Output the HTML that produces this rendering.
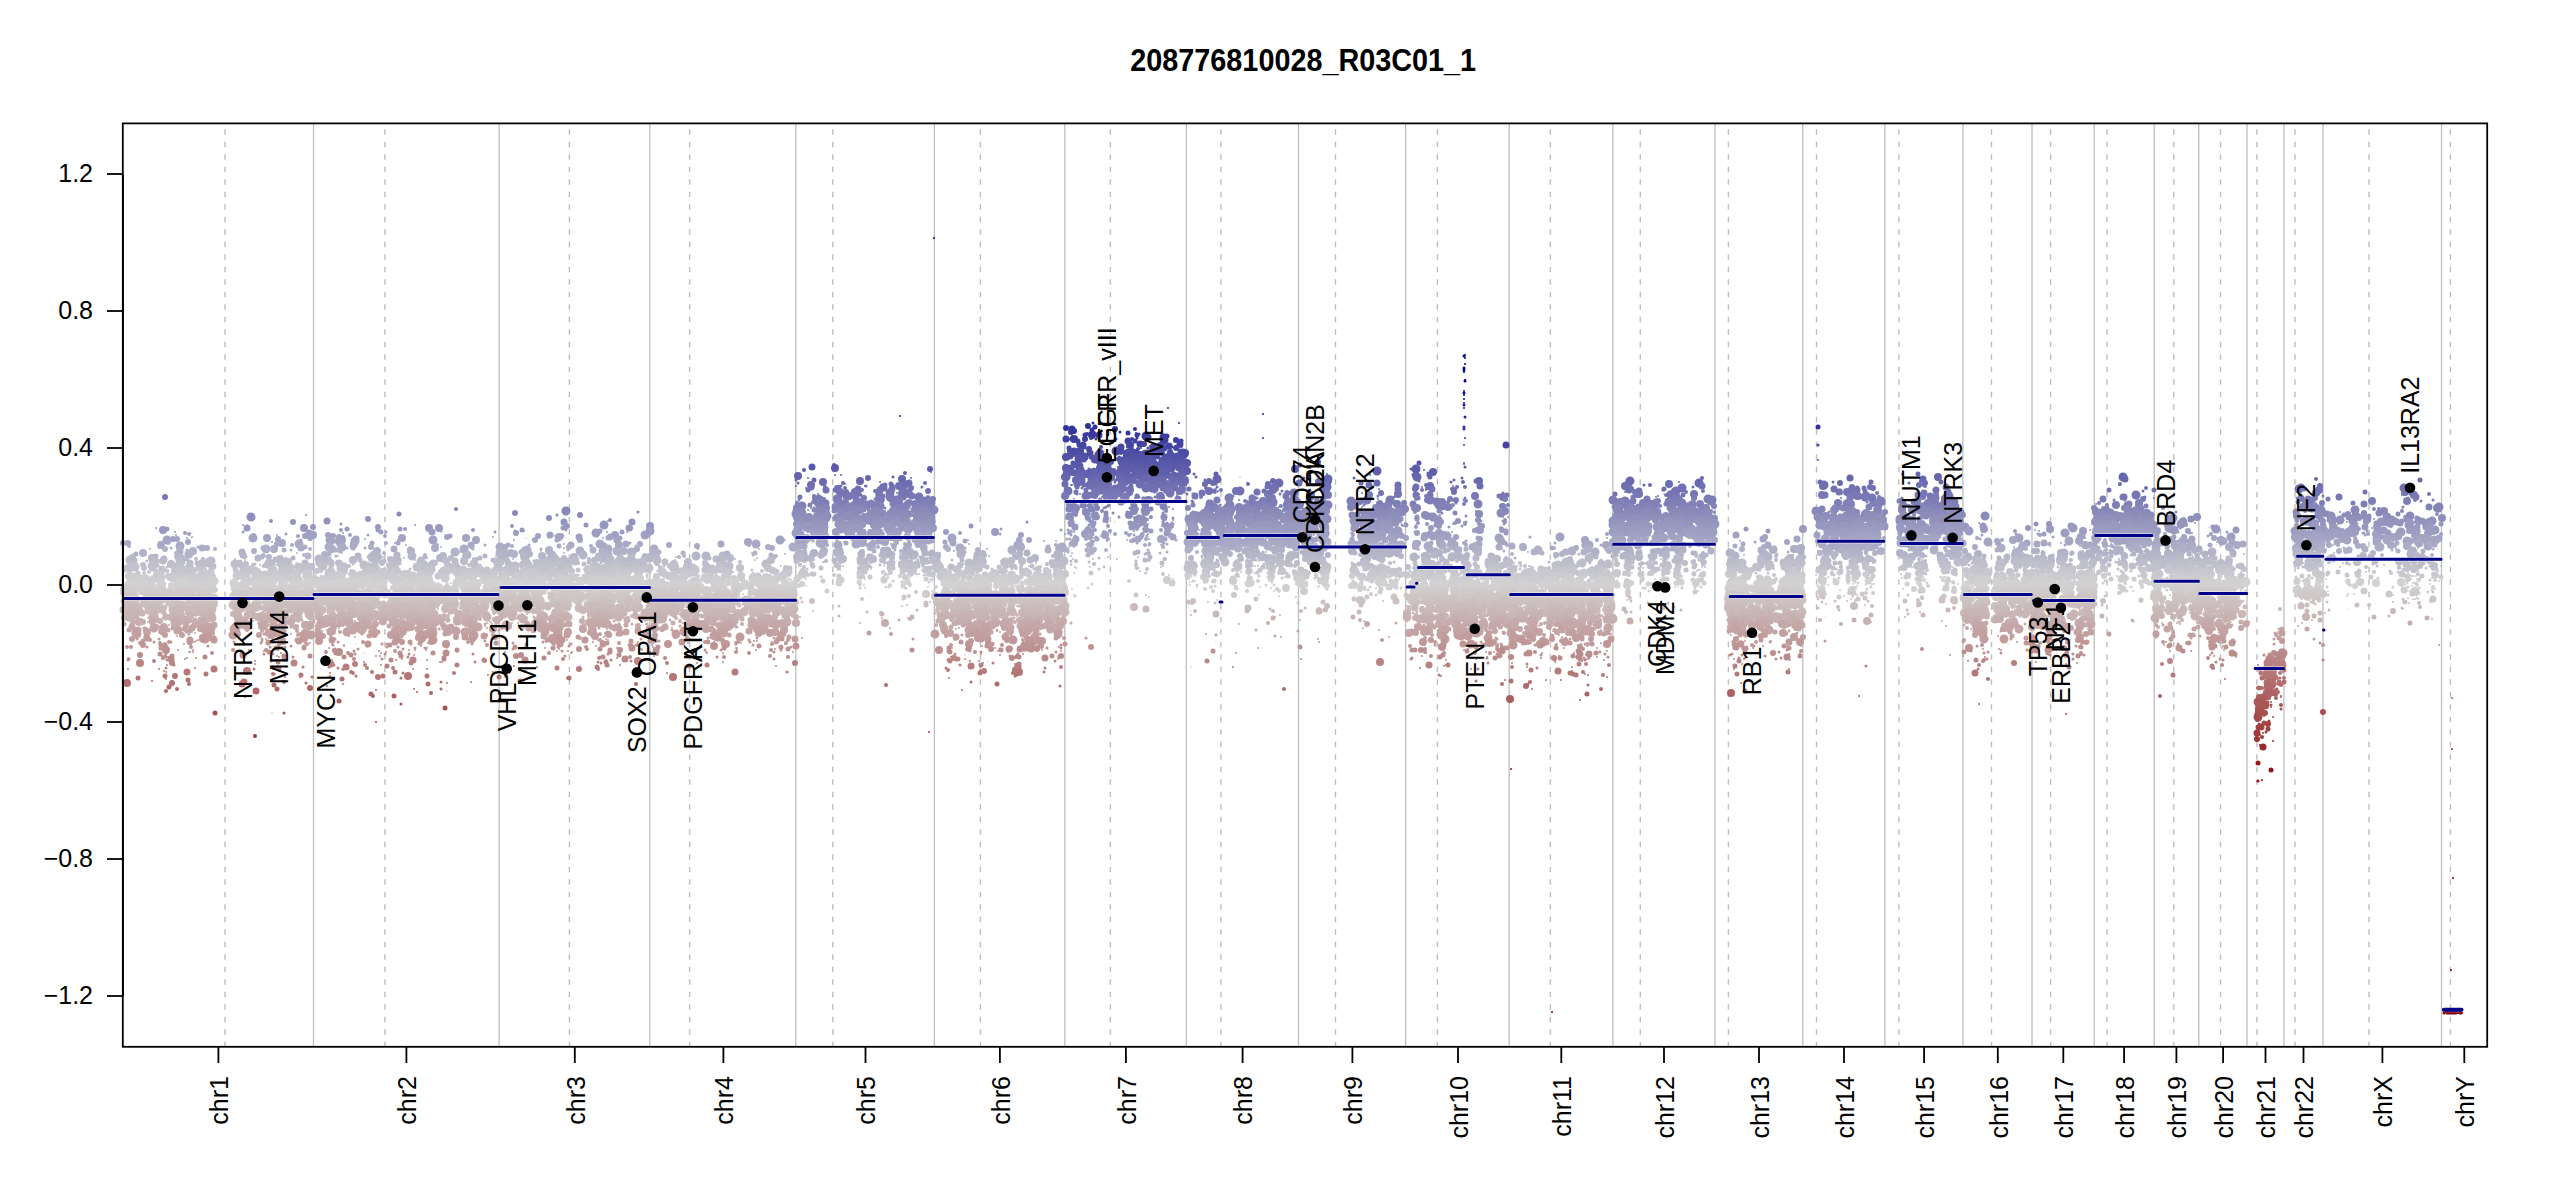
<!DOCTYPE html><html><head><meta charset="utf-8"><style>html,body{margin:0;padding:0;background:#fff;overflow:hidden}svg{display:block}text{font-family:"Liberation Sans",sans-serif}</style></head><body><svg width="2550" height="1200" viewBox="0 0 2550 1200"><g stroke="#bebebe" stroke-width="1.3" fill="none"><path d="M313.5 123V1047"/><path d="M499.1 123V1047"/><path d="M649.8 123V1047"/><path d="M795.8 123V1047"/><path d="M934.4 123V1047"/><path d="M1064.8 123V1047"/><path d="M1186.3 123V1047"/><path d="M1298.5 123V1047"/><path d="M1405.6 123V1047"/><path d="M1509.2 123V1047"/><path d="M1612.9 123V1047"/><path d="M1715.0 123V1047"/><path d="M1802.8 123V1047"/><path d="M1884.9 123V1047"/><path d="M1962.9 123V1047"/><path d="M2032.0 123V1047"/><path d="M2094.2 123V1047"/><path d="M2154.2 123V1047"/><path d="M2198.8 123V1047"/><path d="M2247.0 123V1047"/><path d="M2283.9 123V1047"/><path d="M2323.0 123V1047"/><path d="M2441.5 123V1047"/></g><g stroke="#bebebe" stroke-width="1.4" fill="none" stroke-dasharray="5.5 7" stroke-dashoffset="6.2"><path d="M225.0 123V1047"/><path d="M384.9 123V1047"/><path d="M569.4 123V1047"/><path d="M689.6 123V1047"/><path d="M832.8 123V1047"/><path d="M980.4 123V1047"/><path d="M1110.4 123V1047"/><path d="M1220.9 123V1047"/><path d="M1335.5 123V1047"/><path d="M1437.4 123V1047"/><path d="M1550.4 123V1047"/><path d="M1640.3 123V1047"/><path d="M1728.4 123V1047"/><path d="M1816.5 123V1047"/><path d="M1898.9 123V1047"/><path d="M1991.5 123V1047"/><path d="M2050.6 123V1047"/><path d="M2107.0 123V1047"/><path d="M2173.8 123V1047"/><path d="M2220.5 123V1047"/><path d="M2256.9 123V1047"/><path d="M2295.0 123V1047"/><path d="M2369.0 123V1047"/><path d="M2450.4 123V1047"/></g><g fill="none" stroke-linecap="round"><path stroke="#00008b" stroke-width="2" d="M934 238h0"/><path stroke="#00008b" stroke-width="2" d="M1465 355h0"/><path stroke="#00008b" stroke-width="3" d="M1464 356h0"/><path stroke="#00008b" stroke-width="2" d="M1465 358h0"/><path stroke="#00008b" stroke-width="2" d="M1465 364h0"/><path stroke="#00008b" stroke-width="3" d="M1464 368h0"/><path stroke="#00008b" stroke-width="2" d="M1464 372h0"/><path stroke="#00008b" stroke-width="3" d="M1464 370h0"/><path stroke="#00008b" stroke-width="2" d="M1465 380h0"/><path stroke="#00008b" stroke-width="3" d="M1465 381h0"/><path stroke="#0c0c8f" stroke-width="2" d="M1464 391h0m0 2h0"/><path stroke="#0c0c8f" stroke-width="3" d="M1464 393h0"/><path stroke="#0f0f90" stroke-width="2" d="M1464 395h0"/><path stroke="#121291" stroke-width="2" d="M1464 399h0"/><path stroke="#191993" stroke-width="2" d="M1464 403h0"/><path stroke="#1c1c94" stroke-width="3" d="M1464 405h0"/><path stroke="#1f1f96" stroke-width="2" d="M1168 408h0m296 0h0"/><path stroke="#222297" stroke-width="2" d="M1263 414h0"/><path stroke="#252598" stroke-width="2" d="M900 416h0"/><path stroke="#252598" stroke-width="3" d="M1465 417h0"/><path stroke="#2b2b9a" stroke-width="2" d="M1179 423h0"/><path stroke="#2b2b9a" stroke-width="3" d="M1093 423h0"/><path stroke="#31319c" stroke-width="3" d="M1072 429h0m392 -2h0m0 2h0"/><path stroke="#31319c" stroke-width="4" d="M1135 429h0"/><path stroke="#31319c" stroke-width="5" d="M1095 427h0m723 0h0"/><path stroke="#31319c" stroke-width="6" d="M1066 428h0m22 -2h0m27 3h0"/><path stroke="#34349d" stroke-width="3" d="M1071 431h0"/><path stroke="#34349d" stroke-width="5" d="M1092 430h0"/><path stroke="#34349d" stroke-width="6" d="M1071 432h0m3 -1h0"/><path stroke="#34349d" stroke-width="7" d="M1072 429h0"/><path stroke="#37379e" stroke-width="2" d="M1136 433h0"/><path stroke="#37379e" stroke-width="3" d="M1120 432h0m19 2h0m26 1h0"/><path stroke="#37379e" stroke-width="4" d="M1087 434h0m7 -1h0m53 2h0"/><path stroke="#37379e" stroke-width="5" d="M1128 433h0"/><path stroke="#37379e" stroke-width="8" d="M1092 435h0"/><path stroke="#3b3b9f" stroke-width="2" d="M1465 438h0"/><path stroke="#3b3b9f" stroke-width="3" d="M1072 437h0m65 1h0m12 -2h0"/><path stroke="#3b3b9f" stroke-width="4" d="M1073 437h0m75 0h0"/><path stroke="#3b3b9f" stroke-width="5" d="M1085 435h0m52 0h0m12 2h0m18 -1h0"/><path stroke="#3b3b9f" stroke-width="7" d="M1099 435h0m64 2h0"/><path stroke="#3b3b9f" stroke-width="9" d="M1146 436h0"/><path stroke="#3e3ea0" stroke-width="2" d="M1136 440h0m8 -2h0m119 0h0"/><path stroke="#3e3ea0" stroke-width="3" d="M1071 439h0m3 1h0m22 -1h0m20 0h0m18 1h0"/><path stroke="#3e3ea0" stroke-width="4" d="M1071 439h0m20 -1h0m41 1h0m17 0h0"/><path stroke="#3e3ea0" stroke-width="5" d="M1078 441h0"/><path stroke="#3e3ea0" stroke-width="6" d="M1085 439h0m91 1h0"/><path stroke="#3e3ea0" stroke-width="7" d="M1066 439h0m81 -1h0"/><path stroke="#3e3ea0" stroke-width="8" d="M1074 439h0"/><path stroke="#3e3ea0" stroke-width="9" d="M1164 440h0"/><path stroke="#4141a1" stroke-width="2" d="M1077 443h0m2 1h0m102 -1h0"/><path stroke="#4141a1" stroke-width="5" d="M1135 441h0m46 0h0"/><path stroke="#4141a1" stroke-width="7" d="M1128 441h0m12 3h0"/><path stroke="#4444a2" stroke-width="2" d="M1150 446h0m30 0h0m284 -1h0"/><path stroke="#4444a2" stroke-width="3" d="M1079 446h0m93 1h0m646 -2h0"/><path stroke="#4444a2" stroke-width="4" d="M1101 447h0m62 -3h0m18 2h0"/><path stroke="#4444a2" stroke-width="5" d="M1079 445h0m98 2h0"/><path stroke="#4444a2" stroke-width="6" d="M1142 444h0m2 0h0m16 1h0m1 0h0"/><path stroke="#4444a2" stroke-width="7" d="M1083 445h0m70 2h0m16 -1h0m11 -2h0m326 1h0"/><path stroke="#4444a2" stroke-width="8" d="M1130 445h0"/><path stroke="#4747a3" stroke-width="2" d="M1080 449h0m47 -2h0m4 0h0m8 2h0m2 -1h0m14 1h0m16 1h0"/><path stroke="#4747a3" stroke-width="3" d="M1148 448h0m5 0h0m5 -1h0"/><path stroke="#4747a3" stroke-width="4" d="M1132 449h0m6 0h0"/><path stroke="#4747a3" stroke-width="5" d="M1069 448h0m15 -1h0m77 3h0"/><path stroke="#4747a3" stroke-width="6" d="M1089 449h0m66 1h0m3 -1h0m18 -1h0"/><path stroke="#4747a3" stroke-width="7" d="M1121 447h0m39 1h0m4 0h0"/><path stroke="#4747a3" stroke-width="9" d="M1154 449h0"/><path stroke="#4a4aa4" stroke-width="2" d="M1083 452h0"/><path stroke="#4a4aa4" stroke-width="3" d="M1089 452h0m29 -2h0m0 2h0m2 0h0m43 0h0m8 1h0"/><path stroke="#4a4aa4" stroke-width="4" d="M1071 453h0m7 -3h0m21 1h0m70 2h0"/><path stroke="#4a4aa4" stroke-width="5" d="M1118 452h0m1 0h0m61 -1h0"/><path stroke="#4a4aa4" stroke-width="6" d="M1070 451h0m66 2h0m24 -2h0m10 1h0"/><path stroke="#4a4aa4" stroke-width="7" d="M1074 451h0m16 2h0m31 -2h0m7 1h0"/><path stroke="#4a4aa4" stroke-width="8" d="M1080 451h0m55 2h0"/><path stroke="#4a4aa4" stroke-width="9" d="M1116 451h0m67 2h0"/><path stroke="#4d4da5" stroke-width="1" d="M1150 455h0"/><path stroke="#4d4da5" stroke-width="2" d="M1065 455h0m14 -1h0m1 0h0m2 2h0m39 -2h0m29 1h0"/><path stroke="#4d4da5" stroke-width="3" d="M1068 455h0m62 0h0m8 -1h0m2 1h0m11 -2h0"/><path stroke="#4d4da5" stroke-width="4" d="M1069 454h0m31 2h0m25 -2h0m23 2h0"/><path stroke="#4d4da5" stroke-width="5" d="M1156 455h0"/><path stroke="#4d4da5" stroke-width="6" d="M1073 454h0m29 2h0m38 -1h0m22 -2h0m8 1h0m1 0h0"/><path stroke="#4d4da5" stroke-width="7" d="M1100 454h0m31 -1h0m15 0h0m35 3h0"/><path stroke="#4d4da5" stroke-width="8" d="M1078 454h0m1 2h0m20 -1h0m1 -2h0m27 1h0m6 2h0m7 -1h0m5 -1h0m6 -1h0m34 0h0"/><path stroke="#4d4da5" stroke-width="9" d="M1099 455h0m56 -1h0m29 0h0"/><path stroke="#5050a6" stroke-width="1" d="M1068 457h0"/><path stroke="#5050a6" stroke-width="2" d="M1120 457h0m23 1h0m28 0h0"/><path stroke="#5050a6" stroke-width="3" d="M1092 458h0m27 -1h0m19 1h0m26 1h0m18 -1h0"/><path stroke="#5050a6" stroke-width="4" d="M1080 457h0m38 2h0m6 0h0m1 -3h0m5 1h0m8 2h0m32 -1h0"/><path stroke="#5050a6" stroke-width="5" d="M1091 457h0m9 0h0m2 0h0m23 1h0m5 0h0m17 -1h0m4 0h0m7 0h0m21 1h0"/><path stroke="#5050a6" stroke-width="6" d="M1129 458h0m8 -1h0"/><path stroke="#5050a6" stroke-width="7" d="M1070 456h0m64 0h0m31 1h0m11 0h0"/><path stroke="#5050a6" stroke-width="8" d="M1066 457h0m18 0h0m50 0h0m6 0h0m2 0h0"/><path stroke="#5050a6" stroke-width="9" d="M1083 458h0m1 -1h0m57 0h0m11 1h0m18 -2h0m7 1h0"/><path stroke="#5353a7" stroke-width="1" d="M1086 462h0"/><path stroke="#5353a7" stroke-width="2" d="M1103 460h0m25 0h0m15 -1h0m25 2h0m3 -1h0m0 1h0m4 1h0m8 -1h0m635 -1h0"/><path stroke="#5353a7" stroke-width="3" d="M1101 460h0m1 0h0m22 0h0m18 0h0m10 2h0m35 -1h0"/><path stroke="#5353a7" stroke-width="4" d="M1098 461h0m8 0h0m27 0h0m3 -1h0m10 -1h0m2 3h0"/><path stroke="#5353a7" stroke-width="5" d="M1078 460h0m25 1h0m17 1h0m8 -3h0m15 2h0m10 -1h0m15 1h0"/><path stroke="#5353a7" stroke-width="6" d="M1078 462h0m1 -2h0m32 2h0m58 -2h0m15 1h0"/><path stroke="#5353a7" stroke-width="7" d="M1136 460h0m4 1h0m7 0h0"/><path stroke="#5353a7" stroke-width="8" d="M1100 460h0m68 1h0"/><path stroke="#5353a7" stroke-width="9" d="M1079 459h0m16 0h0m28 2h0m25 -2h0m15 2h0m7 1h0"/><path stroke="#5656a8" stroke-width="1" d="M1099 465h0m60 0h0"/><path stroke="#5656a8" stroke-width="2" d="M1097 463h0m30 2h0m1 -2h0m4 2h0m19 -3h0m2 1h0m10 0h0m5 1h0m12 -2h0m1 1h0m1 1h0m3 1h0m279 -2h0m0 1h0"/><path stroke="#5656a8" stroke-width="3" d="M1139 463h0m5 0h0m19 1h0m17 0h0m190 0h0"/><path stroke="#5656a8" stroke-width="4" d="M1125 465h0m22 -3h0m33 1h0m0 2h0"/><path stroke="#5656a8" stroke-width="5" d="M1073 463h0m48 1h0m10 -1h0m25 1h0m9 -1h0m4 0h0m0 1h0m6 -1h0m7 1h0m118 1h0m119 -2h0"/><path stroke="#5656a8" stroke-width="6" d="M1077 464h0m54 -1h0m1 1h0m37 -1h0m10 0h0m139 -1h0"/><path stroke="#5656a8" stroke-width="7" d="M1132 462h0m9 0h0m15 3h0m9 -2h0m1 0h0m11 0h0m2 0h0m1 1h0"/><path stroke="#5656a8" stroke-width="8" d="M1101 464h0m25 -1h0m5 0h0m19 -1h0m13 2h0m6 -1h0m16 2h0m2 -2h0"/><path stroke="#5656a8" stroke-width="9" d="M1107 465h0m42 0h0m3 0h0m1 -2h0m9 1h0"/><path stroke="#5959a9" stroke-width="1" d="M1126 466h0m0 1h0"/><path stroke="#5959a9" stroke-width="2" d="M1101 465h0m17 2h0m16 -1h0m3 0h0m12 2h0m8 -2h0m3 0h0m4 0h0m2 2h0m9 -1h0m6 -1h0m2 -1h0"/><path stroke="#5959a9" stroke-width="3" d="M1137 466h0m5 1h0m10 -1h0m12 0h0m3 0h0m2 0h0m296 1h0"/><path stroke="#5959a9" stroke-width="4" d="M834 465h0m240 1h0m33 0h0m13 2h0m4 -2h0m7 0h0m17 1h0m2 -1h0m13 1h0"/><path stroke="#5959a9" stroke-width="5" d="M1074 466h0m6 1h0m65 -1h0m36 -1h0"/><path stroke="#5959a9" stroke-width="6" d="M1076 465h0m24 0h0m2 0h0m41 1h0m8 1h0m16 -1h0m4 -1h0"/><path stroke="#5959a9" stroke-width="7" d="M812 467h0m268 -1h0m43 0h0m15 0h0"/><path stroke="#5959a9" stroke-width="8" d="M1066 468h0m69 -1h0m35 -2h0m0 2h0m2 0h0m7 -1h0"/><path stroke="#5959a9" stroke-width="9" d="M1101 468h0m23 -3h0m27 1h0m12 -1h0m8 3h0"/><path stroke="#5c5cab" stroke-width="1" d="M1184 469h0"/><path stroke="#5c5cab" stroke-width="2" d="M1093 469h0m2 1h0m6 -1h0m14 1h0m14 -2h0m20 0h0m29 1h0m246 1h0"/><path stroke="#5c5cab" stroke-width="3" d="M1080 469h0m9 0h0m5 0h0m27 1h0m2 -1h0m6 1h0m2 -2h0m6 0h0m2 1h0m13 1h0m8 -1h0m2 1h0m1 0h0m248 -1h0"/><path stroke="#5c5cab" stroke-width="4" d="M804 470h0m265 -2h0m33 1h0m44 0h0m18 1h0"/><path stroke="#5c5cab" stroke-width="5" d="M1065 468h0m58 2h0m5 0h0m12 0h0m11 -1h0m2 0h0"/><path stroke="#5c5cab" stroke-width="6" d="M930 469h0m179 0h0m42 2h0"/><path stroke="#5c5cab" stroke-width="7" d="M1071 468h0m31 2h0m0 1h0m19 0h0m5 -1h0m25 -1h0m18 0h0m10 -1h0m5 2h0"/><path stroke="#5c5cab" stroke-width="8" d="M835 468h0m265 0h0m26 2h0m57 1h0m2 -3h0m2 3h0m108 -2h0"/><path stroke="#5c5cab" stroke-width="9" d="M1080 470h0m27 0h0m14 1h0m2 -3h0m8 0h0m285 1h0"/><path stroke="#5f5fac" stroke-width="1" d="M1120 474h0m67 -3h0"/><path stroke="#5f5fac" stroke-width="2" d="M931 472h0m135 0h0m8 1h0m47 0h0m18 -1h0m12 1h0m22 -1h0m10 2h0"/><path stroke="#5f5fac" stroke-width="3" d="M1065 474h0m12 -2h0m4 -1h0m13 2h0m50 -1h0m5 -1h0m2 2h0m2 -1h0m41 2h0m234 -1h0"/><path stroke="#5f5fac" stroke-width="4" d="M905 473h0m164 0h0m40 0h0m29 -2h0m11 1h0m4 0h0m33 0h0"/><path stroke="#5f5fac" stroke-width="5" d="M1070 472h0m1 1h0m29 -2h0m0 1h0m23 -1h0m14 1h0m24 0h0m21 0h0m34 2h0"/><path stroke="#5f5fac" stroke-width="6" d="M1073 473h0m16 -1h0m13 -1h0m38 2h0m27 1h0"/><path stroke="#5f5fac" stroke-width="7" d="M1082 472h0m10 0h0m28 1h0"/><path stroke="#5f5fac" stroke-width="8" d="M1067 472h0m10 1h0m10 1h0m5 0h0m3 -2h0m18 0h0m26 0h0m7 0h0m7 -1h0m280 1h0"/><path stroke="#5f5fac" stroke-width="9" d="M1126 472h0m10 2h0m8 -2h0m16 0h0m4 1h0m1 -1h0m212 -1h0"/><path stroke="#6363ad" stroke-width="1" d="M1094 477h0m76 -2h0"/><path stroke="#6363ad" stroke-width="2" d="M798 476h0m37 -1h0m6 0h0m230 0h0m13 0h0m39 -1h0m1 3h0m2 -2h0m4 2h0m21 -2h0m20 0h0m13 0h0m0 1h0m143 -2h0m43 1h0m532 -1h0"/><path stroke="#6363ad" stroke-width="3" d="M893 477h0m172 -3h0m0 1h0m25 1h0m8 -1h0m22 1h0m17 -1h0m3 1h0m9 -1h0m2 1h0m1 -2h0m6 2h0m19 -2h0m0 1h0m141 1h0"/><path stroke="#6363ad" stroke-width="4" d="M1077 475h0m23 -1h0m3 1h0m14 0h0m6 0h0m20 1h0m20 1h0"/><path stroke="#6363ad" stroke-width="5" d="M1080 474h0m14 3h0m9 -1h0m21 -1h0m21 1h0m4 -1h0m4 1h0m5 0h0m10 0h0m11 0h0m235 -1h0m15 0h0m1 2h0m488 -3h0"/><path stroke="#6363ad" stroke-width="6" d="M1079 477h0m12 -1h0m1 0h0m28 0h0m10 0h0m8 0h0m20 -1h0m7 1h0m5 0h0"/><path stroke="#6363ad" stroke-width="7" d="M1107 474h0m17 3h0m17 0h0m14 -1h0m19 -1h0m4 2h0"/><path stroke="#6363ad" stroke-width="8" d="M798 476h0m282 0h0m12 -1h0m56 2h0"/><path stroke="#6363ad" stroke-width="9" d="M1079 474h0m2 1h0m12 0h0m3 -1h0m0 1h0m5 0h0m38 0h0m43 -1h0"/><path stroke="#6666ae" stroke-width="1" d="M1079 480h0m161 -3h0"/><path stroke="#6666ae" stroke-width="2" d="M808 478h0m97 0h0m6 0h0m166 -1h0m24 1h0m23 0h0m8 0h0m20 1h0m10 -1h0m3 -1h0m108 3h0"/><path stroke="#6666ae" stroke-width="3" d="M1081 479h0m14 -1h0m11 2h0m4 -3h0m19 1h0m5 2h0m6 -2h0m28 -1h0m10 3h0m4 -2h0m5 0h0m9 -1h0m108 1h0m50 0h0m65 -1h0m35 3h0m8 -2h0"/><path stroke="#6666ae" stroke-width="4" d="M1066 478h0m40 1h0m15 1h0m1 -1h0m1 -2h0m179 3h0m400 -2h0m614 1h0"/><path stroke="#6666ae" stroke-width="5" d="M814 480h0m264 -1h0m1 -2h0m21 2h0m18 0h0"/><path stroke="#6666ae" stroke-width="6" d="M868 478h0m232 2h0m2 -1h0m18 -2h0m7 2h0m16 0h0m36 0h0"/><path stroke="#6666ae" stroke-width="7" d="M1091 479h0m52 -1h0m4 1h0m14 0h0m11 0h0m155 0h0m523 -1h0m73 1h0m202 0h0"/><path stroke="#6666ae" stroke-width="8" d="M902 479h0m163 -2h0m29 2h0m16 -1h0m1 -1h0m10 1h0m27 0h0m5 0h0m27 0h0m758 -1h0"/><path stroke="#6666ae" stroke-width="9" d="M1066 477h0m15 1h0m42 1h0m21 -1h0m73 1h0m111 0h0m89 -2h0m706 0h0"/><path stroke="#6969af" stroke-width="1" d="M1247 482h0m118 0h0"/><path stroke="#6969af" stroke-width="2" d="M880 482h0m203 0h0m9 -1h0m30 2h0m6 0h0m17 -1h0m19 -1h0m15 -1h0m447 2h0m53 0h0"/><path stroke="#6969af" stroke-width="3" d="M796 480h0m66 1h0m219 -1h0m24 1h0m10 -1h0m0 1h0m0 1h0m22 1h0m3 -2h0m13 0h0m52 -1h0m96 2h0m118 -1h0m32 1h0m178 -2h0m0 2h0m204 0h0m76 1h0"/><path stroke="#6969af" stroke-width="4" d="M843 483h0m82 0h0m201 0h0m35 -1h0m4 1h0m6 -2h0m292 1h0m458 -1h0"/><path stroke="#6969af" stroke-width="5" d="M1126 482h0m23 -2h0m14 0h0m11 1h0m302 0h0m344 1h0m51 0h0m70 0h0m479 -2h0"/><path stroke="#6969af" stroke-width="6" d="M908 483h0m192 0h0m5 -1h0m16 -2h0m9 1h0m4 0h0m8 0h0m18 2h0m13 -2h0m8 1h0m28 -1h0m64 0h0m567 2h0"/><path stroke="#6969af" stroke-width="7" d="M1108 480h0m26 0h0m19 1h0m1 1h0m30 1h0m193 0h0"/><path stroke="#6969af" stroke-width="8" d="M823 482h0m37 -1h0m216 -1h0m23 3h0m1 -2h0m22 -1h0m29 0h0m2 1h0m5 -1h0m1 2h0m4 -1h0m22 0h0m134 1h0m9 -1h0m151 0h0"/><path stroke="#6969af" stroke-width="9" d="M1081 481h0m15 0h0m2 0h0m1 0h0m74 -1h0m457 1h0m69 2h0"/><path stroke="#6c6cb0" stroke-width="1" d="M1479 486h0"/><path stroke="#6c6cb0" stroke-width="2" d="M796 486h0m49 -2h0m20 2h0m206 -1h0m1 0h0m42 1h0m10 -2h0m1 0h0m16 0h0m25 0h0m8 0h0m29 1h0m422 0h0m494 0h0"/><path stroke="#6c6cb0" stroke-width="3" d="M798 483h0m13 2h0m268 0h0m11 -1h0m13 1h0m24 -1h0m31 1h0m27 0h0m22 -2h0m9 1h0m200 1h0m228 0h0m279 -1h0m0 1h0m22 1h0"/><path stroke="#6c6cb0" stroke-width="4" d="M901 483h0m9 2h0m182 -1h0m9 1h0m2 1h0m20 -2h0m15 0h0m25 -1h0m85 1h0m178 1h0m224 0h0m470 -1h0"/><path stroke="#6c6cb0" stroke-width="5" d="M882 486h0m3 -1h0m6 -1h0m193 1h0m16 -1h0m7 0h0m14 -1h0m10 3h0m46 -3h0m4 2h0m180 -2h0"/><path stroke="#6c6cb0" stroke-width="6" d="M1093 483h0m1 1h0m1 0h0m4 1h0m10 -1h0m50 0h0m2 0h0m9 2h0m35 -2h0m8 -1h0m55 1h0m651 1h0m6 -2h0m395 3h0"/><path stroke="#6c6cb0" stroke-width="7" d="M905 485h0m4 -2h0m156 1h0m12 0h0m18 1h0m3 0h0m49 1h0m3 -2h0m7 1h0m142 -2h0m70 2h0m29 0h0m82 1h0"/><path stroke="#6c6cb0" stroke-width="8" d="M811 485h0m280 0h0m31 -1h0m32 -1h0m12 1h0m161 2h0m103 0h0m239 -2h0"/><path stroke="#6c6cb0" stroke-width="9" d="M1090 485h0m10 0h0m40 -1h0m30 1h0m109 -2h0m545 2h0"/><path stroke="#6f6fb1" stroke-width="1" d="M1096 488h0m5 0h0m604 -1h0"/><path stroke="#6f6fb1" stroke-width="2" d="M806 488h0m96 -1h0m2 0h0m161 2h0m34 -1h0m7 0h0m56 -2h0m26 2h0m28 1h0m163 0h0m43 -2h0m31 -1h0m223 3h0m4 0h0m191 -2h0m74 1h0"/><path stroke="#6f6fb1" stroke-width="3" d="M841 486h0m25 0h0m56 1h0m160 1h0m22 -2h0m3 1h0m56 0h0m18 0h0m36 0h0m467 1h0m9 -1h0"/><path stroke="#6f6fb1" stroke-width="4" d="M825 487h0m14 0h0m6 1h0m38 1h0m10 -3h0m173 1h0m25 -1h0m62 1h0m21 0h0m32 1h0m221 0h0m3 0h0m27 -1h0m8 0h0m369 2h0m91 -3h0m221 2h0"/><path stroke="#6f6fb1" stroke-width="5" d="M1077 487h0m74 0h0m20 0h0m18 2h0m78 -2h0m60 0h0m530 1h0m7 0h0m440 1h0"/><path stroke="#6f6fb1" stroke-width="6" d="M837 488h0m65 -2h0m9 2h0m198 -1h0m13 0h0m7 2h0m496 -2h0m227 0h0m18 0h0m3 1h0"/><path stroke="#6f6fb1" stroke-width="7" d="M811 487h0m47 2h0m26 -1h0m8 1h0m202 -1h0m4 1h0m8 0h0m9 -1h0m5 -1h0m3 0h0m0 1h0m32 1h0m8 -1h0m6 -2h0m6 2h0m241 -1h0m286 -1h0m132 3h0m112 -2h0m355 0h0"/><path stroke="#6f6fb1" stroke-width="8" d="M899 486h0m200 2h0m21 -1h0m32 0h0m121 1h0m2 0h0m51 1h0m299 -3h0m198 0h0"/><path stroke="#6f6fb1" stroke-width="9" d="M1146 488h0m6 0h0m175 -1h0m302 2h0m53 -1h0m722 0h0"/><path stroke="#7272b2" stroke-width="1" d="M1933 490h0"/><path stroke="#7272b2" stroke-width="2" d="M846 491h0m47 0h0m192 -1h0m127 1h0m6 0h0m19 -1h0m189 0h0m199 2h0m233 0h0m91 -1h0m460 -1h0"/><path stroke="#7272b2" stroke-width="3" d="M881 490h0m48 0h0m138 0h0m40 1h0m46 0h0m2 1h0m29 0h0m52 0h0m46 -1h0m381 -1h0m176 1h0m97 -2h0m207 2h0"/><path stroke="#7272b2" stroke-width="4" d="M862 490h0m13 1h0m195 0h0m32 1h0m119 -2h0m201 0h0m30 -1h0m225 0h0m26 2h0m150 -2h0m555 1h0"/><path stroke="#7272b2" stroke-width="5" d="M808 490h0m27 0h0m67 2h0m174 0h0m10 -2h0m15 -1h0m20 1h0m2 0h0m5 1h0m86 0h0m50 0h0m400 -2h0m176 2h0m25 0h0m244 -1h0m45 0h0m211 2h0"/><path stroke="#7272b2" stroke-width="6" d="M846 492h0m34 -3h0m48 2h0m170 -2h0m15 2h0m70 -2h0m232 0h0m39 1h0m0 2h0m177 -3h0m43 2h0"/><path stroke="#7272b2" stroke-width="7" d="M826 490h0m12 0h0m419 2h0m67 -1h0m74 -2h0m34 0h0m207 2h0m200 1h0m12 -2h0m6 0h0m79 0h0m12 2h0"/><path stroke="#7272b2" stroke-width="8" d="M855 492h0m275 -2h0m37 0h0m3 0h0m10 1h0m29 0h0m27 0h0m37 -1h0m52 2h0m994 -2h0m86 2h0"/><path stroke="#7272b2" stroke-width="9" d="M904 492h0m164 -1h0m33 -1h0m139 1h0m436 0h0m177 0h0m446 -2h0"/><path stroke="#7575b3" stroke-width="1" d="M1074 494h0m196 0h0m393 0h0m215 -2h0"/><path stroke="#7575b3" stroke-width="2" d="M818 494h0m33 0h0m46 -1h0m183 1h0m97 -1h0m0 2h0m38 -2h0m2 -1h0m145 1h0m57 1h0m197 -1h0m62 0h0m6 2h0m12 -1h0m173 1h0m69 0h0m379 -1h0m85 1h0"/><path stroke="#7575b3" stroke-width="3" d="M861 495h0m42 -3h0m174 2h0m16 0h0m32 0h0m62 0h0m6 0h0m16 -1h0m71 1h0m6 -2h0m113 2h0m104 -1h0m907 1h0"/><path stroke="#7575b3" stroke-width="4" d="M1105 492h0m182 0h0m379 3h0m20 -3h0m153 0h0m2 1h0m36 0h0m552 1h0"/><path stroke="#7575b3" stroke-width="5" d="M857 492h0m238 2h0m193 -1h0m143 2h0m184 -1h0m68 1h0"/><path stroke="#7575b3" stroke-width="6" d="M843 494h0m254 -2h0m14 0h0m19 1h0m31 2h0m220 -2h0m49 1h0m205 -2h0m232 3h0"/><path stroke="#7575b3" stroke-width="7" d="M855 495h0m24 0h0m212 0h0m29 -2h0m82 0h0m214 2h0m254 -1h0m155 1h0m93 0h0m6 -2h0"/><path stroke="#7575b3" stroke-width="8" d="M840 492h0m39 0h0m23 2h0m7 0h0m198 -2h0m12 1h0m149 1h0m43 1h0m87 -1h0m241 0h0m55 0h0m153 -2h0m3 2h0m466 -1h0m98 2h0"/><path stroke="#7575b3" stroke-width="9" d="M857 493h0m33 0h0m13 -1h0m4 1h0m189 -1h0m15 1h0m59 0h0m124 0h0m377 2h0m465 0h0"/><path stroke="#7878b4" stroke-width="2" d="M822 497h0m97 0h0m183 0h0m33 1h0m1 0h0m7 0h0m15 -2h0m135 2h0m16 -3h0m347 2h0m2 -1h0m21 -1h0m271 0h0m350 2h0"/><path stroke="#7878b4" stroke-width="3" d="M846 496h0m34 -1h0m11 2h0m230 -1h0m18 1h0m11 1h0m5 -1h0m16 -1h0m56 2h0m6 -2h0m145 0h0m16 1h0m37 -2h0m471 3h0m243 -1h0m178 -1h0"/><path stroke="#7878b4" stroke-width="4" d="M814 496h0m27 -1h0m40 1h0m11 2h0m36 -1h0m176 -1h0m18 0h0m79 1h0m225 -1h0m74 0h0m379 1h0"/><path stroke="#7878b4" stroke-width="5" d="M800 497h0m19 0h0m33 -1h0m31 0h0m21 2h0m206 0h0m18 -3h0m9 1h0m93 0h0m22 1h0m15 -2h0m232 1h0m8 -1h0m126 2h0m285 -1h0m5 0h0"/><path stroke="#7878b4" stroke-width="6" d="M165 497h0m682 1h0m17 0h0m231 -2h0m27 -1h0m515 0h0m214 1h0m71 0h0m1 1h0m13 -2h0"/><path stroke="#7878b4" stroke-width="7" d="M838 498h0m74 -2h0m175 -1h0m108 1h0m91 0h0m389 1h0m255 -1h0m5 1h0m188 0h0m1 0h0m177 1h0m38 -1h0m77 0h0"/><path stroke="#7878b4" stroke-width="8" d="M849 496h0m216 0h0m95 0h0m1 1h0m167 -2h0m41 0h0m106 1h0m28 1h0m174 1h0m145 -3h0m36 1h0m89 0h0"/><path stroke="#7878b4" stroke-width="9" d="M880 497h0m10 0h0m29 0h0m167 -1h0m28 0h0m742 -1h0m9 2h0m7 1h0m77 -2h0"/><path stroke="#7b7bb5" stroke-width="1" d="M825 500h0m79 -1h0m369 1h0m103 -2h0"/><path stroke="#7b7bb5" stroke-width="2" d="M841 499h0m0 2h0m37 -1h0m9 -2h0m32 3h0m155 -2h0m64 -1h0m24 2h0m77 0h0m74 -1h0m12 -1h0m53 1h0m268 2h0m2 -1h0m10 1h0m11 -3h0m172 0h0m62 2h0m16 1h0m15 -3h0m12 1h0m3 0h0m205 -1h0m262 2h0"/><path stroke="#7b7bb5" stroke-width="3" d="M799 500h0m40 -1h0m5 -1h0m31 1h0m6 2h0m12 -3h0m250 0h0m49 3h0m65 -3h0m39 0h0m65 1h0m78 2h0m14 -1h0m11 0h0m1 -2h0m158 1h0m3 1h0m29 0h0m2 1h0m221 -2h0m42 1h0m23 -1h0m1 1h0m11 0h0m159 0h0m11 0h0m172 -2h0m111 0h0m25 2h0"/><path stroke="#7b7bb5" stroke-width="4" d="M824 499h0m16 -1h0m43 2h0m219 1h0m125 -3h0m28 0h0m135 3h0m26 -2h0m17 0h0m33 2h0m154 -1h0m25 1h0m255 -1h0m18 -1h0m16 -1h0m208 2h0m158 0h0m115 0h0"/><path stroke="#7b7bb5" stroke-width="5" d="M824 501h0m31 -2h0m8 -1h0m32 2h0m36 -1h0m154 2h0m15 -1h0m25 -1h0m19 0h0m218 2h0m27 -1h0m29 -2h0m256 1h0m6 0h0m1 1h0m647 -1h0"/><path stroke="#7b7bb5" stroke-width="6" d="M815 498h0m7 2h0m15 -2h0m41 1h0m1 0h0m1 2h0m1 0h0m18 -3h0m34 1h0m173 -1h0m187 2h0m1 0h0m29 0h0m104 0h0m23 -1h0m6 1h0m49 -1h0m189 -1h0m237 3h0m13 -3h0m199 1h0m172 -1h0"/><path stroke="#7b7bb5" stroke-width="7" d="M925 500h0m225 0h0m28 -1h0m39 1h0m35 -2h0m16 3h0m41 -1h0m324 1h0m14 -2h0m203 -1h0m253 1h0m205 0h0"/><path stroke="#7b7bb5" stroke-width="8" d="M857 501h0m35 -2h0m256 1h0m115 1h0m9 -3h0"/><path stroke="#7b7bb5" stroke-width="9" d="M837 499h0m60 1h0m228 -1h0m104 -1h0m41 2h0m24 -1h0m57 2h0m16 -1h0m23 0h0m40 0h0m183 0h0m12 1h0m83 -2h0m4 1h0m223 -2h0m17 3h0"/><path stroke="#7e7eb6" stroke-width="1" d="M1678 503h0m166 0h0"/><path stroke="#7e7eb6" stroke-width="2" d="M853 502h0m3 -1h0m1 3h0m50 -3h0m1 3h0m3 -3h0m159 1h0m1 0h0m20 0h0m4 1h0m39 -1h0m4 0h0m131 2h0m185 -3h0m172 1h0m43 -1h0m12 1h0m243 1h0m3 1h0m7 -1h0m8 -1h0m3 1h0m1 -1h0m169 2h0"/><path stroke="#7e7eb6" stroke-width="3" d="M825 502h0m15 1h0m5 1h0m11 -1h0m41 0h0m1 -1h0m0 1h0m20 -2h0m156 2h0m17 1h0m58 -2h0m4 -1h0m8 2h0m1 0h0m2 -1h0m1 1h0m28 -1h0m15 -1h0m47 1h0m16 1h0m5 -1h0m11 0h0m22 1h0m19 -1h0m37 -1h0m0 2h0m18 1h0m4 -2h0m69 1h0m242 1h0m169 -2h0m69 0h0m380 2h0m105 -3h0"/><path stroke="#7e7eb6" stroke-width="4" d="M797 503h0m16 -1h0m27 -1h0m5 3h0m53 -1h0m1 0h0m7 0h0m24 0h0m141 1h0m62 -2h0m11 1h0m19 -1h0m3 0h0m79 -1h0m2 1h0m39 1h0m31 0h0m4 0h0m33 0h0m24 0h0m60 0h0m10 -1h0m16 2h0m168 -2h0m10 0h0m10 0h0m27 1h0m194 1h0m42 -3h0m18 2h0m19 -2h0m147 2h0"/><path stroke="#7e7eb6" stroke-width="5" d="M817 504h0m8 -2h0m46 0h0m24 2h0m200 -1h0m49 0h0m111 0h0m31 1h0m5 -1h0m32 -2h0m326 1h0m17 2h0m25 0h0m154 -1h0m32 0h0m6 0h0m16 -2h0m4 0h0m14 3h0m18 -1h0m363 -1h0m55 1h0"/><path stroke="#7e7eb6" stroke-width="6" d="M816 501h0m1 2h0m24 1h0m1 -1h0m4 0h0m63 -1h0m320 0h0m28 2h0m3 -1h0m41 1h0m16 -3h0m43 1h0m20 1h0m15 0h0m9 0h0m217 -2h0m7 2h0m30 -2h0m10 0h0m14 2h0m1 -1h0m10 1h0m154 -1h0m25 2h0m4 -1h0m27 -1h0m15 0h0m18 -1h0m8 2h0m378 0h0"/><path stroke="#7e7eb6" stroke-width="7" d="M826 503h0m95 1h0m152 0h0m48 -2h0m37 0h0m200 0h0m55 2h0m205 -2h0m93 0h0m203 0h0m450 2h0"/><path stroke="#7e7eb6" stroke-width="8" d="M822 504h0m23 0h0m54 -2h0m353 1h0m36 -1h0m9 0h0m100 2h0m45 -2h0m201 1h0m195 0h0m90 0h0m211 0h0m167 -1h0m66 -1h0m35 0h0"/><path stroke="#7e7eb6" stroke-width="9" d="M842 504h0m20 -1h0m63 1h0m6 -1h0m279 1h0m63 -2h0m16 1h0m148 -1h0m232 0h0m8 0h0m204 -1h0m64 1h0m5 1h0m4 -1h0m357 -1h0"/><path stroke="#8181b7" stroke-width="1" d="M1102 505h0m125 0h0"/><path stroke="#8181b7" stroke-width="2" d="M821 506h0m29 1h0m4 -2h0m3 0h0m6 0h0m16 0h0m12 0h0m2 1h0m1 -1h0m22 -1h0m2 0h0m4 3h0m3 -3h0m150 3h0m13 -2h0m43 -1h0m4 0h0m0 1h0m13 1h0m16 0h0m1 -2h0m4 3h0m82 0h0m16 -2h0m9 0h0m3 2h0m5 -3h0m40 3h0m40 -2h0m1 -1h0m36 3h0m1 -1h0m257 -1h0m2 1h0m10 -2h0m13 2h0m26 -2h0m126 2h0m12 -1h0m2 0h0m51 0h0m3 0h0m18 1h0m174 -2h0"/><path stroke="#8181b7" stroke-width="3" d="M850 504h0m2 2h0m18 0h0m11 0h0m19 -1h0m1 0h0m169 1h0m4 0h0m12 0h0m3 -2h0m1 2h0m18 0h0m1 -1h0m38 1h0m71 1h0m2 -2h0m5 1h0m3 -2h0m25 2h0m35 0h0m76 -1h0m249 2h0m11 -2h0m3 -1h0m15 3h0m6 -1h0m9 -1h0m1 0h0m180 1h0m104 0h0m172 -1h0m289 2h0"/><path stroke="#8181b7" stroke-width="4" d="M841 505h0m6 -1h0m13 1h0m3 2h0m211 -1h0m15 0h0m7 -1h0m1 2h0m46 -3h0m3 2h0m1 -1h0m63 0h0m5 1h0m15 1h0m10 -1h0m7 -1h0m8 0h0m26 1h0m8 0h0m20 -1h0m15 1h0m113 -1h0m2 2h0m14 -2h0m55 0h0m112 0h0m28 0h0m12 1h0m29 -1h0m191 -1h0m21 0h0m5 1h0m3 1h0m198 -1h0m17 2h0"/><path stroke="#8181b7" stroke-width="5" d="M810 505h0m44 1h0m6 1h0m32 -3h0m1 3h0m7 0h0m196 -3h0m49 1h0m48 0h0m64 -1h0m2 1h0m10 1h0m44 -2h0m8 2h0m69 -2h0m7 1h0m226 1h0m15 0h0m48 -1h0m2 0h0m147 2h0m66 0h0m21 -2h0m12 2h0m12 -3h0m7 2h0m4 0h0m189 0h0"/><path stroke="#8181b7" stroke-width="6" d="M840 504h0m2 3h0m11 -2h0m43 1h0m11 0h0m1 -1h0m307 1h0m55 0h0m86 0h0m146 0h0m1 0h0m169 -1h0m1 1h0m15 0h0m26 0h0m241 0h0"/><path stroke="#8181b7" stroke-width="7" d="M819 507h0m33 -1h0m2 -1h0m72 1h0m5 0h0m152 -1h0m51 1h0m29 0h0m1 1h0m64 -1h0m38 1h0m23 0h0m11 -1h0m52 -1h0m2 1h0m267 -1h0m6 2h0m24 -2h0m218 2h0m10 -2h0m67 1h0m5 -1h0m176 0h0m2 -1h0m177 2h0m123 1h0"/><path stroke="#8181b7" stroke-width="8" d="M837 506h0m14 1h0m7 -2h0m2 0h0m4 1h0m42 0h0m9 -2h0m4 3h0m151 -3h0m169 3h0m48 -2h0m37 -1h0m27 3h0m37 -2h0m60 2h0m252 -3h0m151 0h0m77 1h0m11 1h0m177 -1h0m23 0h0m164 2h0"/><path stroke="#8181b7" stroke-width="9" d="M802 506h0m65 -1h0m7 0h0m6 1h0m50 0h0m300 -1h0m27 2h0m9 -1h0m62 -1h0m26 -1h0m85 1h0m3 1h0m36 -2h0m139 1h0m4 -1h0m23 3h0m6 -1h0m5 -2h0m32 3h0m5 -2h0m156 0h0m29 -1h0"/><path stroke="#8484b8" stroke-width="1" d="M826 508h0m16 2h0m32 -3h0m211 1h0m608 0h0"/><path stroke="#8484b8" stroke-width="2" d="M800 508h0m8 2h0m3 -2h0m10 1h0m21 1h0m39 -2h0m10 1h0m17 -1h0m175 2h0m7 -2h0m58 0h0m15 1h0m2 -1h0m8 1h0m47 0h0m22 -1h0m6 2h0m2 -2h0m18 0h0m38 1h0m16 -1h0m32 0h0m8 -1h0m78 1h0m12 0h0m162 1h0m4 1h0m29 -3h0m11 3h0m13 0h0m6 -1h0m5 -1h0m5 2h0m6 -2h0m6 2h0m145 -1h0m5 0h0m25 0h0m50 1h0m9 -2h0m164 0h0m39 1h0"/><path stroke="#8484b8" stroke-width="3" d="M814 508h0m62 1h0m6 -1h0m3 0h0m34 0h0m166 2h0m19 -2h0m2 -1h0m24 1h0m12 2h0m6 -2h0m57 1h0m1 -2h0m51 3h0m27 -1h0m94 1h0m15 -1h0m112 -2h0m109 2h0m30 0h0m1 -1h0m12 2h0m25 -1h0m1 -1h0m1 1h0m7 0h0m1 -1h0m176 1h0m65 -2h0m15 1h0m158 1h0m23 0h0m176 1h0"/><path stroke="#8484b8" stroke-width="4" d="M456 509h0m404 0h0m9 1h0m4 -1h0m29 0h0m170 0h0m26 -1h0m39 1h0m29 0h0m40 0h0m64 0h0m14 1h0m3 -2h0m34 1h0m4 0h0m349 0h0m4 0h0m3 -1h0m4 2h0m16 -1h0m201 -1h0m2 0h0m11 1h0m19 1h0m2 -1h0m5 0h0m165 0h0m24 1h0m33 -2h0m138 1h0m17 -2h0m56 2h0m5 0h0"/><path stroke="#8484b8" stroke-width="5" d="M841 510h0m17 -1h0m50 -2h0m17 3h0m144 -2h0m21 2h0m1 -3h0m1 1h0m52 0h0m7 1h0m79 -1h0m11 1h0m32 -1h0m116 1h0m11 1h0m220 -1h0m49 -1h0m13 0h0m1 1h0m158 -1h0m2 -1h0m0 2h0m60 -2h0m30 0h0m174 1h0m209 1h0m4 -1h0m119 2h0"/><path stroke="#8484b8" stroke-width="6" d="M840 509h0m36 0h0m51 0h0m1 0h0m169 -1h0m91 0h0m27 1h0m9 0h0m9 0h0m14 1h0m25 -1h0m37 -1h0m14 1h0m81 -2h0m232 3h0m37 -2h0m174 1h0m87 -2h0m160 1h0m10 1h0m20 -1h0m186 1h0"/><path stroke="#8484b8" stroke-width="7" d="M798 508h0m26 0h0m72 1h0m32 0h0m141 0h0m221 -1h0m4 -1h0m105 3h0m219 0h0m30 -3h0m33 1h0m141 1h0m128 -1h0"/><path stroke="#8484b8" stroke-width="8" d="M797 508h0m4 2h0m25 -2h0m18 1h0m19 -1h0m36 0h0m5 1h0m172 -1h0m134 2h0m36 -2h0m19 0h0m111 0h0m12 -1h0m16 1h0m1 1h0m10 -1h0m2 0h0m215 0h0m19 2h0m36 0h0m16 -1h0m3 -1h0m129 1h0m43 1h0m34 0h0m7 -1h0m397 -1h0m121 0h0"/><path stroke="#8484b8" stroke-width="9" d="M836 507h0m12 0h0m10 3h0m385 -1h0m13 1h0m60 -2h0m3 1h0m64 -1h0m20 1h0m216 -1h0m18 2h0m35 -1h0m250 -1h0m218 1h0m172 -1h0m127 -1h0"/><path stroke="#8888b9" stroke-width="1" d="M857 513h0m54 -1h0m252 0h0m67 0h0m55 -1h0m576 1h0m45 -1h0"/><path stroke="#8888b9" stroke-width="2" d="M836 512h0m3 0h0m5 0h0m13 -1h0m2 0h0m6 0h0m20 0h0m37 2h0m3 -2h0m1 0h0m160 -1h0m6 2h0m57 0h0m72 -1h0m10 -1h0m10 3h0m4 -3h0m4 1h0m5 -1h0m32 0h0m11 3h0m8 0h0m17 -2h0m38 -1h0m22 1h0m94 0h0m140 0h0m5 1h0m51 -1h0m2 1h0m4 -1h0m12 2h0m20 -1h0m164 -1h0m3 -1h0m3 1h0m34 0h0m9 2h0m16 0h0m158 -3h0m8 3h0m1 -1h0m37 1h0m197 -1h0m40 0h0"/><path stroke="#8888b9" stroke-width="3" d="M638 512h0m166 0h0m39 -2h0m1 2h0m7 0h0m23 -2h0m20 1h0m1 0h0m5 1h0m172 -1h0m3 1h0m10 -1h0m2 0h0m6 0h0m34 1h0m7 0h0m59 0h0m61 1h0m32 -3h0m27 1h0m15 0h0m114 2h0m61 -1h0m129 0h0m3 -2h0m8 0h0m28 2h0m1 -2h0m42 2h0m115 0h0m22 -1h0m64 2h0m39 0h0m5 -3h0m145 3h0m13 0h0m30 -1h0m29 0h0m142 0h0m64 0h0"/><path stroke="#8888b9" stroke-width="4" d="M822 512h0m17 -1h0m6 -1h0m5 1h0m1 1h0m8 -1h0m21 -1h0m15 1h0m0 1h0m6 -1h0m201 0h0m41 1h0m2 -2h0m2 1h0m19 0h0m43 2h0m12 0h0m5 -3h0m12 2h0m0 1h0m2 -1h0m34 1h0m33 -1h0m7 -1h0m101 1h0m207 0h0m17 0h0m18 -1h0m54 0h0m222 1h0m5 0h0m3 0h0m172 0h0m26 0h0m7 -1h0m159 0h0m97 0h0"/><path stroke="#8888b9" stroke-width="5" d="M801 510h0m13 0h0m2 0h0m18 1h0m39 1h0m46 -1h0m157 1h0m17 -2h0m13 3h0m41 -1h0m75 0h0m19 0h0m12 -2h0m13 1h0m12 2h0m36 0h0m61 0h0m64 -2h0m16 2h0m47 -1h0m130 1h0m25 -3h0m19 0h0m4 1h0m14 0h0m5 1h0m220 -1h0m4 1h0m19 -2h0m3 2h0m5 -2h0m0 1h0m12 1h0m149 -1h0m28 2h0m2 0h0"/><path stroke="#8888b9" stroke-width="6" d="M840 510h0m22 0h0m14 0h0m15 2h0m6 -1h0m4 1h0m23 0h0m9 0h0m142 0h0m145 1h0m19 -1h0m14 -2h0m26 2h0m17 0h0m4 1h0m60 -2h0m43 2h0m219 0h0m65 0h0m13 -2h0m133 -1h0m20 0h0m4 2h0m22 0h0m6 0h0m39 -2h0m9 1h0m21 0h0m185 1h0m8 0h0m217 1h0"/><path stroke="#8888b9" stroke-width="7" d="M796 511h0m57 -1h0m26 3h0m35 -3h0m17 2h0m318 -1h0m27 0h0m29 0h0m17 0h0m4 0h0m41 2h0m14 -1h0m263 0h0m0 1h0m4 -1h0m1 -1h0m4 1h0m20 0h0m247 -1h0m215 -1h0m161 2h0m83 1h0"/><path stroke="#8888b9" stroke-width="8" d="M801 512h0m51 -2h0m23 2h0m1 -2h0m17 1h0m27 1h0m166 0h0m48 -1h0m93 0h0m19 2h0m24 -2h0m56 0h0m179 0h0m112 -1h0m14 0h0m17 1h0m34 1h0m137 1h0m83 -3h0m27 1h0m167 1h0m12 0h0m21 -1h0m18 2h0m237 -2h0"/><path stroke="#8888b9" stroke-width="9" d="M566 511h0m233 -1h0m21 1h0m22 2h0m14 -3h0m66 0h0m12 0h0m285 1h0m7 0h0m4 1h0m41 0h0m4 -1h0m40 1h0m0 1h0m2 -1h0m5 1h0m2 -3h0m52 2h0m22 0h0m230 -1h0m21 0h0m8 1h0m34 -2h0m5 2h0m10 0h0m110 -1h0m284 2h0m28 -3h0m193 0h0m34 0h0"/><path stroke="#8b8bba" stroke-width="1" d="M801 513h0m495 1h0m103 -1h0m39 2h0m419 -1h0"/><path stroke="#8b8bba" stroke-width="2" d="M306 515h0m274 0h0m240 1h0m41 -3h0m23 2h0m15 1h0m5 -1h0m25 -1h0m2 1h0m2 0h0m156 -2h0m1 1h0m6 0h0m133 2h0m2 -3h0m12 1h0m19 -1h0m5 2h0m4 1h0m5 0h0m6 -2h0m4 1h0m2 0h0m14 -1h0m138 1h0m176 -1h0m4 1h0m40 -1h0m1 0h0m8 2h0m6 -1h0m9 -1h0m16 2h0m15 -3h0m107 1h0m33 -1h0m76 1h0m4 0h0m0 1h0m9 0h0m168 0h0m14 0h0m12 -2h0m5 3h0m3 -2h0m2 1h0m3 0h0m153 1h0m13 -2h0"/><path stroke="#8b8bba" stroke-width="3" d="M557 515h0m247 -1h0m13 0h0m20 1h0m42 -1h0m36 0h0m7 -1h0m3 2h0m144 0h0m17 0h0m6 0h0m21 -2h0m30 2h0m5 -2h0m15 0h0m40 3h0m37 -1h0m12 0h0m18 0h0m8 -1h0m10 2h0m15 -2h0m50 0h0m30 1h0m48 -1h0m73 -1h0m1 0h0m109 2h0m22 -1h0m43 0h0m3 0h0m0 1h0m3 -1h0m4 1h0m4 -2h0m149 2h0m28 -2h0m6 0h0m25 0h0m28 2h0m10 0h0m15 -1h0m1 -1h0m1 2h0m3 -2h0m145 1h0m33 0h0m219 1h0"/><path stroke="#8b8bba" stroke-width="4" d="M798 515h0m2 -1h0m2 0h0m1 1h0m6 0h0m38 -2h0m27 3h0m4 -1h0m34 0h0m10 -1h0m1 1h0m147 0h0m6 0h0m120 -2h0m13 0h0m18 3h0m35 -1h0m21 0h0m6 -1h0m2 1h0m10 0h0m53 0h0m19 -2h0m3 0h0m9 3h0m115 -1h0m124 0h0m10 -2h0m1 0h0m13 3h0m36 -2h0m161 1h0m1 -1h0m26 1h0m32 0h0m10 0h0m8 0h0m26 -1h0m162 0h0m19 1h0m13 1h0m295 -2h0"/><path stroke="#8b8bba" stroke-width="5" d="M399 514h0m418 0h0m22 1h0m13 -1h0m29 2h0m15 -1h0m13 -2h0m17 2h0m5 -2h0m142 1h0m23 0h0m96 0h0m89 -1h0m7 0h0m9 1h0m6 -1h0m5 2h0m55 -2h0m29 3h0m8 0h0m219 -1h0m17 -1h0m8 2h0m4 0h0m37 -3h0m149 2h0m6 1h0m30 0h0m13 0h0m21 -1h0m31 -2h0m7 2h0m15 -1h0m146 -1h0m38 3h0m3 -1h0m1 0h0m3 0h0m196 0h0m18 1h0m36 -2h0"/><path stroke="#8b8bba" stroke-width="6" d="M515 513h0m65 2h0m217 0h0m29 -1h0m15 2h0m11 -2h0m4 1h0m8 1h0m6 -3h0m20 2h0m10 -2h0m17 0h0m1 1h0m11 2h0m217 -3h0m112 1h0m106 1h0m251 1h0m13 0h0m15 0h0m6 -2h0m25 0h0m19 0h0m141 -1h0m13 2h0m32 1h0m80 -1h0m4 0h0m151 1h0m2 -2h0m15 2h0m10 -1h0m5 -1h0m202 0h0m7 0h0"/><path stroke="#8b8bba" stroke-width="7" d="M843 515h0m7 -1h0m3 -1h0m25 1h0m2 0h0m10 0h0m179 2h0m139 -2h0m20 2h0m124 -1h0m5 0h0m14 0h0m24 -1h0m249 2h0m1 0h0m2 -1h0m25 0h0m24 1h0m128 0h0m22 -1h0m2 -1h0m88 1h0m195 0h0m20 0h0m172 -2h0m4 1h0"/><path stroke="#8b8bba" stroke-width="8" d="M826 513h0m25 1h0m22 1h0m3 -2h0m5 1h0m9 0h0m17 1h0m222 0h0m65 0h0m10 -2h0m1 2h0m13 1h0m11 -1h0m58 1h0m22 -2h0m3 2h0m3 0h0m52 0h0m13 -2h0m3 0h0m4 1h0m10 -2h0m28 2h0m54 -1h0m158 1h0m43 -2h0m13 3h0m133 0h0m25 -3h0m15 0h0m6 2h0m62 0h0m1 -2h0m16 2h0m5 -1h0m0 1h0m1 -1h0m2 0h0m139 2h0m199 0h0"/><path stroke="#8b8bba" stroke-width="9" d="M796 514h0m6 -1h0m40 2h0m1 -1h0m0 1h0m32 0h0m7 -1h0m11 0h0m3 1h0m11 -1h0m12 1h0m7 -2h0m0 3h0m274 0h0m63 -1h0m7 0h0m1 0h0m22 -1h0m80 0h0m17 -1h0m111 0h0m143 0h0m5 2h0m54 0h0m5 -2h0m157 2h0m1 0h0m60 0h0m11 -1h0m48 2h0m152 -2h0m3 1h0m179 -2h0m0 2h0m37 1h0m54 0h0"/><path stroke="#8e8ebb" stroke-width="1" d="M853 517h0m1580 0h0"/><path stroke="#8e8ebb" stroke-width="2" d="M797 518h0m9 -1h0m17 0h0m26 2h0m21 -3h0m8 1h0m21 -1h0m21 2h0m168 -2h0m62 2h0m60 -2h0m62 3h0m13 0h0m4 -1h0m39 0h0m33 1h0m6 -2h0m136 0h0m5 0h0m126 1h0m6 -2h0m1 3h0m18 -3h0m15 1h0m17 -1h0m127 2h0m34 -1h0m1 1h0m1 -1h0m12 1h0m3 -1h0m31 2h0m20 -2h0m0 1h0m12 1h0m14 0h0m8 -3h0m158 2h0m25 -2h0m11 1h0m0 2h0m36 -1h0m127 -2h0m49 3h0m35 0h0"/><path stroke="#8e8ebb" stroke-width="3" d="M850 519h0m4 -1h0m18 -1h0m1 1h0m213 -1h0m1 -1h0m9 3h0m1 -1h0m22 -1h0m25 1h0m3 1h0m26 -1h0m17 1h0m4 -2h0m23 1h0m1 0h0m1 -1h0m22 2h0m39 -2h0m12 1h0m4 0h0m26 0h0m38 -1h0m13 1h0m43 0h0m50 -2h0m148 2h0m4 -2h0m14 0h0m3 0h0m44 1h0m3 2h0m3 0h0m4 -2h0m10 -1h0m1 1h0m165 2h0m8 -2h0m1 0h0m62 1h0m23 -2h0m140 3h0m4 -1h0m1 0h0m10 1h0m2 -1h0m14 -1h0m14 1h0m4 0h0m3 -1h0m166 1h0m66 1h0m25 -1h0m11 0h0m0 1h0"/><path stroke="#8e8ebb" stroke-width="4" d="M808 517h0m2 -1h0m7 1h0m1 0h0m5 0h0m13 2h0m20 -3h0m19 0h0m5 2h0m36 -1h0m14 1h0m137 0h0m68 0h0m9 0h0m7 -1h0m57 0h0m4 0h0m16 0h0m19 0h0m4 0h0m23 1h0m21 1h0m12 0h0m11 -1h0m5 1h0m32 -2h0m9 2h0m12 -2h0m12 0h0m245 -1h0m11 0h0m10 1h0m3 1h0m35 -1h0m4 1h0m16 -1h0m112 -1h0m30 0h0m25 3h0m23 -2h0m19 1h0m13 0h0m9 -1h0m6 1h0m4 -2h0m6 2h0m138 -1h0m8 1h0m0 1h0m32 -1h0m226 -1h0m42 0h0"/><path stroke="#8e8ebb" stroke-width="5" d="M850 518h0m43 0h0m29 -1h0m9 0h0m175 -1h0m86 1h0m12 1h0m17 -1h0m19 0h0m10 0h0m2 1h0m22 -1h0m3 0h0m3 0h0m10 0h0m8 0h0m9 0h0m7 2h0m103 -2h0m202 2h0m2 -1h0m26 0h0m9 0h0m23 -1h0m21 1h0m13 -1h0m113 1h0m42 -1h0m3 0h0m10 0h0m39 1h0m16 -2h0m168 1h0m2 -1h0m35 3h0m228 -3h0m48 2h0m0 1h0"/><path stroke="#8e8ebb" stroke-width="6" d="M549 518h0m258 -1h0m3 1h0m13 0h0m3 0h0m20 -1h0m3 1h0m24 -1h0m0 1h0m24 0h0m10 -1h0m11 -1h0m153 2h0m17 0h0m9 -1h0m109 -1h0m5 3h0m26 -2h0m6 0h0m0 1h0m16 -2h0m41 1h0m9 2h0m14 -3h0m34 2h0m275 0h0m24 -1h0m6 0h0m53 1h0m110 0h0m10 0h0m23 -1h0m2 2h0m9 -2h0m74 -1h0m13 2h0m184 -1h0m219 1h0m27 0h0"/><path stroke="#8e8ebb" stroke-width="7" d="M799 516h0m37 2h0m1 -1h0m8 0h0m30 1h0m56 -1h0m208 1h0m25 -1h0m46 0h0m37 0h0m10 1h0m10 -1h0m7 0h0m2 0h0m42 0h0m8 0h0m1 2h0m40 -2h0m2 1h0m25 -2h0m222 1h0m2 2h0m3 -1h0m27 0h0m8 1h0m24 -1h0m11 -1h0m0 1h0m10 0h0m1 0h0m1 0h0m143 -2h0m3 1h0m1 1h0m23 1h0m5 -2h0m35 2h0m20 -2h0m9 -1h0m18 3h0m156 -3h0m9 2h0m6 -2h0m60 3h0m158 -2h0m43 2h0"/><path stroke="#8e8ebb" stroke-width="8" d="M797 517h0m12 0h0m1 2h0m7 -3h0m9 1h0m20 -1h0m3 0h0m20 0h0m1 1h0m30 1h0m5 1h0m12 -2h0m6 -1h0m1 3h0m171 -3h0m108 1h0m5 2h0m89 -2h0m5 -1h0m22 1h0m2 1h0m101 -2h0m192 2h0m11 1h0m25 -1h0m11 -2h0m18 2h0m20 1h0m129 -2h0m20 2h0m15 -3h0m39 2h0m40 -1h0m1 1h0m1 0h0m9 -2h0m162 0h0m17 2h0m60 -1h0m245 1h0"/><path stroke="#8e8ebb" stroke-width="9" d="M251 517h0m555 2h0m20 -1h0m1 -2h0m32 3h0m1 0h0m68 -1h0m1 -1h0m2 0h0m263 -1h0m1 2h0m17 -1h0m14 1h0m1 -1h0m14 2h0m8 -2h0m4 1h0m52 0h0m6 -1h0m13 1h0m3 1h0m56 0h0m8 -1h0m7 0h0m35 -1h0m189 1h0m24 0h0m36 1h0m10 -2h0m126 0h0m17 2h0m14 0h0m3 0h0m4 -1h0m17 -2h0m5 2h0m22 1h0m4 -3h0m37 1h0m4 1h0m10 -2h0m171 0h0m13 1h0m7 2h0m23 0h0m4 -1h0m158 -2h0m36 3h0m20 -2h0"/><path stroke="#9191bc" stroke-width="1" d="M920 520h0m195 2h0m182 -1h0m7 0h0m94 -1h0m275 0h0m181 0h0m12 2h0"/><path stroke="#9191bc" stroke-width="2" d="M608 521h0m190 -1h0m46 1h0m9 -1h0m57 0h0m9 -1h0m1 1h0m4 2h0m1 -3h0m1 3h0m146 -3h0m16 0h0m5 1h0m11 1h0m0 1h0m44 -2h0m15 1h0m10 -1h0m15 1h0m12 0h0m52 -1h0m1 2h0m37 -2h0m4 1h0m14 -1h0m18 0h0m25 2h0m32 -1h0m8 0h0m6 -2h0m82 1h0m153 0h0m13 0h0m1 1h0m2 0h0m20 0h0m6 -1h0m5 0h0m1 -1h0m9 0h0m0 3h0m4 -2h0m7 1h0m117 1h0m28 -2h0m7 0h0m48 0h0m14 -1h0m1 3h0m8 -1h0m35 0h0m137 1h0m10 -1h0m8 -2h0m3 2h0m20 0h0m189 0h0m12 0h0m10 1h0m27 -3h0"/><path stroke="#9191bc" stroke-width="3" d="M811 521h0m34 1h0m10 -3h0m7 2h0m10 -1h0m6 1h0m29 -2h0m1 1h0m10 1h0m10 0h0m99 1h0m80 0h0m29 -2h0m9 0h0m18 2h0m1 -2h0m41 0h0m7 0h0m1 0h0m36 0h0m4 1h0m9 -1h0m3 -1h0m56 1h0m1 2h0m1 -2h0m76 1h0m82 0h0m22 0h0m2 1h0m139 -3h0m43 2h0m4 -2h0m1 3h0m3 -1h0m1 -2h0m16 2h0m107 1h0m14 -1h0m1 -1h0m28 1h0m16 -1h0m35 1h0m5 -1h0m41 0h0m145 1h0m10 -1h0m34 2h0m211 -3h0m56 3h0"/><path stroke="#9191bc" stroke-width="4" d="M271 521h0m339 -1h0m202 2h0m12 -1h0m27 1h0m2 -2h0m1 0h0m3 -1h0m4 1h0m19 -1h0m26 2h0m3 1h0m6 -3h0m175 2h0m75 -2h0m52 3h0m6 -2h0m24 -1h0m8 2h0m49 0h0m11 -1h0m1 1h0m8 0h0m71 -1h0m5 1h0m105 -1h0m0 2h0m112 -1h0m15 -1h0m12 -1h0m25 3h0m11 -2h0m4 0h0m4 0h0m13 1h0m9 -1h0m4 1h0m111 1h0m9 -1h0m24 0h0m7 -1h0m4 0h0m4 0h0m3 1h0m2 -2h0m7 0h0m20 3h0m26 -2h0m20 0h0m4 0h0m1 0h0m142 0h0m20 1h0m1 -2h0m25 1h0m2 0h0m151 1h0m14 -1h0m69 2h0m48 -2h0"/><path stroke="#9191bc" stroke-width="5" d="M878 522h0m9 -1h0m9 1h0m3 -2h0m21 1h0m8 1h0m177 -2h0m31 1h0m54 1h0m17 -1h0m1 1h0m9 -1h0m32 -2h0m7 3h0m6 -1h0m1 -1h0m3 2h0m5 0h0m89 -1h0m3 -1h0m3 0h0m14 0h0m3 1h0m15 -1h0m3 -1h0m16 0h0m203 1h0m20 2h0m15 -1h0m7 -2h0m8 1h0m7 0h0m2 0h0m17 0h0m127 -1h0m10 2h0m32 -2h0m4 1h0m50 0h0m35 1h0m142 -1h0m19 1h0m15 -2h0m2 1h0m1 0h0m6 -1h0m0 2h0m5 0h0m3 1h0m173 -2h0m3 0h0m6 0h0m73 1h0"/><path stroke="#9191bc" stroke-width="6" d="M368 519h0m457 3h0m17 -2h0m21 -1h0m13 0h0m4 0h0m17 0h0m209 0h0m86 2h0m2 -1h0m15 1h0m2 0h0m9 -1h0m11 1h0m21 -1h0m45 1h0m24 -2h0m53 3h0m5 -1h0m1 -1h0m59 1h0m19 0h0m20 -1h0m159 1h0m7 -1h0m30 0h0m8 0h0m24 1h0m1 -2h0m0 1h0m133 0h0m31 0h0m42 0h0m27 1h0m7 0h0m148 -1h0m10 1h0m18 0h0m2 0h0m26 -1h0m163 2h0m93 -2h0m16 1h0m5 1h0"/><path stroke="#9191bc" stroke-width="7" d="M327 521h0m305 1h0m219 -1h0m3 0h0m3 0h0m23 0h0m12 -1h0m7 2h0m20 0h0m8 -2h0m1 1h0m4 -1h0m212 0h0m49 2h0m26 -2h0m30 2h0m21 -1h0m5 0h0m15 0h0m27 -1h0m1 0h0m43 0h0m302 0h0m15 1h0m4 -2h0m26 3h0m1 -3h0m126 2h0m11 -1h0m9 0h0m5 -1h0m10 2h0m9 -1h0m0 2h0m54 -2h0m20 1h0m177 -1h0m42 1h0m131 0h0m30 -2h0m52 2h0m36 0h0"/><path stroke="#9191bc" stroke-width="8" d="M798 521h0m43 -1h0m45 1h0m3 -2h0m40 1h0m2 2h0m264 -2h0m7 0h0m47 0h0m10 2h0m2 -2h0m5 -1h0m2 2h0m2 -2h0m25 2h0m86 -1h0m233 2h0m19 -3h0m39 1h0m5 -1h0m18 0h0m6 2h0m123 -2h0m9 1h0m22 2h0m26 -1h0m2 0h0m52 -1h0m1 0h0m6 -1h0m15 3h0m147 -2h0m22 1h0m3 -1h0m4 2h0m178 -1h0m75 1h0m8 -1h0"/><path stroke="#9191bc" stroke-width="9" d="M815 520h0m8 0h0m45 0h0m4 1h0m22 -1h0m3 1h0m2 1h0m30 -1h0m260 -2h0m4 3h0m28 -2h0m8 0h0m11 2h0m2 -1h0m24 -2h0m5 1h0m13 -1h0m70 2h0m13 -2h0m24 1h0m47 0h0m175 1h0m19 0h0m5 -2h0m41 1h0m3 0h0m1 1h0m160 -2h0m35 0h0m2 0h0m21 2h0m2 0h0m41 1h0m8 -3h0m2 2h0m145 -1h0m13 0h0m19 1h0m11 -1h0m42 2h0m123 -1h0m34 -1h0m13 1h0m79 0h0"/><path stroke="#9494bd" stroke-width="1" d="M823 524h0m0 1h0m33 -2h0m230 -1h0m199 2h0m13 1h0m408 -2h0m126 2h0m291 -1h0m25 0h0"/><path stroke="#9494bd" stroke-width="2" d="M415 525h0m412 -2h0m9 1h0m8 1h0m2 -1h0m2 0h0m9 -1h0m1 0h0m16 -1h0m1 2h0m7 1h0m2 -2h0m11 2h0m1 -1h0m1 -1h0m10 1h0m17 0h0m1 0h0m4 0h0m163 0h0m2 -1h0m45 1h0m6 1h0m3 -1h0m17 1h0m43 -2h0m1 0h0m31 -1h0m2 2h0m30 1h0m25 -3h0m56 0h0m9 2h0m31 0h0m4 1h0m8 -2h0m11 2h0m21 0h0m16 -1h0m11 -2h0m15 0h0m160 2h0m4 -1h0m17 2h0m12 -2h0m4 2h0m12 -1h0m12 -1h0m125 -1h0m45 0h0m77 2h0m1 0h0m3 -1h0m28 0h0m124 -1h0m0 1h0m27 -1h0m0 1h0m9 1h0m8 -2h0m34 3h0m2 0h0m12 -2h0m103 1h0m19 -2h0m18 1h0m2 2h0m52 -1h0m27 -1h0"/><path stroke="#9494bd" stroke-width="3" d="M341 524h0m224 -1h0m254 0h0m4 2h0m2 0h0m18 -2h0m5 1h0m1 -1h0m6 0h0m4 0h0m1 1h0m40 -1h0m19 1h0m5 -2h0m165 3h0m56 -1h0m22 -1h0m5 0h0m1 1h0m15 -1h0m7 1h0m0 1h0m17 -2h0m3 1h0m2 0h0m3 0h0m7 0h0m2 -2h0m21 2h0m25 -1h0m13 0h0m10 1h0m16 0h0m10 -1h0m76 -1h0m2 3h0m64 -3h0m38 2h0m109 0h0m1 -2h0m1 0h0m6 3h0m8 -3h0m5 2h0m9 0h0m15 -2h0m26 2h0m18 0h0m11 0h0m110 1h0m2 -2h0m11 -1h0m9 2h0m9 -1h0m9 1h0m37 -1h0m18 1h0m29 -1h0m1 -1h0m0 1h0m147 0h0m14 -1h0m15 1h0m5 2h0m18 0h0m1 -1h0m3 -1h0m29 1h0m154 -1h0m23 1h0m25 0h0m48 0h0"/><path stroke="#9494bd" stroke-width="4" d="M805 523h0m34 1h0m8 -1h0m4 0h0m2 1h0m7 -1h0m23 0h0m12 0h0m4 2h0m4 -2h0m5 1h0m2 0h0m21 -1h0m0 1h0m139 1h0m64 -2h0m2 2h0m92 -2h0m4 0h0m30 1h0m29 -1h0m17 1h0m3 1h0m3 -3h0m11 2h0m2 1h0m39 -2h0m1 2h0m8 -2h0m43 0h0m9 1h0m28 -1h0m10 1h0m14 0h0m142 -1h0m25 1h0m21 -1h0m6 -1h0m1 2h0m9 1h0m14 -2h0m1 1h0m9 0h0m122 -1h0m13 0h0m1 2h0m13 -1h0m7 0h0m5 1h0m4 -1h0m3 -1h0m24 0h0m23 1h0m23 1h0m7 -1h0m9 1h0m151 -1h0m15 0h0m19 0h0m6 -2h0m1 1h0m150 1h0m9 -2h0m106 2h0"/><path stroke="#9494bd" stroke-width="5" d="M586 525h0m229 -2h0m28 0h0m16 1h0m16 -2h0m20 2h0m28 -1h0m8 1h0m141 -2h0m20 0h0m2 1h0m36 0h0m34 2h0m3 0h0m56 -2h0m4 0h0m20 -1h0m4 2h0m39 0h0m79 -1h0m13 0h0m54 2h0m194 0h0m8 0h0m4 -2h0m1 1h0m3 -2h0m0 3h0m27 -2h0m1 -1h0m27 1h0m10 0h0m122 1h0m21 -1h0m4 1h0m16 0h0m60 -2h0m1 1h0m13 -1h0m2 1h0m0 2h0m5 -3h0m81 2h0m89 -1h0m0 2h0m12 -1h0m3 -1h0m29 2h0m207 -2h0m42 0h0m0 2h0m23 -1h0"/><path stroke="#9494bd" stroke-width="6" d="M293 522h0m503 2h0m6 -1h0m4 1h0m51 -1h0m20 -1h0m16 0h0m4 0h0m1 1h0m2 2h0m14 -3h0m10 1h0m3 1h0m295 1h0m17 -2h0m10 1h0m7 0h0m15 -1h0m8 1h0m75 0h0m42 0h0m45 -2h0m184 3h0m5 -2h0m8 0h0m1 0h0m9 2h0m12 -1h0m6 1h0m3 -2h0m8 1h0m6 1h0m7 -2h0m0 2h0m19 0h0m135 0h0m56 -2h0m1 1h0m6 -1h0m5 1h0m8 -1h0m2 2h0m1 -1h0m23 -2h0m9 1h0m2 1h0m92 0h0m53 0h0m3 1h0m9 -3h0m30 2h0m2 -1h0m163 0h0m7 0h0m7 1h0m10 -1h0m33 -1h0m59 2h0m4 -1h0"/><path stroke="#9494bd" stroke-width="7" d="M564 522h0m249 1h0m78 1h0m41 -2h0m139 1h0m70 0h0m49 0h0m14 0h0m1 -1h0m7 2h0m7 -2h0m10 2h0m12 0h0m19 1h0m3 -1h0m7 1h0m5 -2h0m2 2h0m14 -1h0m17 0h0m48 1h0m8 -2h0m6 0h0m12 -1h0m1 1h0m249 0h0m6 2h0m6 -2h0m27 1h0m3 -1h0m9 2h0m5 0h0m17 -1h0m3 1h0m126 0h0m6 0h0m11 0h0m23 -1h0m269 -1h0m189 0h0m65 -1h0m3 1h0"/><path stroke="#9494bd" stroke-width="8" d="M819 523h0m2 1h0m3 1h0m17 -1h0m16 -1h0m17 2h0m6 -3h0m2 1h0m330 0h0m37 0h0m46 1h0m3 1h0m63 -3h0m27 2h0m2 0h0m224 0h0m4 -1h0m55 2h0m6 -2h0m21 -1h0m1 1h0m157 -1h0m1 3h0m74 -3h0m27 0h0m135 0h0m52 2h0m263 -1h0"/><path stroke="#9494bd" stroke-width="9" d="M817 524h0m22 0h0m3 0h0m16 1h0m22 -1h0m34 1h0m17 -3h0m262 2h0m17 1h0m10 -1h0m103 1h0m41 -1h0m249 1h0m54 -3h0m15 1h0m27 1h0m6 0h0m105 1h0m6 0h0m34 -1h0m93 -1h0m152 0h0m19 2h0m4 -2h0m1 0h0m12 1h0m7 1h0m5 0h0m15 -1h0m13 0h0m200 -2h0m9 1h0"/><path stroke="#9797bf" stroke-width="1" d="M822 527h0m27 -1h0m355 0h0m4 1h0m40 -1h0m26 1h0m427 -1h0m424 0h0m84 1h0m189 1h0"/><path stroke="#9797bf" stroke-width="2" d="M243 525h0m555 1h0m23 0h0m19 0h0m11 -1h0m23 1h0m2 1h0m27 -1h0m13 1h0m2 -2h0m154 0h0m3 2h0m14 1h0m1 -3h0m46 2h0m26 -1h0m29 -1h0m0 2h0m2 0h0m24 -1h0m7 0h0m6 2h0m15 -2h0m3 2h0m3 0h0m3 -1h0m6 0h0m12 0h0m52 -1h0m39 1h0m9 1h0m7 -3h0m1 0h0m11 3h0m12 -2h0m216 1h0m10 1h0m1 -2h0m27 0h0m35 0h0m15 1h0m134 -1h0m3 -1h0m16 1h0m19 1h0m57 0h0m10 1h0m9 -2h0m147 1h0m3 -1h0m24 -1h0m11 2h0m12 -1h0m26 1h0m118 -2h0m18 1h0m1 0h0m8 1h0m2 0h0m32 -2h0m71 0h0m5 2h0"/><path stroke="#9797bf" stroke-width="3" d="M567 527h0m63 0h0m173 0h0m41 0h0m5 -1h0m2 0h0m2 1h0m10 -2h0m50 0h0m10 1h0m295 -1h0m39 1h0m15 -1h0m10 1h0m25 -1h0m1 3h0m4 0h0m3 -2h0m2 0h0m122 1h0m10 0h0m13 -1h0m172 -1h0m2 2h0m11 -1h0m2 2h0m20 -2h0m2 0h0m11 0h0m22 1h0m9 0h0m115 0h0m7 0h0m19 -1h0m7 1h0m9 0h0m7 -1h0m5 1h0m27 0h0m31 0h0m4 0h0m15 0h0m147 0h0m8 0h0m20 1h0m5 -2h0m10 -1h0m209 2h0m22 0h0"/><path stroke="#9797bf" stroke-width="4" d="M512 526h0m285 0h0m26 2h0m24 -3h0m6 3h0m8 -2h0m19 0h0m29 1h0m8 0h0m191 -1h0m25 -1h0m63 1h0m60 1h0m53 0h0m52 -2h0m25 2h0m4 1h0m26 -1h0m85 1h0m114 0h0m6 -2h0m4 -1h0m16 0h0m1 0h0m1 3h0m21 -2h0m18 0h0m29 1h0m111 0h0m7 0h0m27 -1h0m23 0h0m43 1h0m5 -1h0m4 1h0m170 -2h0m2 1h0m13 0h0m8 1h0m4 0h0m10 0h0m6 0h0m42 -2h0m110 0h0m15 2h0m43 -1h0m37 0h0m36 1h0"/><path stroke="#9797bf" stroke-width="5" d="M799 527h0m1 0h0m20 0h0m5 -1h0m1 1h0m29 -2h0m5 0h0m16 3h0m17 0h0m14 -1h0m15 0h0m6 0h0m3 1h0m40 -2h0m103 1h0m19 -1h0m43 0h0m2 0h0m8 0h0m20 1h0m40 0h0m6 -1h0m17 -1h0m10 2h0m3 -2h0m10 1h0m23 0h0m0 2h0m10 -2h0m5 0h0m36 1h0m1 1h0m53 -2h0m7 2h0m3 -1h0m1 1h0m15 -3h0m208 1h0m20 0h0m46 2h0m22 -2h0m4 0h0m10 -1h0m102 1h0m3 -1h0m33 1h0m2 0h0m11 -1h0m14 3h0m35 -3h0m3 1h0m27 1h0m2 -2h0m5 1h0m3 1h0m140 1h0m6 -1h0m7 -1h0m12 2h0m2 -2h0m1 -1h0m12 0h0m1 3h0m1 -2h0m2 1h0m5 0h0m2 -2h0m66 2h0m111 -1h0m0 2h0m10 -1h0"/><path stroke="#9797bf" stroke-width="6" d="M313 527h0m65 0h0m189 -1h0m63 2h0m168 -3h0m60 2h0m5 -2h0m44 1h0m2 1h0m13 0h0m249 -1h0m34 -1h0m17 1h0m64 0h0m6 1h0m20 0h0m11 0h0m48 0h0m5 -2h0m13 2h0m50 -1h0m43 0h0m135 0h0m85 1h0m7 -1h0m0 1h0m3 0h0m112 0h0m2 -1h0m30 -1h0m1 2h0m43 -1h0m20 2h0m3 -2h0m15 2h0m9 -1h0m1 -1h0m9 0h0m3 -1h0m68 3h0m82 -2h0m18 0h0m17 0h0m187 2h0m2 -1h0m42 0h0m35 1h0m6 -1h0"/><path stroke="#9797bf" stroke-width="7" d="M247 528h0m382 0h0m184 -1h0m62 -1h0m49 1h0m151 0h0m57 0h0m127 -1h0m2 1h0m5 -1h0m5 0h0m42 1h0m2 -2h0m39 3h0m10 -2h0m250 0h0m8 0h0m24 0h0m2 0h0m0 2h0m1 -2h0m23 2h0m20 0h0m19 -1h0m113 0h0m1 -2h0m18 0h0m27 2h0m7 -1h0m4 0h0m4 0h0m0 1h0m37 0h0m4 0h0m57 -1h0m88 0h0m27 1h0m17 -1h0m11 1h0m21 0h0m1 0h0m217 0h0m61 0h0m4 -2h0"/><path stroke="#9797bf" stroke-width="8" d="M304 528h0m125 0h0m221 -2h0m168 1h0m3 0h0m26 -2h0m0 2h0m3 -1h0m52 1h0m3 0h0m12 1h0m3 0h0m3 -1h0m10 1h0m284 0h0m3 -1h0m10 -1h0m5 0h0m22 -1h0m12 2h0m34 -1h0m1 -1h0m84 2h0m235 1h0m5 -2h0m7 0h0m30 2h0m1 -2h0m13 0h0m2 0h0m1 2h0m193 -2h0m25 1h0m36 -1h0m0 1h0m18 1h0m144 -2h0m6 1h0m8 0h0m4 -1h0m0 2h0m3 -1h0m33 0h0"/><path stroke="#9797bf" stroke-width="9" d="M604 525h0m202 2h0m3 1h0m32 -1h0m0 1h0m6 -3h0m55 2h0m4 0h0m1 0h0m9 -2h0m1 3h0m2 -2h0m273 0h0m39 1h0m38 -2h0m7 3h0m19 -1h0m15 -1h0m73 -1h0m239 1h0m17 1h0m18 0h0m19 1h0m156 -1h0m16 0h0m11 0h0m51 1h0m42 -2h0m8 1h0m5 0h0m147 -2h0m17 3h0m40 0h0m145 -3h0m39 3h0m56 -3h0"/><path stroke="#9a9ac0" stroke-width="1" d="M1323 529h0m31 -1h0m22 1h0m325 1h0m141 -1h0m3 -1h0m34 1h0m65 0h0m1 0h0m368 0h0"/><path stroke="#9a9ac0" stroke-width="2" d="M156 528h0m368 3h0m301 -1h0m35 -1h0m9 1h0m21 -1h0m2 -1h0m5 3h0m2 -1h0m1 -1h0m16 1h0m158 0h0m18 1h0m1 -3h0m41 3h0m34 -2h0m27 -1h0m4 2h0m8 0h0m19 -1h0m15 2h0m9 -1h0m5 -1h0m9 2h0m3 -1h0m1 -2h0m26 2h0m12 0h0m11 -1h0m8 2h0m3 -1h0m30 -1h0m7 0h0m139 1h0m114 0h0m16 1h0m41 0h0m17 0h0m8 -2h0m0 2h0m5 -1h0m6 0h0m112 -1h0m13 1h0m9 1h0m7 -1h0m6 -2h0m17 0h0m2 2h0m23 -1h0m2 2h0m10 -1h0m6 0h0m2 -1h0m5 1h0m10 0h0m10 -2h0m1 1h0m3 0h0m9 1h0m26 -1h0m51 1h0m55 0h0m13 0h0m1 -2h0m0 2h0m5 0h0m4 0h0m2 -1h0m14 0h0m2 2h0m5 -2h0m2 2h0m180 -1h0m2 0h0m4 0h0m48 -2h0m29 1h0"/><path stroke="#9a9ac0" stroke-width="3" d="M566 530h0m273 1h0m22 -1h0m33 1h0m25 -1h0m3 -1h0m1 0h0m78 0h0m60 1h0m7 0h0m25 1h0m104 -3h0m30 2h0m22 1h0m15 -1h0m6 0h0m5 0h0m25 0h0m52 0h0m7 -1h0m254 2h0m4 -1h0m43 0h0m4 1h0m45 -2h0m127 0h0m4 -1h0m0 3h0m17 -3h0m2 0h0m10 1h0m35 0h0m17 1h0m2 1h0m25 -3h0m1 1h0m5 1h0m151 0h0m19 -1h0m5 0h0m18 1h0m1 -2h0m32 0h0m121 2h0m8 1h0m58 0h0"/><path stroke="#9a9ac0" stroke-width="4" d="M341 530h0m64 -1h0m68 1h0m332 -1h0m18 0h0m56 1h0m11 -1h0m15 -1h0m2 1h0m15 0h0m3 2h0m161 -1h0m9 0h0m15 1h0m27 -2h0m7 0h0m4 1h0m13 0h0m68 -1h0m1 0h0m16 1h0m12 -1h0m12 1h0m46 -1h0m38 1h0m10 -2h0m3 3h0m2 -2h0m105 1h0m0 1h0m145 -2h0m7 1h0m3 0h0m3 -1h0m11 2h0m14 0h0m1 -3h0m28 1h0m8 2h0m8 0h0m128 -2h0m9 1h0m14 -2h0m24 3h0m3 -3h0m54 3h0m27 -3h0m155 2h0m8 0h0m25 -1h0m182 2h0m25 -2h0m3 0h0m27 2h0"/><path stroke="#9a9ac0" stroke-width="5" d="M167 529h0m180 0h0m31 1h0m22 -1h0m122 1h0m41 -2h0m294 0h0m2 2h0m66 1h0m166 0h0m55 -1h0m57 0h0m23 -1h0m4 2h0m20 -2h0m9 1h0m5 -1h0m10 1h0m13 -1h0m5 2h0m6 -2h0m11 -1h0m6 3h0m8 -1h0m2 0h0m289 0h0m15 -2h0m5 2h0m5 0h0m1 -2h0m4 1h0m13 1h0m17 -1h0m19 2h0m8 -3h0m11 3h0m34 -2h0m80 2h0m48 -3h0m1 2h0m1 -2h0m30 3h0m2 0h0m4 -3h0m1 2h0m9 -2h0m15 1h0m26 -1h0m137 3h0m3 -1h0m11 0h0m23 0h0m1 0h0m4 0h0m5 0h0m2 -1h0m146 1h0m43 0h0m80 -2h0m10 1h0"/><path stroke="#9a9ac0" stroke-width="6" d="M797 530h0m1 -2h0m53 2h0m2 -1h0m23 2h0m18 -2h0m14 0h0m20 0h0m160 0h0m58 1h0m48 1h0m12 -2h0m2 -1h0m15 2h0m15 -1h0m5 -1h0m7 2h0m6 -2h0m4 2h0m7 1h0m2 0h0m162 -3h0m71 2h0m122 -2h0m47 2h0m7 0h0m24 -2h0m4 1h0m127 0h0m45 0h0m35 1h0m5 -1h0m17 1h0m22 -1h0m145 -1h0m2 2h0m9 0h0m1 1h0m13 -2h0m1 0h0m3 -1h0m2 0h0m14 2h0m231 1h0"/><path stroke="#9a9ac0" stroke-width="7" d="M841 530h0m1 -2h0m3 0h0m6 1h0m67 1h0m250 -1h0m27 -1h0m36 0h0m36 1h0m3 0h0m42 1h0m51 -1h0m13 1h0m13 -1h0m89 1h0m194 -1h0m18 2h0m9 -1h0m2 -1h0m132 0h0m2 -1h0m30 1h0m7 1h0m2 -2h0m42 2h0m16 -1h0m3 0h0m17 1h0m152 -1h0m12 1h0m12 0h0m4 0h0m104 0h0m79 1h0m5 -2h0m29 2h0m35 -1h0m26 0h0m6 -1h0"/><path stroke="#9a9ac0" stroke-width="8" d="M163 530h0m276 -2h0m385 2h0m35 -1h0m35 2h0m15 -2h0m16 2h0m4 0h0m263 -2h0m0 1h0m13 1h0m33 -2h0m15 0h0m25 -1h0m7 1h0m30 1h0m9 -2h0m65 2h0m91 0h0m134 -2h0m3 2h0m0 1h0m18 -2h0m55 2h0m23 -1h0m90 -1h0m69 1h0m46 0h0m4 -1h0m5 1h0m24 -1h0m33 0h0m66 0h0m47 1h0m44 1h0m16 0h0m14 -2h0m153 1h0m92 -1h0m13 1h0"/><path stroke="#9a9ac0" stroke-width="9" d="M798 529h0m90 -1h0m336 3h0m15 0h0m13 -1h0m10 0h0m8 0h0m3 -1h0m17 -1h0m34 1h0m59 0h0m15 2h0m218 -3h0m0 3h0m13 -1h0m42 0h0m29 -1h0m134 -1h0m19 2h0m5 -1h0m43 0h0m15 2h0m16 0h0m13 -3h0m0 1h0m128 -1h0m26 1h0m10 0h0m4 1h0m2 0h0m12 -1h0m23 2h0m24 -1h0m42 -1h0m79 2h0m25 -1h0m17 1h0m41 0h0m57 -1h0"/><path stroke="#9d9dc1" stroke-width="1" d="M192 533h0m437 -1h0m638 2h0m690 -1h0m172 1h0"/><path stroke="#9d9dc1" stroke-width="2" d="M175 532h0m168 1h0m264 -1h0m20 0h0m23 1h0m161 0h0m24 0h0m19 1h0m19 -2h0m2 1h0m5 0h0m10 -1h0m17 0h0m3 1h0m15 -1h0m140 2h0m7 -2h0m2 0h0m16 -1h0m1 2h0m1 -2h0m39 3h0m17 0h0m57 -2h0m6 1h0m6 -1h0m1 -1h0m1 2h0m37 0h0m7 -1h0m1 2h0m2 0h0m12 -2h0m12 -1h0m4 1h0m10 -1h0m47 2h0m2 -1h0m46 1h0m53 -1h0m25 0h0m138 0h0m27 1h0m17 -2h0m38 1h0m177 0h0m0 1h0m39 -2h0m38 1h0m88 -1h0m75 0h0m5 2h0m2 -2h0m71 2h0m117 0h0m9 0h0m0 1h0m70 -1h0m24 1h0m16 0h0"/><path stroke="#9d9dc1" stroke-width="3" d="M243 532h0m143 0h0m55 -1h0m54 1h0m20 -1h0m336 2h0m7 -1h0m10 0h0m11 0h0m8 0h0m36 -1h0m148 0h0m72 2h0m28 1h0m56 -1h0m16 -1h0m8 1h0m6 -2h0m38 3h0m3 -3h0m16 0h0m39 3h0m21 -1h0m16 0h0m25 -1h0m209 0h0m9 0h0m12 -1h0m4 3h0m14 -1h0m5 -1h0m4 1h0m19 0h0m16 -2h0m6 1h0m119 -1h0m4 3h0m11 -2h0m8 2h0m5 -2h0m15 0h0m82 1h0m26 -2h0m55 3h0m62 -1h0m41 0h0m6 0h0m4 0h0m7 0h0m20 -1h0m12 1h0m37 -1h0m90 0h0m46 1h0m1 0h0m17 1h0m36 -2h0"/><path stroke="#9d9dc1" stroke-width="4" d="M185 533h0m4 1h0m619 -3h0m17 0h0m22 1h0m5 1h0m7 0h0m1 0h0m1 1h0m22 0h0m23 -3h0m54 2h0m109 0h0m35 -1h0m22 1h0m71 1h0m12 -2h0m12 0h0m7 2h0m30 -3h0m2 3h0m11 -2h0m7 0h0m29 1h0m4 0h0m3 -2h0m51 1h0m0 1h0m26 0h0m10 1h0m213 -2h0m16 1h0m18 -1h0m24 -1h0m2 1h0m10 1h0m20 0h0m130 0h0m35 -2h0m0 1h0m8 -1h0m2 2h0m53 -2h0m12 1h0m2 1h0m7 -2h0m2 3h0m60 -3h0m66 2h0m13 0h0m25 1h0m13 -3h0m18 0h0m61 3h0m88 -1h0m9 1h0m7 -1h0m8 -2h0m118 3h0"/><path stroke="#9d9dc1" stroke-width="5" d="M381 532h0m219 -1h0m22 1h0m226 1h0m69 -2h0m4 2h0m1 -1h0m169 0h0m1 2h0m59 -3h0m41 3h0m67 -1h0m9 -1h0m30 2h0m68 -2h0m13 0h0m13 0h0m114 -1h0m0 2h0m108 1h0m7 0h0m6 0h0m60 -1h0m4 0h0m7 -2h0m2 2h0m1 -1h0m9 1h0m3 1h0m55 -3h0m60 2h0m11 -1h0m18 -1h0m0 3h0m13 -1h0m30 0h0m45 -1h0m6 -1h0m93 3h0m62 0h0m25 -2h0m1 1h0m14 -2h0m160 2h0m3 0h0m25 -2h0m12 1h0m38 0h0m29 -1h0m2 1h0m3 -1h0"/><path stroke="#9d9dc1" stroke-width="6" d="M516 533h0m337 -2h0m43 1h0m3 0h0m19 2h0m28 -2h0m241 1h0m3 -1h0m1 -1h0m60 0h0m11 2h0m21 1h0m2 0h0m4 -1h0m37 -1h0m35 -1h0m11 0h0m26 1h0m19 1h0m228 -1h0m190 2h0m9 -1h0m3 1h0m8 0h0m60 -3h0m5 0h0m1 1h0m29 0h0m8 1h0m2 0h0m137 -2h0m8 3h0m10 -2h0m9 1h0m14 0h0m7 -1h0m6 0h0m37 -1h0m116 2h0m29 -1h0m9 -1h0m33 3h0m23 0h0m1 -2h0m10 -1h0m18 2h0"/><path stroke="#9d9dc1" stroke-width="7" d="M309 533h0m123 -1h0m369 2h0m14 -1h0m48 -1h0m17 0h0m17 2h0m270 -1h0m52 -1h0m27 -1h0m22 1h0m6 1h0m0 1h0m9 -2h0m25 1h0m18 0h0m104 1h0m189 -2h0m5 1h0m6 -2h0m14 1h0m46 0h0m137 1h0m2 -1h0m18 0h0m6 -1h0m2 1h0m4 1h0m16 1h0m73 -3h0m7 3h0m154 -2h0m35 -1h0m173 3h0m4 -2h0m67 1h0m41 0h0"/><path stroke="#9d9dc1" stroke-width="8" d="M814 532h0m3 1h0m19 -1h0m12 0h0m2 0h0m22 1h0m19 1h0m5 -2h0m99 0h0m90 2h0m170 -1h0m2 -1h0m3 1h0m6 0h0m9 -2h0m49 0h0m41 0h0m74 2h0m192 -1h0m17 -1h0m23 1h0m10 1h0m10 -2h0m7 1h0m9 1h0m2 0h0m134 -2h0m21 1h0m8 -1h0m67 1h0m144 -1h0m13 0h0m3 0h0m12 2h0m25 -1h0m4 -1h0m0 2h0m156 0h0m35 -1h0m1 1h0m20 0h0m3 -1h0m77 -1h0"/><path stroke="#9d9dc1" stroke-width="9" d="M596 533h0m54 -2h0m146 2h0m53 0h0m69 -2h0m312 0h0m0 1h0m29 -1h0m7 1h0m0 1h0m2 0h0m38 -2h0m19 3h0m68 -1h0m3 -1h0m217 0h0m25 2h0m20 0h0m27 -2h0m11 -1h0m1 2h0m4 -1h0m6 1h0m6 -1h0m130 2h0m24 0h0m7 0h0m45 -2h0m31 -1h0m19 0h0m96 2h0m54 1h0m4 -2h0m8 -1h0m195 3h0m23 -2h0m52 0h0m15 0h0"/><path stroke="#a0a0c2" stroke-width="1" d="M612 535h0m249 -1h0m348 1h0m65 1h0m899 -1h0"/><path stroke="#a0a0c2" stroke-width="2" d="M176 535h0m101 0h0m278 1h0m246 0h0m3 0h0m16 0h0m2 -2h0m16 2h0m2 0h0m0 1h0m6 -3h0m20 1h0m10 0h0m30 -1h0m3 2h0m11 -1h0m1 0h0m5 0h0m93 0h0m52 -1h0m4 3h0m9 -1h0m2 1h0m1 -3h0m14 2h0m7 -1h0m61 2h0m23 -3h0m12 2h0m6 -1h0m25 0h0m26 1h0m3 -1h0m6 -1h0m9 1h0m12 0h0m5 0h0m18 0h0m52 -1h0m12 2h0m10 1h0m5 -2h0m47 0h0m175 -1h0m39 3h0m5 0h0m14 -3h0m152 2h0m19 -1h0m1 0h0m2 2h0m7 0h0m5 -1h0m2 -1h0m19 0h0m54 1h0m2 -1h0m20 0h0m3 2h0m174 0h0m2 -1h0m9 -2h0m2 3h0m1 -2h0m5 0h0m58 0h0m21 2h0"/><path stroke="#a0a0c2" stroke-width="3" d="M268 537h0m18 -3h0m21 2h0m61 -1h0m483 1h0m11 -1h0m10 0h0m5 1h0m2 -1h0m4 1h0m39 -1h0m3 1h0m75 -2h0m71 1h0m4 1h0m10 -2h0m11 3h0m10 -3h0m28 1h0m13 1h0m24 1h0m18 -1h0m4 0h0m11 -2h0m1 1h0m10 2h0m27 -1h0m23 0h0m19 -1h0m15 0h0m5 1h0m7 -1h0m0 1h0m12 1h0m1 0h0m49 -2h0m6 1h0m0 1h0m10 -1h0m230 -2h0m2 2h0m7 -1h0m6 0h0m5 0h0m7 -1h0m67 2h0m137 1h0m13 -2h0m11 2h0m4 -1h0m21 -2h0m31 1h0m5 1h0m22 -1h0m1 1h0m24 -1h0m34 -1h0m37 3h0m64 -3h0m1 2h0m22 -2h0m68 2h0m87 -1h0m22 0h0m24 1h0m24 -1h0m22 2h0"/><path stroke="#a0a0c2" stroke-width="4" d="M254 535h0m44 1h0m45 1h0m7 -2h0m35 1h0m429 -2h0m12 2h0m69 -2h0m2 1h0m1 0h0m8 0h0m209 -1h0m14 1h0m42 1h0m48 1h0m1 -3h0m10 2h0m5 -1h0m14 0h0m0 1h0m24 1h0m1 -3h0m10 0h0m24 1h0m16 0h0m29 0h0m86 0h0m119 2h0m49 -3h0m23 2h0m42 0h0m19 -2h0m22 2h0m111 1h0m16 -2h0m10 -1h0m20 0h0m2 1h0m4 0h0m24 1h0m22 -2h0m17 3h0m15 -1h0m86 -1h0m76 -1h0m14 2h0m8 -1h0m27 -1h0m203 0h0m34 0h0m11 2h0m6 1h0m7 -2h0"/><path stroke="#a0a0c2" stroke-width="5" d="M450 536h0m163 0h0m34 -2h0m1 1h0m167 0h0m2 -1h0m91 2h0m12 -1h0m221 2h0m1 -2h0m60 -1h0m49 2h0m14 -1h0m60 0h0m38 0h0m8 0h0m20 -1h0m230 0h0m1 1h0m51 1h0m17 -1h0m3 -1h0m0 2h0m140 -1h0m10 1h0m23 0h0m2 0h0m46 -1h0m2 1h0m9 1h0m23 -1h0m6 -2h0m155 0h0m8 1h0m10 0h0m30 1h0m17 1h0m122 -1h0m9 -1h0m39 0h0m32 -1h0m1 1h0m6 2h0m36 -1h0"/><path stroke="#a0a0c2" stroke-width="6" d="M305 536h0m23 -1h0m5 1h0m114 1h0m91 -1h0m23 0h0m264 -2h0m35 1h0m3 2h0m11 -2h0m147 0h0m211 0h0m35 1h0m41 0h0m75 -1h0m14 1h0m5 0h0m54 1h0m161 -2h0m26 0h0m5 -1h0m51 2h0m11 1h0m123 -2h0m18 2h0m4 -1h0m8 -1h0m4 0h0m88 -1h0m158 3h0m18 -1h0m6 -1h0m2 2h0m10 -1h0m35 1h0m163 -2h0m45 1h0m7 1h0m19 -1h0"/><path stroke="#a0a0c2" stroke-width="7" d="M550 535h0m29 2h0m280 0h0m367 -3h0m35 2h0m3 -2h0m61 0h0m309 2h0m60 -1h0m42 0h0m81 0h0m26 2h0m35 -3h0m76 0h0m3 0h0m1 1h0m122 2h0m2 -1h0m37 1h0m4 -3h0m200 2h0m55 0h0m17 1h0"/><path stroke="#a0a0c2" stroke-width="8" d="M313 535h0m302 0h0m210 1h0m26 -2h0m19 2h0m7 -2h0m228 1h0m88 1h0m58 -2h0m2 1h0m41 0h0m67 1h0m13 -2h0m51 2h0m19 -1h0m216 -1h0m12 2h0m240 0h0m7 -1h0m31 0h0m163 1h0m11 -2h0m3 2h0m17 0h0m1 -1h0m150 2h0m25 -1h0m8 1h0m8 -3h0m5 0h0m55 3h0"/><path stroke="#a0a0c2" stroke-width="9" d="M645 535h0m233 1h0m15 0h0m3 -1h0m24 0h0m8 0h0m320 0h0m26 1h0m8 0h0m16 -1h0m2 2h0m21 -2h0m3 -1h0m45 2h0m13 -2h0m51 2h0m14 0h0m190 -1h0m52 -1h0m8 3h0m4 -1h0m4 -1h0m129 0h0m12 -1h0m13 1h0m5 0h0m45 0h0m25 2h0m180 -1h0m3 -1h0m20 2h0m6 -1h0m4 0h0m84 1h0m73 -3h0m8 1h0m30 1h0"/><path stroke="#a3a3c3" stroke-width="1" d="M526 538h0m39 0h0m692 1h0m779 -1h0m348 2h0"/><path stroke="#a3a3c3" stroke-width="2" d="M164 539h0m23 -1h0m5 -1h0m76 1h0m97 1h0m128 -2h0m21 3h0m89 -2h0m182 2h0m36 -2h0m52 1h0m18 1h0m3 -1h0m2 -1h0m72 2h0m119 -1h0m3 -1h0m2 -1h0m2 1h0m55 1h0m60 0h0m47 0h0m4 -1h0m7 0h0m60 2h0m25 -1h0m1 0h0m11 0h0m6 -2h0m14 2h0m200 0h0m23 -1h0m6 0h0m5 -1h0m30 1h0m47 -1h0m6 2h0m1 -1h0m9 1h0m53 1h0m64 -3h0m48 1h0m2 -1h0m1 1h0m2 2h0m43 -1h0m25 -1h0m1 0h0m3 2h0m132 -2h0m38 2h0m1 -1h0m5 0h0m1 -1h0m28 0h0m34 1h0m105 0h0m1 -2h0m19 2h0m84 -1h0m11 2h0m2 -2h0"/><path stroke="#a3a3c3" stroke-width="3" d="M301 540h0m248 -3h0m254 3h0m16 0h0m6 -1h0m27 0h0m39 0h0m176 0h0m3 0h0m93 -1h0m13 2h0m14 -2h0m0 1h0m2 1h0m4 -1h0m15 -1h0m65 2h0m29 0h0m1 -2h0m10 0h0m56 1h0m11 0h0m147 -2h0m86 1h0m21 0h0m28 1h0m28 -1h0m138 0h0m11 2h0m12 -3h0m11 2h0m7 -1h0m1 0h0m3 0h0m27 0h0m16 2h0m3 0h0m12 -1h0m14 -1h0m2 0h0m5 1h0m25 0h0m143 -1h0m4 0h0m11 0h0m162 0h0m11 -1h0m22 1h0m23 1h0m29 1h0m8 0h0m16 -1h0"/><path stroke="#a3a3c3" stroke-width="4" d="M813 537h0m1 1h0m80 1h0m3 0h0m1 0h0m3 0h0m185 0h0m22 0h0m38 0h0m19 0h0m74 -1h0m34 2h0m16 -2h0m15 2h0m22 -1h0m38 -1h0m3 0h0m6 2h0m16 -2h0m53 2h0m155 0h0m21 0h0m72 -3h0m18 2h0m1 1h0m165 -2h0m3 1h0m7 -1h0m70 -1h0m23 1h0m135 1h0m3 -2h0m11 0h0m3 1h0m6 1h0m4 -2h0m2 1h0m29 1h0m3 0h0m12 -1h0m117 0h0m53 0h0"/><path stroke="#a3a3c3" stroke-width="5" d="M608 538h0m12 0h0m177 0h0m9 1h0m74 -1h0m36 -1h0m4 1h0m2 1h0m6 -1h0m169 1h0m37 1h0m31 -1h0m26 0h0m67 -1h0m16 2h0m23 0h0m13 0h0m42 -1h0m91 -1h0m35 0h0m23 0h0m130 0h0m1 2h0m5 -2h0m17 -1h0m25 0h0m22 3h0m11 -1h0m141 0h0m3 -2h0m2 1h0m7 1h0m10 -1h0m24 0h0m16 0h0m30 1h0m7 1h0m6 -3h0m159 1h0m7 -1h0m0 2h0m2 -1h0m93 1h0m2 -1h0m87 1h0m3 -1h0m8 1h0m6 0h0m6 -1h0m44 0h0m18 0h0m41 0h0"/><path stroke="#a3a3c3" stroke-width="6" d="M173 539h0m4 0h0m101 0h0m32 -1h0m29 -1h0m196 3h0m45 0h0m230 -2h0m50 0h0m69 1h0m90 1h0m10 0h0m61 -3h0m114 0h0m1 1h0m23 1h0m24 0h0m1 -1h0m24 -1h0m36 3h0m48 -1h0m5 -1h0m40 0h0m74 1h0m139 -2h0m96 3h0m50 -3h0m88 2h0m1 -1h0m16 -1h0m35 2h0m28 -1h0m161 0h0m20 1h0m12 0h0m45 0h0m43 -1h0m81 0h0m19 0h0m6 -1h0m58 3h0m9 -2h0m42 0h0m10 1h0"/><path stroke="#a3a3c3" stroke-width="7" d="M329 540h0m27 -1h0m254 -2h0m7 3h0m237 -2h0m54 -1h0m12 2h0m6 -1h0m150 1h0m62 0h0m35 -2h0m16 2h0m5 -2h0m4 2h0m3 0h0m5 -2h0m3 0h0m14 1h0m27 1h0m8 -1h0m37 2h0m90 0h0m8 -2h0m31 0h0m15 0h0m199 0h0m7 2h0m69 0h0m49 -1h0m34 0h0m29 -1h0m41 1h0m9 0h0m74 -1h0m148 0h0m33 2h0m1 -2h0m6 1h0m4 -1h0m5 0h0m24 2h0m21 -1h0m247 -1h0"/><path stroke="#a3a3c3" stroke-width="8" d="M267 538h0m75 2h0m60 -2h0m64 0h0m93 -1h0m248 1h0m83 -1h0m38 1h0m233 1h0m57 0h0m13 -1h0m18 2h0m24 -3h0m105 1h0m238 -1h0m43 2h0m20 -1h0m156 0h0m29 -1h0m50 1h0m6 1h0m15 0h0m193 -1h0m8 1h0m175 0h0m4 -1h0m28 1h0m79 -1h0m0 1h0m5 1h0"/><path stroke="#a3a3c3" stroke-width="9" d="M167 540h0m86 -2h0m180 2h0m347 0h0m42 -3h0m59 3h0m42 0h0m29 -2h0m303 1h0m21 0h0m12 0h0m211 -1h0m61 -1h0m104 1h0m161 1h0m26 -1h0m3 1h0m11 -1h0m3 2h0m9 -2h0m52 1h0m29 1h0m61 -2h0m94 0h0m11 2h0m6 -3h0m0 1h0m16 2h0m150 -2h0m19 -1h0m0 2h0m5 -2h0m27 3h0m70 0h0"/><path stroke="#a6a6c4" stroke-width="1" d="M372 542h0m556 1h0m281 -1h0m56 -2h0m99 1h0m78 0h0m506 0h0m5 0h0m1 0h0"/><path stroke="#a6a6c4" stroke-width="2" d="M272 542h0m59 0h0m13 1h0m51 0h0m3 -3h0m428 0h0m18 2h0m81 -1h0m2 1h0m95 -2h0m22 1h0m12 0h0m17 2h0m18 -2h0m0 1h0m3 -1h0m13 0h0m20 -1h0m6 2h0m73 1h0m34 -2h0m10 -1h0m12 0h0m22 0h0m9 0h0m8 0h0m56 3h0m6 -3h0m8 1h0m6 2h0m62 -1h0m35 1h0m142 -2h0m13 1h0m111 -1h0m85 1h0m37 1h0m17 0h0m1 -3h0m73 0h0m0 1h0m108 2h0m34 -1h0m11 0h0m6 -1h0m15 1h0m3 -1h0m15 1h0m1 -1h0m71 1h0m180 -2h0m8 1h0m4 -1h0m7 2h0"/><path stroke="#a6a6c4" stroke-width="3" d="M630 543h0m169 -3h0m14 1h0m24 -1h0m85 1h0m2 0h0m26 0h0m157 -1h0m24 1h0m57 2h0m5 -1h0m14 -1h0m37 2h0m1 -2h0m5 1h0m2 -2h0m32 0h0m12 1h0m20 0h0m11 2h0m28 -1h0m17 -2h0m2 2h0m21 -1h0m45 0h0m26 0h0m208 -1h0m81 2h0m104 -2h0m6 1h0m8 1h0m6 -2h0m0 2h0m42 -1h0m36 0h0m1 1h0m1 -1h0m178 1h0m5 -1h0m165 -1h0m4 2h0m13 1h0"/><path stroke="#a6a6c4" stroke-width="4" d="M299 541h0m610 1h0m14 -2h0m95 2h0m56 -2h0m57 1h0m56 1h0m4 -1h0m22 0h0m32 2h0m19 -2h0m38 0h0m15 -1h0m45 0h0m35 3h0m243 -1h0m19 -1h0m0 1h0m175 -1h0m7 0h0m10 1h0m24 0h0m46 0h0m37 -1h0m44 -1h0m103 0h0m30 1h0m44 1h0m5 1h0m164 -1h0m79 -1h0m5 1h0"/><path stroke="#a6a6c4" stroke-width="5" d="M168 542h0m204 1h0m26 0h0m159 -3h0m267 2h0m49 0h0m4 0h0m3 -2h0m34 0h0m6 1h0m5 0h0m7 0h0m13 1h0m20 -1h0m127 1h0m69 -2h0m34 2h0m8 0h0m32 -2h0m12 0h0m11 2h0m22 0h0m14 -1h0m13 2h0m132 -3h0m66 3h0m175 -3h0m16 0h0m15 1h0m0 1h0m2 -2h0m128 1h0m2 0h0m7 1h0m9 0h0m10 0h0m35 0h0m14 -2h0m7 1h0m3 0h0m34 1h0m150 -2h0m15 2h0m1 1h0m14 -2h0m4 0h0m43 0h0m2 1h0m122 0h0m7 -2h0m8 1h0"/><path stroke="#a6a6c4" stroke-width="6" d="M123 543h0m5 0h0m60 -1h0m149 -1h0m469 0h0m19 1h0m32 -1h0m4 0h0m35 -1h0m355 0h0m1 2h0m12 1h0m11 -2h0m143 2h0m22 -1h0m146 -2h0m44 0h0m13 2h0m9 1h0m135 -1h0m31 -1h0m17 2h0m18 -1h0m23 0h0m34 -1h0m8 1h0m7 1h0m5 -1h0m1 0h0m18 -1h0m38 1h0m10 -1h0m1 2h0m159 -2h0m1 2h0m7 0h0m10 0h0m181 -1h0"/><path stroke="#a6a6c4" stroke-width="7" d="M798 542h0m155 1h0m242 -2h0m15 2h0m17 -2h0m37 1h0m15 -2h0m45 2h0m42 1h0m249 -3h0m98 1h0m132 1h0m11 1h0m20 -3h0m25 2h0m58 -1h0m4 2h0m64 0h0m17 0h0m73 -1h0m32 0h0m25 1h0m5 0h0m45 -2h0m8 1h0m67 0h0m38 0h0m39 0h0m2 -2h0m32 1h0m17 1h0m7 -1h0"/><path stroke="#a6a6c4" stroke-width="8" d="M282 543h0m49 -2h0m9 2h0m136 -3h0m272 2h0m72 0h0m2 1h0m40 0h0m1 -2h0m22 1h0m189 1h0m147 -1h0m12 -1h0m6 0h0m7 1h0m2 1h0m24 -2h0m33 2h0m18 -2h0m42 0h0m75 1h0m61 -1h0m84 -1h0m28 2h0m42 0h0m201 -2h0m64 1h0m27 0h0m66 -1h0m66 1h0m17 -1h0m47 2h0m293 -2h0"/><path stroke="#a6a6c4" stroke-width="9" d="M355 541h0m448 0h0m115 0h0m10 -1h0m260 2h0m37 0h0m35 -2h0m0 1h0m15 0h0m9 1h0m43 0h0m38 -1h0m8 1h0m20 -1h0m59 1h0m170 -2h0m77 1h0m169 0h0m45 0h0m6 2h0m30 0h0m39 -1h0m81 -1h0m50 0h0m10 0h0m32 1h0m22 -1h0m39 0h0m165 -1h0m20 1h0"/><path stroke="#a9a9c5" stroke-width="1" d="M800 543h0m259 2h0m887 -1h0m271 1h0"/><path stroke="#a9a9c5" stroke-width="2" d="M406 545h0m158 -1h0m314 0h0m13 0h0m78 0h0m51 1h0m1 1h0m65 -1h0m1 -1h0m62 -1h0m12 2h0m36 0h0m45 0h0m1 1h0m28 -2h0m5 1h0m2 -1h0m3 0h0m16 0h0m25 1h0m5 -1h0m43 -1h0m4 1h0m3 0h0m78 -1h0m23 1h0m27 0h0m103 2h0m12 -2h0m59 1h0m3 0h0m17 -2h0m12 0h0m56 3h0m52 -1h0m26 -2h0m8 2h0m13 0h0m62 0h0m5 -2h0m21 2h0m3 -1h0m123 2h0m31 -2h0m17 -1h0m2 2h0m8 -1h0m3 -1h0m2 3h0m2 -2h0m171 2h0m4 -2h0m13 1h0m104 -2h0"/><path stroke="#a9a9c5" stroke-width="3" d="M126 544h0m43 -1h0m115 1h0m55 2h0m146 -1h0m23 0h0m21 0h0m89 -1h0m205 1h0m49 1h0m44 -1h0m221 -2h0m12 2h0m1 -1h0m13 0h0m1 -1h0m3 1h0m25 2h0m6 -3h0m19 2h0m13 -2h0m26 1h0m9 -1h0m3 2h0m16 1h0m96 -2h0m9 2h0m77 -2h0m89 -1h0m28 2h0m18 0h0m42 -1h0m36 1h0m1 1h0m31 -3h0m32 0h0m24 0h0m113 1h0m20 0h0m20 0h0m1 -1h0m1 0h0m33 2h0m7 -1h0m103 1h0m83 -2h0m21 3h0m10 -3h0m135 2h0m44 -1h0m34 2h0m13 -1h0"/><path stroke="#a9a9c5" stroke-width="4" d="M278 544h0m14 1h0m94 -2h0m51 2h0m75 1h0m237 -1h0m78 0h0m40 0h0m30 -2h0m8 1h0m151 1h0m33 -1h0m3 1h0m53 0h0m50 -1h0m0 1h0m20 0h0m101 0h0m44 -1h0m30 2h0m74 -3h0m2 2h0m7 0h0m5 0h0m29 0h0m108 -1h0m256 0h0m178 0h0m63 2h0m37 -1h0m16 -1h0m145 -1h0m28 2h0m80 -1h0"/><path stroke="#a9a9c5" stroke-width="5" d="M508 545h0m94 -1h0m244 -1h0m11 1h0m1 0h0m64 0h0m99 0h0m50 0h0m18 1h0m156 0h0m35 1h0m16 -1h0m97 -1h0m1 1h0m37 -2h0m18 2h0m7 -1h0m23 2h0m134 -1h0m5 1h0m63 -1h0m62 -1h0m113 1h0m1 -2h0m7 1h0m7 -1h0m31 2h0m3 0h0m7 -1h0m23 1h0m160 0h0m9 -2h0m24 2h0m2 0h0m3 -1h0m6 -1h0m5 3h0m6 -3h0m60 2h0m111 0h0m76 -2h0m38 2h0"/><path stroke="#a9a9c5" stroke-width="6" d="M161 544h0m116 0h0m363 0h0m29 1h0m28 1h0m197 0h0m15 -1h0m9 0h0m273 -1h0m13 0h0m2 2h0m6 -1h0m5 -2h0m74 1h0m187 0h0m0 2h0m136 -3h0m26 0h0m59 1h0m8 1h0m131 0h0m1 -2h0m1 0h0m39 0h0m43 2h0m13 0h0m17 0h0m133 -1h0m20 1h0m40 -1h0m171 1h0m13 0h0"/><path stroke="#a9a9c5" stroke-width="7" d="M471 545h0m100 0h0m33 1h0m22 -2h0m95 0h0m83 2h0m18 -1h0m36 -1h0m331 0h0m22 0h0m15 0h0m2 2h0m9 -2h0m0 1h0m18 -1h0m8 -1h0m27 2h0m22 1h0m167 -2h0m106 1h0m93 0h0m5 0h0m85 0h0m76 -1h0m7 0h0m22 -1h0m0 1h0m2 2h0m25 -3h0m52 2h0m85 -1h0m49 2h0m4 -1h0m44 0h0m109 -1h0m63 1h0m102 0h0m22 -1h0"/><path stroke="#a9a9c5" stroke-width="8" d="M161 545h0m193 -1h0m265 1h0m237 -1h0m16 1h0m337 0h0m23 -1h0m64 -1h0m31 2h0m31 0h0m58 -1h0m190 1h0m10 -2h0m60 2h0m156 1h0m11 -1h0m79 0h0m33 1h0m130 -1h0m46 0h0m4 -1h0m21 0h0m19 2h0m17 -1h0m45 0h0m77 0h0m3 -2h0m74 2h0"/><path stroke="#a9a9c5" stroke-width="9" d="M180 546h0m119 -2h0m301 0h0m156 0h0m64 -1h0m18 2h0m18 -1h0m162 1h0m263 0h0m12 -2h0m33 0h0m26 1h0m14 2h0m35 -1h0m41 0h0m147 0h0m25 0h0m3 0h0m21 0h0m36 0h0m32 -1h0m116 0h0m25 1h0m63 -1h0m11 -1h0m259 1h0m122 2h0m2 -2h0m15 2h0m1 -2h0m1 0h0m98 -1h0m9 3h0"/><path stroke="#acacc6" stroke-width="1" d="M769 548h0m556 0h0m590 0h0m264 -1h0m123 1h0"/><path stroke="#acacc6" stroke-width="2" d="M150 549h0m9 -1h0m19 0h0m31 0h0m60 0h0m59 -1h0m82 0h0m31 0h0m123 1h0m65 1h0m69 0h0m157 -2h0m7 -1h0m13 3h0m33 -1h0m79 1h0m77 -2h0m1 0h0m4 0h0m5 0h0m13 1h0m77 -1h0m46 -1h0m12 3h0m18 -1h0m1 0h0m2 -2h0m44 1h0m6 0h0m15 0h0m0 1h0m66 -1h0m6 1h0m81 0h0m216 0h0m3 1h0m116 -1h0m26 -1h0m9 0h0m3 -1h0m0 2h0m32 0h0m148 -1h0m84 0h0m11 -1h0m4 1h0m207 0h0m98 1h0"/><path stroke="#acacc6" stroke-width="3" d="M171 548h0m27 -1h0m149 1h0m18 0h0m176 1h0m94 0h0m1 -3h0m238 1h0m8 2h0m1 -1h0m24 -1h0m16 2h0m42 -1h0m126 -1h0m231 1h0m92 -2h0m212 3h0m2 0h0m1 -1h0m2 0h0m44 0h0m3 -1h0m91 1h0m77 0h0m2 1h0m10 -1h0m69 -2h0m0 2h0m9 -1h0m17 1h0m2 -1h0m158 0h0m14 0h0m11 0h0m159 1h0m2 -1h0m17 2h0m2 0h0m5 -1h0m7 -2h0m14 2h0m89 1h0"/><path stroke="#acacc6" stroke-width="4" d="M129 546h0m280 3h0m182 -3h0m206 3h0m81 -2h0m16 1h0m163 1h0m38 0h0m68 -2h0m60 1h0m6 0h0m27 -1h0m17 1h0m25 0h0m16 0h0m165 -1h0m75 1h0m71 1h0m4 0h0m37 0h0m11 -2h0m1 0h0m3 1h0m2 1h0m7 -3h0m20 3h0m55 -2h0m81 0h0m7 0h0m16 2h0m76 -1h0m30 0h0m45 -1h0m0 1h0m95 0h0m15 1h0m52 -2h0m10 0h0m104 -1h0m1 1h0m3 2h0m16 -3h0m79 0h0"/><path stroke="#acacc6" stroke-width="5" d="M263 548h0m42 -1h0m25 1h0m23 0h0m119 -1h0m29 1h0m58 -2h0m388 2h0m101 -1h0m184 1h0m24 -1h0m59 2h0m8 -1h0m46 -2h0m29 3h0m55 -2h0m99 1h0m64 0h0m56 1h0m4 -2h0m2 1h0m5 -2h0m52 0h0m92 1h0m17 0h0m12 1h0m242 0h0m18 0h0m51 -1h0m16 0h0m16 1h0m120 -1h0m44 0h0m46 1h0"/><path stroke="#acacc6" stroke-width="6" d="M207 548h0m164 -1h0m134 0h0m0 1h0m64 -1h0m38 2h0m30 0h0m131 -2h0m4 1h0m27 -1h0m71 1h0m53 0h0m23 -1h0m266 0h0m98 2h0m44 -1h0m28 -1h0m33 0h0m37 0h0m3 1h0m20 1h0m101 -1h0m50 0h0m51 -2h0m87 1h0m75 0h0m11 -1h0m7 1h0m2 2h0m100 -2h0m16 0h0m204 -1h0m51 1h0m73 0h0m8 2h0m8 -1h0m39 -2h0m5 0h0"/><path stroke="#acacc6" stroke-width="7" d="M202 548h0m99 0h0m52 -2h0m41 3h0m530 -2h0m0 2h0m96 0h0m170 -2h0m106 0h0m10 0h0m3 0h0m1 1h0m54 -1h0m7 2h0m27 -1h0m2 -2h0m30 3h0m13 -3h0m29 1h0m27 0h0m13 -1h0m262 3h0m66 -1h0m4 -1h0m8 0h0m14 0h0m47 1h0m46 0h0m226 1h0m7 -3h0m7 3h0m122 -2h0"/><path stroke="#acacc6" stroke-width="8" d="M274 549h0m58 0h0m103 -1h0m586 -1h0m39 2h0m3 -1h0m126 0h0m135 -1h0m40 0h0m17 -1h0m8 1h0m89 2h0m45 -2h0m271 2h0m7 -1h0m37 0h0m22 -1h0m11 0h0m264 0h0m3 2h0m48 -1h0m43 -1h0m67 1h0m14 -1h0m6 0h0m91 -1h0"/><path stroke="#acacc6" stroke-width="9" d="M329 547h0m13 0h0m122 2h0m36 -2h0m108 2h0m46 0h0m139 -2h0m114 2h0m53 -1h0m102 -1h0m176 1h0m13 -1h0m17 -1h0m10 2h0m18 -1h0m77 -1h0m55 0h0m193 0h0m301 0h0m33 1h0m46 1h0m22 -2h0m133 2h0m20 -2h0m6 1h0m8 0h0m129 1h0m60 -1h0m1 0h0"/><path stroke="#b0b0c7" stroke-width="1" d="M797 551h0m274 0h0m19 0h0m540 -1h0m26 1h0m0 1h0m641 -3h0m45 0h0m96 0h0"/><path stroke="#b0b0c7" stroke-width="2" d="M412 549h0m129 2h0m64 -2h0m154 0h0m38 2h0m4 0h0m21 -1h0m19 1h0m40 -1h0m10 2h0m13 -1h0m3 0h0m47 0h0m271 -2h0m33 1h0m8 2h0m28 -1h0m12 -2h0m67 2h0m9 -1h0m120 -1h0m26 3h0m99 -2h0m2 2h0m12 -2h0m10 0h0m11 2h0m5 -2h0m13 0h0m115 -1h0m23 2h0m16 1h0m40 -1h0m71 0h0m16 -1h0m40 0h0m13 1h0m2 -1h0m26 1h0m29 1h0m12 -1h0m0 1h0m21 -2h0m6 0h0m66 0h0m2 0h0m135 1h0m5 -1h0m31 1h0m47 -2h0"/><path stroke="#b0b0c7" stroke-width="3" d="M187 550h0m5 -1h0m99 1h0m182 -1h0m95 1h0m25 2h0m31 -2h0m198 1h0m1 0h0m17 -1h0m0 2h0m55 -2h0m35 2h0m117 -1h0m21 1h0m80 -2h0m19 2h0m37 -3h0m67 1h0m31 1h0m61 1h0m102 -3h0m0 1h0m39 1h0m102 -1h0m4 -1h0m16 1h0m1 2h0m1 -1h0m2 0h0m35 -1h0m11 2h0m1 0h0m7 -2h0m26 -1h0m133 2h0m36 -2h0m30 1h0m4 -1h0m37 2h0m112 0h0m38 1h0m16 -2h0m23 1h0m6 0h0m32 0h0m13 -1h0m11 1h0m30 0h0m86 -1h0m0 1h0m49 -2h0m26 1h0m16 -1h0m1 0h0m7 2h0"/><path stroke="#b0b0c7" stroke-width="4" d="M215 549h0m95 0h0m19 1h0m298 1h0m173 0h0m5 0h0m33 -1h0m44 2h0m19 -1h0m118 0h0m87 -1h0m105 1h0m6 -2h0m3 0h0m5 1h0m141 2h0m10 -3h0m0 1h0m7 1h0m35 -2h0m177 2h0m32 -1h0m25 2h0m28 -2h0m49 0h0m3 1h0m92 -1h0m34 2h0m10 -3h0m53 1h0m26 1h0m5 0h0m74 -2h0m35 2h0m45 -1h0m25 0h0m1 1h0m15 -1h0m5 2h0m79 -1h0m2 -1h0m90 0h0m2 0h0"/><path stroke="#b0b0c7" stroke-width="5" d="M179 550h0m105 0h0m52 0h0m4 1h0m181 1h0m103 -2h0m35 2h0m139 -2h0m5 2h0m21 -3h0m17 1h0m33 1h0m90 1h0m103 -2h0m20 0h0m7 0h0m44 2h0m82 -3h0m4 1h0m101 -1h0m27 2h0m30 -1h0m16 2h0m47 -1h0m3 -1h0m18 -1h0m164 1h0m28 0h0m22 0h0m186 1h0m51 -1h0m39 0h0m0 1h0m41 -1h0m103 2h0m11 0h0m30 0h0m53 -1h0m130 0h0m74 0h0m25 0h0"/><path stroke="#b0b0c7" stroke-width="6" d="M165 549h0m89 2h0m370 -1h0m0 2h0m28 -2h0m296 -1h0m30 1h0m242 -1h0m18 0h0m44 1h0m40 0h0m50 1h0m9 0h0m48 -1h0m136 2h0m44 -1h0m45 0h0m6 0h0m4 0h0m78 -2h0m216 1h0m7 1h0m69 0h0m3 0h0m27 1h0m112 -1h0m1 0h0m132 -1h0m12 0h0m18 1h0m7 0h0"/><path stroke="#b0b0c7" stroke-width="7" d="M180 549h0m0 3h0m62 0h0m351 -2h0m9 1h0m52 1h0m394 -2h0m140 0h0m57 1h0m4 -1h0m26 1h0m87 -2h0m11 0h0m26 1h0m284 0h0m28 1h0m50 -1h0m40 2h0m40 -2h0m16 1h0m61 0h0m276 -1h0m102 0h0m24 0h0m29 0h0m16 -1h0m48 1h0"/><path stroke="#b0b0c7" stroke-width="8" d="M193 551h0m184 0h0m34 0h0m138 -1h0m275 1h0m267 0h0m123 0h0m12 0h0m23 1h0m67 -2h0m36 1h0m106 -1h0m130 -1h0m28 1h0m13 -1h0m37 1h0m12 0h0m95 0h0m25 -1h0m52 3h0m31 -1h0m138 0h0m75 -1h0m26 0h0m36 1h0"/><path stroke="#b0b0c7" stroke-width="9" d="M266 549h0m259 2h0m2 -1h0m53 1h0m37 0h0m15 1h0m255 -1h0m125 -1h0m194 1h0m110 1h0m56 -2h0m1 1h0m9 0h0m8 -2h0m45 3h0m41 -3h0m62 1h0m34 1h0m23 1h0m84 -3h0m148 2h0m0 1h0m30 -1h0m77 -1h0m249 -1h0"/><path stroke="#b3b3c8" stroke-width="1" d="M329 553h0m198 1h0m271 1h0m114 -3h0m765 0h0m148 2h0m90 -1h0m29 0h0m4 1h0m116 -1h0m61 2h0"/><path stroke="#b3b3c8" stroke-width="2" d="M131 555h0m2 -1h0m108 1h0m28 0h0m28 -2h0m45 0h0m114 1h0m4 -2h0m104 1h0m64 1h0m96 -1h0m28 0h0m33 1h0m18 -2h0m18 1h0m41 2h0m21 -3h0m17 2h0m3 -1h0m2 1h0m1 -1h0m3 -1h0m4 0h0m13 3h0m12 -1h0m2 -1h0m132 0h0m17 0h0m4 -1h0m118 1h0m17 -1h0m18 2h0m58 -1h0m4 0h0m9 1h0m63 1h0m233 0h0m12 -1h0m2 -1h0m1 -1h0m1 1h0m1 -1h0m9 2h0m21 0h0m3 -2h0m2 2h0m2 -2h0m0 1h0m10 1h0m4 -2h0m11 1h0m2 0h0m8 1h0m1 -1h0m41 2h0m49 0h0m35 -1h0m8 0h0m122 0h0m57 -1h0m44 0h0m11 1h0m13 0h0m25 -1h0m12 0h0m3 0h0m2 0h0m19 1h0m2 0h0m4 1h0m4 -2h0m6 0h0m8 0h0m20 -1h0m4 0h0m9 2h0m43 0h0m69 -1h0m21 0h0"/><path stroke="#b3b3c8" stroke-width="3" d="M325 555h0m181 -3h0m1 2h0m18 0h0m22 -1h0m54 2h0m1 -2h0m9 1h0m73 -1h0m69 2h0m48 -3h0m0 3h0m1 -2h0m38 1h0m2 0h0m17 -1h0m0 2h0m2 -1h0m31 -1h0m0 1h0m1 -1h0m1 1h0m9 1h0m2 -2h0m6 -1h0m13 0h0m6 3h0m7 -2h0m153 -1h0m55 2h0m2 -1h0m1 1h0m12 -1h0m67 0h0m28 0h0m8 -1h0m32 2h0m28 0h0m51 -1h0m8 0h0m49 0h0m10 2h0m39 -3h0m82 1h0m17 1h0m13 1h0m27 -3h0m10 0h0m24 1h0m12 1h0m1 1h0m111 -1h0m11 -2h0m78 1h0m48 -1h0m0 2h0m45 0h0m56 -1h0m38 2h0m44 0h0m23 -2h0m6 1h0m26 -2h0m2 3h0m18 -2h0m2 1h0m9 0h0m18 -2h0m31 0h0m0 3h0m64 -2h0m6 -1h0m6 2h0m115 0h0"/><path stroke="#b3b3c8" stroke-width="4" d="M176 553h0m87 2h0m121 -2h0m28 -1h0m13 3h0m100 -3h0m78 0h0m194 1h0m43 2h0m2 -2h0m18 0h0m27 0h0m5 0h0m11 0h0m8 0h0m4 0h0m13 1h0m221 -1h0m48 -1h0m29 0h0m34 2h0m58 1h0m4 -2h0m47 0h0m7 -1h0m7 0h0m2 3h0m42 -1h0m85 0h0m116 -1h0m25 2h0m10 -1h0m1 0h0m15 -1h0m24 0h0m150 2h0m13 -2h0m74 2h0m1 0h0m8 0h0m69 -3h0m81 1h0m4 0h0m50 0h0m43 1h0m236 1h0"/><path stroke="#b3b3c8" stroke-width="5" d="M136 554h0m106 -1h0m87 1h0m171 1h0m29 -2h0m154 0h0m72 0h0m16 2h0m44 -2h0m77 1h0m164 -1h0m32 2h0m47 -2h0m167 -1h0m9 1h0m44 0h0m7 0h0m116 1h0m64 -1h0m74 2h0m9 -1h0m33 -2h0m5 1h0m30 0h0m2 0h0m38 0h0m98 -1h0m5 2h0m80 0h0m2 0h0m125 -1h0m29 0h0m16 2h0m1 -3h0m14 2h0m3 0h0m10 -2h0m7 3h0m11 -1h0m20 -2h0m35 2h0m117 0h0"/><path stroke="#b3b3c8" stroke-width="6" d="M509 554h0m2 -2h0m19 2h0m125 -2h0m144 0h0m13 3h0m50 -3h0m63 1h0m58 0h0m37 1h0m197 -1h0m13 1h0m27 -2h0m63 3h0m8 0h0m139 0h0m10 -2h0m2 0h0m77 2h0m6 -1h0m119 0h0m139 -1h0m29 0h0m1 2h0m5 -3h0m0 1h0m20 0h0m41 1h0m6 1h0m226 -2h0m30 0h0m195 0h0"/><path stroke="#b3b3c8" stroke-width="7" d="M243 555h0m154 0h0m330 -1h0m77 0h0m32 -2h0m55 3h0m24 -1h0m10 -1h0m7 0h0m45 2h0m50 -2h0m223 0h0m118 1h0m22 0h0m144 -2h0m32 0h0m18 0h0m47 3h0m8 -2h0m23 0h0m67 0h0m211 2h0m13 -1h0m128 0h0m35 -2h0m89 2h0m28 -1h0m0 1h0"/><path stroke="#b3b3c8" stroke-width="8" d="M143 553h0m182 2h0m189 -1h0m94 1h0m46 -1h0m160 -1h0m9 0h0m87 -1h0m344 2h0m52 0h0m60 -1h0m31 0h0m42 0h0m191 -1h0m133 1h0m82 1h0m14 0h0m41 -1h0m4 2h0m48 -1h0m6 0h0m20 0h0m37 1h0m1 -3h0m45 1h0m96 1h0m11 -1h0"/><path stroke="#b3b3c8" stroke-width="9" d="M189 554h0m266 -2h0m45 1h0m5 0h0m47 2h0m103 -1h0m306 0h0m427 -2h0m377 3h0m299 -2h0m25 1h0m123 -2h0m85 0h0m0 2h0m4 -1h0m8 1h0m102 0h0"/><path stroke="#b6b6c9" stroke-width="1" d="M985 556h0m233 0h0m73 1h0m391 -2h0m317 3h0m134 0h0m44 -1h0m3 -1h0"/><path stroke="#b6b6c9" stroke-width="2" d="M175 557h0m13 1h0m150 -2h0m45 1h0m11 0h0m10 1h0m59 -2h0m33 0h0m124 1h0m22 0h0m34 0h0m123 -1h0m24 -1h0m66 1h0m4 -1h0m7 2h0m1 -1h0m3 -1h0m12 1h0m2 -1h0m10 3h0m2 -1h0m4 -1h0m25 0h0m21 1h0m9 -1h0m73 2h0m9 -2h0m37 1h0m30 0h0m11 0h0m124 -1h0m2 -1h0m4 1h0m1 -1h0m2 2h0m5 0h0m1 -1h0m17 0h0m112 0h0m12 0h0m22 1h0m104 1h0m58 -3h0m3 1h0m9 1h0m2 -1h0m1 1h0m26 0h0m6 -1h0m15 0h0m1 1h0m2 -1h0m1 1h0m17 0h0m97 -2h0m34 3h0m23 -3h0m62 2h0m12 -1h0m36 0h0m40 2h0m71 -3h0m23 0h0m11 3h0m4 -1h0m1 0h0m15 0h0m17 0h0m19 -1h0m17 2h0m2 0h0m10 -1h0m2 -2h0m1 2h0m104 -1h0m13 0h0m3 0h0m5 -1h0"/><path stroke="#b6b6c9" stroke-width="3" d="M246 557h0m13 0h0m6 -1h0m65 2h0m6 -2h0m32 1h0m183 -2h0m3 2h0m78 0h0m1 0h0m206 -1h0m2 0h0m19 1h0m8 -1h0m15 1h0m1 -2h0m18 2h0m2 1h0m1 -3h0m1 3h0m1 0h0m13 -1h0m2 0h0m99 -1h0m181 0h0m56 -1h0m14 1h0m1 2h0m10 -3h0m8 0h0m14 1h0m2 0h0m63 2h0m11 -2h0m8 0h0m33 -1h0m68 2h0m25 1h0m111 -2h0m24 0h0m32 1h0m18 -1h0m67 2h0m61 -3h0m30 2h0m43 0h0m22 0h0m3 -1h0m25 2h0m14 -1h0m60 -1h0m25 0h0m41 1h0m36 0h0m4 -2h0m12 1h0m11 -1h0m20 2h0m7 -2h0m1 1h0m146 1h0m30 -1h0"/><path stroke="#b6b6c9" stroke-width="4" d="M244 557h0m60 -2h0m67 3h0m202 -2h0m85 0h0m21 1h0m5 -1h0m39 1h0m53 -1h0m24 2h0m6 -1h0m6 -1h0m9 1h0m80 0h0m3 -1h0m2 -1h0m5 2h0m20 1h0m122 -2h0m210 0h0m8 1h0m2 0h0m7 -1h0m1 0h0m36 2h0m43 -3h0m2 0h0m56 2h0m14 -2h0m32 2h0m203 -2h0m29 0h0m6 2h0m74 -1h0m58 2h0m76 -3h0m33 3h0m119 -1h0m22 0h0m13 1h0m82 -2h0m19 -1h0m8 2h0m102 -2h0m10 0h0m64 0h0"/><path stroke="#b6b6c9" stroke-width="5" d="M156 556h0m106 1h0m31 1h0m82 -3h0m50 2h0m60 -1h0m38 1h0m5 -1h0m26 -1h0m170 0h0m50 2h0m24 0h0m3 -2h0m2 2h0m34 -2h0m32 1h0m2 0h0m10 -1h0m25 3h0m4 -1h0m5 0h0m7 1h0m97 -2h0m131 1h0m121 0h0m9 -2h0m86 2h0m22 -2h0m70 1h0m35 0h0m64 -1h0m39 2h0m17 -1h0m37 0h0m2 0h0m2 0h0m1 0h0m10 2h0m11 -1h0m3 -1h0m22 0h0m5 -1h0m162 2h0m75 0h0m0 1h0m4 -3h0m37 1h0m15 2h0m17 -3h0m10 1h0m11 1h0m48 -2h0m8 2h0m6 0h0m12 -1h0m29 0h0m4 0h0m14 1h0m11 -2h0m3 0h0m25 2h0m14 1h0m109 -2h0"/><path stroke="#b6b6c9" stroke-width="6" d="M133 558h0m21 -1h0m115 0h0m102 -1h0m40 0h0m153 2h0m56 -2h0m12 -1h0m13 1h0m154 -1h0m63 0h0m8 3h0m114 -3h0m75 3h0m132 0h0m49 -2h0m28 1h0m50 -1h0m83 0h0m27 1h0m28 -2h0m135 1h0m63 1h0m49 0h0m30 -2h0m70 2h0m149 0h0m113 0h0m60 -1h0m33 -1h0m259 0h0"/><path stroke="#b6b6c9" stroke-width="7" d="M178 556h0m80 2h0m50 -2h0m50 0h0m294 1h0m159 1h0m10 -3h0m65 0h0m321 1h0m53 0h0m20 0h0m16 -1h0m17 0h0m121 0h0m18 1h0m14 1h0m25 -1h0m132 0h0m211 -1h0m25 1h0m98 0h0m50 1h0m10 1h0m34 0h0m118 0h0m202 -1h0m50 0h0"/><path stroke="#b6b6c9" stroke-width="8" d="M152 558h0m226 -1h0m62 1h0m3 -2h0m58 0h0m23 -1h0m18 1h0m32 1h0m76 0h0m0 1h0m147 -1h0m8 1h0m132 -2h0m79 0h0m19 2h0m214 -3h0m14 2h0m17 0h0m11 -2h0m17 1h0m6 2h0m61 -2h0m6 0h0m44 0h0m35 1h0m169 0h0m10 0h0m27 -2h0m124 3h0m56 -2h0m66 1h0m149 0h0m87 0h0m7 0h0m19 0h0m6 0h0m119 -1h0m18 -1h0m15 3h0m31 -2h0"/><path stroke="#b6b6c9" stroke-width="9" d="M374 555h0m38 1h0m55 -1h0m35 3h0m23 -1h0m58 -2h0m16 2h0m4 1h0m93 -2h0m10 0h0m17 0h0m336 -1h0m0 2h0m151 0h0m13 0h0m67 0h0m124 0h0m38 0h0m283 -1h0m33 1h0m199 1h0m1 -1h0m52 0h0m1 -1h0m61 1h0m72 -1h0m18 2h0m250 0h0"/><path stroke="#b9b9ca" stroke-width="1" d="M126 560h0m528 -2h0m403 0h0m48 0h0m249 1h0m262 1h0m48 1h0m124 -2h0m274 2h0m20 0h0m52 -1h0m22 0h0m37 0h0m28 0h0"/><path stroke="#b9b9ca" stroke-width="2" d="M180 561h0m55 -2h0m10 1h0m170 0h0m12 -2h0m7 3h0m32 -3h0m47 1h0m97 0h0m2 0h0m7 -1h0m39 1h0m17 1h0m57 -1h0m3 0h0m20 1h0m2 -2h0m57 2h0m22 1h0m26 -1h0m3 -1h0m4 -1h0m0 1h0m5 1h0m6 -1h0m20 -1h0m4 0h0m6 0h0m3 1h0m1 -1h0m2 0h0m2 3h0m4 -2h0m5 0h0m3 0h0m71 2h0m63 -2h0m9 0h0m20 0h0m24 0h0m30 2h0m55 -3h0m49 3h0m19 -3h0m2 2h0m7 1h0m7 -2h0m168 -1h0m14 0h0m185 1h0m0 2h0m2 -3h0m6 1h0m16 -1h0m1 0h0m1 3h0m14 0h0m5 -3h0m102 0h0m25 2h0m97 0h0m23 -1h0m40 -1h0m75 3h0m41 -2h0m1 1h0m6 -1h0m11 0h0m4 1h0m19 -1h0m34 0h0m2 -1h0m5 1h0m8 2h0m123 -2h0m93 1h0"/><path stroke="#b9b9ca" stroke-width="3" d="M147 561h0m301 0h0m30 -2h0m44 0h0m12 2h0m7 -1h0m15 0h0m33 0h0m8 0h0m27 0h0m16 0h0m25 0h0m22 1h0m111 -3h0m3 0h0m1 1h0m1 2h0m37 -2h0m64 1h0m14 0h0m0 1h0m9 -2h0m25 1h0m104 1h0m1 0h0m7 0h0m1 0h0m6 0h0m28 -3h0m37 3h0m28 -2h0m45 0h0m8 1h0m1 1h0m6 -1h0m32 0h0m9 0h0m3 0h0m110 0h0m51 0h0m36 0h0m136 0h0m15 -1h0m16 1h0m19 0h0m16 -2h0m11 0h0m21 2h0m205 -2h0m72 0h0m37 3h0m4 -2h0m3 -1h0m50 2h0m28 0h0m8 1h0m16 -3h0m31 3h0m2 0h0m29 -1h0m32 -2h0m92 1h0m10 -1h0m16 3h0"/><path stroke="#b9b9ca" stroke-width="4" d="M177 559h0m10 0h0m9 0h0m7 0h0m83 0h0m2 2h0m186 -2h0m3 0h0m79 0h0m33 0h0m10 -1h0m201 2h0m1 -2h0m2 1h0m7 1h0m16 1h0m11 -2h0m30 0h0m35 0h0m9 2h0m11 -1h0m11 0h0m29 -2h0m94 1h0m20 2h0m73 -1h0m16 -1h0m82 2h0m33 -2h0m1 2h0m176 0h0m10 -2h0m25 1h0m14 -2h0m3 3h0m107 -1h0m15 -1h0m1 -1h0m70 2h0m1 0h0m73 0h0m143 -1h0m6 2h0m18 -3h0m19 3h0m5 0h0m11 -3h0m22 3h0m7 0h0m20 -3h0m8 2h0m3 -2h0m14 1h0m19 1h0m16 -1h0m15 2h0m8 -1h0m13 0h0m16 1h0m51 -2h0m1 0h0m1 0h0m18 -1h0m108 2h0"/><path stroke="#b9b9ca" stroke-width="5" d="M130 561h0m5 -1h0m28 -1h0m19 2h0m3 -2h0m1 0h0m89 0h0m14 2h0m71 -1h0m24 1h0m11 -2h0m4 1h0m81 -2h0m13 2h0m66 0h0m4 -1h0m37 -1h0m9 1h0m12 2h0m25 -2h0m63 -1h0m13 1h0m89 0h0m23 1h0m6 -1h0m4 0h0m15 0h0m1 -1h0m44 2h0m58 0h0m13 0h0m38 0h0m132 0h0m108 -1h0m19 1h0m8 0h0m217 0h0m130 0h0m1 1h0m23 -3h0m23 3h0m4 0h0m2 -2h0m1 0h0m143 -1h0m35 2h0m15 1h0m72 -1h0m29 1h0m66 -3h0m18 0h0m3 3h0m22 -1h0m21 1h0m1 -2h0m32 0h0m4 1h0m4 0h0m6 1h0m21 -2h0m22 2h0m10 -2h0m10 -1h0m13 0h0m87 1h0"/><path stroke="#b9b9ca" stroke-width="6" d="M152 560h0m10 1h0m159 0h0m50 -2h0m19 0h0m61 -1h0m56 2h0m87 0h0m25 1h0m2 -3h0m3 2h0m259 0h0m9 -2h0m84 0h0m0 1h0m265 0h0m20 -1h0m44 1h0m18 0h0m59 1h0m60 -1h0m64 1h0m64 -1h0m61 2h0m129 -3h0m95 1h0m16 0h0m156 -1h0m25 3h0m7 -1h0m40 -2h0m73 2h0m38 0h0m90 -1h0m98 2h0m29 -2h0"/><path stroke="#b9b9ca" stroke-width="7" d="M163 561h0m1 -2h0m18 -1h0m98 1h0m95 2h0m21 -3h0m25 2h0m24 0h0m102 0h0m22 1h0m59 0h0m28 -2h0m60 0h0m314 1h0m238 0h0m4 1h0m110 -2h0m94 -1h0m156 0h0m227 1h0m2 0h0m6 1h0m39 -1h0m4 2h0m34 0h0m92 -1h0m28 -1h0m104 0h0m146 0h0m4 1h0"/><path stroke="#b9b9ca" stroke-width="8" d="M280 559h0m1 2h0m45 0h0m27 -1h0m111 1h0m266 -3h0m41 2h0m30 -2h0m40 1h0m2 0h0m30 0h0m51 2h0m12 0h0m378 -1h0m50 1h0m3 -2h0m58 1h0m69 -1h0m3 0h0m180 1h0m1 -1h0m53 2h0m57 -1h0m36 1h0m1 -2h0m116 0h0m35 0h0m178 1h0m2 1h0m8 -2h0"/><path stroke="#b9b9ca" stroke-width="9" d="M130 560h0m81 1h0m108 -2h0m78 1h0m158 -1h0m55 0h0m21 0h0m18 -1h0m8 2h0m65 -1h0m487 1h0m63 -1h0m223 1h0m94 -2h0m173 2h0m38 -1h0m55 1h0m174 -1h0m14 0h0m134 1h0"/><path stroke="#bcbccb" stroke-width="1" d="M296 562h0m79 1h0m425 1h0m388 -2h0m20 0h0m8 0h0m17 1h0m1 0h0m414 -2h0m4 0h0m750 3h0"/><path stroke="#bcbccb" stroke-width="2" d="M153 562h0m50 2h0m3 -1h0m31 -2h0m77 3h0m36 -2h0m94 -1h0m57 2h0m298 0h0m5 -1h0m1 0h0m18 0h0m1 0h0m12 1h0m7 -1h0m20 2h0m2 -2h0m18 -1h0m1 2h0m8 1h0m2 -2h0m6 0h0m4 0h0m2 -1h0m5 2h0m14 0h0m4 -2h0m0 1h0m6 0h0m85 2h0m16 -1h0m151 0h0m4 1h0m5 -1h0m10 0h0m3 -1h0m4 1h0m2 1h0m24 -1h0m1 1h0m6 -1h0m1 -2h0m4 1h0m8 -1h0m12 1h0m0 1h0m3 -2h0m23 1h0m20 0h0m10 1h0m104 -1h0m13 1h0m22 -1h0m48 1h0m115 0h0m0 1h0m16 -1h0m3 -1h0m6 1h0m10 0h0m19 0h0m18 -2h0m2 2h0m1 -1h0m28 1h0m37 -1h0m81 2h0m15 -3h0m1 2h0m1 -1h0m6 1h0m48 -1h0m0 1h0m0 1h0m22 0h0m1 -1h0m11 -2h0m24 1h0m22 -1h0m5 2h0m21 1h0m30 -2h0m1 2h0m65 -2h0m0 1h0m69 -1h0m1 0h0m18 -1h0m1 2h0m3 1h0m88 -1h0m19 -1h0m21 1h0m63 -2h0m5 0h0m6 1h0m17 2h0"/><path stroke="#bcbccb" stroke-width="3" d="M155 564h0m29 -1h0m59 1h0m24 0h0m18 -1h0m56 0h0m115 0h0m1 0h0m54 0h0m16 1h0m2 -2h0m19 -1h0m18 2h0m12 0h0m17 -2h0m6 2h0m6 1h0m22 -1h0m167 0h0m38 0h0m24 -1h0m1 -1h0m26 2h0m7 -1h0m10 -1h0m2 0h0m3 0h0m1 2h0m7 -1h0m4 1h0m7 -1h0m2 1h0m122 -1h0m10 0h0m1 0h0m28 0h0m47 1h0m70 0h0m10 0h0m9 -2h0m10 1h0m5 -1h0m9 0h0m15 3h0m3 -1h0m5 0h0m1 0h0m23 -1h0m2 2h0m54 -1h0m30 -1h0m12 0h0m29 2h0m70 -1h0m19 -1h0m37 0h0m19 -1h0m14 1h0m8 1h0m53 1h0m4 -1h0m0 1h0m3 -3h0m0 2h0m17 -1h0m11 2h0m54 -2h0m11 0h0m79 0h0m28 2h0m68 -1h0m1 -1h0m27 1h0m2 0h0m24 0h0m2 0h0m50 1h0m68 0h0m1 -1h0m8 -1h0m3 2h0m12 -2h0m26 0h0m1 2h0m16 -1h0m31 1h0m2 -3h0m181 3h0m29 -3h0m3 1h0m9 2h0m2 -2h0m5 2h0"/><path stroke="#bcbccb" stroke-width="4" d="M182 561h0m95 0h0m76 1h0m26 -1h0m69 1h0m48 -1h0m62 3h0m20 -1h0m49 0h0m11 -1h0m80 1h0m22 -1h0m101 0h0m20 1h0m1 -1h0m5 1h0m4 -1h0m10 -1h0m7 2h0m2 -1h0m10 1h0m9 1h0m13 -2h0m8 0h0m55 0h0m37 0h0m25 2h0m16 -1h0m31 1h0m98 -1h0m10 1h0m3 0h0m4 0h0m7 -1h0m19 1h0m2 -3h0m30 1h0m2 -1h0m45 1h0m76 1h0m130 0h0m122 0h0m12 -1h0m2 1h0m8 -2h0m1 1h0m15 0h0m2 0h0m12 -1h0m10 1h0m1 0h0m35 0h0m3 1h0m0 1h0m18 -2h0m29 2h0m9 -3h0m0 1h0m121 1h0m1 0h0m25 1h0m3 -1h0m27 0h0m40 0h0m74 0h0m12 0h0m23 -2h0m1 2h0m11 1h0m17 -2h0m6 0h0m1 -1h0m13 2h0m12 0h0m143 -1h0m18 1h0m59 -2h0m6 1h0m20 1h0"/><path stroke="#bcbccb" stroke-width="5" d="M197 563h0m4 -1h0m10 1h0m29 -1h0m32 0h0m1 1h0m15 0h0m44 -1h0m0 2h0m67 -1h0m20 -2h0m3 1h0m3 1h0m138 -2h0m26 1h0m20 2h0m22 -2h0m4 0h0m1 -1h0m160 0h0m64 2h0m33 0h0m10 -2h0m1 2h0m6 -1h0m2 2h0m5 -1h0m86 1h0m59 -1h0m100 0h0m31 0h0m17 1h0m2 0h0m24 -1h0m14 -1h0m20 0h0m9 -1h0m3 2h0m27 -1h0m50 2h0m56 -1h0m24 0h0m6 1h0m1 0h0m17 -2h0m40 2h0m124 -2h0m1 0h0m1 0h0m3 0h0m61 0h0m10 0h0m0 1h0m37 0h0m26 0h0m2 0h0m3 0h0m64 0h0m5 0h0m82 0h0m18 -1h0m6 1h0m193 0h0m2 0h0m3 -2h0m10 3h0m3 -2h0m19 0h0m23 1h0m2 -2h0m2 1h0m7 -1h0m106 2h0m97 -1h0m10 1h0"/><path stroke="#bcbccb" stroke-width="6" d="M205 564h0m30 0h0m103 -1h0m44 0h0m41 0h0m12 0h0m11 -2h0m55 1h0m0 1h0m39 1h0m23 -2h0m44 0h0m50 1h0m48 0h0m199 -1h0m148 0h0m245 1h0m27 0h0m40 0h0m103 1h0m104 -2h0m114 1h0m55 -1h0m49 0h0m4 0h0m149 -1h0m74 1h0m12 1h0m16 -1h0m16 0h0m60 1h0m21 0h0m68 -1h0m87 1h0m2 1h0m109 -1h0m14 0h0"/><path stroke="#bcbccb" stroke-width="7" d="M134 564h0m56 -1h0m115 0h0m14 0h0m11 -1h0m9 1h0m94 0h0m22 -2h0m41 0h0m12 2h0m17 0h0m1 -1h0m1 0h0m32 1h0m10 -1h0m96 0h0m199 -1h0m73 0h0m335 1h0m174 0h0m48 1h0m75 -2h0m32 2h0m264 0h0m134 0h0m29 -2h0m34 1h0m82 0h0m20 0h0m0 2h0m19 -1h0m9 -1h0m1 1h0m14 -1h0m101 0h0m67 -1h0m24 1h0m7 2h0m24 -3h0"/><path stroke="#bcbccb" stroke-width="8" d="M155 561h0m16 3h0m117 -2h0m106 1h0m143 0h0m20 -1h0m1 0h0m116 2h0m14 -2h0m35 2h0m256 -1h0m32 -2h0m11 0h0m184 2h0m82 0h0m34 -2h0m110 3h0m77 -2h0m252 -1h0m203 1h0m53 1h0m13 -1h0m19 2h0m44 -2h0m87 0h0m11 -1h0m30 2h0m7 1h0m1 -3h0m70 1h0m58 0h0"/><path stroke="#bcbccb" stroke-width="9" d="M180 562h0m22 2h0m7 -2h0m60 1h0m274 1h0m5 -1h0m27 -2h0m42 3h0m2 -3h0m20 2h0m4 -1h0m123 2h0m170 -2h0m33 1h0m5 1h0m8 -3h0m23 1h0m59 -1h0m141 2h0m20 -1h0m55 0h0m32 0h0m115 0h0m62 0h0m77 0h0m16 1h0m26 1h0m129 -1h0m5 0h0m42 0h0m15 -2h0m2 2h0m26 -2h0m26 1h0m54 1h0m51 -1h0m6 -1h0m14 1h0m4 0h0m20 1h0m13 -2h0m3 3h0m7 -3h0m17 2h0m42 1h0m78 0h0m16 -3h0m7 2h0m14 -1h0"/><path stroke="#bfbfcc" stroke-width="1" d="M397 566h0m146 0h0m257 1h0m187 -1h0m49 -1h0m31 -1h0m139 1h0m32 2h0m333 -1h0m90 0h0m72 0h0m126 1h0m11 -1h0m224 -2h0m50 2h0m19 0h0m1 -2h0"/><path stroke="#bfbfcc" stroke-width="2" d="M173 564h0m14 2h0m22 -1h0m51 0h0m16 0h0m77 -1h0m142 1h0m25 0h0m14 -1h0m7 2h0m3 -1h0m17 -1h0m5 1h0m78 -1h0m14 1h0m123 1h0m19 -1h0m1 -1h0m39 1h0m3 1h0m41 0h0m20 1h0m4 -2h0m0 1h0m15 -1h0m3 2h0m35 -2h0m22 1h0m3 -1h0m43 1h0m42 -2h0m0 1h0m90 2h0m2 -1h0m29 1h0m4 0h0m10 -3h0m0 2h0m5 0h0m5 -2h0m2 1h0m18 0h0m13 1h0m6 0h0m3 0h0m9 -2h0m1 1h0m2 2h0m3 -1h0m1 0h0m22 0h0m146 -1h0m29 1h0m16 -1h0m30 1h0m12 0h0m1 0h0m76 -1h0m35 1h0m35 -1h0m1 0h0m7 0h0m19 -1h0m0 1h0m28 -1h0m29 3h0m35 -2h0m34 0h0m10 -1h0m14 0h0m15 1h0m4 2h0m47 -3h0m2 0h0m2 0h0m3 1h0m14 0h0m1 1h0m1 -1h0m3 -1h0m1 2h0m1 -1h0m6 2h0m26 0h0m5 -2h0m30 2h0m7 -1h0m6 1h0m45 -2h0m8 0h0m24 -1h0m20 1h0m2 0h0m8 1h0m23 1h0m33 -2h0m4 0h0m4 0h0m31 -1h0m0 3h0m111 0h0m9 -2h0m1 -1h0m34 1h0m25 0h0m32 1h0"/><path stroke="#bfbfcc" stroke-width="3" d="M167 567h0m10 -2h0m31 1h0m47 -2h0m8 2h0m16 -1h0m46 2h0m5 -1h0m23 -2h0m97 3h0m28 -1h0m2 -1h0m27 -1h0m7 0h0m40 2h0m39 -1h0m36 0h0m19 1h0m16 0h0m11 0h0m22 1h0m21 -1h0m117 0h0m5 0h0m28 -1h0m0 2h0m3 0h0m9 -2h0m31 1h0m11 -1h0m1 1h0m40 -2h0m59 1h0m29 -1h0m141 1h0m2 1h0m14 1h0m8 -2h0m0 1h0m31 1h0m20 -1h0m1 -2h0m2 2h0m1 1h0m10 -1h0m74 -1h0m10 -1h0m52 2h0m71 -2h0m10 1h0m23 1h0m38 -1h0m18 2h0m39 -2h0m11 -1h0m23 1h0m13 1h0m5 0h0m35 -1h0m26 1h0m11 1h0m2 -3h0m13 1h0m3 0h0m63 0h0m0 1h0m4 -1h0m23 2h0m20 -3h0m36 0h0m22 3h0m36 -2h0m7 0h0m10 0h0m3 0h0m50 -1h0m26 3h0m27 -2h0m85 2h0m35 -2h0m90 1h0m8 1h0m5 -2h0m0 1h0m69 0h0m39 -1h0m14 1h0m4 -1h0"/><path stroke="#bfbfcc" stroke-width="4" d="M183 567h0m61 -2h0m9 0h0m11 1h0m34 0h0m34 0h0m13 1h0m4 -1h0m19 -2h0m24 3h0m4 -1h0m73 -1h0m44 0h0m1 0h0m1 1h0m6 0h0m15 -1h0m3 0h0m49 2h0m4 -2h0m20 0h0m48 2h0m17 -1h0m123 -1h0m4 2h0m8 -1h0m51 0h0m3 0h0m3 0h0m32 -1h0m60 1h0m7 -2h0m16 2h0m31 0h0m6 1h0m115 -2h0m54 0h0m5 0h0m1 1h0m7 0h0m1 0h0m4 0h0m5 -1h0m5 0h0m21 2h0m39 -2h0m4 0h0m13 1h0m59 -1h0m17 0h0m44 0h0m7 2h0m103 -1h0m41 -1h0m74 -1h0m9 3h0m15 -1h0m13 -1h0m27 -1h0m26 3h0m29 0h0m8 0h0m31 -2h0m24 2h0m2 -2h0m3 1h0m14 1h0m10 -2h0m53 2h0m6 -2h0m11 0h0m20 1h0m5 -1h0m31 0h0m5 0h0m4 0h0m13 1h0m1 -1h0m20 2h0m64 0h0m57 -2h0m38 0h0m1 1h0m3 -1h0m10 -1h0m25 1h0m21 1h0m69 -1h0m91 2h0m7 -2h0m12 1h0"/><path stroke="#bfbfcc" stroke-width="5" d="M157 565h0m31 1h0m26 0h0m28 -1h0m47 2h0m100 -1h0m4 -1h0m27 1h0m3 -2h0m25 1h0m111 1h0m10 -2h0m1 3h0m14 -3h0m24 3h0m19 -1h0m5 -1h0m43 -1h0m33 2h0m104 -2h0m1 2h0m90 1h0m4 0h0m11 -1h0m17 -2h0m52 3h0m45 -1h0m30 1h0m149 -2h0m24 0h0m16 0h0m40 0h0m36 2h0m39 -2h0m6 1h0m8 0h0m95 -2h0m15 2h0m1 0h0m4 0h0m167 -1h0m4 1h0m13 -1h0m16 0h0m67 1h0m61 -1h0m3 1h0m83 -1h0m7 0h0m27 0h0m6 1h0m76 0h0m40 -1h0m5 0h0m13 2h0m10 -2h0m16 0h0m16 0h0m23 1h0m6 0h0m1 0h0m8 0h0m7 -1h0m13 1h0m9 -2h0m29 3h0m17 -1h0m82 -1h0m89 1h0m1 1h0m5 -1h0"/><path stroke="#bfbfcc" stroke-width="6" d="M143 565h0m11 1h0m59 1h0m33 -3h0m25 3h0m9 -3h0m109 1h0m108 0h0m25 -1h0m40 0h0m34 1h0m32 1h0m42 0h0m167 -1h0m103 0h0m0 1h0m20 -1h0m46 1h0m6 0h0m201 -1h0m4 0h0m31 1h0m80 0h0m26 0h0m54 1h0m89 -1h0m2 1h0m2 -1h0m5 -1h0m56 2h0m17 -3h0m26 2h0m12 -2h0m11 2h0m101 -2h0m67 1h0m33 1h0m169 1h0m28 -2h0m2 -1h0m12 2h0m23 0h0m2 0h0m60 0h0m190 0h0m105 0h0"/><path stroke="#bfbfcc" stroke-width="7" d="M177 566h0m13 0h0m20 -2h0m32 2h0m1 1h0m24 -2h0m1 0h0m30 1h0m71 0h0m6 -1h0m153 0h0m1 0h0m23 0h0m7 0h0m50 2h0m97 -2h0m245 2h0m102 -2h0m135 -1h0m51 2h0m86 0h0m42 1h0m83 0h0m41 0h0m10 -1h0m54 -1h0m14 2h0m58 -1h0m24 0h0m17 -1h0m103 1h0m146 0h0m3 -1h0m25 2h0m57 -3h0m49 1h0m81 1h0m27 0h0m16 -1h0m5 2h0m3 -1h0m58 0h0"/><path stroke="#bfbfcc" stroke-width="8" d="M131 565h0m22 0h0m48 0h0m81 1h0m29 1h0m137 -1h0m50 0h0m12 1h0m1 -1h0m27 -1h0m8 0h0m18 1h0m32 0h0m91 1h0m204 -2h0m11 0h0m9 1h0m25 1h0m1 -2h0m270 1h0m108 -1h0m120 1h0m1 1h0m53 -2h0m73 1h0m174 0h0m55 -2h0m36 2h0m26 -1h0m71 1h0m59 -1h0m43 -1h0m8 0h0m9 2h0m41 -1h0m71 0h0m19 1h0m41 -2h0m93 2h0m2 -1h0m124 1h0"/><path stroke="#bfbfcc" stroke-width="9" d="M152 566h0m83 -2h0m88 2h0m21 1h0m20 -2h0m67 1h0m25 1h0m18 -3h0m41 2h0m46 0h0m56 0h0m8 0h0m97 0h0m7 0h0m209 1h0m120 -2h0m308 0h0m101 0h0m91 0h0m228 1h0m256 -1h0m128 1h0m13 0h0m5 -1h0m14 1h0m108 1h0"/><path stroke="#c2c2cd" stroke-width="1" d="M322 568h0m580 0h0m26 1h0m361 -1h0m155 1h0m123 -2h0m284 3h0m95 -1h0m253 -1h0"/><path stroke="#c2c2cd" stroke-width="2" d="M163 567h0m11 1h0m0 1h0m60 -1h0m22 1h0m3 0h0m10 0h0m95 1h0m13 -2h0m46 0h0m32 0h0m1 0h0m21 1h0m27 1h0m49 -2h0m40 0h0m1 1h0m65 -1h0m5 2h0m10 0h0m15 -1h0m7 1h0m15 0h0m102 -2h0m26 1h0m1 -1h0m0 1h0m18 -1h0m3 0h0m0 1h0m10 0h0m17 -1h0m4 0h0m9 0h0m0 2h0m5 -1h0m16 1h0m21 -1h0m19 -2h0m15 2h0m35 0h0m3 -1h0m5 0h0m55 -1h0m1 1h0m14 -1h0m47 2h0m59 0h0m8 1h0m8 -3h0m3 0h0m2 0h0m52 3h0m2 -2h0m1 1h0m1 -1h0m42 0h0m10 0h0m2 1h0m30 0h0m94 0h0m7 -2h0m3 0h0m7 0h0m57 2h0m86 -2h0m18 2h0m1 -1h0m11 -1h0m2 1h0m20 -1h0m1 2h0m1 0h0m2 0h0m31 1h0m2 0h0m2 -3h0m3 0h0m32 3h0m37 -1h0m9 -2h0m12 1h0m27 -1h0m1 1h0m0 1h0m30 0h0m16 -1h0m42 -1h0m2 0h0m12 2h0m20 -2h0m0 3h0m1 -3h0m4 2h0m87 -1h0m3 1h0m44 -1h0m1 0h0m8 -1h0m8 1h0m0 1h0m24 -1h0m1 1h0m18 -1h0m23 0h0m25 1h0m10 1h0m11 -2h0m110 0h0m94 1h0"/><path stroke="#c2c2cd" stroke-width="3" d="M156 570h0m7 -1h0m8 -2h0m24 2h0m2 1h0m3 0h0m1 -1h0m11 0h0m22 0h0m9 -1h0m31 2h0m8 -3h0m0 2h0m9 1h0m28 -2h0m2 0h0m58 0h0m13 0h0m18 1h0m9 -1h0m29 1h0m3 -2h0m2 2h0m42 1h0m59 -2h0m12 2h0m1 -2h0m1 1h0m19 0h0m7 0h0m10 -2h0m1 3h0m23 -1h0m10 0h0m24 -1h0m90 2h0m49 0h0m2 -1h0m4 0h0m31 -1h0m0 1h0m23 -1h0m41 -1h0m22 0h0m5 1h0m0 1h0m26 -1h0m25 1h0m12 0h0m20 0h0m22 0h0m65 0h0m5 -2h0m32 1h0m2 0h0m110 1h0m19 -1h0m5 0h0m8 -1h0m116 3h0m28 0h0m35 -1h0m1 0h0m48 0h0m4 1h0m8 -1h0m23 1h0m2 -2h0m16 0h0m65 0h0m13 0h0m0 1h0m16 -1h0m8 2h0m1 -2h0m11 1h0m5 -2h0m54 1h0m35 0h0m49 0h0m18 1h0m19 1h0m16 -1h0m3 -1h0m33 -1h0m74 1h0m22 0h0m23 -1h0m9 3h0m83 -1h0m17 -2h0m33 2h0m35 1h0m17 -2h0m5 1h0m73 -1h0m105 1h0m13 0h0m1 0h0m9 -1h0"/><path stroke="#c2c2cd" stroke-width="4" d="M160 568h0m13 0h0m9 -1h0m20 2h0m128 0h0m13 1h0m54 -3h0m47 2h0m4 -2h0m57 1h0m6 2h0m14 -1h0m3 1h0m9 -2h0m20 1h0m12 -1h0m16 1h0m45 -1h0m13 0h0m64 1h0m11 -2h0m24 0h0m43 2h0m74 -1h0m8 1h0m37 0h0m24 -1h0m14 0h0m13 2h0m49 -1h0m12 -1h0m21 0h0m3 -1h0m15 2h0m1 -1h0m8 -1h0m83 2h0m45 0h0m2 1h0m39 0h0m38 -3h0m4 0h0m50 1h0m0 1h0m89 -1h0m8 0h0m107 2h0m3 -2h0m17 0h0m43 0h0m35 -1h0m1 2h0m1 1h0m35 -1h0m72 0h0m8 -1h0m51 1h0m25 -2h0m0 1h0m4 1h0m2 0h0m22 -1h0m2 -1h0m24 3h0m31 -1h0m41 -2h0m32 1h0m38 0h0m28 2h0m7 -2h0m75 1h0m45 -1h0m18 0h0m8 1h0m2 -2h0m20 2h0m15 0h0m132 -2h0m33 1h0m8 0h0m10 2h0m16 -1h0"/><path stroke="#c2c2cd" stroke-width="5" d="M181 569h0m4 0h0m13 -2h0m13 2h0m34 0h0m86 0h0m13 -1h0m25 -1h0m51 1h0m10 0h0m3 2h0m13 -2h0m55 1h0m13 -1h0m20 -1h0m10 3h0m8 -2h0m60 -1h0m62 2h0m116 -1h0m31 0h0m68 0h0m4 0h0m12 2h0m10 -2h0m16 0h0m6 1h0m20 -1h0m10 0h0m10 -1h0m22 0h0m189 2h0m5 -2h0m14 3h0m3 -2h0m3 0h0m50 -1h0m7 2h0m11 0h0m33 -1h0m8 2h0m4 0h0m1 -2h0m1 1h0m37 0h0m2 -1h0m83 2h0m121 -1h0m27 -2h0m34 0h0m26 2h0m19 -1h0m1 1h0m8 1h0m8 -3h0m35 1h0m30 1h0m74 -1h0m34 1h0m52 0h0m4 -2h0m20 3h0m6 -3h0m6 3h0m20 0h0m23 -1h0m1 0h0m17 1h0m9 0h0m38 -2h0m7 1h0m4 -1h0m5 -1h0m26 2h0m35 -1h0m15 -1h0m0 2h0m0 1h0m15 -2h0m10 2h0m18 -1h0m10 0h0m3 -1h0m20 -1h0m78 2h0"/><path stroke="#c2c2cd" stroke-width="6" d="M127 568h0m4 1h0m13 -1h0m60 2h0m48 0h0m125 -2h0m43 1h0m23 1h0m33 0h0m3 -1h0m1 -1h0m1 1h0m42 1h0m6 -2h0m2 0h0m9 0h0m25 2h0m81 -2h0m127 2h0m13 -2h0m154 0h0m1 -1h0m38 1h0m59 2h0m288 0h0m54 -1h0m19 1h0m38 -1h0m11 -2h0m29 0h0m69 3h0m9 -1h0m5 1h0m11 0h0m20 0h0m78 -3h0m8 3h0m53 -2h0m0 1h0m38 -1h0m56 0h0m41 -1h0m5 2h0m32 -1h0m74 0h0m96 2h0m18 -2h0m13 -1h0m75 2h0m27 0h0m13 0h0m26 0h0m72 0h0m91 0h0"/><path stroke="#c2c2cd" stroke-width="7" d="M153 567h0m0 1h0m9 1h0m178 -1h0m80 -1h0m30 3h0m11 0h0m34 0h0m50 -1h0m6 -2h0m37 2h0m4 1h0m2 -2h0m16 2h0m13 -1h0m5 0h0m8 -2h0m57 0h0m12 3h0m14 -3h0m3 1h0m182 1h0m22 1h0m30 -1h0m2 1h0m15 -2h0m214 0h0m25 -1h0m60 3h0m29 0h0m27 -3h0m89 2h0m10 -1h0m40 1h0m31 -2h0m1 1h0m42 1h0m113 1h0m90 -1h0m1 0h0m39 -2h0m13 2h0m1 -1h0m200 0h0m2 0h0m1 0h0m155 2h0m37 -2h0m26 0h0m4 0h0"/><path stroke="#c2c2cd" stroke-width="8" d="M128 568h0m52 -1h0m111 1h0m12 -1h0m212 1h0m13 2h0m1 0h0m17 -2h0m52 0h0m6 0h0m69 0h0m2 0h0m65 0h0m28 0h0m94 1h0m76 0h0m41 -1h0m259 -1h0m137 2h0m48 -1h0m333 -1h0m99 1h0m65 0h0m54 1h0m3 -1h0m72 0h0m100 0h0m6 1h0m13 0h0m1 -2h0m10 2h0m1 0h0m234 0h0"/><path stroke="#c2c2cd" stroke-width="9" d="M135 567h0m166 1h0m7 0h0m84 2h0m25 -3h0m7 2h0m28 -1h0m55 2h0m35 -1h0m76 -1h0m31 0h0m63 1h0m670 -1h0m111 -1h0m20 2h0m59 -2h0m26 2h0m144 -2h0m442 3h0m7 -3h0m18 3h0"/><path stroke="#c5c5ce" stroke-width="1" d="M184 572h0m170 0h0m900 1h0m400 -3h0m251 1h0m91 0h0m211 1h0"/><path stroke="#c5c5ce" stroke-width="2" d="M172 571h0m24 0h0m51 0h0m32 1h0m11 1h0m32 -2h0m16 0h0m56 0h0m6 0h0m0 1h0m9 -1h0m21 1h0m49 1h0m11 -2h0m4 0h0m3 0h0m12 -1h0m4 2h0m53 1h0m2 -3h0m4 0h0m0 1h0m31 1h0m25 -1h0m29 0h0m25 2h0m51 -1h0m43 0h0m64 -2h0m18 1h0m5 1h0m3 0h0m41 -2h0m4 2h0m12 -1h0m6 2h0m1 -1h0m34 -1h0m2 -1h0m54 0h0m21 1h0m33 2h0m66 -2h0m5 2h0m45 -3h0m14 3h0m2 -2h0m8 0h0m2 0h0m22 -1h0m3 2h0m9 0h0m1 -1h0m22 1h0m34 0h0m18 -2h0m2 0h0m31 0h0m19 3h0m14 -3h0m5 1h0m29 1h0m44 -2h0m63 3h0m22 -1h0m75 -2h0m3 3h0m11 -1h0m33 1h0m21 -2h0m6 1h0m100 1h0m16 -1h0m2 0h0m26 -2h0m2 1h0m69 1h0m2 -1h0m1 1h0m2 -1h0m103 0h0m18 1h0m16 0h0m11 1h0m15 -1h0m6 0h0m11 -1h0m2 -1h0m17 1h0m4 0h0m17 0h0m1 1h0m1 -1h0m2 -1h0m23 2h0m24 0h0m13 -2h0m22 2h0m12 0h0m125 0h0m38 -2h0m4 3h0"/><path stroke="#c5c5ce" stroke-width="3" d="M168 571h0m13 -1h0m13 3h0m120 -3h0m2 3h0m2 -2h0m35 2h0m24 -2h0m1 0h0m18 -1h0m6 2h0m30 -1h0m46 2h0m81 -2h0m5 1h0m70 -1h0m54 0h0m87 0h0m32 1h0m55 -1h0m27 -1h0m0 1h0m12 -1h0m1 2h0m10 -1h0m2 2h0m16 -2h0m34 0h0m40 0h0m19 -1h0m42 2h0m128 1h0m22 -2h0m22 0h0m12 1h0m2 -2h0m6 2h0m11 1h0m5 -1h0m1 -1h0m11 2h0m2 0h0m65 -1h0m3 -2h0m17 1h0m0 1h0m25 0h0m13 -1h0m4 1h0m11 1h0m32 -1h0m43 -1h0m57 1h0m7 -1h0m5 2h0m13 0h0m12 -2h0m33 -1h0m2 2h0m36 0h0m2 -2h0m62 2h0m24 -1h0m3 2h0m61 -2h0m5 0h0m1 0h0m9 1h0m7 0h0m9 0h0m2 0h0m135 -1h0m11 2h0m5 0h0m2 0h0m68 -2h0m31 -1h0m3 1h0m16 0h0m10 0h0m13 1h0m14 -2h0m50 2h0m19 0h0m4 -1h0m159 0h0m8 1h0m4 0h0m14 -2h0"/><path stroke="#c5c5ce" stroke-width="4" d="M124 571h0m25 1h0m13 -1h0m5 0h0m34 0h0m6 1h0m5 -1h0m34 2h0m75 -2h0m30 0h0m12 1h0m41 0h0m41 0h0m4 0h0m24 -1h0m0 1h0m14 -1h0m68 2h0m2 -1h0m7 -1h0m22 0h0m14 1h0m36 -1h0m3 -1h0m6 1h0m19 0h0m1 1h0m1 1h0m20 -2h0m25 2h0m3 -1h0m48 -1h0m15 1h0m27 1h0m79 -1h0m8 0h0m11 0h0m3 -2h0m7 0h0m3 1h0m14 1h0m1 0h0m9 1h0m6 -1h0m5 0h0m15 1h0m12 -1h0m29 -1h0m201 0h0m87 0h0m30 0h0m0 2h0m2 -1h0m62 -1h0m25 2h0m10 -3h0m47 3h0m18 -3h0m12 1h0m5 1h0m39 -1h0m8 0h0m13 1h0m30 0h0m69 -1h0m12 2h0m18 0h0m10 0h0m27 -3h0m12 2h0m50 0h0m6 0h0m26 1h0m16 0h0m12 -1h0m2 0h0m69 1h0m3 -3h0m21 2h0m25 0h0m69 1h0m2 -1h0m4 0h0m16 -2h0m10 1h0m24 2h0m5 -3h0m55 2h0m10 -2h0m12 2h0m38 0h0m91 -2h0m8 2h0m39 1h0m18 -1h0m63 -2h0"/><path stroke="#c5c5ce" stroke-width="5" d="M138 573h0m18 -2h0m0 1h0m8 -2h0m12 1h0m8 0h0m19 0h0m33 0h0m8 2h0m87 -1h0m12 -1h0m27 1h0m14 -2h0m44 1h0m23 0h0m23 -1h0m1 2h0m8 0h0m1 -1h0m13 -1h0m28 2h0m1 -1h0m29 2h0m23 -3h0m9 2h0m2 0h0m22 0h0m21 -2h0m78 1h0m80 1h0m14 0h0m61 -2h0m0 2h0m101 0h0m32 0h0m51 -1h0m11 0h0m135 1h0m53 0h0m12 -2h0m12 3h0m52 -2h0m4 0h0m62 0h0m55 0h0m31 0h0m4 1h0m65 -1h0m19 0h0m104 1h0m10 -2h0m56 2h0m6 -1h0m78 0h0m6 0h0m16 0h0m1 0h0m12 2h0m3 -1h0m1 -1h0m11 -1h0m76 2h0m3 -1h0m28 1h0m51 0h0m36 -1h0m19 1h0m18 0h0m107 0h0m3 -2h0m15 1h0m8 0h0m106 1h0m21 -1h0"/><path stroke="#c5c5ce" stroke-width="6" d="M190 571h0m0 1h0m46 -1h0m7 2h0m5 0h0m25 0h0m8 -3h0m1 3h0m35 -2h0m28 0h0m29 0h0m19 2h0m2 -3h0m1 0h0m35 2h0m10 0h0m4 1h0m13 0h0m10 -2h0m7 0h0m10 0h0m19 0h0m13 0h0m50 -1h0m5 1h0m16 2h0m24 -2h0m6 1h0m112 0h0m42 -1h0m138 1h0m35 -1h0m13 1h0m14 1h0m66 -1h0m8 -2h0m249 3h0m122 -1h0m24 0h0m22 -1h0m9 1h0m72 -1h0m34 2h0m152 0h0m21 -3h0m167 3h0m48 -3h0m8 1h0m9 1h0m1 1h0m58 -1h0m3 -1h0m4 1h0m40 0h0m53 -2h0m29 1h0m15 1h0m7 1h0m14 -2h0"/><path stroke="#c5c5ce" stroke-width="7" d="M185 570h0m57 3h0m13 -3h0m16 0h0m1 1h0m27 0h0m70 -1h0m75 0h0m26 1h0m43 2h0m93 -1h0m1 0h0m4 -2h0m69 1h0m41 -1h0m5 1h0m50 1h0m250 -1h0m163 0h0m60 0h0m72 -1h0m60 2h0m44 -2h0m6 1h0m67 0h0m46 0h0m11 0h0m9 2h0m4 -3h0m6 1h0m16 0h0m1 2h0m156 -2h0m49 0h0m26 2h0m132 -1h0m23 -1h0m8 0h0m1 0h0m86 1h0m105 -1h0m3 1h0m2 -1h0m27 0h0m11 0h0m96 0h0"/><path stroke="#c5c5ce" stroke-width="8" d="M175 572h0m6 -1h0m110 1h0m0 1h0m75 -1h0m17 0h0m2 0h0m12 -1h0m127 1h0m11 -1h0m18 1h0m5 1h0m33 -3h0m0 3h0m16 -1h0m77 -1h0m31 -1h0m254 2h0m34 -1h0m20 1h0m183 -1h0m76 0h0m23 2h0m19 0h0m49 -1h0m20 0h0m1 0h0m60 0h0m75 0h0m35 -2h0m38 1h0m63 0h0m66 2h0m2 -1h0m138 -2h0m101 1h0m38 1h0m40 1h0m12 -1h0m9 0h0m98 -2h0m21 1h0m4 0h0m9 1h0m16 -2h0"/><path stroke="#c5c5ce" stroke-width="9" d="M192 571h0m58 -1h0m23 0h0m14 0h0m42 3h0m2 -1h0m115 -1h0m11 1h0m6 -2h0m16 0h0m8 1h0m40 1h0m11 -1h0m26 2h0m29 -1h0m2 -2h0m23 1h0m10 0h0m11 0h0m23 1h0m23 0h0m8 0h0m2 -2h0m363 1h0m296 -1h0m33 0h0m37 3h0m70 -2h0m74 1h0m3 1h0m218 -2h0m198 1h0m49 1h0m29 -3h0m6 1h0m106 2h0m15 -2h0m17 0h0m12 0h0m8 1h0"/><path stroke="#c8c8cf" stroke-width="1" d="M334 575h0m307 -1h0m82 2h0m193 -2h0m1 2h0m63 0h0m214 -1h0m90 1h0m157 -1h0"/><path stroke="#c8c8cf" stroke-width="2" d="M156 574h0m34 0h0m50 2h0m92 -1h0m6 -1h0m44 0h0m7 1h0m2 0h0m22 0h0m15 -2h0m36 3h0m4 -1h0m2 1h0m28 -2h0m23 2h0m5 -1h0m8 0h0m21 -2h0m24 2h0m4 0h0m18 -1h0m47 -1h0m37 1h0m31 0h0m54 1h0m33 1h0m68 0h0m17 -1h0m28 -1h0m1 0h0m2 0h0m7 1h0m1 -1h0m32 1h0m31 -2h0m21 1h0m158 1h0m22 0h0m3 -1h0m1 -1h0m0 1h0m8 0h0m2 0h0m0 2h0m2 -3h0m2 0h0m39 1h0m1 1h0m6 -2h0m40 2h0m30 -1h0m34 1h0m1 -1h0m2 1h0m6 1h0m8 -2h0m2 -1h0m12 1h0m27 1h0m7 -1h0m4 -1h0m33 0h0m4 1h0m11 1h0m8 -1h0m13 0h0m24 1h0m14 -1h0m22 0h0m8 1h0m3 -1h0m10 0h0m37 0h0m13 -1h0m12 2h0m54 -2h0m5 3h0m3 -1h0m1 -1h0m113 1h0m5 -2h0m0 2h0m2 -1h0m1 0h0m2 -1h0m5 0h0m6 0h0m11 2h0m1 -2h0m0 3h0m18 0h0m34 -2h0m7 2h0m2 0h0m7 -1h0m3 0h0m2 1h0m2 -2h0m30 1h0m3 -1h0m27 0h0m3 2h0m12 -2h0m2 0h0m4 0h0m38 1h0m74 1h0m91 -2h0m11 2h0m11 0h0m1 0h0m13 -1h0m166 0h0m2 1h0m1 0h0m19 -2h0m1 -1h0m6 3h0m2 -1h0"/><path stroke="#c8c8cf" stroke-width="3" d="M135 574h0m24 2h0m3 -2h0m9 1h0m2 -2h0m5 2h0m16 -1h0m3 1h0m5 -2h0m5 1h0m5 1h0m1 -1h0m22 0h0m1 2h0m7 -1h0m18 0h0m7 1h0m15 -2h0m28 1h0m18 -2h0m20 1h0m4 0h0m9 1h0m1 0h0m1 -1h0m2 1h0m7 1h0m24 -1h0m21 1h0m27 -2h0m3 1h0m30 -2h0m23 2h0m57 0h0m29 0h0m41 1h0m8 -2h0m5 0h0m6 1h0m3 -2h0m40 3h0m6 -1h0m11 -1h0m95 1h0m83 0h0m1 -1h0m15 0h0m3 -1h0m5 2h0m3 0h0m12 0h0m19 -1h0m20 1h0m64 -2h0m0 1h0m1 -1h0m2 1h0m116 -1h0m49 2h0m12 0h0m7 -2h0m1 0h0m2 3h0m2 -1h0m38 -2h0m1 0h0m1 3h0m14 0h0m23 -1h0m5 0h0m24 1h0m2 -3h0m1 2h0m34 -1h0m12 -1h0m9 1h0m1 -1h0m1 1h0m8 1h0m67 -1h0m6 1h0m21 1h0m9 -2h0m17 2h0m46 -2h0m42 2h0m11 -2h0m38 0h0m31 2h0m87 -3h0m26 1h0m4 0h0m36 1h0m5 -1h0m8 1h0m2 0h0m4 0h0m2 -1h0m9 1h0m46 -1h0m16 0h0m30 1h0m84 0h0m20 -1h0m1 1h0m20 0h0m0 1h0m4 0h0m2 -3h0m4 2h0m8 -2h0m7 1h0m48 0h0m6 1h0m13 -2h0m4 2h0m12 -1h0m6 -1h0m132 2h0m91 -1h0"/><path stroke="#c8c8cf" stroke-width="4" d="M133 576h0m11 -3h0m19 0h0m9 1h0m21 2h0m20 -2h0m33 0h0m28 2h0m18 -1h0m7 1h0m39 0h0m6 -2h0m9 -1h0m19 1h0m38 2h0m19 0h0m35 -2h0m20 0h0m49 -1h0m1 1h0m5 -1h0m2 0h0m23 3h0m9 -1h0m18 0h0m8 0h0m22 -2h0m6 1h0m12 1h0m73 -1h0m31 1h0m10 -1h0m5 1h0m19 -1h0m3 2h0m7 -2h0m13 -1h0m0 1h0m8 1h0m26 0h0m25 0h0m31 -2h0m86 3h0m9 -2h0m10 0h0m15 -1h0m19 1h0m16 1h0m118 -1h0m41 1h0m5 1h0m4 -2h0m2 1h0m3 -2h0m2 0h0m50 2h0m3 -2h0m6 0h0m17 1h0m10 0h0m3 -1h0m7 2h0m7 -2h0m0 2h0m54 0h0m9 1h0m13 -1h0m27 -1h0m2 2h0m70 -2h0m57 2h0m10 0h0m34 0h0m25 -2h0m5 1h0m20 -1h0m3 0h0m11 1h0m40 -1h0m1 1h0m29 -1h0m41 1h0m51 -1h0m7 0h0m16 1h0m20 0h0m39 -1h0m68 1h0m22 -2h0m37 0h0m20 3h0m7 -1h0m25 -1h0m17 1h0m6 -1h0m14 -1h0m97 2h0m9 -1h0m162 -1h0m14 3h0m13 -2h0"/><path stroke="#c8c8cf" stroke-width="5" d="M130 576h0m54 -1h0m1 -1h0m23 0h0m32 0h0m24 0h0m10 2h0m10 -1h0m48 -1h0m4 2h0m5 -2h0m52 -1h0m13 2h0m58 -1h0m12 -1h0m4 2h0m12 1h0m15 -2h0m16 0h0m6 0h0m0 1h0m47 1h0m37 -3h0m6 1h0m4 0h0m5 0h0m41 2h0m25 -3h0m95 1h0m16 0h0m7 0h0m2 0h0m25 2h0m20 -3h0m3 2h0m96 0h0m4 -2h0m1 3h0m34 -2h0m15 1h0m51 1h0m28 -3h0m96 2h0m19 -1h0m31 1h0m51 1h0m12 -3h0m3 1h0m23 -1h0m32 2h0m22 -1h0m19 -1h0m2 1h0m12 1h0m19 1h0m25 -1h0m77 -1h0m1 0h0m19 0h0m4 1h0m13 0h0m22 0h0m2 1h0m23 -2h0m7 -1h0m3 1h0m22 -1h0m44 1h0m128 -1h0m34 2h0m9 -1h0m55 0h0m1 0h0m45 1h0m13 0h0m23 0h0m11 0h0m5 0h0m7 0h0m33 -1h0m24 0h0m8 1h0m66 1h0m1 0h0m17 -3h0m0 1h0m2 -1h0m29 0h0m113 1h0m10 -1h0m19 2h0m75 1h0"/><path stroke="#c8c8cf" stroke-width="6" d="M168 576h0m18 -1h0m54 0h0m7 0h0m21 0h0m30 -1h0m32 2h0m37 -2h0m20 -1h0m1 1h0m15 0h0m16 2h0m1 -3h0m3 1h0m0 1h0m54 -1h0m25 -1h0m3 1h0m11 0h0m26 0h0m52 0h0m26 2h0m36 0h0m27 -1h0m1 -1h0m245 0h0m4 0h0m16 1h0m9 -1h0m83 2h0m20 -1h0m296 -2h0m6 3h0m37 -1h0m5 -1h0m50 2h0m42 -1h0m17 0h0m77 -1h0m7 0h0m104 1h0m32 0h0m68 1h0m186 -3h0m13 3h0m27 -1h0m54 -2h0m5 0h0m94 1h0m21 -1h0m3 1h0m1 1h0m6 -1h0m15 2h0m131 -1h0"/><path stroke="#c8c8cf" stroke-width="7" d="M181 576h0m172 -3h0m24 2h0m15 -1h0m32 2h0m14 0h0m25 -1h0m44 -1h0m15 1h0m69 0h0m10 -1h0m26 0h0m38 0h0m63 2h0m13 -1h0m17 1h0m227 -1h0m51 0h0m262 0h0m2 0h0m1 1h0m5 0h0m76 -2h0m25 1h0m23 1h0m46 -1h0m57 -2h0m25 2h0m23 -1h0m28 1h0m32 -1h0m161 1h0m195 1h0m65 -1h0m8 -2h0m74 2h0m11 0h0m2 0h0m84 1h0m161 -2h0m33 1h0"/><path stroke="#c8c8cf" stroke-width="8" d="M157 575h0m98 -1h0m3 -1h0m20 2h0m18 -2h0m42 2h0m22 0h0m24 -2h0m24 1h0m107 1h0m11 -1h0m4 1h0m3 1h0m24 -1h0m35 0h0m0 1h0m17 -1h0m29 1h0m31 0h0m5 -1h0m14 -2h0m306 0h0m18 2h0m16 -2h0m19 0h0m12 1h0m6 0h0m306 1h0m246 -2h0m60 1h0m52 0h0m19 0h0m109 0h0m174 -1h0m57 1h0m103 1h0m12 -1h0m5 0h0m1 2h0m107 -3h0m2 1h0m3 1h0"/><path stroke="#c8c8cf" stroke-width="9" d="M182 575h0m20 -1h0m1 -1h0m7 1h0m55 1h0m9 -1h0m10 0h0m23 0h0m1 0h0m70 0h0m7 2h0m38 -1h0m5 0h0m36 -1h0m0 2h0m1 -1h0m6 1h0m22 -2h0m41 -1h0m15 2h0m59 1h0m9 -1h0m1 0h0m167 -1h0m156 2h0m5 -2h0m111 1h0m2 -2h0m367 1h0m6 2h0m7 -1h0m50 -1h0m19 1h0m17 -1h0m16 0h0m8 0h0m35 -1h0m22 0h0m187 1h0m176 1h0m19 -2h0m40 2h0m1 0h0m25 1h0m26 -1h0m9 -2h0m70 1h0m31 1h0m12 0h0m28 -1h0"/><path stroke="#cbcbd0" stroke-width="1" d="M287 577h0m97 0h0m631 0h0m282 -1h0m7 0h0m48 3h0m10 -2h0m83 0h0m256 1h0m246 0h0m399 1h0"/><path stroke="#cbcbd0" stroke-width="2" d="M134 579h0m4 -2h0m9 2h0m35 0h0m19 -3h0m105 1h0m17 1h0m16 1h0m25 -1h0m1 0h0m17 1h0m2 0h0m9 -3h0m8 3h0m3 -1h0m15 0h0m1 0h0m0 1h0m1 -1h0m22 -1h0m53 -1h0m0 2h0m128 1h0m40 -1h0m57 0h0m38 1h0m4 -2h0m10 2h0m33 0h0m59 0h0m18 -2h0m5 0h0m0 1h0m22 -1h0m17 1h0m33 0h0m20 1h0m23 -3h0m3 1h0m4 -1h0m20 2h0m28 -1h0m5 0h0m110 2h0m16 -1h0m16 -1h0m3 -1h0m31 1h0m10 0h0m20 1h0m2 -1h0m14 0h0m15 -1h0m4 2h0m1 0h0m12 -1h0m3 1h0m8 -1h0m31 0h0m12 2h0m5 -1h0m1 -2h0m0 2h0m2 -1h0m9 1h0m8 0h0m30 1h0m32 -1h0m10 1h0m2 0h0m16 -2h0m26 1h0m2 -1h0m1 -1h0m20 2h0m20 0h0m25 1h0m32 -1h0m3 -1h0m3 0h0m37 2h0m19 -2h0m2 -1h0m4 3h0m2 -2h0m47 0h0m2 -1h0m29 2h0m37 1h0m6 -2h0m25 0h0m22 1h0m52 0h0m18 0h0m3 -1h0m21 0h0m1 0h0m26 2h0m2 0h0m1 -1h0m43 0h0m31 0h0m43 0h0m32 0h0m20 -2h0m9 1h0m2 1h0m1 1h0m9 0h0m47 -2h0m7 -1h0m195 0h0m3 0h0m16 2h0m2 0h0"/><path stroke="#cbcbd0" stroke-width="3" d="M134 577h0m40 -1h0m18 0h0m4 1h0m50 0h0m26 1h0m7 0h0m2 -1h0m7 0h0m11 1h0m2 0h0m8 0h0m1 -2h0m8 2h0m3 -2h0m34 2h0m3 -2h0m69 2h0m4 0h0m17 1h0m9 -1h0m5 0h0m3 -1h0m5 1h0m1 0h0m37 0h0m8 0h0m5 0h0m13 -1h0m18 0h0m46 -1h0m3 3h0m5 -1h0m15 0h0m19 -1h0m7 0h0m8 1h0m2 1h0m46 -1h0m4 0h0m57 1h0m9 -1h0m28 -1h0m20 0h0m41 1h0m2 -1h0m20 1h0m49 -1h0m42 1h0m10 -1h0m12 1h0m24 -1h0m20 1h0m7 0h0m8 -1h0m2 1h0m1 -1h0m132 -1h0m13 0h0m3 2h0m42 0h0m19 -1h0m14 1h0m19 -1h0m1 1h0m13 0h0m2 -1h0m3 2h0m39 -1h0m22 1h0m15 -3h0m62 1h0m6 -1h0m8 2h0m33 -1h0m24 1h0m53 -2h0m2 0h0m1 1h0m56 0h0m57 2h0m4 0h0m35 -1h0m8 1h0m15 -1h0m36 1h0m43 -1h0m10 -1h0m6 0h0m0 1h0m64 -2h0m1 1h0m21 0h0m35 1h0m7 -1h0m12 1h0m11 0h0m5 -1h0m38 2h0m12 -1h0m10 0h0m14 -2h0m2 2h0m7 1h0m32 0h0m2 -1h0m11 -2h0m19 3h0m9 -1h0m3 -2h0m14 2h0m9 -1h0m5 1h0m7 -1h0m25 -1h0m1 0h0m1 0h0m64 1h0m16 1h0m66 0h0m42 0h0"/><path stroke="#cbcbd0" stroke-width="4" d="M144 578h0m25 1h0m18 -1h0m7 0h0m0 1h0m20 -2h0m22 1h0m35 0h0m11 0h0m26 0h0m24 0h0m19 -1h0m29 2h0m9 -1h0m8 -1h0m2 1h0m13 -1h0m1 1h0m18 1h0m13 -2h0m2 1h0m29 -1h0m30 0h0m35 -1h0m4 3h0m12 -2h0m8 0h0m30 1h0m64 -1h0m35 2h0m3 0h0m2 -3h0m57 1h0m44 0h0m101 -1h0m102 1h0m7 1h0m26 -1h0m14 2h0m12 0h0m126 -1h0m62 -1h0m2 1h0m48 0h0m25 -1h0m1 -1h0m40 2h0m4 0h0m2 -1h0m19 -1h0m19 0h0m6 2h0m2 1h0m26 -1h0m59 -2h0m67 2h0m3 0h0m10 1h0m61 0h0m115 -2h0m18 2h0m11 -3h0m9 2h0m6 -1h0m23 2h0m23 -1h0m9 0h0m9 -2h0m1 2h0m53 0h0m78 0h0m5 -2h0m6 2h0m18 -1h0m6 1h0m29 1h0m1 -1h0m17 0h0m42 1h0m38 -2h0m31 0h0m118 -1h0m8 0h0"/><path stroke="#cbcbd0" stroke-width="5" d="M129 576h0m0 2h0m1 -1h0m50 1h0m4 -1h0m3 0h0m18 0h0m41 1h0m17 0h0m1 -1h0m34 0h0m23 2h0m9 -2h0m10 0h0m22 0h0m13 0h0m4 1h0m11 -1h0m36 0h0m3 0h0m45 0h0m44 0h0m1 2h0m31 -1h0m67 -2h0m11 2h0m9 0h0m34 -1h0m9 0h0m7 -1h0m38 3h0m44 -1h0m35 -2h0m66 1h0m72 2h0m37 -3h0m1 2h0m24 -2h0m17 1h0m9 1h0m6 -1h0m4 2h0m10 -3h0m137 0h0m19 1h0m43 2h0m78 -2h0m40 2h0m7 -1h0m8 1h0m31 -2h0m13 0h0m17 1h0m22 -2h0m3 2h0m14 0h0m17 -1h0m3 0h0m2 1h0m0 1h0m4 -1h0m49 1h0m21 0h0m14 -1h0m72 1h0m3 0h0m10 -2h0m83 1h0m8 0h0m26 0h0m8 -2h0m19 0h0m1 0h0m26 2h0m7 -1h0m16 2h0m2 -3h0m33 1h0m80 2h0m14 -1h0m25 1h0m4 0h0m7 -3h0m21 2h0m4 -2h0m6 1h0m18 -1h0m9 3h0m1 -3h0m59 2h0m66 -2h0m82 0h0m69 1h0m37 -1h0m33 1h0"/><path stroke="#cbcbd0" stroke-width="6" d="M160 578h0m12 1h0m13 -1h0m28 -1h0m29 0h0m13 1h0m2 -1h0m17 0h0m6 1h0m6 1h0m21 -3h0m1 3h0m150 -2h0m26 0h0m8 0h0m2 0h0m3 2h0m6 -2h0m1 1h0m12 -2h0m29 1h0m1 1h0m81 0h0m14 0h0m93 0h0m8 1h0m30 0h0m27 -2h0m106 0h0m52 0h0m20 1h0m12 0h0m20 0h0m25 0h0m169 -1h0m69 0h0m24 1h0m56 -2h0m9 2h0m8 0h0m47 0h0m94 -1h0m5 -1h0m8 1h0m6 1h0m3 0h0m4 0h0m18 -1h0m2 0h0m45 1h0m4 1h0m140 -3h0m3 1h0m37 2h0m123 -3h0m70 0h0m24 1h0m58 1h0m3 -2h0m11 1h0m30 -1h0m50 2h0m20 0h0m3 0h0m2 0h0m1 0h0m12 0h0m6 1h0m13 0h0m24 0h0m85 -1h0m88 1h0"/><path stroke="#cbcbd0" stroke-width="7" d="M177 579h0m15 -2h0m52 -1h0m2 2h0m10 -1h0m35 2h0m15 -3h0m8 2h0m28 -2h0m11 3h0m11 -2h0m10 0h0m29 0h0m4 -1h0m6 0h0m4 2h0m56 -2h0m51 2h0m23 0h0m26 0h0m21 -1h0m2 1h0m8 -1h0m15 0h0m59 2h0m78 -2h0m14 1h0m90 -2h0m87 2h0m38 1h0m3 -2h0m74 1h0m238 -2h0m82 2h0m40 -2h0m16 2h0m66 1h0m52 -2h0m8 -1h0m45 2h0m151 0h0m28 -1h0m67 0h0m117 0h0m11 1h0m14 0h0m3 1h0m13 0h0m48 0h0m1 0h0m19 -1h0m41 0h0m51 -2h0m36 1h0"/><path stroke="#cbcbd0" stroke-width="8" d="M129 576h0m9 1h0m7 1h0m9 1h0m102 -1h0m36 -1h0m33 2h0m9 -2h0m23 2h0m20 -1h0m0 1h0m17 -1h0m70 0h0m6 -2h0m3 1h0m65 2h0m78 -2h0m93 1h0m32 -1h0m25 0h0m17 -1h0m186 1h0m71 0h0m18 1h0m267 0h0m93 0h0m36 -1h0m12 1h0m28 0h0m2 -1h0m1 1h0m11 0h0m4 -1h0m6 0h0m39 -1h0m8 0h0m3 1h0m227 2h0m4 -1h0m243 -1h0m22 -1h0m4 1h0m21 -1h0m35 2h0m58 -2h0m2 3h0m15 -2h0"/><path stroke="#cbcbd0" stroke-width="9" d="M132 577h0m29 1h0m36 0h0m8 0h0m6 0h0m26 -2h0m19 2h0m1 -1h0m19 0h0m16 1h0m70 0h0m8 0h0m24 -1h0m19 -1h0m32 2h0m27 -1h0m13 1h0m20 -2h0m21 0h0m9 2h0m24 -1h0m0 1h0m11 0h0m16 0h0m41 0h0m56 0h0m22 0h0m11 1h0m9 -2h0m28 1h0m25 -1h0m176 1h0m38 -1h0m18 0h0m2 0h0m4 2h0m32 0h0m371 -3h0m23 2h0m27 -1h0m18 -1h0m9 0h0m35 3h0m3 -2h0m1 0h0m20 0h0m188 2h0m49 -3h0m211 2h0m47 -1h0m38 0h0m90 1h0m7 1h0m12 -3h0"/><path stroke="#ceced1" stroke-width="1" d="M173 580h0m63 0h0m266 -1h0m218 0h0m50 1h0m158 0h0m30 -1h0m17 0h0m263 1h0m77 1h0m67 -2h0m223 0h0m157 3h0m20 -2h0m17 2h0m384 -2h0m6 1h0m156 0h0"/><path stroke="#ceced1" stroke-width="2" d="M154 579h0m20 2h0m7 1h0m11 -2h0m1 1h0m10 0h0m6 0h0m25 0h0m9 -1h0m26 0h0m72 1h0m2 0h0m0 1h0m21 -1h0m23 0h0m5 -1h0m3 1h0m3 -1h0m8 0h0m17 0h0m47 1h0m19 -1h0m2 1h0m4 -1h0m14 1h0m5 0h0m9 0h0m18 0h0m8 0h0m40 -1h0m5 1h0m4 -1h0m5 1h0m27 -2h0m4 1h0m6 1h0m9 0h0m23 -1h0m33 0h0m55 1h0m4 0h0m27 -1h0m5 1h0m44 0h0m62 1h0m1 -1h0m27 -2h0m38 1h0m0 1h0m20 -1h0m67 1h0m5 -1h0m129 -1h0m6 2h0m17 1h0m40 0h0m21 -3h0m27 0h0m27 2h0m39 -1h0m3 1h0m1 0h0m7 -1h0m2 -1h0m1 3h0m19 -3h0m30 1h0m22 0h0m17 0h0m20 0h0m45 -1h0m49 1h0m16 -1h0m11 3h0m17 -1h0m2 1h0m35 -2h0m40 -1h0m0 2h0m27 -1h0m0 1h0m2 0h0m39 -2h0m17 2h0m11 0h0m23 -1h0m12 1h0m15 -1h0m4 1h0m17 -2h0m98 1h0m29 0h0m4 2h0m8 0h0m16 -3h0m26 3h0m8 -1h0m64 0h0m3 0h0m18 0h0m11 0h0m6 0h0m20 0h0m23 0h0m10 -1h0m0 1h0m5 -1h0m11 2h0m2 0h0m11 -1h0m61 -1h0m22 -1h0m80 2h0m5 -2h0m6 0h0m1 1h0m21 1h0"/><path stroke="#ceced1" stroke-width="3" d="M179 582h0m32 0h0m24 -3h0m46 1h0m28 -1h0m81 2h0m2 0h0m13 0h0m12 1h0m63 -2h0m3 2h0m11 -1h0m59 0h0m12 -2h0m47 2h0m24 -2h0m14 3h0m11 -1h0m14 1h0m7 -1h0m27 -1h0m4 0h0m0 1h0m43 -2h0m11 2h0m2 -2h0m2 3h0m18 -3h0m104 2h0m15 1h0m21 0h0m3 -2h0m51 -1h0m20 3h0m3 -2h0m187 1h0m12 0h0m2 0h0m7 0h0m55 -1h0m3 1h0m0 1h0m28 -3h0m5 0h0m22 1h0m0 1h0m26 0h0m39 0h0m31 -1h0m17 1h0m9 1h0m2 -3h0m9 1h0m0 2h0m14 -1h0m10 1h0m18 -2h0m10 1h0m9 1h0m40 0h0m8 0h0m8 -3h0m40 2h0m25 0h0m36 -1h0m122 1h0m19 -2h0m15 0h0m15 2h0m4 -1h0m1 -1h0m1 1h0m11 1h0m80 0h0m38 0h0m19 -1h0m3 0h0m31 1h0m2 -1h0m10 0h0m12 1h0m3 1h0m6 -1h0m4 0h0m11 -1h0m1 1h0m19 0h0m16 0h0m22 0h0m12 -1h0m15 0h0m9 -1h0m29 1h0m11 2h0m84 -1h0m60 0h0m41 0h0m26 -1h0"/><path stroke="#ceced1" stroke-width="4" d="M146 580h0m0 1h0m15 1h0m11 -2h0m4 1h0m28 0h0m43 -1h0m77 -1h0m13 3h0m12 -1h0m12 -2h0m15 2h0m17 -1h0m25 -1h0m40 1h0m0 2h0m24 -3h0m2 2h0m22 0h0m3 -1h0m12 -1h0m7 2h0m1 -1h0m91 0h0m43 0h0m0 2h0m48 0h0m43 -2h0m16 -1h0m3 2h0m1 0h0m3 1h0m61 -2h0m69 2h0m57 0h0m12 -1h0m54 -1h0m20 1h0m5 0h0m74 0h0m77 -2h0m1 1h0m42 1h0m9 0h0m40 -2h0m4 2h0m60 -1h0m0 1h0m9 -1h0m9 -1h0m2 0h0m50 0h0m31 0h0m0 1h0m15 0h0m37 2h0m42 -1h0m18 0h0m37 0h0m15 0h0m51 -2h0m55 0h0m1 2h0m59 1h0m3 -2h0m123 -1h0m5 1h0m19 0h0m6 1h0m38 1h0m30 -1h0m64 0h0m6 1h0m4 -1h0m85 -2h0m15 1h0m10 0h0m1 2h0m10 -2h0m4 1h0m16 -1h0m10 0h0m3 1h0m77 0h0m97 -1h0m16 0h0"/><path stroke="#ceced1" stroke-width="5" d="M131 580h0m17 1h0m28 0h0m18 0h0m0 1h0m6 -1h0m10 -1h0m2 0h0m48 1h0m9 -2h0m14 1h0m17 -1h0m7 1h0m14 0h0m8 0h0m16 2h0m7 -1h0m13 0h0m13 0h0m23 -1h0m2 -1h0m90 0h0m1 2h0m47 -1h0m56 -1h0m1 1h0m25 -1h0m23 3h0m3 -1h0m4 1h0m19 -2h0m2 2h0m20 -1h0m1 -2h0m4 2h0m9 -1h0m10 0h0m1 1h0m57 0h0m7 0h0m40 0h0m17 -2h0m67 0h0m19 0h0m37 1h0m8 1h0m13 1h0m4 -2h0m4 0h0m22 1h0m29 0h0m162 -1h0m1 1h0m8 0h0m85 -2h0m2 2h0m19 1h0m52 -2h0m0 1h0m12 -1h0m7 1h0m5 0h0m27 -1h0m20 1h0m8 -1h0m11 1h0m7 -1h0m18 1h0m25 -2h0m9 0h0m19 2h0m9 -2h0m4 1h0m15 0h0m12 0h0m9 1h0m73 0h0m31 -1h0m8 0h0m73 1h0m11 1h0m18 0h0m17 -2h0m28 0h0m69 -1h0m1 0h0m2 1h0m28 -1h0m36 1h0m2 0h0m24 2h0m5 -1h0m2 1h0m10 -1h0m13 -1h0m71 -1h0m23 0h0m11 1h0m45 0h0m21 0h0m8 0h0m14 -1h0m115 2h0"/><path stroke="#ceced1" stroke-width="6" d="M140 579h0m46 0h0m11 3h0m3 -2h0m12 1h0m47 0h0m48 -2h0m7 2h0m10 0h0m160 0h0m1 -1h0m10 1h0m64 -1h0m0 1h0m19 -1h0m16 1h0m15 -2h0m45 2h0m37 1h0m6 -1h0m10 0h0m46 -1h0m18 -1h0m219 1h0m16 0h0m29 0h0m5 -1h0m10 3h0m270 -2h0m58 2h0m37 -2h0m7 -1h0m2 2h0m35 0h0m4 -2h0m33 1h0m4 1h0m74 0h0m53 0h0m115 -2h0m22 3h0m207 0h0m4 -2h0m6 1h0m4 0h0m14 -2h0m15 1h0m21 0h0m29 0h0m25 1h0m1 0h0m56 0h0m9 1h0m3 -2h0m83 1h0m1 -1h0m3 0h0"/><path stroke="#ceced1" stroke-width="7" d="M144 581h0m45 0h0m1 0h0m66 0h0m10 -1h0m2 1h0m1 -1h0m26 0h0m20 2h0m60 0h0m7 -2h0m13 1h0m20 -2h0m58 1h0m64 0h0m18 2h0m26 -2h0m4 1h0m16 -1h0m6 1h0m13 0h0m54 1h0m87 -2h0m36 -1h0m44 1h0m43 0h0m72 0h0m19 0h0m39 1h0m35 0h0m184 -2h0m208 3h0m20 -2h0m42 1h0m8 1h0m24 -3h0m4 2h0m228 -2h0m56 3h0m204 -2h0m23 1h0m44 -2h0m27 0h0m34 2h0m16 0h0m6 -1h0m52 -1h0m68 2h0m10 0h0m12 -1h0"/><path stroke="#ceced1" stroke-width="8" d="M133 582h0m10 0h0m102 -1h0m28 0h0m44 1h0m37 0h0m6 -1h0m9 -2h0m44 1h0m6 1h0m85 -1h0m6 2h0m54 -2h0m26 -1h0m17 2h0m16 -2h0m2 1h0m68 2h0m22 -2h0m43 0h0m16 1h0m225 -2h0m168 1h0m66 1h0m67 -1h0m142 2h0m12 -2h0m12 2h0m1 -3h0m48 3h0m3 0h0m8 0h0m44 -2h0m27 1h0m136 -2h0m56 2h0m7 0h0m5 -1h0m214 2h0m49 -2h0m22 0h0m4 -1h0m101 0h0m52 3h0m117 0h0"/><path stroke="#ceced1" stroke-width="9" d="M149 581h0m65 0h0m36 0h0m105 1h0m12 0h0m28 -1h0m6 -2h0m9 1h0m10 1h0m4 -2h0m3 2h0m35 0h0m33 0h0m16 1h0m15 -1h0m16 -1h0m22 0h0m39 0h0m14 0h0m13 1h0m4 -1h0m3 2h0m2 -3h0m18 2h0m40 1h0m68 0h0m221 -2h0m16 -1h0m9 2h0m427 0h0m107 0h0m21 0h0m34 0h0m11 0h0m127 0h0m45 1h0m11 -3h0m0 2h0m2 0h0m186 -1h0m5 0h0m38 0h0m17 1h0m11 1h0m31 0h0m97 -1h0m2 0h0m22 0h0m1 -1h0"/><path stroke="#d1d1d2" stroke-width="1" d="M134 582h0m60 1h0m183 1h0m18 -1h0m83 2h0m287 0h0m2 -3h0m180 1h0m13 0h0m363 0h0m303 -1h0m102 2h0m123 -1h0m244 0h0m8 1h0m6 -2h0"/><path stroke="#d1d1d2" stroke-width="2" d="M124 584h0m13 1h0m26 -2h0m0 1h0m29 -1h0m13 1h0m6 1h0m2 0h0m28 -2h0m17 2h0m12 -1h0m26 0h0m40 0h0m2 -2h0m0 1h0m28 0h0m3 1h0m26 -1h0m3 0h0m1 1h0m7 -1h0m45 0h0m5 1h0m14 1h0m25 -2h0m25 -1h0m7 2h0m25 -1h0m6 0h0m9 1h0m23 -2h0m14 2h0m7 0h0m21 0h0m5 -1h0m21 0h0m18 0h0m10 1h0m4 0h0m33 0h0m57 1h0m24 -1h0m60 1h0m37 -3h0m43 2h0m9 0h0m7 0h0m5 1h0m4 -3h0m6 3h0m1 -3h0m37 0h0m5 2h0m5 1h0m15 -2h0m3 0h0m2 -1h0m8 3h0m5 -1h0m5 -1h0m126 2h0m3 -3h0m0 3h0m14 -2h0m3 -1h0m89 2h0m6 -1h0m1 1h0m24 0h0m26 0h0m7 1h0m38 -1h0m18 0h0m5 0h0m21 -1h0m2 2h0m2 -3h0m31 2h0m3 -2h0m32 0h0m0 1h0m76 2h0m2 -1h0m10 0h0m56 -1h0m40 0h0m46 1h0m12 -1h0m3 -1h0m18 1h0m10 -1h0m10 1h0m33 2h0m25 -1h0m19 0h0m2 0h0m45 0h0m39 0h0m10 0h0m6 0h0m21 -1h0m3 1h0m36 -1h0m0 1h0m14 1h0m14 -2h0m2 0h0m0 1h0m6 0h0m109 0h0m2 -2h0m0 3h0m47 -2h0m13 1h0m3 0h0m157 -1h0m4 2h0m8 -2h0m4 -1h0m0 2h0m13 0h0"/><path stroke="#d1d1d2" stroke-width="3" d="M211 583h0m3 2h0m72 -3h0m23 0h0m9 1h0m12 1h0m6 0h0m30 -1h0m10 2h0m26 -1h0m8 0h0m7 1h0m38 -1h0m1 1h0m8 -1h0m21 1h0m40 0h0m15 -2h0m19 0h0m5 -1h0m1 1h0m25 1h0m21 0h0m1 0h0m8 -1h0m34 1h0m14 -1h0m107 0h0m1 0h0m9 0h0m75 2h0m50 -1h0m42 -1h0m23 0h0m11 2h0m25 -1h0m4 -1h0m15 1h0m12 -2h0m14 2h0m36 0h0m157 -2h0m17 3h0m8 0h0m26 -3h0m0 1h0m79 2h0m14 -2h0m21 0h0m1 0h0m11 1h0m16 0h0m9 -2h0m12 0h0m14 1h0m20 0h0m15 0h0m58 0h0m6 0h0m7 1h0m13 -2h0m33 3h0m19 -2h0m46 2h0m101 -2h0m6 0h0m18 -1h0m3 2h0m26 -1h0m7 -1h0m3 1h0m8 1h0m61 -1h0m27 0h0m43 -1h0m3 1h0m13 0h0m77 2h0m13 -2h0m48 -1h0m6 1h0m49 1h0m4 0h0m22 -2h0m12 1h0m163 0h0m8 0h0"/><path stroke="#d1d1d2" stroke-width="4" d="M131 582h0m0 2h0m79 0h0m3 0h0m22 -1h0m12 2h0m13 -1h0m2 0h0m1 -1h0m28 -1h0m17 2h0m3 -1h0m4 0h0m7 0h0m8 1h0m40 -1h0m28 0h0m27 1h0m22 0h0m10 0h0m6 0h0m13 -1h0m4 1h0m13 -1h0m10 0h0m6 -1h0m36 2h0m21 -2h0m29 2h0m3 -2h0m5 1h0m5 1h0m1 1h0m13 -2h0m43 2h0m6 -2h0m13 2h0m37 -3h0m1 2h0m4 1h0m15 0h0m35 -3h0m0 2h0m0 1h0m84 -1h0m30 1h0m71 -2h0m2 1h0m13 0h0m1 1h0m20 -1h0m0 1h0m32 -2h0m13 0h0m12 -1h0m248 0h0m0 2h0m1 1h0m74 -2h0m6 -1h0m40 2h0m44 0h0m68 0h0m91 -1h0m4 1h0m21 0h0m77 -1h0m4 -1h0m8 0h0m15 3h0m1 -3h0m5 1h0m6 1h0m68 -2h0m83 1h0m35 -1h0m13 1h0m30 2h0m9 0h0m2 -2h0m25 -1h0m10 2h0m1 -1h0m21 2h0m6 -2h0m22 -1h0m33 1h0m66 1h0m20 -1h0m23 0h0m86 -1h0m28 1h0m2 2h0m8 -3h0"/><path stroke="#d1d1d2" stroke-width="5" d="M131 582h0m22 1h0m39 2h0m50 -2h0m20 1h0m5 -1h0m5 0h0m1 1h0m19 0h0m27 -1h0m3 1h0m5 -1h0m3 1h0m9 1h0m16 -3h0m11 1h0m19 -1h0m27 3h0m5 -2h0m1 1h0m57 0h0m41 -1h0m7 1h0m9 -1h0m28 1h0m9 -1h0m88 1h0m117 -1h0m1 0h0m9 1h0m9 -1h0m66 -1h0m44 3h0m5 -3h0m54 2h0m20 -2h0m23 3h0m17 -2h0m32 2h0m193 -2h0m5 -1h0m50 1h0m23 2h0m36 -1h0m18 0h0m32 -1h0m30 -1h0m17 2h0m8 1h0m6 -3h0m2 1h0m19 1h0m4 -1h0m61 -1h0m8 1h0m13 0h0m33 0h0m36 1h0m28 -1h0m28 0h0m32 1h0m21 0h0m3 -2h0m9 2h0m54 -1h0m46 -1h0m38 2h0m13 1h0m27 -2h0m29 1h0m35 0h0m6 0h0m9 1h0m2 -2h0m3 0h0m21 2h0m19 -2h0m5 0h0m15 2h0m50 -3h0m0 1h0m8 0h0m31 1h0m19 -1h0m8 0h0m17 -1h0m8 1h0m2 1h0m3 -1h0m164 1h0"/><path stroke="#d1d1d2" stroke-width="6" d="M163 584h0m40 -2h0m5 2h0m26 -1h0m9 0h0m11 1h0m7 -1h0m6 1h0m77 1h0m23 -1h0m3 -2h0m51 0h0m45 2h0m3 0h0m4 -1h0m2 1h0m12 -1h0m32 1h0m21 0h0m35 1h0m21 -1h0m20 -1h0m9 1h0m3 1h0m4 -3h0m21 2h0m13 0h0m14 1h0m18 -2h0m53 0h0m3 -1h0m0 1h0m30 1h0m3 0h0m1 0h0m14 0h0m105 -2h0m41 0h0m21 2h0m2 -2h0m8 2h0m9 -1h0m46 -1h0m6 2h0m3 -1h0m14 -1h0m241 1h0m2 1h0m142 -1h0m4 2h0m40 -2h0m22 0h0m13 1h0m8 0h0m37 -1h0m0 1h0m4 0h0m61 -1h0m99 1h0m40 -1h0m2 -1h0m24 2h0m172 -1h0m16 1h0m16 -1h0m38 0h0m22 1h0m24 0h0m1 -1h0m69 1h0m14 0h0m2 0h0m34 0h0m3 0h0m6 -2h0m2 1h0m5 0h0m1 1h0m19 0h0m78 0h0"/><path stroke="#d1d1d2" stroke-width="7" d="M131 583h0m8 1h0m21 -2h0m19 2h0m13 1h0m42 0h0m37 -2h0m46 2h0m66 -1h0m22 0h0m72 -1h0m0 2h0m18 -2h0m41 0h0m22 2h0m11 0h0m12 -2h0m13 0h0m3 0h0m11 -1h0m4 1h0m13 -1h0m51 2h0m69 -1h0m19 -1h0m4 2h0m71 -1h0m118 2h0m40 -2h0m7 -1h0m23 0h0m2 0h0m6 1h0m14 1h0m123 -1h0m79 0h0m54 1h0m20 -1h0m59 0h0m40 0h0m15 0h0m13 2h0m44 -2h0m27 1h0m23 0h0m5 0h0m8 1h0m17 -2h0m6 2h0m21 -1h0m6 1h0m72 -3h0m55 1h0m56 2h0m44 -3h0m142 1h0m24 0h0m15 0h0m48 1h0m92 -1h0m25 1h0m1 1h0m2 -1h0m18 -1h0m3 0h0m0 1h0m2 0h0m1 -2h0m25 0h0m8 2h0m65 0h0"/><path stroke="#d1d1d2" stroke-width="8" d="M129 584h0m5 0h0m10 -1h0m1 0h0m36 1h0m77 -1h0m0 1h0m45 0h0m78 -1h0m2 2h0m47 -2h0m1 1h0m73 1h0m2 -2h0m3 1h0m4 -2h0m38 2h0m11 0h0m30 0h0m12 -1h0m34 -1h0m4 2h0m13 -1h0m2 0h0m19 1h0m4 0h0m5 0h0m8 1h0m52 -1h0m4 1h0m10 -1h0m10 0h0m1 -1h0m15 0h0m1 1h0m160 -1h0m15 1h0m18 0h0m4 -2h0m66 1h0m10 0h0m295 2h0m39 -1h0m40 0h0m13 0h0m49 -2h0m201 1h0m40 -1h0m6 1h0m23 0h0m33 1h0m179 -1h0m19 -1h0m21 2h0m36 -2h0m121 0h0m15 3h0m6 -1h0m34 -1h0m11 0h0m136 0h0m25 -1h0"/><path stroke="#d1d1d2" stroke-width="9" d="M180 582h0m4 1h0m28 1h0m22 -1h0m38 0h0m10 1h0m17 0h0m4 0h0m4 -1h0m0 1h0m2 -1h0m17 1h0m5 0h0m9 -2h0m7 0h0m9 1h0m5 1h0m6 -1h0m3 1h0m1 1h0m35 -1h0m22 -1h0m29 0h0m33 0h0m3 2h0m68 -1h0m8 -1h0m40 0h0m8 -1h0m38 2h0m27 0h0m33 -1h0m5 0h0m7 -1h0m8 1h0m27 0h0m5 1h0m178 -1h0m17 2h0m39 -2h0m3 2h0m47 0h0m11 -1h0m351 0h0m63 0h0m22 1h0m2 -2h0m25 1h0m17 0h0m22 -2h0m31 3h0m9 0h0m1 -2h0m137 1h0m23 -1h0m23 0h0m11 1h0m183 -1h0m1 1h0m18 0h0m10 0h0m1 1h0m32 -2h0m20 1h0m17 0h0m5 -1h0m75 -1h0m47 2h0m38 -2h0"/><path stroke="#d2d1d1" stroke-width="1" d="M332 587h0m3 -1h0m328 -1h0m230 2h0m312 1h0m110 -2h0m125 -1h0m108 2h0m18 -2h0m406 1h0m54 1h0m182 1h0"/><path stroke="#d2d1d1" stroke-width="2" d="M154 587h0m0 1h0m20 -3h0m32 0h0m6 1h0m30 0h0m21 2h0m17 0h0m18 -2h0m9 2h0m30 -2h0m9 1h0m21 0h0m9 0h0m0 1h0m17 -2h0m5 0h0m8 1h0m59 1h0m10 -2h0m26 2h0m14 -2h0m67 -1h0m2 2h0m8 -2h0m11 3h0m4 0h0m9 0h0m78 -2h0m13 2h0m13 -1h0m5 -1h0m37 1h0m2 -2h0m4 3h0m7 -1h0m7 1h0m14 -1h0m10 -1h0m96 2h0m26 -1h0m17 0h0m2 -1h0m11 2h0m1 -1h0m11 -1h0m47 1h0m18 0h0m15 -1h0m147 1h0m40 -1h0m14 0h0m9 1h0m11 1h0m28 -2h0m3 1h0m16 0h0m1 -1h0m42 2h0m1 -3h0m14 3h0m11 -2h0m1 1h0m36 -2h0m12 2h0m5 0h0m27 -2h0m4 0h0m3 2h0m2 0h0m15 -2h0m16 2h0m7 -2h0m4 3h0m1 -2h0m8 -1h0m7 2h0m18 1h0m10 -2h0m18 1h0m18 1h0m5 -2h0m26 0h0m21 2h0m24 -1h0m3 -1h0m4 1h0m59 1h0m26 -3h0m19 1h0m7 -1h0m10 1h0m51 1h0m1 0h0m1 0h0m1 -1h0m14 0h0m49 1h0m49 0h0m8 -1h0m7 0h0m2 0h0m35 1h0m4 1h0m6 -2h0m3 0h0m15 1h0m48 -2h0m10 0h0m52 0h0m10 1h0m15 -1h0m9 1h0m24 0h0m2 1h0m4 1h0m9 -1h0m88 1h0m82 -2h0m5 1h0m5 -1h0m20 1h0"/><path stroke="#d2d1d1" stroke-width="3" d="M129 586h0m18 1h0m7 0h0m2 1h0m22 -2h0m0 1h0m3 -2h0m11 0h0m69 3h0m7 -1h0m33 0h0m19 -1h0m18 1h0m26 -1h0m0 1h0m15 1h0m6 -3h0m12 3h0m15 -1h0m8 0h0m2 -2h0m72 3h0m7 -1h0m10 1h0m2 0h0m10 -3h0m6 1h0m14 0h0m11 1h0m5 1h0m34 -1h0m4 0h0m12 -2h0m10 0h0m13 1h0m4 1h0m1 -2h0m14 3h0m3 -2h0m21 0h0m12 2h0m28 0h0m38 -2h0m9 -1h0m15 2h0m3 1h0m106 -1h0m3 0h0m16 1h0m39 -2h0m26 0h0m6 2h0m3 -1h0m2 -1h0m6 -1h0m21 1h0m8 0h0m27 -1h0m4 2h0m41 1h0m109 -3h0m18 1h0m20 0h0m66 -1h0m2 1h0m55 -1h0m2 0h0m1 2h0m9 0h0m9 -1h0m10 0h0m4 0h0m8 2h0m54 -2h0m18 0h0m7 2h0m19 0h0m7 -2h0m3 0h0m3 0h0m2 1h0m15 1h0m2 -3h0m1 3h0m33 -1h0m6 0h0m9 -1h0m28 1h0m37 1h0m56 -1h0m29 -1h0m11 1h0m2 -1h0m3 1h0m52 0h0m4 -1h0m16 0h0m3 1h0m50 0h0m107 1h0m2 -3h0m1 1h0m32 1h0m5 -1h0m1 0h0m14 0h0m27 -1h0m1 1h0m3 -1h0m6 0h0m1 2h0m18 1h0m42 -1h0m10 -2h0m1 0h0m34 0h0m5 2h0m27 -1h0m4 1h0m8 0h0m107 0h0m50 -2h0m16 2h0m15 0h0m7 1h0"/><path stroke="#d2d1d1" stroke-width="4" d="M131 588h0m27 -1h0m1 0h0m29 -1h0m25 1h0m33 0h0m16 -2h0m14 2h0m22 -2h0m11 3h0m9 -3h0m4 3h0m18 -1h0m2 -2h0m42 1h0m21 1h0m15 1h0m1 -1h0m20 -1h0m68 2h0m8 -1h0m2 0h0m14 0h0m22 0h0m10 0h0m14 -2h0m12 3h0m6 -2h0m6 1h0m33 -1h0m13 1h0m35 1h0m28 -1h0m81 1h0m6 -2h0m111 -1h0m26 2h0m17 -1h0m32 0h0m27 0h0m9 0h0m15 0h0m12 1h0m3 -1h0m160 1h0m25 1h0m66 -2h0m26 0h0m108 0h0m9 0h0m19 1h0m10 0h0m3 -1h0m18 2h0m37 -1h0m30 -1h0m30 0h0m145 2h0m28 -2h0m27 1h0m5 -1h0m131 0h0m37 2h0m7 -1h0m40 0h0m6 0h0m3 1h0m8 -1h0m3 -1h0m16 0h0m22 -1h0m12 3h0m1 -2h0m4 -1h0m3 1h0m3 1h0m49 0h0m27 -1h0m10 -1h0m2 0h0m3 1h0m3 1h0m3 0h0m12 1h0m3 -1h0m14 -1h0m1 1h0m22 -2h0m56 1h0m7 2h0m112 -3h0m16 2h0"/><path stroke="#d2d1d1" stroke-width="5" d="M127 587h0m3 1h0m5 -2h0m5 2h0m16 -1h0m7 0h0m12 0h0m6 1h0m4 0h0m2 -3h0m3 2h0m3 1h0m6 -2h0m9 1h0m26 -2h0m3 2h0m2 0h0m8 1h0m9 -1h0m4 1h0m20 -2h0m7 -1h0m3 2h0m20 0h0m2 0h0m14 -1h0m7 2h0m10 -2h0m6 0h0m6 0h0m17 0h0m10 0h0m1 -1h0m0 1h0m21 0h0m2 0h0m14 0h0m6 -1h0m5 2h0m32 -1h0m6 0h0m16 1h0m24 -2h0m6 1h0m19 1h0m20 -1h0m41 1h0m12 -1h0m11 2h0m18 -2h0m25 -1h0m8 3h0m3 -2h0m1 2h0m88 -3h0m13 1h0m181 2h0m2 -1h0m11 -1h0m36 0h0m25 2h0m1 -3h0m15 0h0m203 0h0m54 1h0m62 2h0m32 -1h0m27 -1h0m3 -1h0m14 2h0m30 0h0m13 0h0m4 -1h0m6 -1h0m35 1h0m25 -1h0m1 1h0m2 -1h0m202 1h0m8 0h0m2 -1h0m12 2h0m1 -2h0m9 1h0m10 0h0m23 2h0m131 0h0m47 -3h0m1 1h0m2 0h0m23 0h0m0 1h0m22 0h0m14 -1h0m1 0h0m24 0h0m5 0h0m27 0h0m45 0h0m20 1h0m7 -1h0m0 1h0m127 1h0"/><path stroke="#d2d1d1" stroke-width="6" d="M129 586h0m2 0h0m9 0h0m31 -1h0m4 1h0m33 0h0m1 1h0m4 -1h0m25 -1h0m17 2h0m1 1h0m63 -1h0m18 -2h0m62 2h0m2 0h0m2 -1h0m24 2h0m5 -3h0m32 1h0m12 0h0m57 2h0m2 -2h0m7 2h0m15 -3h0m4 1h0m10 0h0m18 1h0m2 0h0m0 1h0m11 -2h0m1 2h0m13 -2h0m9 0h0m8 1h0m23 0h0m15 1h0m11 -3h0m16 3h0m1 -2h0m2 0h0m15 -1h0m28 2h0m7 -1h0m16 0h0m5 1h0m2 0h0m2 0h0m171 -2h0m22 2h0m27 -1h0m62 1h0m293 -1h0m91 -1h0m0 3h0m20 -1h0m22 -2h0m2 2h0m7 0h0m4 1h0m1 -3h0m33 1h0m11 -1h0m11 3h0m7 0h0m15 -1h0m10 -1h0m4 0h0m9 1h0m144 0h0m255 0h0m5 -2h0m8 2h0m10 -2h0m1 1h0m19 2h0m4 -1h0m8 -1h0m29 1h0m0 1h0m13 0h0m64 -1h0m1 0h0m14 0h0m31 -2h0m31 3h0m120 -2h0"/><path stroke="#d2d1d1" stroke-width="7" d="M160 586h0m19 0h0m3 1h0m4 -1h0m15 0h0m80 2h0m64 -2h0m10 2h0m5 -2h0m11 1h0m0 1h0m42 -2h0m15 1h0m10 -1h0m16 2h0m18 0h0m56 -2h0m40 -1h0m32 0h0m7 3h0m2 -2h0m9 1h0m64 -1h0m8 1h0m3 -1h0m45 0h0m3 1h0m40 1h0m12 0h0m2 -3h0m170 2h0m3 -2h0m76 1h0m345 1h0m26 -1h0m41 0h0m28 1h0m0 1h0m7 0h0m25 0h0m31 -3h0m2 1h0m47 1h0m21 -2h0m142 2h0m7 0h0m30 -1h0m184 0h0m25 2h0m12 -2h0m33 -1h0m1 3h0m2 -1h0m18 -1h0m112 1h0m31 -2h0m18 1h0m86 2h0"/><path stroke="#d2d1d1" stroke-width="8" d="M131 586h0m46 1h0m128 -2h0m38 0h0m11 3h0m16 -1h0m60 -1h0m33 0h0m59 0h0m43 -1h0m51 2h0m32 -1h0m16 1h0m59 1h0m46 -1h0m6 0h0m199 1h0m31 -1h0m0 1h0m412 0h0m77 -1h0m9 0h0m124 -2h0m110 1h0m8 1h0m21 -1h0m233 0h0m8 1h0m27 -1h0m30 1h0m30 -1h0m85 0h0m20 1h0m8 0h0m7 -1h0m8 1h0m5 -2h0m6 1h0m4 -1h0"/><path stroke="#d2d1d1" stroke-width="9" d="M131 587h0m21 0h0m9 0h0m21 -1h0m13 0h0m40 2h0m4 0h0m2 -1h0m26 -1h0m54 -1h0m22 1h0m2 1h0m30 -2h0m6 2h0m2 1h0m51 -1h0m30 0h0m2 -2h0m3 0h0m4 1h0m2 1h0m18 0h0m36 -1h0m43 0h0m6 2h0m24 -1h0m9 -2h0m66 2h0m13 0h0m3 0h0m42 0h0m30 -1h0m11 2h0m172 -2h0m7 -1h0m1 2h0m6 0h0m7 0h0m5 -2h0m13 1h0m1 0h0m435 1h0m10 1h0m32 -2h0m2 0h0m14 1h0m18 -1h0m10 -1h0m21 1h0m36 1h0m17 -2h0m146 3h0m7 -3h0m30 1h0m1 1h0m21 0h0m6 0h0m2 0h0m169 1h0m48 -1h0m34 1h0m37 -3h0m109 3h0m12 -3h0m0 2h0m2 1h0m2 -3h0m5 0h0m15 0h0m6 1h0m6 -1h0m77 3h0"/><path stroke="#d1cece" stroke-width="1" d="M153 591h0m307 0h0m18 -1h0m827 0h0m22 -1h0m319 0h0m147 2h0m74 -1h0"/><path stroke="#d1cece" stroke-width="2" d="M162 591h0m23 -1h0m13 1h0m3 -2h0m43 0h0m4 -1h0m15 1h0m3 1h0m2 -1h0m0 1h0m5 -1h0m43 1h0m60 0h0m2 -1h0m23 0h0m46 -1h0m21 2h0m5 -1h0m1 0h0m10 -1h0m3 1h0m17 1h0m3 0h0m7 0h0m41 -2h0m5 1h0m28 2h0m5 -3h0m0 1h0m17 -1h0m45 0h0m2 1h0m38 2h0m65 -1h0m105 -2h0m79 1h0m32 1h0m20 -1h0m23 -1h0m11 1h0m2 2h0m8 0h0m3 -2h0m6 1h0m7 -1h0m16 0h0m253 -1h0m37 1h0m3 1h0m32 -1h0m28 1h0m4 1h0m2 -1h0m9 0h0m0 1h0m3 -1h0m17 -1h0m30 1h0m3 -2h0m13 2h0m3 -2h0m0 1h0m3 -1h0m7 0h0m4 3h0m2 -2h0m26 0h0m25 0h0m30 0h0m6 0h0m124 0h0m6 0h0m30 1h0m8 0h0m16 0h0m5 -1h0m23 2h0m16 -1h0m16 -1h0m47 0h0m40 1h0m37 -1h0m44 1h0m11 -1h0m6 1h0m5 -1h0m39 0h0m5 0h0m29 0h0m61 1h0m21 0h0m3 -1h0m10 -1h0m16 3h0m72 -2h0m6 0h0m7 0h0m2 1h0m2 -1h0m1 2h0m8 0h0m80 0h0m8 -1h0m2 -2h0m1 0h0m1 0h0m15 1h0"/><path stroke="#d1cece" stroke-width="3" d="M124 590h0m6 -1h0m7 1h0m3 0h0m4 -2h0m23 2h0m11 0h0m20 0h0m17 -2h0m40 1h0m26 0h0m6 1h0m16 0h0m62 1h0m10 0h0m9 -2h0m8 -1h0m3 2h0m4 -2h0m3 2h0m5 -1h0m2 1h0m22 -2h0m33 0h0m23 3h0m14 -3h0m42 3h0m12 -1h0m0 1h0m39 -1h0m2 0h0m35 -2h0m2 0h0m39 1h0m1 1h0m11 -1h0m5 1h0m4 -1h0m2 2h0m5 -3h0m11 2h0m12 -1h0m12 1h0m31 -2h0m3 1h0m7 1h0m8 0h0m0 1h0m2 -1h0m74 -2h0m46 0h0m37 2h0m16 0h0m41 -1h0m23 1h0m214 -1h0m90 0h0m41 1h0m13 -2h0m25 2h0m28 -1h0m24 2h0m12 -2h0m2 1h0m28 0h0m11 -2h0m4 1h0m19 1h0m12 -1h0m2 -1h0m9 1h0m3 1h0m2 0h0m1 0h0m20 0h0m8 -1h0m2 2h0m15 -2h0m20 -1h0m15 0h0m6 3h0m33 -3h0m13 0h0m38 1h0m1 -1h0m1 0h0m34 1h0m23 1h0m4 0h0m71 -1h0m97 1h0m1 0h0m6 0h0m48 -2h0m16 3h0m26 0h0m19 -2h0m47 2h0m30 -3h0m1 1h0m9 1h0m5 0h0m13 -1h0m14 1h0m42 1h0m1 -3h0m3 3h0m74 -1h0m84 -1h0m1 0h0m11 0h0m17 1h0"/><path stroke="#d1cece" stroke-width="4" d="M138 590h0m20 1h0m1 -1h0m1 -1h0m11 1h0m11 0h0m61 1h0m2 -2h0m14 1h0m6 0h0m6 -1h0m26 2h0m9 -2h0m4 2h0m47 -3h0m11 2h0m29 1h0m13 -3h0m7 1h0m6 1h0m62 1h0m11 0h0m2 -3h0m15 3h0m27 -2h0m15 1h0m9 0h0m17 -2h0m2 2h0m10 0h0m12 -1h0m3 1h0m6 -2h0m0 2h0m6 0h0m6 -1h0m31 -1h0m1 3h0m8 -1h0m9 0h0m6 -1h0m29 0h0m17 1h0m14 -2h0m25 1h0m2 1h0m21 0h0m167 0h0m2 0h0m21 -1h0m27 0h0m16 0h0m38 -1h0m145 1h0m8 2h0m34 0h0m30 -2h0m2 2h0m164 0h0m22 0h0m3 -1h0m2 -1h0m12 -1h0m18 2h0m5 -1h0m2 0h0m2 0h0m33 1h0m13 -1h0m13 -1h0m0 2h0m3 -1h0m12 1h0m45 -1h0m109 2h0m26 -1h0m5 1h0m17 -1h0m38 -1h0m99 0h0m53 1h0m4 -2h0m7 1h0m1 0h0m14 0h0m9 1h0m16 -2h0m15 0h0m18 0h0m13 0h0m50 2h0m49 -1h0m3 0h0m10 1h0m16 -2h0m7 3h0m6 -2h0m87 0h0m17 -1h0m0 2h0m1 -1h0m96 1h0"/><path stroke="#d1cece" stroke-width="5" d="M135 588h0m25 1h0m10 0h0m65 2h0m10 -2h0m46 0h0m28 1h0m0 1h0m19 -2h0m2 2h0m2 -1h0m1 1h0m5 -1h0m71 -2h0m18 2h0m30 1h0m2 -1h0m4 -1h0m4 0h0m18 0h0m14 0h0m38 -1h0m6 1h0m9 0h0m9 0h0m15 1h0m34 1h0m9 -3h0m6 3h0m25 -2h0m34 0h0m2 0h0m1 2h0m5 -3h0m9 1h0m2 1h0m2 -1h0m7 1h0m1 0h0m66 -1h0m5 0h0m1 2h0m32 0h0m131 -2h0m5 2h0m12 -1h0m9 -2h0m45 2h0m12 -2h0m2 0h0m1 2h0m6 1h0m253 -1h0m0 1h0m78 -2h0m73 0h0m15 0h0m21 -1h0m0 1h0m1 2h0m32 -3h0m10 3h0m21 0h0m6 -2h0m22 1h0m3 0h0m161 1h0m19 -1h0m35 -1h0m2 1h0m48 0h0m3 1h0m115 -2h0m8 1h0m2 1h0m9 -2h0m38 -1h0m41 1h0m15 0h0m11 -1h0m89 2h0m46 -1h0m89 0h0"/><path stroke="#d1cece" stroke-width="6" d="M146 588h0m9 2h0m8 -1h0m7 1h0m44 0h0m1 0h0m29 0h0m19 -1h0m6 1h0m17 -1h0m7 -1h0m27 1h0m0 1h0m11 -2h0m11 3h0m11 -3h0m11 3h0m29 -3h0m13 0h0m3 3h0m32 0h0m12 -1h0m46 1h0m20 -1h0m17 0h0m7 -1h0m12 1h0m39 -1h0m63 0h0m17 2h0m9 -1h0m13 0h0m4 -1h0m25 1h0m9 0h0m6 -1h0m10 -1h0m20 2h0m175 0h0m39 0h0m38 -1h0m5 1h0m9 -1h0m7 1h0m5 -1h0m9 1h0m303 -1h0m60 1h0m5 1h0m2 -2h0m48 -1h0m3 1h0m10 1h0m4 -2h0m12 3h0m9 -2h0m57 1h0m26 1h0m171 -3h0m19 2h0m9 -1h0m7 2h0m50 -2h0m62 0h0m40 2h0m32 -3h0m25 3h0m15 -1h0m8 -1h0m45 0h0m2 2h0m1 -1h0m4 -1h0m3 0h0m90 1h0m40 1h0m9 0h0m70 -2h0m17 2h0"/><path stroke="#d1cece" stroke-width="7" d="M130 588h0m47 1h0m17 1h0m2 -1h0m5 0h0m1 0h0m9 0h0m33 -1h0m2 1h0m17 2h0m10 -3h0m37 1h0m38 1h0m22 1h0m107 0h0m9 -1h0m41 0h0m38 -1h0m1 -1h0m23 1h0m12 0h0m10 0h0m6 1h0m14 -1h0m11 2h0m17 -2h0m38 1h0m39 1h0m16 -1h0m22 -1h0m188 0h0m23 1h0m27 0h0m9 -2h0m9 1h0m8 2h0m6 -2h0m5 -1h0m404 2h0m26 -1h0m20 2h0m55 0h0m13 0h0m1 -3h0m3 0h0m39 1h0m121 -1h0m20 0h0m2 1h0m7 1h0m2 -1h0m9 1h0m20 1h0m30 -1h0m101 0h0m24 -2h0m37 2h0m1 0h0m16 1h0m13 -3h0m43 0h0m37 1h0m30 0h0m81 0h0m3 1h0m0 1h0m14 -1h0m12 -1h0m84 1h0m87 0h0"/><path stroke="#d1cece" stroke-width="8" d="M124 589h0m17 1h0m21 -1h0m23 1h0m8 1h0m70 0h0m31 -2h0m13 -1h0m34 2h0m8 1h0m47 -2h0m8 -1h0m1 1h0m19 -1h0m7 2h0m1 1h0m4 0h0m10 -2h0m9 1h0m10 0h0m126 -1h0m33 1h0m48 -2h0m19 0h0m8 0h0m7 2h0m9 -2h0m47 1h0m1 1h0m7 0h0m12 -1h0m4 1h0m174 -1h0m8 0h0m35 0h0m17 0h0m34 1h0m10 -2h0m222 0h0m18 3h0m121 -1h0m17 -1h0m3 0h0m19 0h0m11 2h0m26 0h0m8 -3h0m6 3h0m6 -1h0m7 0h0m7 -1h0m22 0h0m50 -1h0m122 1h0m5 1h0m11 0h0m14 -1h0m7 2h0m30 -2h0m199 2h0m1 -2h0m14 2h0m6 -3h0m16 1h0m3 0h0m1 0h0m20 2h0m35 -2h0m86 -1h0m10 3h0m10 -3h0m33 1h0m1 0h0"/><path stroke="#d1cece" stroke-width="9" d="M145 588h0m55 1h0m0 2h0m6 -3h0m36 2h0m1 1h0m3 -1h0m1 0h0m12 -2h0m3 2h0m19 1h0m2 -1h0m3 0h0m0 1h0m11 -2h0m31 0h0m5 2h0m49 -1h0m21 0h0m3 -1h0m0 2h0m2 -1h0m15 1h0m24 -2h0m28 0h0m31 2h0m7 0h0m9 -1h0m3 -1h0m18 0h0m48 1h0m26 -1h0m3 1h0m18 -1h0m38 -1h0m9 2h0m1 0h0m7 -1h0m2 -1h0m3 1h0m23 0h0m316 1h0m17 -1h0m381 0h0m38 2h0m47 -1h0m10 -1h0m31 1h0m1 -1h0m19 0h0m3 1h0m156 0h0m1 -1h0m4 2h0m36 0h0m1 -1h0m3 -1h0m261 2h0m40 -1h0m94 -1h0m5 1h0m10 -1h0m102 1h0m12 -1h0"/><path stroke="#d0cbcb" stroke-width="1" d="M485 592h0m108 0h0m362 0h0m416 2h0m44 -3h0m177 1h0m211 1h0m601 0h0"/><path stroke="#d0cbcb" stroke-width="2" d="M135 594h0m5 0h0m9 -1h0m24 0h0m16 0h0m15 0h0m32 0h0m8 0h0m4 1h0m14 -1h0m8 -2h0m10 0h0m5 1h0m31 1h0m10 -1h0m2 0h0m3 1h0m30 1h0m18 0h0m5 -2h0m8 1h0m27 -2h0m39 1h0m10 -1h0m44 3h0m15 -2h0m25 1h0m5 0h0m23 0h0m44 -1h0m23 2h0m2 -1h0m4 -1h0m10 0h0m12 2h0m6 -1h0m38 -1h0m45 1h0m2 -1h0m4 0h0m2 1h0m14 0h0m146 -2h0m4 2h0m8 0h0m31 -2h0m0 2h0m11 1h0m2 -2h0m2 0h0m38 1h0m29 -2h0m217 0h0m24 2h0m121 -1h0m10 0h0m11 0h0m30 -1h0m11 3h0m2 -1h0m0 1h0m4 -2h0m2 -1h0m0 1h0m12 1h0m29 -1h0m28 1h0m6 0h0m8 1h0m2 -1h0m7 -1h0m28 0h0m2 0h0m87 -1h0m33 1h0m12 0h0m26 0h0m10 -1h0m47 3h0m28 -2h0m70 0h0m31 1h0m41 0h0m2 1h0m12 -2h0m2 0h0m2 1h0m3 -1h0m26 1h0m9 -1h0m54 0h0m15 1h0m12 -2h0m68 1h0m5 -1h0m0 1h0m1 0h0m8 -1h0m17 1h0m11 0h0m56 1h0m3 0h0m14 1h0m3 0h0m4 -1h0"/><path stroke="#d0cbcb" stroke-width="3" d="M124 592h0m4 1h0m5 1h0m42 -2h0m13 0h0m12 0h0m11 1h0m22 -2h0m4 3h0m11 -3h0m2 2h0m3 1h0m12 -2h0m2 -1h0m40 1h0m0 2h0m8 -2h0m7 -1h0m10 1h0m58 1h0m35 -2h0m1 2h0m2 1h0m6 -1h0m10 0h0m13 -1h0m22 1h0m29 -2h0m27 3h0m10 -1h0m12 -2h0m60 2h0m7 -1h0m41 -1h0m1 2h0m32 1h0m2 -3h0m8 1h0m4 2h0m46 -1h0m3 -2h0m9 2h0m1 0h0m7 0h0m17 0h0m142 1h0m27 -1h0m11 -2h0m28 1h0m19 -1h0m5 1h0m1 0h0m17 1h0m4 -2h0m11 2h0m244 0h0m107 1h0m47 -2h0m1 0h0m16 0h0m1 -1h0m10 0h0m38 1h0m14 0h0m2 2h0m9 -1h0m3 -2h0m6 1h0m11 -1h0m10 1h0m4 -1h0m11 2h0m13 -1h0m125 0h0m9 1h0m1 1h0m75 -2h0m148 0h0m11 2h0m28 0h0m31 0h0m35 -1h0m115 0h0m23 -2h0m4 1h0m22 1h0m62 0h0m7 1h0m6 -1h0m6 -1h0m1 1h0m8 1h0m88 -3h0m0 2h0m7 0h0m9 -1h0m5 0h0"/><path stroke="#d0cbcb" stroke-width="4" d="M128 592h0m45 1h0m30 1h0m10 -3h0m22 0h0m46 1h0m39 -1h0m17 2h0m26 0h0m1 -1h0m13 1h0m1 0h0m20 -1h0m3 2h0m1 -2h0m7 -1h0m30 1h0m5 0h0m23 -1h0m2 2h0m3 -1h0m8 0h0m45 1h0m7 -1h0m6 0h0m11 1h0m5 -1h0m14 1h0m32 -1h0m2 0h0m1 0h0m16 -1h0m6 3h0m23 -1h0m39 -2h0m7 0h0m15 3h0m16 -1h0m40 -1h0m17 -1h0m0 2h0m134 -1h0m76 1h0m1 0h0m1 1h0m26 -2h0m44 0h0m307 2h0m52 -3h0m17 0h0m3 2h0m33 -1h0m15 2h0m2 0h0m7 -2h0m21 2h0m29 -3h0m19 3h0m25 -1h0m13 -2h0m153 2h0m29 0h0m8 -2h0m52 2h0m3 -1h0m14 1h0m7 0h0m96 -1h0m12 0h0m20 1h0m31 -1h0m2 -1h0m19 2h0m11 -1h0m1 2h0m22 -2h0m6 0h0m26 1h0m36 -1h0m1 1h0m2 0h0m18 0h0m10 0h0m22 0h0m2 0h0m7 0h0m11 -1h0m4 1h0m14 -1h0m67 0h0m5 1h0m95 -1h0"/><path stroke="#d0cbcb" stroke-width="5" d="M143 593h0m3 0h0m11 0h0m10 1h0m7 0h0m16 -1h0m12 0h0m33 -1h0m3 0h0m19 -1h0m3 0h0m1 2h0m10 1h0m15 0h0m14 -2h0m7 1h0m3 1h0m4 -2h0m7 1h0m10 -2h0m7 1h0m7 0h0m13 0h0m67 0h0m1 1h0m1 0h0m4 0h0m13 0h0m26 0h0m8 -2h0m16 1h0m2 0h0m12 0h0m17 2h0m3 -3h0m14 1h0m12 1h0m25 -1h0m0 1h0m25 -1h0m3 1h0m21 -1h0m24 1h0m23 1h0m8 -2h0m19 0h0m3 0h0m3 -1h0m13 1h0m30 0h0m2 1h0m4 -2h0m4 1h0m14 0h0m20 2h0m151 0h0m14 0h0m28 -1h0m24 0h0m32 0h0m16 0h0m1 0h0m3 -1h0m316 0h0m39 1h0m26 0h0m9 0h0m3 -2h0m13 1h0m9 0h0m13 1h0m10 0h0m0 1h0m5 -3h0m69 1h0m6 1h0m113 -1h0m34 0h0m7 1h0m28 0h0m59 -2h0m31 2h0m66 -2h0m54 2h0m10 -2h0m1 1h0m23 -1h0m1 1h0m22 -1h0m15 1h0m37 2h0m71 -1h0m49 -2h0m10 1h0m22 2h0m74 -2h0m4 -1h0m5 1h0m94 0h0m5 -1h0"/><path stroke="#d0cbcb" stroke-width="6" d="M151 591h0m4 1h0m30 1h0m16 0h0m68 0h0m1 -2h0m2 3h0m8 -2h0m4 1h0m7 -1h0m50 0h0m8 1h0m28 1h0m19 -1h0m9 -1h0m0 2h0m11 -1h0m29 -2h0m21 3h0m6 -1h0m5 -1h0m25 1h0m12 -1h0m13 -1h0m15 1h0m17 0h0m10 0h0m24 1h0m10 -1h0m36 0h0m22 1h0m12 0h0m3 -2h0m9 2h0m3 0h0m0 1h0m4 0h0m5 -2h0m20 2h0m11 -2h0m32 0h0m2 0h0m5 2h0m7 0h0m170 -2h0m0 2h0m18 -2h0m16 1h0m10 -2h0m7 2h0m418 -2h0m93 2h0m4 0h0m2 -2h0m27 1h0m19 0h0m23 2h0m5 -2h0m20 0h0m22 0h0m101 2h0m54 -1h0m3 0h0m11 -1h0m184 0h0m4 2h0m15 -1h0m15 -1h0m20 -1h0m6 3h0m40 -2h0m3 0h0m1 1h0m73 -2h0m20 2h0m3 -2h0m18 2h0m120 0h0m96 -2h0"/><path stroke="#d0cbcb" stroke-width="7" d="M133 592h0m1 1h0m23 0h0m6 0h0m25 -2h0m54 2h0m21 -1h0m21 1h0m26 -2h0m43 2h0m31 -1h0m16 0h0m11 2h0m25 -1h0m34 -1h0m6 2h0m14 -2h0m18 2h0m15 -1h0m32 0h0m3 0h0m10 0h0m24 1h0m1 0h0m30 -3h0m2 2h0m31 -1h0m63 1h0m32 0h0m16 -2h0m193 2h0m19 -2h0m3 0h0m1 3h0m13 0h0m8 0h0m5 -1h0m2 -2h0m53 1h0m0 1h0m379 0h0m14 -1h0m7 1h0m14 0h0m4 -1h0m48 0h0m12 0h0m17 0h0m203 2h0m4 -1h0m15 0h0m2 -1h0m14 2h0m167 0h0m38 -2h0m40 0h0m7 0h0m45 0h0m60 1h0m5 1h0m44 -3h0m27 0h0m71 3h0m63 -3h0m50 0h0m2 1h0"/><path stroke="#d0cbcb" stroke-width="8" d="M124 592h0m5 -1h0m19 1h0m44 0h0m12 1h0m47 -2h0m9 1h0m10 0h0m4 1h0m8 0h0m25 1h0m19 -3h0m16 2h0m45 0h0m33 0h0m51 0h0m39 -2h0m45 0h0m8 1h0m7 2h0m4 -2h0m45 1h0m5 -2h0m21 3h0m10 -3h0m10 2h0m6 -1h0m1 -1h0m18 2h0m5 0h0m23 0h0m67 0h0m167 1h0m11 -2h0m1 2h0m11 0h0m6 -3h0m5 3h0m17 -1h0m3 -1h0m28 1h0m21 0h0m9 0h0m1 -1h0m360 1h0m1 1h0m1 0h0m1 0h0m11 -2h0m21 1h0m15 -1h0m10 0h0m18 0h0m8 1h0m32 0h0m9 -1h0m11 1h0m8 -1h0m9 1h0m2 -1h0m12 0h0m166 1h0m40 0h0m22 0h0m144 -1h0m13 0h0m35 1h0m28 -1h0m43 -1h0m91 2h0m7 0h0m18 -1h0m18 -1h0m9 0h0m1 1h0m77 -1h0m10 1h0"/><path stroke="#d0cbcb" stroke-width="9" d="M147 593h0m1 1h0m15 -2h0m8 2h0m10 -3h0m71 2h0m12 -1h0m16 0h0m25 1h0m18 -2h0m2 2h0m6 -1h0m12 0h0m10 1h0m32 1h0m17 -3h0m9 1h0m15 -1h0m6 1h0m14 0h0m34 2h0m5 -1h0m12 -2h0m65 2h0m12 0h0m17 -1h0m5 -1h0m3 1h0m0 1h0m54 -1h0m12 0h0m28 1h0m14 -1h0m29 1h0m34 0h0m23 0h0m153 -1h0m19 1h0m23 -1h0m23 1h0m37 1h0m372 -1h0m9 0h0m9 0h0m20 -1h0m6 0h0m1 0h0m2 0h0m12 0h0m3 0h0m72 -1h0m2 2h0m41 0h0m12 0h0m150 1h0m24 -2h0m224 0h0m11 -1h0m5 1h0m4 1h0m23 -2h0m20 2h0m18 0h0m1 1h0m2 -2h0m109 0h0m9 0h0m20 -1h0m81 2h0"/><path stroke="#cfc8c8" stroke-width="1" d="M208 596h0m308 0h0m84 -1h0m19 -1h0m88 3h0m56 -1h0m23 -1h0m84 1h0m188 -1h0m370 0h0m60 0h0m93 -1h0m75 3h0m356 -2h0m38 -1h0m101 1h0m5 -1h0"/><path stroke="#cfc8c8" stroke-width="2" d="M124 596h0m19 -2h0m5 2h0m8 0h0m16 -2h0m6 1h0m7 -1h0m9 2h0m7 -1h0m61 -1h0m20 1h0m36 0h0m13 0h0m10 -1h0m14 3h0m7 -3h0m42 1h0m4 -1h0m11 2h0m24 1h0m22 -3h0m0 1h0m13 1h0m3 1h0m5 -3h0m4 3h0m5 -2h0m1 0h0m13 0h0m30 2h0m61 -3h0m1 1h0m38 1h0m7 -2h0m28 1h0m1 0h0m2 0h0m26 1h0m19 -1h0m6 1h0m15 -2h0m12 3h0m16 -2h0m18 -1h0m2 2h0m179 0h0m15 -1h0m3 0h0m14 0h0m2 2h0m17 -3h0m8 0h0m2 2h0m4 0h0m1 1h0m2 -2h0m13 0h0m5 -1h0m0 1h0m8 1h0m10 -1h0m72 0h0m113 0h0m20 1h0m88 1h0m64 -2h0m46 0h0m7 2h0m15 -1h0m7 0h0m3 0h0m4 0h0m7 0h0m35 0h0m6 0h0m17 0h0m154 0h0m18 0h0m36 0h0m1 -1h0m6 -1h0m7 3h0m1 -1h0m2 1h0m17 -1h0m24 0h0m9 1h0m4 -2h0m88 2h0m1 -1h0m39 0h0m2 0h0m8 1h0m7 -2h0m3 2h0m2 -2h0m5 -1h0m14 2h0m5 -1h0m22 1h0m31 -2h0m86 1h0m13 -1h0m26 2h0m22 -2h0m69 0h0m2 0h0m45 2h0m1 -2h0m6 0h0m39 1h0"/><path stroke="#cfc8c8" stroke-width="3" d="M123 595h0m13 -1h0m20 0h0m0 2h0m18 -2h0m62 1h0m5 1h0m7 -1h0m4 -1h0m6 1h0m4 0h0m11 1h0m16 -1h0m11 1h0m7 -1h0m3 0h0m29 0h0m2 1h0m10 1h0m2 -1h0m14 0h0m2 -1h0m1 0h0m3 0h0m75 2h0m9 -1h0m4 0h0m11 0h0m7 0h0m0 1h0m12 -1h0m1 -2h0m1 2h0m1 1h0m23 -2h0m67 2h0m19 -3h0m21 0h0m1 2h0m30 -1h0m3 0h0m12 1h0m15 -1h0m27 -1h0m6 2h0m5 -1h0m32 -1h0m38 1h0m158 0h0m4 -1h0m0 1h0m24 2h0m2 -1h0m5 -1h0m9 0h0m8 1h0m0 1h0m18 -1h0m11 0h0m19 0h0m24 0h0m301 -1h0m39 0h0m9 0h0m30 0h0m5 2h0m21 0h0m7 -1h0m2 -1h0m3 1h0m29 0h0m12 1h0m7 -1h0m11 -1h0m5 2h0m72 -1h0m107 0h0m1 1h0m17 -1h0m65 1h0m34 -2h0m56 0h0m58 2h0m11 -2h0m3 0h0m3 0h0m23 0h0m18 1h0m8 0h0m10 -1h0m1 0h0m10 -1h0m18 2h0m14 -1h0m20 1h0m73 -2h0m4 0h0m46 3h0m6 0h0m62 -1h0m21 -1h0m11 0h0m88 0h0"/><path stroke="#cfc8c8" stroke-width="4" d="M133 596h0m21 -1h0m0 1h0m21 0h0m1 -1h0m11 -1h0m20 0h0m28 2h0m21 0h0m5 -2h0m6 1h0m3 2h0m2 -1h0m9 -2h0m10 1h0m14 2h0m16 -3h0m11 3h0m4 0h0m18 -1h0m60 -1h0m6 1h0m4 -1h0m2 1h0m3 0h0m1 0h0m18 -2h0m21 1h0m18 1h0m27 -2h0m6 1h0m20 -1h0m19 3h0m10 -2h0m40 0h0m15 1h0m9 1h0m2 -2h0m4 0h0m18 0h0m18 -1h0m0 2h0m4 -2h0m6 1h0m1 -1h0m12 0h0m6 2h0m13 1h0m39 -3h0m7 2h0m3 0h0m22 0h0m121 0h0m28 1h0m7 0h0m16 0h0m103 -1h0m346 0h0m18 -1h0m7 1h0m8 -2h0m9 2h0m7 -1h0m11 1h0m2 0h0m31 0h0m18 0h0m4 -1h0m21 1h0m5 -1h0m6 2h0m3 -2h0m3 0h0m5 -1h0m13 1h0m2 1h0m21 0h0m7 1h0m3 -2h0m116 1h0m33 -1h0m160 2h0m47 -3h0m72 3h0m45 0h0m3 -2h0m86 -1h0m5 2h0m29 0h0m29 0h0m63 1h0m13 -1h0"/><path stroke="#cfc8c8" stroke-width="5" d="M149 597h0m23 -3h0m4 0h0m0 2h0m6 0h0m18 -2h0m0 1h0m34 0h0m45 2h0m14 -1h0m7 -1h0m6 1h0m2 -1h0m0 2h0m27 -3h0m17 1h0m44 2h0m16 -2h0m18 0h0m1 0h0m14 0h0m3 -1h0m19 2h0m37 -1h0m7 2h0m9 -2h0m14 2h0m1 -2h0m93 -1h0m10 1h0m35 1h0m8 -1h0m1 1h0m9 -1h0m17 1h0m19 1h0m45 -3h0m8 2h0m15 -1h0m109 2h0m43 -3h0m10 2h0m2 0h0m16 0h0m20 0h0m8 -1h0m21 0h0m32 -1h0m0 2h0m80 -1h0m231 2h0m39 -2h0m14 0h0m16 0h0m5 2h0m16 -1h0m17 -1h0m4 2h0m14 0h0m6 0h0m10 0h0m8 -2h0m12 2h0m6 -1h0m15 0h0m12 -1h0m4 -1h0m1 1h0m16 -1h0m1 2h0m14 -1h0m0 2h0m31 -2h0m102 0h0m15 1h0m22 0h0m9 -2h0m4 0h0m4 1h0m39 0h0m16 2h0m23 -3h0m82 2h0m21 0h0m13 1h0m4 -3h0m1 0h0m5 1h0m25 1h0m1 -2h0m28 1h0m159 -1h0m0 1h0m113 1h0m98 -2h0"/><path stroke="#cfc8c8" stroke-width="6" d="M125 595h0m0 1h0m6 0h0m60 -1h0m17 2h0m41 -3h0m12 3h0m4 -3h0m21 2h0m9 -2h0m56 1h0m30 -1h0m10 1h0m0 2h0m13 -3h0m23 0h0m30 1h0m22 0h0m14 1h0m3 1h0m1 -2h0m11 -1h0m19 2h0m1 0h0m6 -2h0m90 1h0m4 2h0m35 -3h0m279 2h0m38 1h0m1 0h0m25 -1h0m5 -1h0m16 0h0m3 2h0m5 -1h0m20 1h0m2 -3h0m177 1h0m192 1h0m10 -1h0m7 -1h0m22 3h0m6 -1h0m3 1h0m4 -1h0m9 -2h0m10 3h0m21 -2h0m15 2h0m18 -1h0m15 -1h0m9 0h0m19 0h0m141 1h0m14 1h0m2 0h0m7 -3h0m17 0h0m9 0h0m14 0h0m4 1h0m1 0h0m0 1h0m213 -1h0m3 2h0m6 -2h0m2 1h0m14 -2h0m12 1h0m28 0h0m9 2h0m104 -2h0m9 0h0m17 2h0m12 0h0m82 -1h0"/><path stroke="#cfc8c8" stroke-width="7" d="M135 595h0m41 0h0m10 -1h0m22 2h0m37 -2h0m23 2h0m0 1h0m5 0h0m1 -2h0m31 2h0m16 0h0m44 -2h0m3 0h0m30 1h0m9 0h0m5 0h0m8 -1h0m25 1h0m23 0h0m21 1h0m12 -2h0m6 0h0m75 0h0m6 1h0m1 -1h0m4 1h0m18 -1h0m12 0h0m35 1h0m4 0h0m8 1h0m1 0h0m6 -2h0m4 0h0m8 0h0m31 -1h0m2 0h0m55 3h0m9 -1h0m149 0h0m11 0h0m24 -1h0m16 0h0m18 1h0m25 -2h0m1 0h0m3 1h0m9 0h0m13 0h0m368 0h0m67 -1h0m1 3h0m22 -3h0m1 3h0m27 -3h0m26 3h0m8 -3h0m5 3h0m11 0h0m15 -3h0m126 1h0m10 0h0m11 1h0m13 -1h0m19 -1h0m3 0h0m5 3h0m180 -2h0m1 -1h0m0 2h0m29 -1h0m8 1h0m6 -1h0m14 1h0m10 -2h0m43 1h0m75 1h0m49 -2h0m95 0h0m86 0h0"/><path stroke="#cfc8c8" stroke-width="8" d="M152 596h0m4 1h0m10 0h0m4 -3h0m15 3h0m3 0h0m15 -2h0m4 -1h0m26 3h0m7 -3h0m40 1h0m2 -1h0m39 0h0m15 0h0m18 1h0m6 -1h0m10 0h0m26 1h0m10 1h0m21 -2h0m7 2h0m9 0h0m13 -1h0m8 1h0m13 1h0m46 -1h0m40 -1h0m72 2h0m12 -3h0m10 1h0m27 0h0m6 1h0m38 -1h0m31 0h0m15 1h0m152 -2h0m9 2h0m34 -2h0m30 1h0m33 0h0m10 1h0m1 -1h0m11 0h0m7 1h0m355 1h0m7 -1h0m16 -1h0m2 2h0m20 0h0m5 0h0m14 -1h0m40 1h0m45 -1h0m6 -1h0m0 1h0m9 -1h0m26 -1h0m1 2h0m127 -2h0m6 2h0m7 0h0m14 -1h0m6 2h0m20 -1h0m4 -1h0m181 1h0m9 1h0m15 0h0m8 -2h0m7 1h0m5 1h0m64 0h0m4 -2h0m3 1h0m92 0h0m49 0h0m73 -2h0m12 2h0m10 -2h0"/><path stroke="#cfc8c8" stroke-width="9" d="M129 596h0m43 1h0m2 -2h0m7 0h0m25 2h0m28 -1h0m4 -1h0m6 1h0m2 0h0m22 1h0m3 -1h0m18 -1h0m14 -1h0m61 1h0m4 0h0m9 0h0m54 1h0m3 0h0m19 1h0m13 -2h0m2 2h0m19 -1h0m24 -1h0m56 2h0m1 -1h0m1 -1h0m7 0h0m27 -1h0m15 2h0m35 0h0m10 -1h0m31 1h0m27 -1h0m2 -1h0m40 0h0m14 1h0m189 2h0m18 -1h0m21 -2h0m420 2h0m6 1h0m5 -2h0m8 -1h0m11 0h0m20 1h0m37 1h0m49 -1h0m5 0h0m1 1h0m15 0h0m3 -1h0m12 0h0m132 0h0m8 1h0m4 1h0m30 -2h0m196 1h0m30 0h0m19 -1h0m19 1h0m52 -2h0m70 2h0m1 1h0m19 0h0m13 -1h0m117 0h0"/><path stroke="#cec5c5" stroke-width="1" d="M308 598h0m16 1h0m108 0h0m3 -1h0m28 -1h0m176 0h0m130 2h0m695 0h0m86 0h0m13 0h0m180 0h0m477 -1h0"/><path stroke="#cec5c5" stroke-width="2" d="M131 597h0m24 1h0m16 0h0m6 2h0m8 -2h0m0 1h0m5 -1h0m19 1h0m1 -2h0m2 0h0m31 0h0m12 1h0m1 -1h0m5 2h0m9 1h0m7 -1h0m3 0h0m29 -1h0m11 0h0m24 2h0m11 -2h0m15 0h0m1 0h0m44 0h0m20 2h0m9 -3h0m3 0h0m21 3h0m7 -3h0m6 2h0m14 0h0m8 1h0m1 -2h0m12 2h0m6 -2h0m11 -1h0m62 2h0m11 -1h0m2 1h0m33 1h0m27 0h0m10 -3h0m5 1h0m2 1h0m8 -1h0m13 2h0m3 -3h0m12 1h0m3 2h0m15 -3h0m18 1h0m3 1h0m0 1h0m2 -1h0m6 0h0m10 -1h0m1 -1h0m7 1h0m166 -1h0m2 2h0m13 -1h0m2 -1h0m18 0h0m1 3h0m11 -3h0m7 1h0m3 0h0m30 0h0m21 0h0m89 -1h0m68 3h0m79 -3h0m149 1h0m16 2h0m1 -1h0m5 -1h0m4 1h0m11 -1h0m20 0h0m10 1h0m8 0h0m11 -1h0m1 -1h0m24 1h0m6 1h0m9 0h0m12 0h0m44 1h0m114 -1h0m5 0h0m6 1h0m8 -1h0m2 1h0m21 -1h0m9 -2h0m4 2h0m1 -1h0m5 1h0m49 0h0m4 1h0m68 -1h0m120 -1h0m0 2h0m18 -1h0m2 0h0m17 -1h0m122 0h0m4 1h0m1 -1h0m20 0h0m75 1h0m106 -1h0m5 1h0m2 0h0m2 -1h0m1 1h0"/><path stroke="#cec5c5" stroke-width="3" d="M129 599h0m1 -1h0m33 1h0m26 -1h0m19 0h0m4 0h0m32 1h0m20 -1h0m12 1h0m14 -2h0m9 0h0m11 2h0m51 -1h0m13 0h0m20 0h0m10 1h0m19 -2h0m2 1h0m3 0h0m5 1h0m8 -1h0m5 0h0m0 1h0m10 0h0m16 1h0m84 -1h0m2 -2h0m80 1h0m25 0h0m6 1h0m11 0h0m15 -2h0m26 2h0m4 0h0m25 -1h0m14 0h0m16 1h0m13 0h0m8 -1h0m102 1h0m83 -1h0m4 0h0m60 1h0m1 1h0m381 -2h0m1 0h0m10 1h0m10 -2h0m1 3h0m30 -1h0m14 0h0m11 0h0m5 1h0m20 -2h0m17 -1h0m12 1h0m2 1h0m15 -1h0m13 -1h0m6 2h0m140 -1h0m10 -1h0m19 3h0m31 0h0m1 -1h0m1 -1h0m1 2h0m16 -1h0m3 -2h0m144 2h0m8 -1h0m1 2h0m29 -2h0m8 1h0m21 1h0m18 -2h0m17 1h0m15 -1h0m94 0h0m13 2h0m11 -2h0m1 2h0m3 -2h0m4 1h0m31 -1h0m164 1h0"/><path stroke="#cec5c5" stroke-width="4" d="M158 597h0m13 0h0m4 2h0m11 -1h0m17 0h0m5 0h0m36 1h0m30 1h0m11 -1h0m16 -1h0m17 0h0m5 0h0m31 1h0m15 0h0m35 0h0m9 -2h0m5 1h0m10 1h0m13 -2h0m35 0h0m0 1h0m8 2h0m4 -3h0m6 0h0m1 1h0m10 0h0m2 -1h0m11 1h0m7 1h0m27 -1h0m8 1h0m39 -1h0m4 -1h0m5 2h0m4 -1h0m7 1h0m4 -2h0m30 1h0m7 0h0m4 0h0m22 1h0m12 0h0m10 -1h0m6 0h0m1 0h0m0 1h0m9 0h0m18 0h0m3 -1h0m4 0h0m7 0h0m14 0h0m3 1h0m13 0h0m76 0h0m42 -1h0m84 -1h0m19 3h0m8 -2h0m20 1h0m27 1h0m3 -1h0m358 1h0m16 -1h0m10 0h0m15 -1h0m16 0h0m14 2h0m37 -1h0m19 -1h0m60 0h0m20 0h0m106 2h0m7 -2h0m34 -1h0m0 1h0m16 0h0m129 0h0m20 -1h0m23 0h0m46 3h0m22 -2h0m41 1h0m88 0h0m19 0h0m39 1h0m13 -2h0m74 0h0m7 1h0"/><path stroke="#cec5c5" stroke-width="5" d="M132 597h0m29 1h0m17 2h0m1 -2h0m10 -1h0m6 3h0m47 -2h0m33 1h0m10 -1h0m38 2h0m6 0h0m37 -1h0m30 -1h0m2 1h0m3 0h0m2 -1h0m19 0h0m10 1h0m24 0h0m11 -1h0m9 -1h0m0 1h0m4 1h0m21 0h0m7 -1h0m79 -1h0m10 1h0m2 1h0m25 -1h0m33 0h0m0 1h0m33 1h0m28 -2h0m1 1h0m3 1h0m2 -2h0m46 1h0m5 0h0m198 -1h0m7 0h0m52 0h0m2 2h0m12 -2h0m3 -1h0m207 2h0m98 0h0m54 -2h0m22 1h0m6 1h0m2 -1h0m17 -1h0m35 1h0m14 0h0m27 -1h0m3 0h0m13 1h0m18 1h0m6 1h0m221 -2h0m2 2h0m29 -3h0m35 2h0m7 -1h0m104 1h0m18 -2h0m22 2h0m4 -1h0m2 0h0m12 -1h0m16 0h0m10 0h0m21 1h0m12 -1h0m1 0h0m0 2h0m2 -1h0m67 2h0m8 -2h0m35 1h0m6 -2h0m0 2h0m5 0h0m108 -1h0"/><path stroke="#cec5c5" stroke-width="6" d="M138 599h0m23 -1h0m36 -1h0m12 1h0m26 2h0m4 -2h0m2 1h0m41 -1h0m5 1h0m39 -1h0m30 0h0m46 1h0m4 -1h0m29 1h0m13 1h0m1 -1h0m26 -1h0m4 2h0m3 -1h0m29 -1h0m2 -1h0m51 2h0m3 -1h0m8 1h0m48 -1h0m36 0h0m5 1h0m24 1h0m2 0h0m16 -2h0m83 -1h0m3 0h0m2 1h0m140 -1h0m14 0h0m19 2h0m17 0h0m13 1h0m26 -1h0m4 -2h0m13 3h0m368 -3h0m30 3h0m26 -3h0m19 0h0m21 2h0m1 -1h0m4 2h0m21 0h0m37 -2h0m1 0h0m20 2h0m14 0h0m5 -1h0m131 -1h0m43 2h0m186 0h0m1 -2h0m44 1h0m81 -1h0m99 1h0m1 -1h0m35 2h0m3 -2h0m202 1h0"/><path stroke="#cec5c5" stroke-width="7" d="M191 598h0m3 0h0m7 2h0m92 -3h0m13 2h0m15 -2h0m99 2h0m5 0h0m21 -2h0m22 1h0m6 0h0m1 1h0m4 -2h0m7 3h0m9 -1h0m3 -1h0m17 0h0m13 0h0m50 2h0m5 -2h0m9 -1h0m28 2h0m5 0h0m13 0h0m54 0h0m3 -1h0m24 0h0m1 1h0m4 -2h0m10 0h0m23 3h0m6 -1h0m1 1h0m5 -3h0m194 2h0m41 -1h0m14 2h0m17 -3h0m2 0h0m1 3h0m2 -1h0m3 0h0m21 1h0m330 -3h0m50 2h0m7 0h0m45 -1h0m41 1h0m24 0h0m8 0h0m175 0h0m4 1h0m12 -2h0m5 1h0m28 1h0m3 -2h0m222 -1h0m25 0h0m48 1h0m92 1h0m9 1h0m7 0h0m1 -1h0m1 1h0m22 -3h0m210 2h0"/><path stroke="#cec5c5" stroke-width="8" d="M147 598h0m18 1h0m27 -1h0m2 2h0m9 -2h0m8 0h0m1 0h0m69 2h0m26 -2h0m17 2h0m6 -2h0m17 0h0m2 1h0m52 0h0m33 0h0m2 -1h0m31 1h0m52 0h0m20 -1h0m65 2h0m4 -2h0m49 2h0m28 -2h0m6 0h0m23 1h0m2 -2h0m3 2h0m46 1h0m225 -1h0m11 1h0m37 -2h0m21 1h0m301 1h0m51 0h0m14 -1h0m15 -2h0m2 0h0m13 1h0m16 1h0m1 1h0m11 -3h0m13 0h0m17 3h0m40 0h0m6 0h0m9 0h0m13 -1h0m12 0h0m17 0h0m118 0h0m13 0h0m15 0h0m44 -1h0m265 2h0m89 -3h0m51 1h0m27 1h0"/><path stroke="#cec5c5" stroke-width="9" d="M132 597h0m64 2h0m13 -1h0m5 0h0m83 2h0m102 -2h0m14 1h0m13 -2h0m18 2h0m5 -1h0m14 -1h0m9 1h0m3 1h0m21 1h0m56 -3h0m17 2h0m8 1h0m14 -2h0m14 1h0m7 1h0m36 -1h0m20 0h0m3 -1h0m17 2h0m11 -1h0m2 1h0m6 -1h0m12 1h0m46 -2h0m21 1h0m158 0h0m43 -1h0m13 1h0m7 0h0m1 -1h0m27 -1h0m4 3h0m19 0h0m356 -2h0m2 0h0m29 0h0m6 1h0m7 1h0m20 -3h0m4 1h0m15 0h0m31 1h0m18 -1h0m8 1h0m10 -1h0m28 0h0m140 0h0m9 0h0m9 2h0m8 -1h0m1 -1h0m2 2h0m41 0h0m162 -2h0m6 1h0m34 -1h0m21 -1h0m23 1h0m4 1h0m11 0h0m8 -1h0m11 -1h0m11 0h0m83 1h0m3 1h0m4 0h0m0 1h0m16 -1h0m35 0h0"/><path stroke="#cdc2c2" stroke-width="1" d="M260 603h0m6 0h0m52 -2h0m297 0h0m3 0h0m70 0h0m28 0h0m72 1h0m252 1h0m15 -2h0m386 1h0m22 0h0m320 0h0"/><path stroke="#cdc2c2" stroke-width="2" d="M123 600h0m7 3h0m16 -1h0m3 0h0m0 1h0m6 -3h0m7 1h0m43 1h0m30 -1h0m44 0h0m4 -1h0m7 1h0m15 2h0m28 -2h0m5 2h0m4 -2h0m26 0h0m20 1h0m17 -2h0m2 1h0m16 2h0m2 -3h0m48 2h0m15 1h0m9 -2h0m10 0h0m10 -1h0m46 3h0m35 -2h0m26 -1h0m15 0h0m17 1h0m106 2h0m15 -1h0m18 0h0m135 0h0m28 0h0m17 0h0m4 0h0m2 0h0m2 0h0m1 0h0m45 0h0m12 -1h0m14 0h0m153 1h0m175 -1h0m14 -1h0m18 1h0m8 1h0m26 -1h0m6 0h0m19 2h0m2 -1h0m9 -2h0m11 2h0m4 0h0m7 0h0m13 1h0m3 -2h0m43 2h0m17 -3h0m10 2h0m141 -1h0m4 2h0m9 -2h0m19 1h0m16 -1h0m20 1h0m45 -1h0m8 0h0m111 1h0m20 1h0m10 -3h0m2 2h0m3 0h0m1 -1h0m42 -1h0m6 3h0m9 -1h0m2 0h0m5 0h0m15 1h0m2 0h0m4 -2h0m0 2h0m1 -2h0m3 1h0m50 0h0m41 0h0m31 -1h0m16 0h0m2 1h0m78 -2h0m84 2h0"/><path stroke="#cdc2c2" stroke-width="3" d="M148 603h0m14 -1h0m17 1h0m1 -3h0m28 1h0m4 1h0m3 -2h0m25 0h0m2 1h0m16 0h0m2 1h0m11 0h0m6 -1h0m4 2h0m1 -1h0m12 -1h0m23 1h0m32 -1h0m4 2h0m20 -2h0m3 2h0m3 -1h0m22 0h0m21 -1h0m42 0h0m1 1h0m8 -2h0m7 1h0m21 1h0m8 -1h0m7 0h0m46 -1h0m3 1h0m101 -1h0m23 3h0m3 -1h0m22 0h0m11 -1h0m38 0h0m0 1h0m39 0h0m152 -1h0m5 1h0m4 -1h0m1 1h0m5 -1h0m0 2h0m43 -1h0m16 -1h0m9 -1h0m3 0h0m2 1h0m4 1h0m2 0h0m15 1h0m235 0h0m133 0h0m1 -2h0m7 0h0m2 1h0m23 -1h0m18 0h0m17 0h0m28 0h0m3 1h0m24 -1h0m25 -1h0m1 2h0m4 -1h0m12 1h0m35 -1h0m98 -1h0m33 0h0m27 1h0m4 1h0m0 1h0m29 -1h0m13 -1h0m33 0h0m97 1h0m3 -2h0m32 1h0m12 -1h0m5 2h0m1 -1h0m41 0h0m14 1h0m12 1h0m69 -2h0m31 0h0m25 -1h0m20 1h0m13 0h0m68 1h0m16 0h0"/><path stroke="#cdc2c2" stroke-width="4" d="M143 602h0m19 -1h0m5 0h0m2 -1h0m4 1h0m5 0h0m13 -1h0m4 1h0m65 1h0m24 0h0m25 0h0m5 -1h0m4 0h0m2 0h0m14 -1h0m3 0h0m30 3h0m10 -3h0m15 2h0m9 -1h0m0 2h0m16 -2h0m29 0h0m1 1h0m10 1h0m10 0h0m2 -2h0m1 -1h0m1 2h0m3 -1h0m3 -1h0m11 2h0m18 -2h0m1 1h0m13 2h0m6 -2h0m15 0h0m3 2h0m16 -1h0m10 0h0m18 0h0m7 -1h0m7 0h0m8 0h0m14 0h0m4 1h0m12 -2h0m13 1h0m5 2h0m1 -2h0m6 2h0m18 -1h0m3 -1h0m32 1h0m34 0h0m17 -1h0m25 -1h0m1 0h0m0 3h0m163 -2h0m46 2h0m5 0h0m2 -2h0m18 2h0m10 -1h0m14 0h0m8 -2h0m4 1h0m364 -1h0m3 2h0m1 0h0m12 -1h0m22 0h0m20 -1h0m69 0h0m2 1h0m23 0h0m26 1h0m178 0h0m0 1h0m10 -2h0m123 -1h0m47 0h0m0 2h0m16 -2h0m30 0h0m14 1h0m2 1h0m4 -1h0m18 1h0m41 -1h0m124 -1h0m99 2h0m118 -1h0"/><path stroke="#cdc2c2" stroke-width="5" d="M123 601h0m32 0h0m5 0h0m29 1h0m13 1h0m32 -1h0m21 -2h0m0 2h0m9 0h0m6 -2h0m5 2h0m6 -1h0m11 0h0m38 -1h0m11 3h0m34 -3h0m2 0h0m0 2h0m12 1h0m5 -1h0m9 0h0m14 0h0m10 -1h0m28 1h0m33 -1h0m1 -1h0m31 0h0m22 0h0m13 1h0m41 1h0m1 1h0m3 -1h0m3 1h0m1 0h0m3 -2h0m12 0h0m2 0h0m1 2h0m34 0h0m6 -1h0m20 -2h0m1 1h0m31 0h0m35 1h0m14 -2h0m11 1h0m11 2h0m2 -2h0m139 2h0m12 -2h0m7 1h0m14 -1h0m18 1h0m37 0h0m44 -2h0m2 1h0m128 1h0m135 0h0m93 1h0m7 -1h0m3 0h0m10 0h0m5 -1h0m2 -1h0m2 1h0m8 -1h0m2 1h0m12 0h0m9 0h0m37 2h0m12 -1h0m6 -2h0m16 1h0m11 0h0m6 0h0m5 1h0m1 0h0m8 1h0m2 -2h0m5 0h0m6 2h0m15 -1h0m6 0h0m117 -1h0m49 -1h0m3 1h0m7 -1h0m10 2h0m107 -1h0m50 1h0m23 0h0m4 0h0m2 1h0m16 -2h0m4 0h0m27 2h0m39 -2h0m12 1h0m59 -2h0m36 0h0m5 1h0m20 1h0m11 -1h0m7 1h0m16 -2h0m4 2h0m79 -2h0m86 2h0"/><path stroke="#cdc2c2" stroke-width="6" d="M128 602h0m17 -1h0m6 0h0m25 -1h0m31 2h0m34 -1h0m2 2h0m30 0h0m9 -1h0m1 -1h0m0 1h0m24 -1h0m11 -1h0m14 2h0m5 -1h0m5 2h0m54 -1h0m7 0h0m7 -2h0m10 0h0m7 3h0m9 0h0m3 -1h0m26 -1h0m20 2h0m12 -2h0m8 -1h0m27 2h0m22 0h0m26 -1h0m12 1h0m2 -1h0m28 2h0m17 -3h0m14 2h0m33 -2h0m7 2h0m4 0h0m0 1h0m57 -2h0m1 2h0m9 -1h0m4 -1h0m6 0h0m18 0h0m4 1h0m16 -1h0m146 -1h0m0 2h0m7 -2h0m11 2h0m20 0h0m14 0h0m4 -2h0m2 1h0m18 0h0m7 1h0m11 0h0m141 -1h0m224 2h0m1 -1h0m10 -1h0m13 -1h0m63 0h0m19 0h0m11 2h0m1 -2h0m20 1h0m2 1h0m1 -1h0m2 0h0m7 1h0m15 1h0m9 -2h0m140 0h0m29 0h0m9 0h0m1 0h0m1 0h0m14 2h0m8 -2h0m9 -1h0m202 3h0m7 0h0m4 -2h0m29 1h0m10 1h0m38 -2h0m11 0h0m59 0h0m57 2h0"/><path stroke="#cdc2c2" stroke-width="7" d="M256 602h0m15 0h0m5 1h0m13 -2h0m14 0h0m6 -1h0m20 2h0m41 0h0m0 1h0m37 -1h0m10 -1h0m27 0h0m3 1h0m36 0h0m43 -2h0m11 2h0m20 0h0m94 -1h0m66 1h0m9 0h0m9 0h0m15 -1h0m0 2h0m2 -3h0m6 1h0m16 -1h0m2 2h0m162 1h0m8 -3h0m22 1h0m1 0h0m7 -1h0m4 0h0m30 1h0m21 -1h0m3 1h0m7 0h0m16 0h0m305 0h0m34 0h0m43 -1h0m14 0h0m20 1h0m2 1h0m14 -2h0m17 1h0m1 0h0m63 0h0m0 1h0m8 -1h0m20 0h0m131 1h0m1 0h0m11 1h0m3 -2h0m22 -1h0m9 1h0m5 0h0m9 0h0m153 -1h0m24 1h0m52 0h0m4 0h0m19 1h0m2 -1h0m16 1h0m27 0h0m121 1h0m28 -1h0"/><path stroke="#cdc2c2" stroke-width="8" d="M135 602h0m16 1h0m21 -2h0m41 1h0m33 -1h0m24 1h0m42 0h0m0 1h0m2 -1h0m6 1h0m10 0h0m8 -2h0m24 0h0m8 -1h0m6 3h0m29 -1h0m26 -2h0m2 3h0m36 0h0m2 0h0m42 -3h0m16 1h0m80 2h0m19 -3h0m25 3h0m116 -2h0m7 2h0m11 -3h0m150 2h0m27 -1h0m22 1h0m13 1h0m23 -2h0m37 -1h0m355 3h0m19 -2h0m24 2h0m20 0h0m24 -3h0m13 1h0m6 -1h0m12 0h0m9 1h0m188 -1h0m12 2h0m5 -2h0m47 2h0m161 -2h0m12 1h0m122 1h0m1 -1h0m96 -1h0m16 2h0m10 -1h0m13 -1h0"/><path stroke="#cdc2c2" stroke-width="9" d="M160 601h0m10 1h0m31 0h0m12 1h0m29 -3h0m3 1h0m71 -1h0m5 0h0m10 1h0m7 -1h0m0 3h0m3 -3h0m6 0h0m3 2h0m42 0h0m32 0h0m12 1h0m58 -1h0m4 -1h0m21 1h0m14 1h0m1 -2h0m27 2h0m5 -1h0m36 0h0m34 1h0m43 -2h0m4 0h0m13 0h0m12 -1h0m7 1h0m3 1h0m28 -2h0m12 1h0m33 2h0m153 -3h0m0 3h0m20 -1h0m4 -1h0m8 0h0m0 2h0m2 0h0m4 -3h0m39 0h0m5 3h0m26 -1h0m393 0h0m9 -1h0m54 1h0m50 0h0m15 0h0m158 -1h0m56 1h0m8 -1h0m187 2h0m4 -1h0m226 -1h0"/><path stroke="#ccbfbf" stroke-width="1" d="M410 603h0m83 2h0m1072 -1h0m190 2h0m258 -3h0m54 1h0m179 0h0m129 0h0m39 0h0"/><path stroke="#ccbfbf" stroke-width="2" d="M127 606h0m6 -2h0m2 1h0m20 1h0m35 0h0m2 0h0m2 -2h0m10 0h0m52 2h0m4 -1h0m2 1h0m10 -1h0m2 -1h0m2 1h0m17 1h0m8 0h0m24 -2h0m39 -1h0m2 3h0m1 0h0m3 -1h0m6 0h0m2 -1h0m5 -1h0m0 2h0m23 -2h0m1 2h0m2 0h0m3 -2h0m23 0h0m23 1h0m4 0h0m11 1h0m0 1h0m22 0h0m6 -1h0m2 0h0m4 0h0m26 0h0m35 -1h0m31 -1h0m18 2h0m3 -1h0m1 1h0m12 0h0m23 -2h0m9 1h0m43 -1h0m7 0h0m0 2h0m2 1h0m8 -2h0m8 1h0m10 -1h0m5 -1h0m10 1h0m0 2h0m9 -1h0m4 -1h0m136 1h0m50 -2h0m2 2h0m5 -2h0m13 1h0m86 0h0m373 0h0m7 0h0m19 1h0m1 0h0m36 0h0m9 0h0m1 0h0m16 -1h0m5 0h0m5 2h0m6 -1h0m10 0h0m49 -1h0m67 0h0m73 0h0m3 0h0m2 -1h0m20 0h0m0 3h0m8 -1h0m24 -1h0m29 0h0m39 1h0m101 0h0m12 1h0m22 0h0m14 -2h0m1 -1h0m26 2h0m9 1h0m13 -1h0m21 1h0m1 -2h0m6 -1h0m93 2h0m35 -1h0m190 -1h0"/><path stroke="#ccbfbf" stroke-width="3" d="M151 604h0m1 1h0m15 -1h0m18 1h0m18 0h0m38 0h0m12 0h0m21 0h0m6 0h0m7 -2h0m39 0h0m17 1h0m5 2h0m7 -3h0m1 2h0m10 -1h0m4 1h0m20 -1h0m6 0h0m10 1h0m10 1h0m10 -1h0m22 -1h0m49 1h0m25 -1h0m13 2h0m20 -2h0m10 0h0m0 1h0m31 -2h0m122 3h0m3 -1h0m6 1h0m19 -3h0m5 2h0m8 -1h0m8 -1h0m0 2h0m3 0h0m6 0h0m2 -1h0m14 1h0m47 1h0m100 0h0m3 -1h0m32 0h0m14 1h0m30 0h0m17 -1h0m12 0h0m168 -2h0m241 3h0m7 -2h0m2 1h0m8 -1h0m2 0h0m9 -1h0m8 0h0m21 1h0m7 1h0m5 -2h0m6 2h0m28 0h0m8 -2h0m3 1h0m14 1h0m9 -2h0m55 0h0m20 0h0m67 1h0m6 1h0m10 0h0m9 -2h0m6 2h0m15 -1h0m4 -1h0m0 1h0m133 2h0m53 -2h0m25 1h0m43 0h0m4 1h0m29 0h0m30 -1h0m98 0h0m12 -1h0m7 1h0m15 0h0m67 -2h0m14 1h0"/><path stroke="#ccbfbf" stroke-width="4" d="M129 605h0m4 -2h0m9 2h0m5 -1h0m13 2h0m16 -2h0m80 1h0m9 0h0m16 1h0m15 0h0m20 0h0m6 0h0m7 -1h0m23 -2h0m14 2h0m2 1h0m13 -1h0m16 -1h0m0 1h0m25 -1h0m1 0h0m1 -1h0m7 1h0m62 -1h0m2 1h0m12 0h0m6 2h0m48 0h0m9 -1h0m18 0h0m4 0h0m7 1h0m4 -1h0m15 1h0m5 0h0m5 -2h0m60 2h0m34 -2h0m22 0h0m8 1h0m8 -1h0m1 -1h0m3 2h0m175 0h0m18 -2h0m4 2h0m17 1h0m6 -1h0m21 0h0m36 -1h0m4 0h0m1 1h0m146 -2h0m235 0h0m7 0h0m20 1h0m34 0h0m10 1h0m6 -1h0m17 0h0m11 1h0m9 -1h0m14 1h0m4 -1h0m21 2h0m4 -2h0m8 1h0m6 -1h0m160 -1h0m7 3h0m20 -2h0m186 2h0m4 -2h0m13 -1h0m13 2h0m20 0h0m13 -2h0m8 1h0m6 2h0m13 -1h0m19 0h0m7 0h0m2 -2h0m3 3h0m64 -1h0m1 -1h0m5 1h0m16 0h0m23 -1h0m4 1h0m34 0h0m130 0h0m50 -2h0"/><path stroke="#ccbfbf" stroke-width="5" d="M131 605h0m22 -2h0m4 2h0m3 0h0m17 1h0m11 -3h0m17 2h0m54 -1h0m20 1h0m26 -1h0m12 0h0m20 0h0m21 -1h0m7 3h0m4 0h0m4 -2h0m44 2h0m6 -3h0m7 3h0m19 -3h0m6 1h0m22 0h0m20 0h0m44 2h0m3 -2h0m42 0h0m13 -1h0m12 2h0m16 -1h0m24 0h0m22 0h0m17 1h0m8 1h0m21 0h0m13 -1h0m7 0h0m21 -2h0m17 2h0m10 0h0m139 0h0m29 0h0m13 0h0m11 0h0m5 -2h0m4 1h0m13 -1h0m12 0h0m0 2h0m314 1h0m34 -1h0m53 1h0m2 -2h0m10 -1h0m13 1h0m16 0h0m0 1h0m8 -1h0m3 0h0m6 0h0m9 2h0m5 -3h0m1 1h0m4 0h0m5 -1h0m6 1h0m11 1h0m1 0h0m26 -1h0m14 0h0m12 0h0m10 1h0m22 -2h0m130 1h0m7 -1h0m5 1h0m11 0h0m28 -1h0m8 2h0m189 0h0m2 0h0m1 1h0m20 0h0m4 -2h0m10 -1h0m38 2h0m13 -2h0m16 2h0m4 0h0m11 -1h0m88 -1h0m37 2h0m11 -1h0m76 1h0m50 0h0"/><path stroke="#ccbfbf" stroke-width="6" d="M146 606h0m3 -2h0m36 1h0m8 0h0m54 -2h0m6 2h0m21 -1h0m0 2h0m9 -3h0m32 2h0m23 0h0m5 0h0m10 0h0m5 -1h0m54 2h0m16 -1h0m4 -2h0m17 1h0m24 1h0m27 0h0m34 -1h0m14 1h0m9 0h0m33 1h0m18 0h0m112 0h0m46 0h0m8 -2h0m209 0h0m11 -1h0m17 0h0m52 1h0m365 0h0m16 2h0m68 0h0m4 -2h0m21 0h0m19 2h0m1 0h0m12 -3h0m22 2h0m6 -2h0m0 3h0m148 -2h0m13 0h0m39 1h0m3 0h0m119 -1h0m82 1h0m12 1h0m50 -1h0m105 -2h0m27 0h0m3 3h0m7 -1h0m14 -2h0m11 2h0m6 -2h0"/><path stroke="#ccbfbf" stroke-width="7" d="M184 605h0m12 0h0m4 -1h0m2 0h0m38 -1h0m1 3h0m42 -1h0m45 -1h0m1 1h0m3 0h0m11 1h0m12 -1h0m42 -1h0m2 2h0m15 -3h0m13 0h0m9 2h0m19 -1h0m1 0h0m96 0h0m6 0h0m32 2h0m15 -2h0m7 2h0m79 -1h0m15 -1h0m19 -1h0m1 2h0m2 0h0m4 -1h0m21 1h0m10 -2h0m14 3h0m2 -3h0m185 0h0m34 2h0m40 -2h0m0 2h0m8 1h0m17 -3h0m383 1h0m21 0h0m0 2h0m21 0h0m5 -3h0m1 2h0m35 1h0m25 -1h0m26 -1h0m31 2h0m1 -1h0m116 -1h0m2 0h0m1 -1h0m55 2h0m9 0h0m183 0h0m5 -2h0m47 2h0m9 -1h0m20 0h0m1 1h0m3 -2h0m7 1h0m2 0h0m12 0h0m4 2h0m116 -2h0m15 1h0m8 -1h0m2 2h0"/><path stroke="#ccbfbf" stroke-width="8" d="M135 605h0m9 -2h0m38 2h0m24 -1h0m8 0h0m29 -1h0m13 1h0m53 0h0m33 -1h0m0 1h0m9 0h0m71 0h0m6 2h0m42 -1h0m3 0h0m33 -1h0m36 2h0m23 -1h0m40 -2h0m3 1h0m21 -1h0m37 2h0m9 0h0m39 0h0m5 -1h0m49 1h0m191 -1h0m26 0h0m6 0h0m53 -1h0m395 1h0m11 0h0m5 -1h0m11 0h0m8 1h0m21 0h0m9 -1h0m32 1h0m5 1h0m6 1h0m11 -3h0m3 1h0m20 2h0m9 -1h0m9 -1h0m171 1h0m20 -1h0m177 2h0m28 0h0m7 -2h0m52 0h0m120 0h0m35 2h0m22 -2h0m4 1h0"/><path stroke="#ccbfbf" stroke-width="9" d="M156 606h0m47 -2h0m30 1h0m61 1h0m6 -1h0m10 0h0m8 1h0m32 -1h0m24 0h0m9 0h0m14 -2h0m28 0h0m6 1h0m18 0h0m15 0h0m194 -1h0m15 1h0m8 0h0m27 0h0m41 2h0m200 -2h0m9 0h0m6 1h0m18 0h0m18 -1h0m26 1h0m1 1h0m448 0h0m12 -2h0m15 0h0m45 0h0m1 -1h0m13 1h0m168 1h0m5 -1h0m5 1h0m28 -1h0m17 2h0m11 -1h0m281 -1h0m9 -1h0m7 1h0"/><path stroke="#cbbcbc" stroke-width="1" d="M283 608h0m191 0h0m13 0h0m7 -1h0m190 0h0m110 -1h0m203 1h0m455 1h0m19 -1h0m80 1h0m12 0h0m4 1h0"/><path stroke="#cbbcbc" stroke-width="2" d="M129 606h0m1 2h0m6 -2h0m18 3h0m32 -1h0m7 0h0m12 -2h0m2 3h0m37 0h0m29 -1h0m1 -1h0m34 1h0m11 0h0m0 1h0m5 -1h0m6 1h0m32 -1h0m16 -1h0m19 -1h0m1 1h0m6 1h0m3 -1h0m26 1h0m13 -1h0m25 -1h0m14 3h0m36 0h0m2 -3h0m21 2h0m19 0h0m16 -2h0m15 1h0m10 -1h0m12 0h0m21 1h0m17 1h0m26 0h0m6 -1h0m11 1h0m1 -1h0m8 0h0m0 1h0m14 -1h0m2 1h0m180 -2h0m57 3h0m6 0h0m8 -2h0m1 1h0m9 0h0m1 -1h0m9 0h0m24 -1h0m15 1h0m113 1h0m174 0h0m88 -2h0m16 1h0m22 2h0m51 -2h0m56 1h0m6 1h0m37 -2h0m1 1h0m15 -1h0m0 2h0m1 -3h0m120 3h0m28 -2h0m11 1h0m18 0h0m198 1h0m25 -2h0m32 0h0m6 1h0m43 -2h0m98 3h0m8 -1h0m32 1h0m172 0h0"/><path stroke="#cbbcbc" stroke-width="3" d="M124 607h0m0 2h0m8 0h0m8 -2h0m30 0h0m28 -1h0m3 1h0m7 2h0m6 -2h0m22 0h0m10 2h0m13 -3h0m11 1h0m10 1h0m8 1h0m21 -3h0m55 3h0m21 -3h0m8 1h0m1 1h0m9 -2h0m7 1h0m6 -1h0m0 3h0m16 -1h0m14 -1h0m5 1h0m9 0h0m3 1h0m4 -3h0m5 1h0m5 0h0m83 1h0m9 1h0m26 -2h0m13 -1h0m0 2h0m2 1h0m2 0h0m38 -1h0m4 0h0m1 -1h0m16 0h0m4 1h0m28 1h0m3 -2h0m2 1h0m1 -2h0m19 2h0m23 -1h0m4 1h0m6 0h0m1 1h0m10 0h0m172 -1h0m12 0h0m3 -2h0m5 1h0m8 1h0m4 -1h0m32 2h0m12 -3h0m20 0h0m3 1h0m0 2h0m262 -1h0m129 -1h0m7 2h0m13 -2h0m14 -1h0m0 1h0m5 0h0m4 0h0m5 1h0m17 -2h0m3 0h0m2 0h0m20 1h0m7 1h0m25 0h0m8 0h0m17 0h0m1 1h0m26 -2h0m66 0h0m58 0h0m43 -1h0m11 1h0m32 1h0m157 0h0m2 0h0m60 0h0m42 0h0m14 -1h0m92 1h0m18 -2h0m5 2h0m16 -1h0m5 2h0m173 -1h0"/><path stroke="#cbbcbc" stroke-width="4" d="M156 607h0m17 0h0m2 0h0m5 1h0m7 0h0m6 -1h0m3 0h0m38 -1h0m1 0h0m82 2h0m25 0h0m26 -2h0m2 0h0m30 1h0m0 1h0m11 0h0m16 -1h0m48 1h0m31 0h0m5 0h0m58 -1h0m17 1h0m39 0h0m11 0h0m4 1h0m10 -1h0m7 -2h0m59 3h0m11 -2h0m27 1h0m21 -2h0m181 3h0m18 -2h0m35 0h0m3 0h0m11 -1h0m11 2h0m29 -2h0m346 1h0m7 0h0m5 2h0m23 -3h0m48 1h0m1 -1h0m1 2h0m5 -2h0m52 0h0m16 3h0m16 -1h0m145 1h0m2 0h0m7 -1h0m54 -1h0m1 -1h0m9 2h0m37 -1h0m34 -1h0m82 2h0m29 -1h0m42 1h0m12 0h0m9 1h0m16 0h0m18 -3h0m12 1h0m82 0h0m2 0h0m34 -1h0m11 2h0m7 0h0m2 0h0m190 -1h0"/><path stroke="#cbbcbc" stroke-width="5" d="M124 608h0m7 1h0m21 0h0m13 -2h0m19 0h0m6 2h0m9 -2h0m14 0h0m29 2h0m14 -2h0m5 1h0m4 0h0m1 -1h0m25 0h0m43 0h0m10 0h0m36 2h0m26 0h0m69 0h0m9 -2h0m15 -1h0m1 2h0m7 0h0m3 0h0m3 0h0m10 1h0m44 -1h0m2 -1h0m29 1h0m20 0h0m11 -1h0m1 2h0m8 -2h0m15 1h0m43 -1h0m0 2h0m9 -2h0m5 2h0m1 -2h0m12 1h0m2 1h0m2 -1h0m32 -2h0m36 2h0m150 0h0m24 -1h0m5 -1h0m2 2h0m4 -2h0m3 0h0m13 1h0m8 2h0m19 -2h0m14 2h0m1 -3h0m2 0h0m2 1h0m14 1h0m4 -1h0m3 1h0m346 0h0m20 -1h0m2 0h0m1 0h0m11 2h0m35 -2h0m27 1h0m26 -1h0m27 0h0m2 1h0m2 -1h0m2 0h0m49 1h0m50 0h0m101 -1h0m7 0h0m2 0h0m3 1h0m208 -2h0m44 3h0m9 -1h0m10 -1h0m42 1h0m81 1h0m6 -1h0m56 0h0m13 -1h0"/><path stroke="#cbbcbc" stroke-width="6" d="M130 607h0m3 0h0m0 1h0m6 -2h0m11 2h0m24 1h0m2 -1h0m11 1h0m18 -1h0m6 -2h0m35 1h0m4 0h0m19 0h0m9 0h0m3 0h0m10 1h0m9 0h0m13 -2h0m6 2h0m28 -1h0m19 2h0m39 -1h0m4 -2h0m11 3h0m1 -3h0m23 3h0m11 -3h0m18 0h0m12 0h0m38 2h0m15 0h0m20 -1h0m4 0h0m6 1h0m21 -2h0m16 2h0m23 1h0m44 -3h0m3 0h0m0 1h0m6 1h0m18 -2h0m12 0h0m43 2h0m10 -1h0m23 1h0m158 -2h0m23 3h0m29 -3h0m15 3h0m29 -1h0m286 -2h0m119 3h0m28 -1h0m11 -2h0m15 3h0m1 -2h0m13 2h0m1 -2h0m46 1h0m9 -2h0m20 0h0m16 1h0m137 1h0m27 -2h0m10 1h0m225 0h0m20 -1h0m5 2h0m57 -1h0m68 1h0m28 0h0m17 1h0m30 -2h0"/><path stroke="#cbbcbc" stroke-width="7" d="M136 608h0m27 1h0m16 -2h0m5 0h0m18 1h0m11 1h0m54 0h0m9 -3h0m30 3h0m35 -2h0m15 2h0m6 -1h0m1 -2h0m1 1h0m56 1h0m12 0h0m40 1h0m4 0h0m72 -2h0m89 2h0m20 -2h0m69 1h0m29 -1h0m7 1h0m206 -1h0m18 0h0m45 0h0m21 2h0m196 -1h0m167 0h0m14 0h0m26 -2h0m51 2h0m10 1h0m12 0h0m3 -1h0m76 0h0m122 -1h0m7 2h0m6 -1h0m24 0h0m19 1h0m234 -1h0m21 0h0m11 0h0m118 -1h0m4 2h0m11 0h0m30 -2h0m12 2h0m75 -3h0"/><path stroke="#cbbcbc" stroke-width="8" d="M127 606h0m4 3h0m105 -1h0m56 -1h0m7 1h0m4 0h0m50 -1h0m41 0h0m19 2h0m18 -2h0m16 1h0m18 0h0m4 1h0m1 0h0m13 -1h0m13 1h0m25 -1h0m6 -1h0m31 0h0m43 1h0m2 -2h0m36 1h0m33 1h0m24 -1h0m5 0h0m31 2h0m26 -1h0m200 1h0m6 -2h0m15 2h0m55 0h0m13 -1h0m87 -1h0m297 2h0m15 -1h0m15 -1h0m22 -1h0m21 3h0m6 -2h0m4 1h0m1 1h0m19 -1h0m16 -1h0m32 1h0m146 0h0m5 -1h0m121 -1h0m144 3h0m46 -2h0m18 -1h0m130 2h0m16 1h0m18 -1h0m6 0h0"/><path stroke="#cbbcbc" stroke-width="9" d="M127 609h0m5 -1h0m63 1h0m14 -1h0m45 0h0m35 -2h0m23 2h0m4 0h0m37 0h0m12 -1h0m1 0h0m1 1h0m19 0h0m18 -2h0m2 1h0m40 1h0m4 -1h0m24 1h0m11 -2h0m10 2h0m19 -1h0m0 2h0m14 0h0m33 0h0m18 -1h0m16 -2h0m8 1h0m17 1h0m16 0h0m14 -1h0m13 1h0m1 -2h0m9 2h0m33 1h0m9 0h0m5 -1h0m45 -1h0m9 1h0m166 -2h0m5 1h0m9 1h0m4 -2h0m2 0h0m37 1h0m39 -1h0m29 0h0m386 1h0m1 1h0m4 -1h0m8 1h0m11 -2h0m39 3h0m38 0h0m20 -2h0m21 -1h0m0 1h0m17 2h0m143 0h0m223 0h0m8 0h0m15 -1h0m51 -2h0m111 3h0"/><path stroke="#cab9b9" stroke-width="1" d="M280 611h0m8 0h0m105 -1h0m402 -1h0m396 2h0m773 0h0m91 0h0m293 -2h0"/><path stroke="#cab9b9" stroke-width="2" d="M145 612h0m4 -3h0m24 1h0m4 0h0m6 -1h0m3 1h0m9 0h0m14 1h0m53 1h0m2 -1h0m17 -1h0m15 0h0m14 0h0m8 -1h0m20 3h0m16 -3h0m66 3h0m18 -3h0m28 1h0m1 -1h0m0 1h0m6 -1h0m1 1h0m0 1h0m10 -1h0m0 2h0m56 -3h0m3 2h0m16 -2h0m8 1h0m15 1h0m10 0h0m12 -1h0m3 -1h0m30 1h0m16 0h0m33 0h0m19 -1h0m1 1h0m5 0h0m1 -1h0m4 1h0m1 0h0m3 0h0m6 2h0m3 -2h0m17 0h0m6 -1h0m5 1h0m11 0h0m10 1h0m4 -1h0m31 1h0m130 -1h0m3 2h0m30 -1h0m2 -1h0m31 -1h0m17 1h0m0 1h0m3 1h0m6 -2h0m5 0h0m279 0h0m92 0h0m20 -1h0m8 2h0m15 0h0m2 1h0m13 -1h0m2 -1h0m2 2h0m3 -1h0m9 -1h0m21 0h0m9 -1h0m37 1h0m6 1h0m1 0h0m48 -2h0m121 2h0m5 0h0m26 0h0m6 0h0m3 0h0m197 -1h0m1 0h0m10 0h0m0 1h0m12 -1h0m24 1h0m14 1h0m27 -3h0m9 1h0m25 0h0m90 -1h0m34 1h0m7 2h0m22 0h0"/><path stroke="#cab9b9" stroke-width="3" d="M148 611h0m14 -2h0m13 1h0m17 1h0m4 -1h0m18 1h0m21 -1h0m9 0h0m14 0h0m6 1h0m6 0h0m4 1h0m1 -3h0m2 1h0m8 0h0m0 1h0m29 0h0m3 -1h0m8 1h0m68 0h0m2 0h0m2 1h0m8 -1h0m43 -2h0m28 3h0m22 -3h0m11 2h0m3 0h0m8 0h0m40 -2h0m6 3h0m18 -1h0m15 -1h0m25 -1h0m2 1h0m32 -1h0m1 0h0m9 2h0m18 0h0m86 -2h0m2 1h0m93 2h0m50 -2h0m21 0h0m5 1h0m12 0h0m36 -1h0m8 0h0m11 -1h0m11 3h0m6 -2h0m9 -1h0m1 1h0m3 1h0m9 -2h0m221 0h0m145 0h0m2 3h0m7 0h0m18 -2h0m17 2h0m6 -1h0m47 0h0m18 0h0m14 -1h0m4 1h0m3 1h0m1 0h0m2 0h0m2 -2h0m29 0h0m46 2h0m50 -2h0m55 1h0m6 -2h0m42 1h0m55 0h0m68 0h0m95 0h0m3 1h0m76 0h0m94 -1h0m47 1h0m107 -1h0"/><path stroke="#cab9b9" stroke-width="4" d="M141 609h0m11 0h0m8 0h0m35 1h0m9 2h0m39 -2h0m32 0h0m5 2h0m2 -1h0m36 -2h0m51 1h0m14 -1h0m12 2h0m23 0h0m6 -1h0m36 2h0m8 -1h0m3 0h0m42 -2h0m26 1h0m70 1h0m19 -1h0m6 0h0m25 0h0m6 0h0m17 1h0m3 0h0m12 0h0m30 -2h0m1 2h0m15 0h0m32 -2h0m162 1h0m1 0h0m24 1h0m18 -1h0m2 1h0m32 -1h0m45 2h0m136 -1h0m78 0h0m28 0h0m25 -1h0m89 -1h0m14 2h0m26 0h0m41 -2h0m20 1h0m9 1h0m26 -1h0m8 1h0m25 1h0m20 -2h0m22 2h0m374 -3h0m27 2h0m36 -1h0m26 1h0m96 -1h0m9 -1h0m14 1h0m11 1h0m61 -2h0"/><path stroke="#cab9b9" stroke-width="5" d="M134 611h0m26 0h0m16 -1h0m99 1h0m49 -2h0m5 3h0m1 -2h0m25 1h0m45 0h0m6 -1h0m0 1h0m26 0h0m43 1h0m33 0h0m25 -2h0m56 1h0m2 1h0m9 -1h0m20 -2h0m53 2h0m2 -1h0m3 0h0m16 -1h0m5 1h0m6 1h0m2 0h0m8 -1h0m12 2h0m29 -1h0m4 0h0m21 -1h0m203 0h0m0 2h0m13 -2h0m26 -1h0m224 2h0m78 -1h0m34 2h0m72 -3h0m1 0h0m31 2h0m2 0h0m19 0h0m8 0h0m5 0h0m38 -2h0m0 2h0m1 0h0m21 -2h0m13 2h0m1 -2h0m27 1h0m9 -1h0m17 0h0m177 1h0m147 0h0m20 0h0m28 0h0m1 0h0m7 2h0m34 -1h0m155 1h0m21 -1h0m9 0h0m10 0h0m1 0h0m73 0h0"/><path stroke="#cab9b9" stroke-width="6" d="M123 609h0m26 1h0m5 1h0m27 -2h0m16 2h0m81 0h0m76 1h0m9 -3h0m28 1h0m7 1h0m7 -2h0m7 1h0m5 0h0m28 0h0m9 1h0m30 -1h0m1 -1h0m25 1h0m101 0h0m45 1h0m51 0h0m16 1h0m22 -2h0m1 -1h0m10 2h0m211 -1h0m1 1h0m27 -1h0m8 1h0m18 1h0m29 -1h0m12 -2h0m360 0h0m0 1h0m14 0h0m28 1h0m2 -1h0m1 1h0m2 -1h0m4 2h0m6 -2h0m25 -1h0m28 3h0m1 -1h0m25 -1h0m33 -1h0m20 1h0m127 2h0m4 -3h0m15 0h0m0 1h0m12 0h0m3 0h0m209 0h0m4 -1h0m12 2h0m9 0h0m10 1h0m3 -1h0m14 0h0m165 -2h0m1 2h0m9 0h0m185 0h0"/><path stroke="#cab9b9" stroke-width="7" d="M123 610h0m25 1h0m24 -1h0m16 -1h0m2 2h0m20 1h0m27 0h0m33 -1h0m3 1h0m3 -1h0m15 -1h0m5 1h0m11 -1h0m9 0h0m1 1h0m26 1h0m10 -2h0m30 -1h0m8 0h0m26 0h0m13 3h0m25 -1h0m42 -1h0m9 2h0m22 -2h0m27 2h0m38 0h0m29 -2h0m29 2h0m15 0h0m45 -2h0m11 1h0m44 -1h0m3 -1h0m22 2h0m195 -1h0m46 2h0m114 -3h0m173 2h0m141 0h0m3 0h0m6 0h0m2 -1h0m1 2h0m1 -3h0m7 3h0m3 -3h0m37 1h0m9 2h0m45 -2h0m3 1h0m8 1h0m25 -3h0m119 0h0m30 2h0m211 0h0m65 -1h0m47 2h0m74 -1h0m56 -2h0m24 1h0"/><path stroke="#cab9b9" stroke-width="8" d="M132 611h0m4 -2h0m45 0h0m9 1h0m8 2h0m3 -2h0m38 0h0m11 0h0m92 1h0m25 1h0m4 0h0m40 -1h0m7 0h0m11 0h0m73 0h0m81 -1h0m17 0h0m18 1h0m42 -1h0m31 1h0m4 -1h0m23 1h0m43 -2h0m21 1h0m10 1h0m171 -1h0m25 1h0m23 0h0m20 1h0m19 -2h0m7 0h0m1 0h0m433 1h0m65 0h0m183 0h0m267 -2h0m80 2h0m1 -1h0m82 1h0"/><path stroke="#cab9b9" stroke-width="9" d="M127 611h0m4 -2h0m61 2h0m1 1h0m3 -2h0m56 -1h0m47 2h0m9 -1h0m23 0h0m9 -1h0m11 2h0m128 -2h0m131 0h0m62 0h0m3 2h0m20 0h0m12 -1h0m70 2h0m17 -3h0m239 2h0m4 -2h0m25 2h0m3 1h0m363 0h0m11 -3h0m26 3h0m30 -3h0m22 2h0m15 -1h0m24 0h0m7 0h0m28 0h0m5 0h0m134 0h0m4 0h0m17 -1h0m17 2h0m34 1h0m179 -2h0m46 2h0m33 0h0m27 -2h0m124 0h0"/><path stroke="#c9b6b6" stroke-width="1" d="M125 614h0m339 -2h0m503 0h0m8 2h0m510 -2h0m259 2h0m113 -1h0"/><path stroke="#c9b6b6" stroke-width="2" d="M139 614h0m96 0h0m12 1h0m26 -1h0m12 -2h0m21 2h0m10 0h0m3 0h0m16 0h0m35 0h0m6 -2h0m16 2h0m14 -1h0m34 2h0m27 -1h0m40 -1h0m9 0h0m0 1h0m11 0h0m33 -1h0m0 2h0m40 -2h0m22 0h0m52 -1h0m43 2h0m10 -1h0m10 0h0m31 -1h0m2 0h0m3 0h0m2 1h0m8 -1h0m159 1h0m4 0h0m9 2h0m3 -3h0m2 2h0m8 -2h0m53 1h0m2 1h0m2 0h0m13 1h0m18 0h0m6 -3h0m129 3h0m237 -3h0m36 0h0m51 1h0m16 2h0m21 -1h0m7 -1h0m16 0h0m32 -1h0m0 1h0m155 1h0m31 -2h0m127 0h0m64 3h0m18 -2h0m1 2h0m16 -3h0m18 2h0m138 1h0m10 -3h0m5 1h0m135 0h0"/><path stroke="#c9b6b6" stroke-width="3" d="M138 613h0m35 1h0m1 -1h0m7 1h0m5 -1h0m23 -1h0m25 0h0m2 2h0m10 -1h0m1 -1h0m22 1h0m26 1h0m24 1h0m5 -3h0m83 1h0m3 1h0m3 0h0m10 0h0m26 -1h0m21 1h0m63 -1h0m8 -1h0m0 2h0m56 -2h0m1 1h0m60 -1h0m6 3h0m16 -1h0m14 0h0m24 -1h0m41 1h0m2 -2h0m1 1h0m26 0h0m147 0h0m3 -1h0m11 2h0m11 1h0m26 -1h0m52 0h0m3 0h0m1 -1h0m23 0h0m348 0h0m3 1h0m14 0h0m42 0h0m4 -1h0m15 0h0m6 0h0m23 -1h0m12 3h0m22 -2h0m3 2h0m51 -3h0m300 2h0m101 0h0m2 1h0m57 0h0m104 -1h0m11 -2h0m14 0h0m0 2h0m7 -1h0m4 0h0m3 2h0m109 -1h0"/><path stroke="#c9b6b6" stroke-width="4" d="M134 614h0m1 0h0m6 0h0m13 -2h0m41 2h0m16 -1h0m29 -1h0m27 2h0m20 -2h0m11 3h0m12 -1h0m42 0h0m19 0h0m5 -2h0m10 1h0m6 2h0m5 -1h0m13 -1h0m14 0h0m2 2h0m3 0h0m45 -1h0m6 -1h0m4 1h0m10 -1h0m9 0h0m6 1h0m27 -2h0m30 2h0m32 -2h0m0 1h0m21 0h0m68 2h0m38 -1h0m18 -1h0m51 -1h0m87 1h0m80 2h0m1 -3h0m9 0h0m4 1h0m3 1h0m20 1h0m2 -1h0m15 -2h0m2 3h0m399 0h0m28 -2h0m8 -1h0m4 1h0m29 2h0m2 0h0m32 -2h0m21 2h0m10 0h0m3 -3h0m1 1h0m6 1h0m9 -1h0m10 0h0m20 2h0m153 0h0m6 -2h0m3 1h0m205 0h0m1 -1h0m2 0h0m63 0h0m18 2h0m30 -1h0m6 1h0m92 0h0m22 -2h0m44 0h0"/><path stroke="#c9b6b6" stroke-width="5" d="M138 612h0m26 1h0m73 1h0m15 -2h0m25 1h0m5 1h0m58 -1h0m2 0h0m3 2h0m57 -1h0m5 1h0m28 -2h0m16 -1h0m28 0h0m22 1h0m61 1h0m73 0h0m30 -1h0m6 0h0m20 2h0m21 0h0m46 -3h0m19 1h0m16 2h0m89 -1h0m57 0h0m28 1h0m41 -2h0m56 2h0m360 0h0m29 -2h0m60 0h0m0 1h0m29 0h0m6 0h0m9 0h0m12 1h0m37 -2h0m1 0h0m2 0h0m151 0h0m6 2h0m105 0h0m52 0h0m41 -2h0m86 0h0m0 1h0m5 -1h0m0 1h0m103 -2h0m22 1h0m47 -1h0m7 2h0m86 -1h0"/><path stroke="#c9b6b6" stroke-width="6" d="M127 614h0m25 1h0m3 -3h0m20 0h0m0 2h0m26 -1h0m32 1h0m2 0h0m46 0h0m96 0h0m4 0h0m20 1h0m6 -1h0m1 1h0m3 -3h0m68 1h0m75 1h0m36 0h0m94 0h0m12 0h0m11 -1h0m10 2h0m2 -2h0m2 -1h0m4 2h0m50 0h0m203 -1h0m5 -1h0m23 3h0m31 -1h0m12 -2h0m14 1h0m393 0h0m0 1h0m11 -2h0m1 0h0m6 2h0m27 0h0m13 -1h0m20 0h0m9 1h0m8 1h0m18 -3h0m40 1h0m1 -1h0m122 2h0m21 -1h0m9 0h0m23 1h0m2 -1h0m2 -1h0m195 2h0m21 -1h0m6 1h0m26 -2h0m15 1h0"/><path stroke="#c9b6b6" stroke-width="7" d="M142 613h0m69 0h0m1 1h0m58 0h0m116 0h0m17 0h0m2 0h0m15 0h0m46 -2h0m1 1h0m37 2h0m10 -2h0m26 1h0m26 1h0m58 -2h0m34 1h0m14 -1h0m15 1h0m21 -1h0m5 0h0m11 -1h0m35 1h0m25 0h0m163 2h0m22 -2h0m2 0h0m14 1h0m27 -1h0m11 -1h0m7 2h0m5 0h0m3 0h0m5 0h0m173 0h0m299 1h0m23 -1h0m3 -2h0m1 0h0m9 2h0m5 -2h0m9 1h0m165 1h0m30 -2h0m10 2h0m25 -1h0m173 0h0m39 0h0m12 0h0m34 1h0m35 -1h0m2 1h0m89 -1h0m50 -1h0"/><path stroke="#c9b6b6" stroke-width="8" d="M131 613h0m49 0h0m1 2h0m28 -2h0m73 0h0m17 -1h0m61 3h0m31 -1h0m1 0h0m94 1h0m76 0h0m102 0h0m11 -3h0m9 3h0m29 -1h0m24 0h0m1 -1h0m50 0h0m189 0h0m46 1h0m26 1h0m7 -2h0m351 0h0m50 1h0m6 -2h0m4 1h0m2 1h0m4 0h0m29 1h0m43 -2h0m10 -1h0m16 0h0m12 3h0m8 -1h0m150 0h0m19 1h0m204 -2h0m2 -1h0m7 2h0m13 1h0m16 -1h0m10 1h0m77 -2h0m70 1h0m71 -1h0m12 1h0"/><path stroke="#c9b6b6" stroke-width="9" d="M209 614h0m62 0h0m38 0h0m11 -2h0m22 2h0m10 -1h0m43 -1h0m39 2h0m68 -1h0m1 -1h0m5 1h0m103 2h0m10 -1h0m24 -1h0m71 -1h0m28 0h0m9 1h0m192 0h0m9 1h0m22 0h0m18 -2h0m6 2h0m443 1h0m11 0h0m37 -3h0m21 3h0m2 -1h0m38 0h0m2 -2h0m1 1h0m16 1h0m169 0h0m6 -1h0m49 2h0m180 -2h0m2 0h0m8 0h0m40 1h0m16 1h0m17 -1h0m16 0h0m108 -2h0m27 3h0m10 -1h0"/><path stroke="#c8b3b3" stroke-width="1" d="M352 617h0m185 -2h0m176 0h0m779 1h0m75 1h0m4 -2h0m255 2h0m377 -2h0"/><path stroke="#c8b3b3" stroke-width="2" d="M148 618h0m25 -2h0m15 1h0m8 -1h0m10 2h0m108 -2h0m12 0h0m17 -1h0m77 2h0m1 0h0m1 1h0m9 0h0m41 -2h0m48 2h0m45 -3h0m32 0h0m12 0h0m9 0h0m18 1h0m4 -1h0m22 1h0m26 0h0m16 0h0m12 1h0m7 0h0m2 -1h0m3 0h0m42 1h0m1 -1h0m14 1h0m15 0h0m145 0h0m18 -1h0m29 0h0m5 0h0m5 -1h0m0 2h0m36 0h0m24 0h0m213 0h0m5 -2h0m177 1h0m4 0h0m27 -1h0m3 2h0m1 0h0m20 0h0m19 1h0m3 -1h0m23 -1h0m21 0h0m151 0h0m30 1h0m3 1h0m21 -2h0m4 -1h0m9 0h0m2 2h0m107 0h0m91 -2h0m14 0h0m10 2h0m5 0h0m11 0h0m20 -1h0m14 0h0m17 -1h0m0 3h0m1 -3h0m107 1h0m9 -1h0m0 3h0m1 -3h0m39 1h0m60 1h0"/><path stroke="#c8b3b3" stroke-width="3" d="M134 616h0m29 2h0m91 -1h0m3 0h0m12 0h0m51 1h0m49 -1h0m56 -1h0m11 1h0m7 -2h0m3 1h0m29 0h0m2 1h0m6 -1h0m5 0h0m46 1h0m4 0h0m21 1h0m24 -1h0m12 -2h0m28 2h0m33 -1h0m7 -1h0m0 3h0m1 -2h0m34 1h0m1 -2h0m11 1h0m20 1h0m27 -2h0m6 1h0m1 -1h0m1 0h0m0 3h0m4 -3h0m14 2h0m10 -1h0m46 0h0m103 0h0m2 1h0m14 -1h0m16 2h0m9 -3h0m19 1h0m5 1h0m14 0h0m1 -2h0m19 3h0m3 0h0m11 -2h0m8 1h0m353 -1h0m2 1h0m11 -1h0m2 0h0m12 0h0m28 0h0m8 1h0m12 1h0m2 0h0m6 -2h0m7 -1h0m25 2h0m22 0h0m7 0h0m11 -2h0m21 1h0m10 0h0m132 0h0m48 1h0m200 0h0m1 -2h0m0 1h0m3 0h0m50 -1h0m13 1h0m2 -1h0m2 2h0m3 0h0m30 1h0m95 -1h0m41 -2h0m10 2h0m8 -1h0m149 0h0"/><path stroke="#c8b3b3" stroke-width="4" d="M129 617h0m21 0h0m5 -2h0m25 2h0m56 0h0m59 -2h0m13 1h0m20 1h0m37 -1h0m29 0h0m39 1h0m7 -1h0m4 -1h0m4 1h0m17 2h0m57 -3h0m4 3h0m63 -2h0m14 0h0m25 2h0m4 -2h0m26 -1h0m16 1h0m14 0h0m28 2h0m43 0h0m15 0h0m13 -3h0m152 1h0m5 -1h0m4 2h0m20 0h0m58 0h0m18 -1h0m11 1h0m410 1h0m5 -1h0m5 -1h0m6 1h0m11 -2h0m34 0h0m6 2h0m3 -2h0m18 0h0m1 2h0m3 -1h0m11 0h0m17 0h0m1 0h0m13 0h0m10 1h0m137 0h0m1 -1h0m48 1h0m179 -1h0m6 2h0m7 -2h0m19 0h0m38 1h0m171 -1h0m16 2h0m4 -1h0"/><path stroke="#c8b3b3" stroke-width="5" d="M135 615h0m2 2h0m19 0h0m47 -2h0m8 1h0m26 -1h0m33 0h0m22 2h0m16 -1h0m10 1h0m13 -1h0m10 1h0m21 -2h0m24 2h0m78 1h0m3 0h0m7 -3h0m5 1h0m60 1h0m58 -1h0m6 -1h0m6 2h0m27 0h0m16 -1h0m50 0h0m4 0h0m21 1h0m4 -1h0m35 0h0m2 1h0m144 0h0m46 -1h0m29 0h0m8 0h0m35 0h0m243 2h0m80 -1h0m69 -1h0m4 -1h0m66 1h0m15 -1h0m14 1h0m31 0h0m2 1h0m179 -2h0m18 1h0m29 1h0m12 -2h0m7 1h0m166 2h0m15 0h0m7 -1h0m8 0h0m107 -1h0m77 1h0m34 0h0m16 -1h0m1 -1h0m84 1h0m60 1h0"/><path stroke="#c8b3b3" stroke-width="6" d="M124 618h0m8 -2h0m41 -1h0m32 1h0m51 0h0m6 -1h0m56 2h0m18 0h0m3 0h0m2 -1h0m13 -1h0m32 3h0m35 -3h0m42 2h0m39 -1h0m18 1h0m45 -1h0m34 2h0m20 0h0m17 -2h0m27 0h0m24 2h0m88 -1h0m21 0h0m153 -2h0m39 3h0m63 0h0m4 0h0m2 -2h0m387 2h0m2 -2h0m14 1h0m15 1h0m7 -1h0m15 1h0m5 -3h0m23 0h0m7 2h0m28 -1h0m21 2h0m2 -1h0m1 1h0m192 -3h0m21 2h0m5 -1h0m165 1h0m15 -1h0m17 0h0m36 -1h0m127 1h0m11 1h0m53 -1h0"/><path stroke="#c8b3b3" stroke-width="7" d="M129 618h0m1 -2h0m25 -1h0m11 2h0m47 1h0m34 -2h0m7 0h0m7 1h0m5 0h0m20 -1h0m25 1h0m8 0h0m22 -1h0m2 -1h0m40 3h0m12 -1h0m7 -1h0m56 1h0m14 0h0m40 0h0m57 0h0m31 -2h0m3 1h0m2 -1h0m12 1h0m1 2h0m39 -1h0m29 0h0m54 -2h0m20 2h0m1 0h0m2 0h0m5 0h0m176 -1h0m26 1h0m9 -1h0m2 1h0m67 0h0m390 0h0m18 -1h0m94 2h0m6 -1h0m1 1h0m52 -2h0m134 -1h0m15 1h0m28 2h0m272 -3h0m12 1h0m3 1h0m1 -2h0m158 2h0m1 -2h0"/><path stroke="#c8b3b3" stroke-width="8" d="M190 616h0m78 1h0m26 1h0m25 -1h0m14 -1h0m16 -1h0m21 3h0m53 -2h0m89 1h0m30 1h0m2 -2h0m23 0h0m28 0h0m8 0h0m16 1h0m39 -1h0m57 1h0m7 0h0m307 0h0m19 1h0m383 -1h0m33 -1h0m71 0h0m17 1h0m15 -2h0m22 1h0m143 1h0m20 0h0m10 -2h0m7 1h0m11 1h0m188 -1h0m8 0h0m330 1h0"/><path stroke="#c8b3b3" stroke-width="9" d="M134 615h0m38 2h0m66 0h0m22 0h0m4 0h0m32 0h0m2 1h0m68 -1h0m11 -1h0m13 1h0m4 0h0m15 -1h0m8 0h0m2 0h0m12 1h0m28 -2h0m28 2h0m73 0h0m44 -2h0m42 2h0m2 -1h0m38 0h0m49 2h0m227 -2h0m4 0h0m17 2h0m1 -2h0m11 0h0m412 1h0m88 -1h0m9 1h0m17 -2h0m15 2h0m2 -1h0m49 0h0m179 0h0m23 1h0m183 1h0m118 -1h0m65 1h0m40 -2h0"/><path stroke="#c7b0b0" stroke-width="1" d="M274 619h0m272 0h0m1486 1h0m14 0h0m183 1h0"/><path stroke="#c7b0b0" stroke-width="2" d="M128 619h0m5 -1h0m26 1h0m0 2h0m87 -1h0m7 1h0m3 -1h0m10 -1h0m5 1h0m53 -2h0m9 2h0m22 1h0m23 -2h0m6 2h0m33 -2h0m1 0h0m10 -1h0m6 2h0m35 -1h0m20 2h0m7 -3h0m73 0h0m0 3h0m35 -3h0m16 1h0m27 0h0m19 0h0m24 2h0m4 0h0m24 -1h0m16 1h0m24 -2h0m11 0h0m113 -1h0m26 0h0m44 2h0m33 0h0m13 1h0m15 -2h0m43 1h0m6 -1h0m238 1h0m64 1h0m43 0h0m58 -3h0m12 1h0m14 0h0m43 1h0m17 0h0m12 1h0m3 -2h0m18 -1h0m3 3h0m19 -2h0m2 0h0m121 1h0m14 -1h0m18 1h0m181 1h0m71 -1h0m38 -2h0m14 2h0m7 0h0m8 1h0m9 0h0m223 -1h0m120 -1h0"/><path stroke="#c7b0b0" stroke-width="3" d="M178 619h0m9 0h0m59 0h0m56 1h0m12 0h0m11 0h0m12 -1h0m15 1h0m49 1h0m10 0h0m36 0h0m20 0h0m10 -2h0m16 0h0m24 -1h0m37 0h0m10 3h0m3 -1h0m22 -1h0m7 0h0m74 1h0m40 -1h0m39 0h0m1 2h0m149 -1h0m54 0h0m10 -1h0m21 -1h0m8 0h0m15 1h0m7 -1h0m13 0h0m9 2h0m5 -1h0m0 2h0m388 -1h0m14 0h0m41 -1h0m17 -1h0m13 1h0m8 1h0m9 0h0m37 -1h0m14 -1h0m160 1h0m16 -1h0m35 1h0m187 2h0m16 0h0m90 -3h0m46 2h0m76 0h0m4 -2h0m0 1h0"/><path stroke="#c7b0b0" stroke-width="4" d="M141 620h0m34 -2h0m16 3h0m52 -2h0m20 2h0m11 0h0m10 -1h0m42 0h0m6 -1h0m7 1h0m20 -1h0m45 2h0m15 -2h0m2 1h0m2 -1h0m53 0h0m4 0h0m14 0h0m7 0h0m62 0h0m113 -1h0m4 3h0m16 -1h0m33 -1h0m22 -1h0m16 0h0m143 1h0m69 -1h0m8 0h0m5 3h0m12 -2h0m7 0h0m29 1h0m10 -1h0m310 1h0m63 -1h0m11 0h0m15 0h0m2 -1h0m34 2h0m5 -1h0m23 2h0m24 0h0m24 -1h0m19 -1h0m181 1h0m6 -1h0m10 0h0m8 -1h0m35 2h0m147 -1h0m7 2h0m69 -3h0m38 2h0m74 -1h0m0 1h0m27 0h0"/><path stroke="#c7b0b0" stroke-width="5" d="M184 620h0m11 0h0m5 -1h0m13 -1h0m46 0h0m10 2h0m5 -2h0m5 2h0m43 0h0m46 0h0m1 -1h0m15 0h0m40 0h0m20 0h0m4 1h0m90 -1h0m8 -1h0m12 1h0m184 0h0m196 2h0m6 -3h0m24 0h0m43 2h0m44 -1h0m3 1h0m360 -1h0m10 1h0m36 -1h0m33 -1h0m20 0h0m6 2h0m26 0h0m3 0h0m39 0h0m19 -2h0m119 2h0m7 -1h0m3 1h0m31 -2h0m27 1h0m57 1h0m124 -1h0m37 1h0m20 1h0m17 0h0m34 -2h0m5 1h0m115 -2h0m0 2h0m7 -2h0m6 3h0m101 -1h0m107 -2h0"/><path stroke="#c7b0b0" stroke-width="6" d="M152 618h0m4 2h0m4 1h0m18 -1h0m10 1h0m89 -2h0m73 -1h0m43 1h0m25 -1h0m38 1h0m17 0h0m63 1h0m2 0h0m44 1h0m24 0h0m36 -3h0m11 1h0m34 -1h0m21 2h0m7 -1h0m48 0h0m24 -1h0m154 1h0m11 -1h0m0 1h0m67 1h0m11 0h0m3 0h0m382 -2h0m8 0h0m2 1h0m26 1h0m6 1h0m4 -2h0m4 1h0m7 -1h0m22 1h0m11 1h0m13 -2h0m65 0h0m154 0h0m12 1h0m12 -1h0m237 1h0m55 -1h0m9 -1h0m20 1h0m2 -1h0"/><path stroke="#c7b0b0" stroke-width="7" d="M263 620h0m8 0h0m159 1h0m39 -2h0m71 0h0m87 1h0m29 0h0m2 0h0m3 0h0m108 0h0m226 0h0m68 1h0m366 -3h0m33 0h0m12 1h0m29 2h0m21 -2h0m35 -1h0m2 3h0m3 -1h0m42 -1h0m167 0h0m203 0h0m19 1h0m45 1h0"/><path stroke="#c7b0b0" stroke-width="8" d="M179 620h0m1 -1h0m3 0h0m28 -1h0m72 2h0m41 0h0m22 1h0m64 -2h0m1 0h0m16 1h0m11 1h0m2 -1h0m57 0h0m46 1h0m19 -3h0m36 2h0m65 -1h0m50 0h0m12 1h0m1 1h0m36 -1h0m179 -1h0m65 2h0m42 -2h0m4 2h0m377 0h0m25 -3h0m82 0h0m29 1h0m16 2h0m17 0h0m11 -1h0m4 -2h0m133 1h0m1 2h0m2 -2h0m10 0h0m18 0h0m90 2h0m106 0h0m27 -2h0m34 -1h0m10 0h0m156 2h0"/><path stroke="#c7b0b0" stroke-width="9" d="M178 620h0m5 0h0m19 1h0m4 -2h0m33 0h0m3 2h0m28 -2h0m6 -1h0m51 1h0m196 0h0m29 0h0m48 -1h0m95 2h0m14 -1h0m20 -1h0m3 2h0m2 1h0m31 -2h0m4 0h0m191 1h0m3 -2h0m76 2h0m381 -1h0m21 -1h0m25 1h0m129 0h0m18 0h0m181 0h0m1 1h0m171 -2h0m74 3h0m166 0h0m20 -3h0"/><path stroke="#c6acac" stroke-width="1" d="M129 621h0m114 1h0m453 2h0m38 -3h0m38 0h0m661 1h0m44 0h0"/><path stroke="#c6acac" stroke-width="2" d="M148 622h0m4 0h0m21 1h0m164 -1h0m3 1h0m12 1h0m16 -3h0m44 1h0m1 1h0m16 0h0m47 -2h0m11 2h0m4 -1h0m21 1h0m6 0h0m6 -1h0m38 1h0m35 1h0m10 -1h0m12 0h0m47 1h0m17 -1h0m37 -1h0m54 1h0m1 -1h0m18 2h0m67 -1h0m100 0h0m3 0h0m7 -2h0m5 1h0m8 -1h0m11 0h0m33 3h0m18 0h0m14 -1h0m180 1h0m184 -3h0m17 1h0m4 1h0m7 1h0m2 -2h0m10 -1h0m8 2h0m1 0h0m23 1h0m1 -1h0m24 -2h0m3 0h0m5 1h0m78 -1h0m127 2h0m14 -2h0m25 2h0m16 0h0m4 -2h0m9 2h0m70 -1h0m114 2h0m46 -3h0m21 2h0m103 0h0m7 0h0m9 -1h0m6 1h0m3 1h0m17 -1h0m9 0h0m15 0h0m4 -1h0m77 1h0"/><path stroke="#c6acac" stroke-width="3" d="M236 621h0m10 3h0m3 -2h0m65 0h0m4 1h0m17 0h0m3 -2h0m1 1h0m31 -1h0m13 3h0m2 -1h0m9 -1h0m8 2h0m18 -2h0m45 0h0m5 0h0m6 0h0m9 2h0m11 0h0m118 -3h0m33 3h0m40 -1h0m9 0h0m11 0h0m14 1h0m11 0h0m17 -3h0m22 1h0m2 2h0m5 -3h0m175 2h0m5 0h0m39 1h0m7 -3h0m6 2h0m13 1h0m34 -2h0m2 0h0m12 1h0m325 0h0m50 -1h0m30 1h0m24 -1h0m1 -1h0m8 3h0m4 -2h0m8 -1h0m14 2h0m27 -1h0m38 -1h0m5 1h0m124 1h0m16 0h0m10 0h0m12 -1h0m12 1h0m278 1h0m6 0h0m70 -3h0m46 1h0m30 0h0m1 1h0m20 -1h0"/><path stroke="#c6acac" stroke-width="4" d="M194 622h0m2 2h0m5 -1h0m58 0h0m28 -1h0m168 0h0m78 1h0m8 -1h0m172 1h0m29 1h0m52 0h0m160 0h0m5 -1h0m5 -1h0m51 0h0m7 2h0m8 -3h0m7 3h0m231 -1h0m205 0h0m1 0h0m39 -2h0m32 2h0m15 0h0m22 0h0m24 -2h0m126 0h0m33 1h0m6 0h0m13 2h0m252 -2h0m23 -1h0m2 1h0m20 1h0m2 0h0m5 0h0m69 -2h0"/><path stroke="#c6acac" stroke-width="5" d="M152 623h0m1 -2h0m93 0h0m61 3h0m27 0h0m32 -2h0m29 0h0m5 -1h0m32 1h0m5 0h0m4 -1h0m86 2h0m74 -2h0m72 2h0m50 1h0m33 -1h0m11 -1h0m2 -1h0m4 1h0m5 2h0m188 -2h0m9 1h0m2 0h0m20 1h0m25 -2h0m27 0h0m375 -1h0m31 0h0m3 3h0m18 -3h0m6 1h0m24 -1h0m26 0h0m80 0h0m159 1h0m215 1h0m94 1h0m122 -1h0m10 -1h0m9 2h0m20 -2h0m169 1h0"/><path stroke="#c6acac" stroke-width="6" d="M133 622h0m10 0h0m60 1h0m71 0h0m49 1h0m10 -3h0m9 2h0m9 0h0m24 0h0m7 -1h0m1 -1h0m17 1h0m16 0h0m16 -1h0m109 1h0m47 0h0m125 0h0m0 1h0m13 -2h0m34 0h0m10 2h0m12 -1h0m175 0h0m21 0h0m44 2h0m2 -3h0m2 2h0m4 -1h0m423 0h0m3 1h0m55 0h0m1 0h0m1 0h0m77 0h0m171 1h0m206 -3h0m9 0h0m5 3h0m99 -1h0m10 -2h0m0 1h0m122 2h0m6 0h0m29 -1h0"/><path stroke="#c6acac" stroke-width="7" d="M152 621h0m22 2h0m1 -2h0m1 0h0m10 2h0m13 1h0m40 0h0m72 0h0m147 -2h0m77 1h0m34 1h0m24 -3h0m4 1h0m371 1h0m15 1h0m14 -2h0m8 0h0m44 -1h0m10 0h0m2 1h0m386 1h0m11 1h0m24 -1h0m23 0h0m10 1h0m35 -1h0m20 -1h0m60 -1h0m112 1h0m15 1h0m5 0h0m26 0h0m9 0h0m214 -1h0m1 1h0m1 -1h0m43 -1h0m149 2h0"/><path stroke="#c6acac" stroke-width="8" d="M139 622h0m39 1h0m113 -1h0m30 0h0m6 1h0m56 -2h0m10 1h0m30 0h0m42 0h0m3 1h0m134 -1h0m105 0h0m89 1h0m89 0h0m83 0h0m41 0h0m16 -1h0m38 -1h0m376 3h0m30 -1h0m15 0h0m15 -2h0m14 1h0m21 -1h0m48 1h0m153 0h0m65 1h0m407 -2h0m12 2h0"/><path stroke="#c6acac" stroke-width="9" d="M203 623h0m38 1h0m91 -2h0m11 0h0m20 -1h0m32 2h0m296 0h0m5 1h0m57 -2h0m34 0h0m273 1h0m446 -1h0m9 0h0m15 -1h0m40 1h0m3 0h0m192 -1h0m27 1h0m217 1h0m5 0h0m19 -2h0m6 1h0m40 1h0m1 1h0m11 0h0m115 -2h0"/><path stroke="#c5a9a9" stroke-width="1" d="M209 626h0m743 -2h0m633 3h0m198 -1h0"/><path stroke="#c5a9a9" stroke-width="2" d="M169 625h0m10 2h0m23 -1h0m57 -2h0m20 1h0m1 0h0m12 1h0m6 0h0m5 0h0m14 -1h0m12 -1h0m9 1h0m5 1h0m8 0h0m20 -2h0m26 0h0m34 1h0m7 -1h0m47 1h0m0 1h0m7 -2h0m6 2h0m59 0h0m12 0h0m77 -2h0m11 0h0m51 3h0m7 -2h0m41 -1h0m6 3h0m10 -2h0m190 1h0m16 -1h0m3 1h0m11 -2h0m46 2h0m3 0h0m374 0h0m27 -2h0m13 0h0m10 2h0m35 -1h0m39 1h0m13 0h0m6 -1h0m22 0h0m2 0h0m17 2h0m137 -1h0m14 -2h0m7 0h0m33 1h0m3 1h0m153 0h0m65 -2h0m205 2h0m13 0h0m69 0h0"/><path stroke="#c5a9a9" stroke-width="3" d="M158 626h0m49 -1h0m3 1h0m34 -2h0m24 1h0m3 0h0m1 1h0m14 -1h0m5 2h0m25 -1h0m1 1h0m9 -1h0m66 -1h0m12 -1h0m28 1h0m3 1h0m8 -1h0m13 -1h0m10 2h0m29 1h0m4 -1h0m82 0h0m13 -2h0m17 1h0m21 -1h0m20 0h0m28 2h0m6 -1h0m34 -1h0m33 2h0m4 0h0m5 0h0m0 1h0m23 -1h0m183 0h0m8 0h0m6 -1h0m1 0h0m5 2h0m35 0h0m12 -3h0m389 1h0m0 1h0m18 1h0m52 -1h0m4 -1h0m7 1h0m2 -2h0m9 3h0m16 -1h0m50 -1h0m12 0h0m138 1h0m5 0h0m227 -1h0m12 -1h0m40 3h0m9 -3h0m14 2h0m5 1h0m16 -1h0m22 -1h0m8 0h0m73 0h0m49 2h0m20 -2h0"/><path stroke="#c5a9a9" stroke-width="4" d="M201 626h0m71 -2h0m8 1h0m4 0h0m10 2h0m30 -1h0m16 -1h0m63 0h0m30 2h0m11 -2h0m87 1h0m53 -1h0m4 -1h0m15 2h0m16 -1h0m105 1h0m31 -1h0m4 1h0m14 0h0m10 1h0m2 -1h0m151 -1h0m20 -1h0m13 2h0m3 -1h0m25 0h0m33 1h0m19 1h0m1 0h0m379 -2h0m26 -1h0m6 2h0m6 -2h0m10 2h0m7 0h0m30 -1h0m16 2h0m1 -2h0m2 1h0m3 -2h0m5 0h0m40 1h0m8 2h0m1 -3h0m8 0h0m147 2h0m44 -1h0m12 1h0m40 -2h0m176 1h0m33 0h0m106 0h0m2 2h0"/><path stroke="#c5a9a9" stroke-width="5" d="M124 624h0m68 3h0m2 -2h0m8 2h0m32 -1h0m28 1h0m77 -2h0m17 -1h0m33 2h0m31 -2h0m49 0h0m5 3h0m32 -1h0m20 0h0m2 -1h0m9 2h0m17 0h0m10 -2h0m48 2h0m4 -1h0m10 -1h0m28 0h0m36 0h0m14 0h0m21 0h0m9 -1h0m37 1h0m180 2h0m12 -2h0m32 0h0m11 2h0m6 0h0m43 -1h0m376 0h0m1 -1h0m32 0h0m21 1h0m1 -1h0m14 2h0m12 -3h0m97 2h0m132 -1h0m24 0h0m3 1h0m26 0h0m210 -1h0m82 0h0m4 0h0m80 -1h0m34 2h0m6 -1h0m18 0h0m2 1h0"/><path stroke="#c5a9a9" stroke-width="6" d="M194 626h0m50 0h0m2 1h0m50 0h0m62 -2h0m18 -1h0m25 2h0m24 0h0m10 -2h0m8 1h0m65 0h0m21 1h0m5 0h0m5 -2h0m6 1h0m23 -1h0m40 0h0m30 2h0m80 -1h0m39 0h0m25 -1h0m207 0h0m35 2h0m17 1h0m3 -1h0m323 -2h0m74 2h0m44 0h0m64 1h0m7 -3h0m2 0h0m18 1h0m4 0h0m204 1h0m2 -1h0m9 1h0m6 0h0m210 0h0m26 0h0m4 -2h0m1 3h0m3 -2h0m4 -1h0m158 3h0m11 -2h0m4 0h0"/><path stroke="#c5a9a9" stroke-width="7" d="M155 627h0m54 -1h0m5 -1h0m50 2h0m43 -2h0m3 1h0m24 0h0m30 -2h0m5 1h0m58 1h0m122 0h0m5 0h0m39 0h0m6 -2h0m125 2h0m4 -1h0m2 0h0m35 1h0m19 0h0m186 -1h0m4 2h0m17 -3h0m58 0h0m12 1h0m448 1h0m2 1h0m3 -3h0m18 2h0m44 -2h0m184 1h0m38 1h0m4 -1h0m252 0h0m0 1h0m9 -2h0m142 2h0m41 -2h0"/><path stroke="#c5a9a9" stroke-width="8" d="M164 627h0m43 0h0m30 -1h0m10 -1h0m35 1h0m23 -1h0m15 0h0m1 -1h0m29 1h0m55 0h0m6 2h0m97 -1h0m29 -2h0m164 0h0m28 0h0m35 1h0m179 0h0m37 0h0m50 0h0m2 2h0m4 -2h0m448 0h0m80 0h0m2 -1h0m4 1h0m28 0h0m184 -1h0m223 3h0m27 0h0"/><path stroke="#c5a9a9" stroke-width="9" d="M247 626h0m17 -1h0m10 1h0m197 -2h0m35 1h0m53 -1h0m33 1h0m15 -1h0m123 1h0m22 0h0m24 0h0m1 -1h0m215 1h0m12 -1h0m17 2h0m16 -2h0m11 1h0m408 0h0m18 1h0m19 -1h0m74 0h0m4 2h0m163 -3h0m18 1h0m8 1h0m39 -1h0m177 0h0m6 1h0m98 -1h0m130 2h0"/><path stroke="#c4a6a6" stroke-width="1" d="M486 628h0m153 0h0m75 1h0m1024 -1h0m241 2h0"/><path stroke="#c4a6a6" stroke-width="2" d="M177 628h0m5 1h0m0 1h0m5 -1h0m0 1h0m7 -3h0m4 3h0m43 -3h0m31 0h0m9 1h0m46 2h0m12 -2h0m37 1h0m22 1h0m31 -2h0m13 1h0m45 -1h0m47 0h0m17 -1h0m56 2h0m46 -1h0m19 0h0m43 1h0m175 -1h0m52 -1h0m14 2h0m3 -1h0m10 1h0m5 -2h0m37 1h0m19 -1h0m4 1h0m26 1h0m1 -2h0m302 1h0m83 0h0m70 -1h0m51 1h0m31 0h0m11 0h0m59 0h0m303 1h0m117 0h0m2 1h0m115 0h0m2 -2h0"/><path stroke="#c4a6a6" stroke-width="3" d="M144 628h0m31 0h0m9 -1h0m21 3h0m9 -1h0m22 -1h0m47 2h0m26 -1h0m50 -2h0m10 1h0m35 2h0m4 -3h0m18 0h0m3 2h0m2 -1h0m1 0h0m7 1h0m29 0h0m2 -1h0m29 2h0m61 -3h0m30 2h0m9 -1h0m85 2h0m4 -1h0m48 -2h0m1 0h0m210 0h0m36 2h0m2 0h0m12 1h0m41 -2h0m17 2h0m201 0h0m166 -2h0m21 1h0m25 0h0m41 -2h0m23 3h0m22 -1h0m19 0h0m20 -1h0m2 1h0m11 0h0m2 0h0m134 0h0m2 -1h0m1 1h0m234 1h0m5 0h0m26 -1h0m23 -1h0m15 0h0m11 0h0m32 2h0m117 -2h0m71 1h0"/><path stroke="#c4a6a6" stroke-width="4" d="M185 627h0m2 0h0m50 3h0m10 0h0m106 -2h0m13 0h0m30 0h0m3 1h0m31 -1h0m5 1h0m10 -1h0m57 0h0m20 0h0m89 0h0m7 0h0m0 1h0m69 -2h0m256 2h0m33 0h0m2 0h0m51 -1h0m387 1h0m74 -1h0m11 -1h0m28 2h0m4 -1h0m200 1h0m10 1h0m224 -2h0m42 2h0m81 -2h0m124 1h0m5 0h0"/><path stroke="#c4a6a6" stroke-width="5" d="M145 629h0m28 -1h0m12 0h0m18 -1h0m5 2h0m101 -1h0m24 -1h0m22 2h0m121 -1h0m71 2h0m71 -3h0m2 1h0m70 0h0m32 0h0m32 -1h0m12 2h0m217 0h0m27 1h0m12 -2h0m7 2h0m399 -3h0m6 0h0m15 2h0m26 0h0m97 -1h0m19 1h0m15 1h0m126 0h0m29 -1h0m38 0h0m186 1h0m186 -2h0m23 1h0m4 -2h0m29 0h0m55 2h0m25 0h0"/><path stroke="#c4a6a6" stroke-width="6" d="M162 628h0m15 1h0m8 0h0m76 -2h0m12 2h0m8 0h0m37 0h0m320 1h0m11 -2h0m13 1h0m36 -1h0m87 1h0m186 0h0m33 -1h0m29 0h0m17 1h0m10 -2h0m363 1h0m34 2h0m1 -2h0m58 0h0m4 1h0m7 -1h0m34 0h0m21 0h0m27 -1h0m121 0h0m66 1h0m207 1h0m8 -2h0m40 3h0m19 -2h0m1 0h0m170 0h0"/><path stroke="#c4a6a6" stroke-width="7" d="M132 627h0m30 2h0m17 1h0m13 -2h0m10 1h0m8 -2h0m38 0h0m148 3h0m1 -2h0m21 1h0m33 -2h0m22 2h0m56 -1h0m31 0h0m55 0h0m50 -1h0m46 2h0m46 0h0m293 1h0m1 -1h0m429 0h0m54 -1h0m203 2h0m2 -2h0m240 -1h0m188 2h0"/><path stroke="#c4a6a6" stroke-width="8" d="M201 628h0m35 0h0m42 1h0m95 0h0m47 -1h0m73 1h0m60 -1h0m30 1h0m72 -1h0m51 1h0m22 -2h0m29 2h0m187 0h0m91 -1h0m383 -1h0m591 1h0m58 -1h0m13 0h0"/><path stroke="#c4a6a6" stroke-width="9" d="M154 628h0m80 1h0m2 1h0m120 -2h0m6 2h0m46 -3h0m39 2h0m31 -2h0m63 1h0m153 -1h0m70 1h0m222 -1h0m42 1h0m1 0h0m434 2h0m118 0h0m4 -1h0m23 -1h0m125 0h0m36 2h0m208 -2h0m6 1h0m36 0h0m30 -1h0"/><path stroke="#c3a3a3" stroke-width="1" d="M1064 632h0m470 0h0m252 1h0"/><path stroke="#c3a3a3" stroke-width="2" d="M181 631h0m9 -1h0m2 2h0m3 1h0m89 -2h0m22 0h0m2 1h0m8 -1h0m0 2h0m2 -2h0m4 0h0m135 2h0m12 -3h0m2 3h0m61 -1h0m141 0h0m16 -1h0m1 2h0m27 0h0m1 -1h0m42 -2h0m9 2h0m12 1h0m195 -1h0m2 0h0m2 0h0m17 -1h0m3 1h0m55 0h0m324 -2h0m52 0h0m28 2h0m10 -1h0m25 0h0m59 0h0m17 -1h0m6 2h0m25 -2h0m8 1h0m126 0h0m9 1h0m53 -2h0m273 2h0m19 -1h0m68 0h0m12 0h0m56 -1h0m53 2h0"/><path stroke="#c3a3a3" stroke-width="3" d="M273 631h0m43 0h0m78 0h0m4 0h0m19 -1h0m52 2h0m185 0h0m18 -2h0m38 0h0m3 1h0m48 2h0m214 0h0m5 -3h0m80 2h0m238 -1h0m184 0h0m10 1h0m11 0h0m54 0h0m1 -1h0m5 0h0m21 0h0m158 1h0m34 0h0m13 -1h0m212 0h0m52 -1h0m28 2h0m194 1h0"/><path stroke="#c3a3a3" stroke-width="4" d="M160 632h0m30 -1h0m10 -1h0m62 1h0m35 0h0m33 2h0m10 -1h0m11 -1h0m19 1h0m78 -1h0m6 -1h0m80 1h0m58 0h0m3 -1h0m94 1h0m88 0h0m199 0h0m455 0h0m0 1h0m24 -1h0m31 -1h0m38 3h0m68 -2h0m147 0h0m24 0h0m21 2h0m221 -3h0m59 1h0m109 1h0m47 0h0m61 1h0"/><path stroke="#c3a3a3" stroke-width="5" d="M129 630h0m39 0h0m19 1h0m97 0h0m34 0h0m12 -1h0m48 2h0m90 0h0m246 -1h0m43 0h0m187 1h0m5 0h0m42 0h0m30 -1h0m458 1h0m77 -1h0m12 -1h0m161 1h0m14 1h0m32 0h0m235 0h0m39 0h0"/><path stroke="#c3a3a3" stroke-width="6" d="M135 630h0m77 3h0m70 -1h0m112 -2h0m39 1h0m0 1h0m158 -1h0m133 -1h0m37 0h0m2 2h0m265 0h0m388 1h0m11 -1h0m13 -1h0m16 0h0m1 1h0m32 1h0m6 -2h0m39 2h0m23 -1h0m11 1h0m32 0h0m164 -2h0"/><path stroke="#c3a3a3" stroke-width="7" d="M138 630h0m25 2h0m14 -1h0m28 0h0m75 -1h0m50 2h0m23 -1h0m67 1h0m136 -1h0m70 1h0m12 -1h0m87 -1h0m24 1h0m236 2h0m51 -2h0m376 1h0m17 -2h0m51 2h0m48 1h0m34 -3h0m21 0h0m1 1h0m493 1h0m14 0h0"/><path stroke="#c3a3a3" stroke-width="8" d="M147 632h0m63 -1h0m95 2h0m27 -2h0m71 0h0m45 1h0m120 0h0m116 0h0m91 0h0m9 -2h0m166 3h0m60 -2h0m18 0h0m381 2h0m15 -1h0m2 -1h0m113 1h0m51 0h0m460 -1h0m159 0h0"/><path stroke="#c3a3a3" stroke-width="9" d="M210 631h0m59 2h0m78 -1h0m48 0h0m38 1h0m23 -2h0m9 1h0m80 0h0m47 0h0m92 -1h0m37 0h0m248 -1h0m17 1h0m1 -1h0m0 3h0m71 -1h0m387 -2h0m32 3h0m34 0h0m74 -2h0m152 -1h0m240 1h0m247 0h0"/><path stroke="#c2a0a0" stroke-width="1" d="M1299 634h0m174 -1h0"/><path stroke="#c2a0a0" stroke-width="2" d="M177 636h0m27 -2h0m32 -1h0m55 1h0m143 2h0m2 -1h0m123 1h0m9 -1h0m37 -2h0m122 1h0m57 0h0m196 0h0m42 0h0m15 1h0m169 -1h0m221 -1h0m1 1h0m10 1h0m2 -2h0m6 2h0m29 1h0m3 -1h0m11 0h0m70 0h0m20 0h0m32 -1h0m120 1h0m9 -1h0m7 1h0m40 -2h0m190 1h0m197 -1h0m21 3h0m27 0h0m53 -3h0"/><path stroke="#c2a0a0" stroke-width="3" d="M189 634h0m75 0h0m55 1h0m11 -1h0m1 2h0m3 -3h0m28 1h0m64 2h0m229 -2h0m29 1h0m278 0h0m13 0h0m4 -1h0m32 1h0m29 -1h0m176 1h0m59 1h0m167 -3h0m2 0h0m68 2h0m2 -1h0m21 2h0m48 -3h0m180 2h0m34 -2h0m183 1h0m220 2h0m14 -1h0m4 1h0m7 0h0m52 -2h0"/><path stroke="#c2a0a0" stroke-width="4" d="M209 633h0m62 1h0m27 1h0m2 -1h0m186 1h0m7 0h0m96 -2h0m11 1h0m126 0h0m165 0h0m541 1h0m28 -1h0m9 0h0m19 0h0m16 -1h0m40 2h0m203 -2h0m39 1h0m490 1h0"/><path stroke="#c2a0a0" stroke-width="5" d="M369 636h0m27 -1h0m6 -2h0m32 0h0m11 1h0m173 0h0m98 -1h0m8 2h0m5 0h0m55 -1h0m85 -1h0m77 0h0m482 0h0m47 0h0m77 3h0m52 -2h0m4 -1h0m132 2h0m14 -2h0m12 0h0m219 0h0m27 3h0m97 -2h0m64 2h0m17 -1h0m3 0h0"/><path stroke="#c2a0a0" stroke-width="6" d="M165 635h0m17 0h0m54 -1h0m2 0h0m21 1h0m13 1h0m4 -2h0m4 2h0m123 -3h0m153 2h0m53 0h0m46 0h0m103 -1h0m1 0h0m209 1h0m4 -1h0m34 1h0m469 -1h0m38 -1h0m79 1h0m162 1h0m11 0h0m210 0h0m111 -1h0"/><path stroke="#c2a0a0" stroke-width="7" d="M135 633h0m102 1h0m307 2h0m15 -3h0m8 2h0m41 -1h0m12 -1h0m93 3h0m271 -2h0m39 0h0m557 2h0m166 -2h0m410 0h0m126 -1h0"/><path stroke="#c2a0a0" stroke-width="8" d="M280 634h0m25 0h0m69 0h0m17 1h0m33 0h0m171 1h0m51 -2h0m68 2h0m56 -3h0m11 2h0m196 -2h0m464 1h0m88 1h0m44 -2h0m210 0h0m200 2h0"/><path stroke="#c2a0a0" stroke-width="9" d="M137 634h0m96 1h0m78 0h0m8 0h0m101 1h0m7 -2h0m47 1h0m202 -1h0m259 0h0m123 0h0m383 1h0m17 0h0m3 1h0m7 -1h0"/><path stroke="#c19d9d" stroke-width="1" d="M212 638h0m1349 0h0"/><path stroke="#c19d9d" stroke-width="2" d="M206 638h0m63 -2h0m0 2h0m80 -2h0m6 1h0m67 -1h0m121 0h0m61 1h0m2 2h0m4 -3h0m192 2h0m174 0h0m10 0h0m23 0h0m272 -1h0m108 0h0m133 2h0m6 -1h0m34 -1h0m0 1h0m436 -2h0m52 1h0m232 2h0"/><path stroke="#c19d9d" stroke-width="3" d="M137 639h0m22 0h0m55 -2h0m1 0h0m47 2h0m17 -1h0m123 -1h0m66 2h0m93 -1h0m34 -1h0m95 2h0m18 -1h0m49 0h0m17 0h0m234 -1h0m22 2h0m26 -2h0m30 1h0m410 0h0m1 1h0m69 -1h0m4 1h0m13 -2h0m154 1h0m22 -2h0m43 1h0m183 1h0m20 -1h0m6 2h0m21 0h0m124 -2h0m35 1h0m20 1h0m103 0h0"/><path stroke="#c19d9d" stroke-width="4" d="M208 638h0m74 0h0m23 -2h0m119 1h0m6 0h0m150 1h0m95 -1h0m12 0h0m93 1h0m166 -2h0m112 1h0m6 1h0m361 0h0m35 -1h0m29 0h0m23 -1h0m538 0h0m158 2h0"/><path stroke="#c19d9d" stroke-width="5" d="M146 637h0m58 0h0m374 0h0m77 1h0m63 1h0m2 -1h0m58 1h0m11 -2h0m267 1h0m462 -1h0m13 0h0m51 2h0m444 -1h0m7 -1h0m138 2h0m108 -1h0"/><path stroke="#c19d9d" stroke-width="6" d="M132 639h0m70 -2h0m1 0h0m120 -1h0m95 2h0m15 -2h0m23 1h0m39 0h0m532 1h0m9 -1h0m476 2h0m21 0h0m58 0h0m170 -3h0m42 1h0m420 0h0"/><path stroke="#c19d9d" stroke-width="7" d="M147 638h0m286 0h0m32 -1h0m19 -1h0m311 3h0m161 -2h0m32 2h0m17 -2h0m30 0h0m487 1h0m527 -1h0m171 1h0"/><path stroke="#c19d9d" stroke-width="8" d="M397 637h0m155 1h0m7 0h0m419 0h0m598 0h0m218 -1h0m286 0h0m134 1h0"/><path stroke="#c19d9d" stroke-width="9" d="M208 637h0m96 1h0m169 -1h0m244 0h0m23 0h0m241 1h0m54 -1h0m410 2h0m23 -3h0m20 2h0m27 0h0m469 1h0m20 0h0"/><path stroke="#c09a9a" stroke-width="1" d="M236 640h0m484 2h0"/><path stroke="#c09a9a" stroke-width="2" d="M196 641h0m2 -1h0m13 0h0m55 -1h0m11 1h0m269 2h0m14 -1h0m7 -1h0m20 0h0m11 0h0m5 1h0m5 -1h0m30 2h0m13 -1h0m34 0h0m29 1h0m40 -1h0m3 0h0m23 -2h0m13 0h0m162 1h0m80 0h0m283 -1h0m172 1h0m1 -1h0m175 2h0m79 0h0m26 0h0m255 0h0m20 -1h0m7 2h0m13 -1h0m4 -1h0m96 2h0m5 -1h0"/><path stroke="#c09a9a" stroke-width="3" d="M234 642h0m28 -1h0m73 -2h0m150 2h0m72 -2h0m26 2h0m58 -2h0m9 0h0m9 2h0m90 -1h0m33 -1h0m131 0h0m66 0h0m50 3h0m2 -2h0m7 0h0m787 1h0m138 1h0m70 -2h0m2 -1h0m239 0h0m7 1h0"/><path stroke="#c09a9a" stroke-width="4" d="M150 640h0m51 0h0m221 1h0m46 1h0m132 -2h0m52 -1h0m1 1h0m3 1h0m49 1h0m15 -3h0m3 1h0m55 0h0m10 0h0m235 0h0m14 -1h0m5 1h0m0 2h0m340 -2h0m179 1h0m403 -1h0m89 1h0m157 -2h0m0 3h0m5 -2h0"/><path stroke="#c09a9a" stroke-width="5" d="M143 641h0m154 -1h0m175 1h0m75 -1h0m6 2h0m6 -1h0m72 0h0m19 0h0m1 -2h0m1 2h0m124 1h0m1 -1h0m5 -2h0m206 1h0m442 0h0m91 -1h0m240 1h0m287 1h0m39 1h0m124 -3h0m5 1h0m8 1h0m9 0h0"/><path stroke="#c09a9a" stroke-width="6" d="M203 640h0m195 0h0m25 -1h0m548 2h0m36 -1h0m21 1h0m403 -1h0m63 2h0m26 -2h0m8 2h0m24 -3h0m184 0h0m342 1h0m1 0h0m203 1h0"/><path stroke="#c09a9a" stroke-width="7" d="M190 640h0m24 0h0m85 1h0m33 -1h0m63 2h0m167 -2h0m23 0h0m859 1h0m167 -2h0m178 3h0"/><path stroke="#c09a9a" stroke-width="8" d="M282 641h0m37 0h0m238 -1h0m2 -1h0m474 2h0m7 0h0m2 0h0m381 1h0m120 -1h0m22 1h0"/><path stroke="#c09a9a" stroke-width="9" d="M205 639h0m228 1h0m580 0h0m17 1h0"/><path stroke="#bf9797" stroke-width="1" d="M243 645h0m113 -1h0m279 -2h0m581 0h0m524 2h0m268 0h0"/><path stroke="#bf9797" stroke-width="2" d="M184 644h0m10 -2h0m89 2h0m22 -1h0m5 0h0m22 1h0m12 1h0m25 -2h0m59 0h0m122 -1h0m5 3h0m38 -3h0m8 2h0m31 0h0m21 -1h0m35 0h0m27 2h0m7 0h0m19 -2h0m31 -1h0m13 2h0m256 1h0m278 -3h0m120 3h0m3 0h0m1 -3h0m27 2h0m1 -1h0m4 1h0m1 1h0m16 -3h0m6 2h0m4 1h0m8 -1h0m21 -1h0m26 1h0m21 1h0m3 -1h0m20 -1h0m4 1h0m138 0h0m239 1h0m21 -3h0m14 0h0m15 1h0m16 0h0m18 0h0m1 0h0m1 -1h0m0 2h0m13 0h0m83 1h0m46 -3h0m5 1h0m7 0h0m13 -1h0"/><path stroke="#bf9797" stroke-width="3" d="M154 642h0m6 3h0m11 -3h0m90 1h0m19 -1h0m5 1h0m53 -1h0m44 2h0m5 0h0m9 -1h0m15 1h0m61 0h0m41 -1h0m13 1h0m17 -2h0m10 2h0m18 0h0m58 1h0m121 -3h0m285 2h0m400 1h0m33 -2h0m6 0h0m2 0h0m5 -1h0m20 2h0m84 0h0m185 -2h0m262 2h0m17 -1h0m129 1h0m35 -2h0m6 0h0m55 2h0m46 -1h0"/><path stroke="#bf9797" stroke-width="4" d="M140 643h0m20 0h0m5 1h0m4 -2h0m138 2h0m56 -2h0m39 1h0m85 2h0m132 -2h0m11 2h0m106 -2h0m2 -1h0m34 2h0m14 -1h0m165 2h0m89 -3h0m384 2h0m11 -2h0m10 1h0m143 1h0m150 0h0m14 1h0m4 -3h0m284 1h0m46 0h0m77 -1h0m24 1h0m25 1h0m111 1h0"/><path stroke="#bf9797" stroke-width="5" d="M189 642h0m1 1h0m78 -1h0m0 1h0m142 -1h0m10 1h0m76 0h0m111 0h0m101 -1h0m15 0h0m238 0h0m31 2h0m73 0h0m419 1h0m8 -1h0m78 -1h0m22 1h0m142 -2h0m0 2h0m6 -1h0m286 0h0m4 0h0m53 -1h0m106 1h0"/><path stroke="#bf9797" stroke-width="6" d="M143 645h0m259 -3h0m29 0h0m557 1h0"/><path stroke="#bf9797" stroke-width="7" d="M368 644h0m192 0h0m43 0h0m79 -2h0m781 2h0m61 -2h0m22 0h0m195 2h0m491 -1h0"/><path stroke="#bf9797" stroke-width="8" d="M446 644h0m222 0h0m58 0h0m243 0h0m520 -1h0m51 1h0m67 0h0m193 -2h0"/><path stroke="#bf9797" stroke-width="9" d="M1030 644h0m441 0h0m42 1h0"/><path stroke="#bd9494" stroke-width="1" d="M273 646h0m785 1h0"/><path stroke="#bd9494" stroke-width="2" d="M162 648h0m4 0h0m116 -1h0m47 1h0m15 -2h0m77 0h0m104 1h0m1 -2h0m70 1h0m38 0h0m18 -1h0m1 2h0m83 -2h0m1 3h0m45 -1h0m166 0h0m4 1h0m30 -2h0m13 2h0m64 -1h0m199 1h0m211 -2h0m5 -1h0m27 0h0m63 3h0m23 -2h0m10 2h0m146 -2h0m10 2h0m10 -2h0m24 0h0m14 0h0m246 1h0m4 0h0m14 0h0m144 -2h0m3 0h0m10 3h0m1 -2h0m216 -1h0"/><path stroke="#bd9494" stroke-width="3" d="M147 647h0m19 0h0m42 -1h0m62 1h0m8 -1h0m7 1h0m6 -1h0m42 -1h0m34 1h0m20 1h0m11 0h0m17 1h0m10 0h0m20 -2h0m2 1h0m111 0h0m11 -1h0m184 -1h0m38 2h0m232 -1h0m38 -1h0m0 3h0m384 -2h0m25 0h0m35 1h0m30 -2h0m4 2h0m5 -2h0m12 0h0m179 2h0m19 -1h0m223 0h0m72 1h0m27 -1h0m136 1h0"/><path stroke="#bd9494" stroke-width="4" d="M127 647h0m4 0h0m34 -2h0m26 2h0m88 -2h0m307 2h0m51 -2h0m331 1h0m34 -1h0m408 1h0m87 0h0m5 1h0m480 -2h0m98 2h0"/><path stroke="#bd9494" stroke-width="5" d="M161 648h0m4 -2h0m139 1h0m0 1h0m86 -3h0m125 2h0m143 0h0m101 -1h0m22 1h0m206 -1h0m36 0h0m15 1h0m262 0h0m176 0h0m26 1h0m5 0h0m34 -2h0m205 2h0m38 -2h0m5 2h0m249 -1h0m43 0h0m88 -1h0m1 -1h0m45 1h0m11 1h0"/><path stroke="#bd9494" stroke-width="6" d="M1041 646h0m50 1h0m489 0h0"/><path stroke="#bd9494" stroke-width="7" d="M796 646h0m228 -1h0m712 2h0m297 -1h0m146 2h0m33 -1h0"/><path stroke="#bd9494" stroke-width="8" d="M164 647h0m550 -1h0m728 1h0m593 1h0"/><path stroke="#bd9494" stroke-width="9" d="M1025 647h0"/><path stroke="#bc9191" stroke-width="1" d="M654 651h0m903 0h0m49 -1h0"/><path stroke="#bc9191" stroke-width="2" d="M178 650h0m15 0h0m56 0h0m160 0h0m6 0h0m11 0h0m1 -2h0m118 0h0m12 3h0m2 -2h0m58 -1h0m22 2h0m3 0h0m7 -1h0m87 -1h0m1 2h0m19 0h0m19 -1h0m175 1h0m16 -1h0m32 2h0m44 -1h0m19 1h0m383 -2h0m20 1h0m4 -1h0m8 0h0m24 1h0m483 -1h0m16 0h0m2 1h0m29 0h0m37 1h0m103 0h0m54 -1h0"/><path stroke="#bc9191" stroke-width="3" d="M335 649h0m23 0h0m45 0h0m110 0h0m49 2h0m79 -2h0m14 1h0m50 0h0m16 0h0m60 0h0m186 0h0m24 -1h0m9 0h0m24 -1h0m1 1h0m22 -1h0m375 1h0m82 0h0m230 -1h0m53 2h0m240 0h0m24 1h0m232 -1h0"/><path stroke="#bc9191" stroke-width="4" d="M233 650h0m33 0h0m12 -1h0m56 1h0m6 1h0m55 0h0m192 -2h0m184 1h0m199 -2h0m41 1h0m414 0h0m72 0h0m2 1h0m84 -1h0m160 -1h0m179 1h0"/><path stroke="#bc9191" stroke-width="5" d="M276 648h0m181 2h0m96 -2h0m47 1h0m10 1h0m114 -2h0m64 1h0m124 1h0m37 -2h0m19 1h0m33 1h0m9 -2h0m203 3h0m199 -1h0m3 0h0m141 -2h0m189 3h0m286 0h0m19 -2h0m133 2h0"/><path stroke="#bc9191" stroke-width="6" d="M579 649h0m41 1h0m36 0h0m335 -1h0m46 0h0m384 1h0m643 -2h0"/><path stroke="#bc9191" stroke-width="7" d="M632 648h0m24 3h0m353 -2h0m11 0h0m1016 1h0m12 0h0"/><path stroke="#bc9191" stroke-width="8" d="M166 650h0m773 0h0m1030 -2h0"/><path stroke="#bc9191" stroke-width="9" d="M1031 648h0"/><path stroke="#bb8e8e" stroke-width="1" d="M364 653h0"/><path stroke="#bb8e8e" stroke-width="2" d="M166 652h0m23 0h0m1 0h0m3 0h0m71 -1h0m17 2h0m57 0h0m41 -2h0m2 2h0m5 -1h0m119 0h0m63 -1h0m3 2h0m1 -1h0m37 -1h0m97 1h0m1 1h0m16 0h0m70 -1h0m188 2h0m27 -2h0m15 2h0m213 -1h0m190 0h0m60 -1h0m8 0h0m5 0h0m1 1h0m42 0h0m32 0h0m33 -2h0m182 3h0m243 -1h0m159 -2h0"/><path stroke="#bb8e8e" stroke-width="3" d="M166 653h0m98 1h0m90 -3h0m1 3h0m30 0h0m72 -3h0m193 1h0m124 0h0m181 2h0m15 -3h0m11 1h0m75 0h0m419 0h0m22 2h0m1 -3h0m82 0h0m8 3h0m12 -2h0m132 2h0m47 -2h0m192 -1h0m13 2h0m4 -1h0m13 1h0m72 1h0m139 -1h0"/><path stroke="#bb8e8e" stroke-width="4" d="M212 653h0m114 -1h0m8 -1h0m14 2h0m201 0h0m108 1h0m79 -2h0m13 1h0m226 -1h0m450 0h0m19 1h0m31 0h0m15 0h0m45 -1h0m266 -1h0m266 1h0m14 1h0m0 1h0m101 -3h0"/><path stroke="#bb8e8e" stroke-width="5" d="M269 652h0m67 1h0m64 0h0m33 0h0m177 -1h0m339 -1h0m1 1h0m517 -1h0m111 0h0m18 2h0m368 -1h0m84 1h0m185 0h0m44 1h0m4 -3h0"/><path stroke="#bb8e8e" stroke-width="6" d="M1773 653h0m501 0h0m7 0h0"/><path stroke="#bb8e8e" stroke-width="7" d="M446 653h0m1056 -2h0m27 2h0m60 1h0m643 -1h0"/><path stroke="#bb8e8e" stroke-width="8" d="M339 652h0"/><path stroke="#bb8e8e" stroke-width="9" d="M2283 653h0"/><path stroke="#ba8b8b" stroke-width="1" d="M965 655h0m92 1h0m416 -1h0"/><path stroke="#ba8b8b" stroke-width="2" d="M165 655h0m1 0h0m2 2h0m109 -1h0m49 0h0m50 0h0m4 0h0m34 -1h0m240 1h0m298 1h0m48 -2h0m20 1h0m402 0h0m105 -2h0m32 2h0m27 -1h0m214 -1h0m150 1h0m13 1h0m22 1h0m225 -2h0m4 1h0"/><path stroke="#ba8b8b" stroke-width="3" d="M166 657h0m107 -3h0m135 3h0m1 -3h0m64 0h0m92 2h0m43 -2h0m402 2h0m7 -1h0m1 -1h0m483 2h0m40 -1h0m64 -1h0m3 3h0m122 -2h0m12 0h0m23 1h0m285 -1h0m34 0h0m180 0h0m11 0h0"/><path stroke="#ba8b8b" stroke-width="4" d="M619 655h0m11 2h0m140 -1h0m18 1h0m165 0h0m63 0h0m415 -1h0m852 -1h0m1 1h0"/><path stroke="#ba8b8b" stroke-width="5" d="M160 654h0m12 2h0m112 0h0m26 0h0m34 1h0m7 -2h0m50 1h0m202 1h0m16 -2h0m400 2h0m33 -1h0m391 -1h0m56 1h0m27 -2h0m47 2h0m5 1h0m222 -1h0m278 0h0m154 -2h0m3 0h0m35 1h0m9 2h0"/><path stroke="#ba8b8b" stroke-width="6" d="M140 655h0m376 1h0m5 -1h0m540 1h0m1005 -1h0m213 1h0"/><path stroke="#ba8b8b" stroke-width="7" d="M243 655h0m1337 -1h0m207 3h0m495 -1h0"/><path stroke="#ba8b8b" stroke-width="8" d="M2280 655h0"/><path stroke="#b98888" stroke-width="2" d="M128 658h0m34 1h0m2 0h0m21 0h0m2 -1h0m9 0h0m83 -1h0m50 1h0m73 1h0m25 1h0m190 -2h0m21 0h0m0 1h0m313 -2h0m14 2h0m51 -2h0m42 2h0m243 0h0m145 1h0m30 -1h0m11 -2h0m54 1h0m41 2h0m5 -1h0m10 -2h0m7 3h0m130 -1h0m10 0h0m46 1h0m446 -3h0m41 2h0"/><path stroke="#b98888" stroke-width="3" d="M128 660h0m1 -1h0m38 1h0m126 -3h0m89 2h0m218 -2h0m11 3h0m106 -3h0m57 2h0m182 1h0m103 -3h0m352 2h0m1 -1h0m75 0h0m97 0h0m5 0h0m150 0h0m6 0h0m31 1h0m5 -1h0m206 1h0m86 0h0m147 0h0m64 -1h0"/><path stroke="#b98888" stroke-width="4" d="M163 657h0m191 2h0m209 0h0m36 -1h0m66 0h0m59 -1h0m1260 3h0m224 -2h0"/><path stroke="#b98888" stroke-width="5" d="M205 657h0m79 2h0m107 1h0m53 -2h0m0 1h0m100 -1h0m414 1h0m482 -2h0m55 1h0m65 0h0m20 1h0m688 -1h0m1 0h0"/><path stroke="#b98888" stroke-width="6" d="M954 658h0m58 0h0m499 -1h0m43 1h0m719 1h0"/><path stroke="#b98888" stroke-width="7" d="M171 659h0m354 1h0m100 -1h0m420 -1h0m1232 2h0m3 -3h0"/><path stroke="#b88484" stroke-width="1" d="M969 661h0m19 1h0m1293 -1h0"/><path stroke="#b88484" stroke-width="2" d="M250 662h0m5 -1h0m73 1h0m4 -2h0m32 2h0m32 -2h0m44 2h0m2 0h0m164 -2h0m47 2h0m44 1h0m26 -1h0m247 -1h0m9 0h0m4 2h0m572 -1h0m27 -1h0m386 0h0m68 1h0m33 -1h0m8 2h0m191 -2h0"/><path stroke="#b88484" stroke-width="3" d="M271 661h0m204 1h0m123 0h0m33 -1h0m317 -1h0m107 1h0m433 2h0m67 -3h0m30 0h0m631 2h0m7 -2h0m100 0h0"/><path stroke="#b88484" stroke-width="4" d="M154 661h0m331 0h0m464 -1h0m1034 1h0"/><path stroke="#b88484" stroke-width="5" d="M278 662h0m133 1h0m73 -3h0m122 2h0m344 -1h0m257 0h0m532 0h0m237 -1h0m307 2h0"/><path stroke="#b88484" stroke-width="6" d="M172 663h0m1998 -2h0m103 2h0m4 -3h0"/><path stroke="#b88484" stroke-width="7" d="M294 663h0m119 -3h0m1863 1h0"/><path stroke="#b88484" stroke-width="8" d="M140 663h0m498 -2h0m742 1h0"/><path stroke="#b78181" stroke-width="1" d="M365 665h0m215 0h0m29 1h0"/><path stroke="#b78181" stroke-width="2" d="M167 665h0m88 -1h0m126 1h0m239 0h0m156 1h0m239 -2h0m0 2h0m429 0h0m2 -1h0m3 0h0m63 -2h0m230 1h0m324 0h0m192 1h0"/><path stroke="#b78181" stroke-width="3" d="M174 665h0m160 0h0m267 -2h0m359 2h0m33 -2h0m24 1h0m510 0h0m221 0h0m118 2h0"/><path stroke="#b78181" stroke-width="4" d="M365 665h0m302 -2h0m919 1h0m23 1h0m370 0h0m183 -1h0m60 1h0"/><path stroke="#b78181" stroke-width="5" d="M457 665h0m150 0h0m100 0h0m274 0h0m38 -1h0m429 1h0m131 -1h0m156 2h0m540 -1h0"/><path stroke="#b78181" stroke-width="6" d="M355 664h0m440 -1h0m1219 0h0m258 1h0m6 1h0"/><path stroke="#b78181" stroke-width="7" d="M331 664h0m1098 1h0"/><path stroke="#b78181" stroke-width="9" d="M2268 663h0m14 2h0"/><path stroke="#b67e7e" stroke-width="1" d="M1191 667h0"/><path stroke="#b67e7e" stroke-width="2" d="M128 669h0m67 -1h0m311 0h0m8 -2h0m21 2h0m2 -1h0m432 1h0m49 1h0m1 -2h0m214 0h0m187 1h0m107 -1h0m45 0h0m217 2h0m491 -1h0m4 -2h0"/><path stroke="#b67e7e" stroke-width="3" d="M166 668h0m111 -1h0m26 0h0m26 0h0m9 1h0m608 0h0m99 0h0m433 1h0m59 -1h0m742 -2h0m3 0h0"/><path stroke="#b67e7e" stroke-width="4" d="M275 668h0m92 0h0m26 0h0m668 -1h0m451 0h0m701 1h0"/><path stroke="#b67e7e" stroke-width="5" d="M279 669h0m108 -3h0m170 2h0m40 -1h0m92 -1h0m1380 1h0m143 -1h0m47 3h0m19 -3h0"/><path stroke="#b67e7e" stroke-width="6" d="M2269 668h0"/><path stroke="#b67e7e" stroke-width="7" d="M346 667h0m625 -1h0m47 1h0"/><path stroke="#b67e7e" stroke-width="9" d="M2267 669h0"/><path stroke="#b57b7b" stroke-width="1" d="M1963 669h0"/><path stroke="#b57b7b" stroke-width="2" d="M159 669h0m5 2h0m2 1h0m81 -2h0m95 -1h0m1 1h0m70 -1h0m14 0h0m1044 0h0m101 2h0m162 -2h0"/><path stroke="#b57b7b" stroke-width="3" d="M254 669h0m271 2h0m262 1h0m193 -1h0m998 -2h0m295 1h0m8 0h0"/><path stroke="#b57b7b" stroke-width="4" d="M351 672h0m247 -3h0m350 1h0m66 -1h0"/><path stroke="#b57b7b" stroke-width="5" d="M1531 670h0m257 2h0m496 -2h0"/><path stroke="#b57b7b" stroke-width="6" d="M579 669h0m405 2h0m31 0h0m1255 -1h0"/><path stroke="#b57b7b" stroke-width="7" d="M214 669h0m521 3h0m823 -1h0"/><path stroke="#b57b7b" stroke-width="8" d="M247 671h0m2024 0h0m2 0h0"/><path stroke="#b47878" stroke-width="2" d="M275 674h0m55 -1h0m163 -1h0m174 1h0m351 -1h0m555 1h0m12 1h0m3 1h0m683 -2h0m12 -1h0"/><path stroke="#b47878" stroke-width="3" d="M403 673h0m641 -1h0m395 3h0m831 -1h0"/><path stroke="#b47878" stroke-width="4" d="M273 674h0m80 -1h0m19 -1h0m82 1h0m559 0h0m570 -1h0m20 3h0m668 0h0m9 -2h0"/><path stroke="#b47878" stroke-width="5" d="M206 674h0m95 1h0m94 -3h0m585 1h0m590 0h0m3 1h0m3 1h0m161 -1h0m524 -1h0m12 1h0"/><path stroke="#b47878" stroke-width="7" d="M187 672h0m1788 1h0"/><path stroke="#b47878" stroke-width="8" d="M1019 672h0"/><path stroke="#b37575" stroke-width="2" d="M285 677h0m15 0h0m28 0h0m2 -1h0m158 -1h0m461 3h0m492 -2h0m166 1h0"/><path stroke="#b37575" stroke-width="3" d="M312 677h0m44 -1h0m659 0h0m1251 1h0"/><path stroke="#b37575" stroke-width="4" d="M506 676h0m510 -1h0m1249 1h0m12 2h0m7 0h0"/><path stroke="#b37575" stroke-width="5" d="M138 678h0m27 -2h0m218 0h0m44 0h0m72 1h0m70 1h0m1604 -3h0m102 1h0"/><path stroke="#b37575" stroke-width="6" d="M175 676h0m203 1h0"/><path stroke="#b37575" stroke-width="7" d="M2274 677h0"/><path stroke="#b37575" stroke-width="8" d="M408 676h0m265 1h0"/><path stroke="#b37575" stroke-width="9" d="M2267 675h0"/><path stroke="#b27272" stroke-width="2" d="M166 679h0m401 -1h0m938 2h0m41 0h0m15 0h0m664 -1h0m36 -1h0m4 2h0m3 -1h0"/><path stroke="#b27272" stroke-width="3" d="M401 678h0m1075 3h0m804 -3h0"/><path stroke="#b27272" stroke-width="4" d="M1988 679h0m274 -1h0m12 2h0"/><path stroke="#b27272" stroke-width="5" d="M188 680h0m154 -1h0m1169 2h0m751 -3h0m11 1h0"/><path stroke="#b16f6f" stroke-width="2" d="M152 681h0m191 3h0m104 -1h0m24 -1h0m53 0h0m1217 1h0m528 -1h0m8 2h0"/><path stroke="#b16f6f" stroke-width="3" d="M306 683h0m135 -1h0m530 0h0m557 2h0"/><path stroke="#b16f6f" stroke-width="4" d="M189 684h0m95 -2h0m1218 2h0m28 -2h0m749 1h0m0 1h0"/><path stroke="#b16f6f" stroke-width="5" d="M428 684h0m92 -3h0m1752 0h0m7 1h0m5 0h0"/><path stroke="#b16f6f" stroke-width="6" d="M172 683h0"/><path stroke="#b16f6f" stroke-width="7" d="M242 684h0m2 -2h0m2023 1h0"/><path stroke="#b16f6f" stroke-width="8" d="M127 683h0m2143 -1h0"/><path stroke="#b16f6f" stroke-width="9" d="M2272 684h0"/><path stroke="#b06c6c" stroke-width="1" d="M2280 685h0"/><path stroke="#b06c6c" stroke-width="2" d="M327 686h0m1955 -1h0"/><path stroke="#b06c6c" stroke-width="3" d="M1060 686h0m528 -1h0"/><path stroke="#b06c6c" stroke-width="4" d="M636 684h0m250 1h0m1395 0h0"/><path stroke="#b06c6c" stroke-width="5" d="M274 685h0m723 -1h0m1276 2h0"/><path stroke="#b06c6c" stroke-width="6" d="M1526 686h0"/><path stroke="#b06c6c" stroke-width="8" d="M2268 685h0"/><path stroke="#af6969" stroke-width="2" d="M376 690h0m38 -1h0m1118 0h0m732 -1h0m8 -1h0m3 2h0"/><path stroke="#af6969" stroke-width="3" d="M441 689h0m1836 0h0"/><path stroke="#af6969" stroke-width="4" d="M177 689h0m1107 0h0m317 0h0m657 -1h0m4 0h0m7 0h0m1 1h0"/><path stroke="#af6969" stroke-width="5" d="M169 687h0m108 2h0m1982 -1h0m11 0h0"/><path stroke="#af6969" stroke-width="6" d="M310 688h0m1957 -1h0"/><path stroke="#af6969" stroke-width="9" d="M2269 687h0"/><path stroke="#ae6666" stroke-width="1" d="M447 691h0"/><path stroke="#ae6666" stroke-width="2" d="M417 692h0m545 -2h0m796 2h0"/><path stroke="#ae6666" stroke-width="4" d="M166 691h0m2112 1h0"/><path stroke="#ae6666" stroke-width="5" d="M1745 691h0m527 0h0"/><path stroke="#ae6666" stroke-width="6" d="M2266 692h0m3 1h0"/><path stroke="#ae6666" stroke-width="7" d="M256 691h0m2019 2h0"/><path stroke="#ad6363" stroke-width="2" d="M2261 695h0m4 0h0m5 -2h0"/><path stroke="#ad6363" stroke-width="3" d="M2273 694h0m2 1h0"/><path stroke="#ad6363" stroke-width="4" d="M373 696h0m58 -3h0m1729 3h0m113 -2h0"/><path stroke="#ad6363" stroke-width="5" d="M371 694h0m1216 0h0m680 0h0"/><path stroke="#ad6363" stroke-width="6" d="M2269 695h0"/><path stroke="#ad6363" stroke-width="7" d="M2267 695h0"/><path stroke="#ad6363" stroke-width="8" d="M1731 693h0"/><path stroke="#ac5f5f" stroke-width="2" d="M245 697h0m1614 -1h0m400 0h0m5 0h0m17 0h0m0 1h0m171 1h0"/><path stroke="#ac5f5f" stroke-width="3" d="M2265 698h0m2 1h0"/><path stroke="#ac5f5f" stroke-width="4" d="M2261 697h0m8 1h0m7 0h0"/><path stroke="#ac5f5f" stroke-width="5" d="M394 696h0"/><path stroke="#ac5f5f" stroke-width="6" d="M2259 697h0m5 -1h0m0 2h0"/><path stroke="#ac5f5f" stroke-width="8" d="M1510 699h0"/><path stroke="#ab5c5c" stroke-width="2" d="M1580 700h0m691 2h0"/><path stroke="#ab5c5c" stroke-width="5" d="M339 701h0m1925 -2h0"/><path stroke="#ab5c5c" stroke-width="6" d="M2263 701h0"/><path stroke="#a95959" stroke-width="2" d="M1979 704h0"/><path stroke="#a95959" stroke-width="3" d="M401 704h0m1861 -1h0m4 1h0m2 -2h0"/><path stroke="#a95959" stroke-width="8" d="M2264 705h0"/><path stroke="#a95959" stroke-width="9" d="M2258 702h0"/><path stroke="#a85656" stroke-width="2" d="M2271 707h0"/><path stroke="#a85656" stroke-width="3" d="M2266 706h0m5 -1h0"/><path stroke="#a85656" stroke-width="4" d="M2281 705h0"/><path stroke="#a85656" stroke-width="6" d="M2258 708h0"/><path stroke="#a85656" stroke-width="9" d="M2265 705h0"/><path stroke="#a75353" stroke-width="3" d="M2261 709h0m20 0h0"/><path stroke="#a75353" stroke-width="5" d="M445 708h0"/><path stroke="#a75353" stroke-width="6" d="M2258 711h0"/><path stroke="#a75353" stroke-width="7" d="M2260 711h0"/><path stroke="#a65050" stroke-width="1" d="M272 713h0"/><path stroke="#a65050" stroke-width="2" d="M2265 714h0"/><path stroke="#a65050" stroke-width="3" d="M284 713h0"/><path stroke="#a65050" stroke-width="5" d="M215 713h0"/><path stroke="#a65050" stroke-width="6" d="M2265 713h0m58 -1h0"/><path stroke="#a65050" stroke-width="7" d="M2258 714h0"/><path stroke="#a65050" stroke-width="8" d="M2261 712h0"/><path stroke="#a54d4d" stroke-width="2" d="M2066 714h0m198 2h0"/><path stroke="#a54d4d" stroke-width="4" d="M2257 715h0"/><path stroke="#a44a4a" stroke-width="2" d="M2273 717h0"/><path stroke="#a44a4a" stroke-width="3" d="M2259 718h0"/><path stroke="#a44a4a" stroke-width="4" d="M2257 720h0"/><path stroke="#a44a4a" stroke-width="9" d="M2258 717h0"/><path stroke="#a34747" stroke-width="2" d="M376 722h0m1882 -1h0"/><path stroke="#a34747" stroke-width="3" d="M2269 721h0"/><path stroke="#a34747" stroke-width="5" d="M2264 723h0"/><path stroke="#a24444" stroke-width="3" d="M2259 724h0"/><path stroke="#a24444" stroke-width="6" d="M2268 724h0"/><path stroke="#a14141" stroke-width="5" d="M2258 727h0m10 2h0"/><path stroke="#a14141" stroke-width="7" d="M2261 727h0"/><path stroke="#a03e3e" stroke-width="2" d="M929 732h0m1329 -2h0"/><path stroke="#a03e3e" stroke-width="3" d="M2258 729h0m8 3h0"/><path stroke="#9f3b3b" stroke-width="2" d="M2260 735h0m3 -2h0"/><path stroke="#9f3b3b" stroke-width="7" d="M2257 733h0"/><path stroke="#9e3737" stroke-width="4" d="M255 736h0m2007 1h0"/><path stroke="#9d3434" stroke-width="4" d="M2257 740h0"/><path stroke="#9d3434" stroke-width="6" d="M2257 739h0"/><path stroke="#9c3131" stroke-width="2" d="M2273 741h0"/><path stroke="#9b2e2e" stroke-width="2" d="M2260 745h0"/><path stroke="#9a2b2b" stroke-width="2" d="M2452 749h0"/><path stroke="#9a2b2b" stroke-width="7" d="M2263 747h0"/><path stroke="#941c1c" stroke-width="5" d="M2258 763h0"/><path stroke="#921616" stroke-width="2" d="M1511 769h0"/><path stroke="#921616" stroke-width="5" d="M2271 770h0"/><path stroke="#8e0909" stroke-width="2" d="M2262 780h0"/><path stroke="#8e0909" stroke-width="3" d="M2258 781h0"/><path stroke="#8b0000" stroke-width="2" d="M2453 878h0"/><path stroke="#8b0000" stroke-width="2" d="M2451 970h0"/><path stroke="#8b0000" stroke-width="2" d="M1552 1012h0m894 0h0m5 1h0m1 -2h0m4 2h0m1 0h0m1 0h0m1 0h0m1 0h0m2 0h0"/><path stroke="#8b0000" stroke-width="3" d="M2444 1013h0m1 -1h0m2 1h0m1 -1h0m0 1h0m1 0h0m1 0h0m2 0h0m1 0h0m1 0h0m1 0h0m1 0h0m4 0h0m1 0h0"/></g><path d="M124.5 598.4H313.0M314.0 594.5H497.9M501.0 587.5H649.5M651.5 600.2H795.5M796.9 537.4H933.5M935.5 595.3H1064.0M1066.0 501.4H1186.0M1187.6 537.6H1218.5M1220.1 602.0H1222.0M1224.3 535.5H1298.3M1299.2 546.9H1405.5M1407.2 586.9H1414.0M1417.0 583.2H1416.5M1418.5 567.6H1463.5M1467.2 574.8H1509.3M1510.7 594.4H1612.2M1613.7 544.2H1714.5M1730.2 596.4H1802.0M1818.5 541.3H1883.8M1901.2 543.5H1962.2M1964.5 594.4H2031.3M2033.5 600.4H2093.5M2095.7 535.4H2152.0M2155.0 581.3H2198.5M2199.7 593.5H2246.8M2255.1 668.4H2283.5M2297.5 556.2H2322.9M2324.0 630.0H2323.5M2325.9 559.3H2441.1M2443.5 1009.8H2461.5" stroke="#fff" stroke-opacity="0.45" stroke-width="4.8" fill="none"/><path d="M124.5 598.4H313.0M314.0 594.5H497.9M501.0 587.5H649.5M651.5 600.2H795.5M796.9 537.4H933.5M935.5 595.3H1064.0M1066.0 501.4H1186.0M1187.6 537.6H1218.5M1220.1 602.0H1222.0M1224.3 535.5H1298.3M1299.2 546.9H1405.5M1407.2 586.9H1414.0M1417.0 583.2H1416.5M1418.5 567.6H1463.5M1467.2 574.8H1509.3M1510.7 594.4H1612.2M1613.7 544.2H1714.5M1730.2 596.4H1802.0M1818.5 541.3H1883.8M1901.2 543.5H1962.2M1964.5 594.4H2031.3M2033.5 600.4H2093.5M2095.7 535.4H2152.0M2155.0 581.3H2198.5M2199.7 593.5H2246.8M2255.1 668.4H2283.5M2297.5 556.2H2322.9M2324.0 630.0H2323.5M2325.9 559.3H2441.1M2443.5 1009.8H2461.5" stroke="#00008b" stroke-width="3" stroke-linecap="round" fill="none"/><path d="M2444 1009.8H2461.5" stroke="#00008b" stroke-width="4" stroke-linecap="round"/><g fill="#000"><circle cx="242.5" cy="603.0" r="5.3"/><circle cx="279.2" cy="596.6" r="5.3"/><circle cx="325.5" cy="660.8" r="5.3"/><circle cx="498.5" cy="605.6" r="5.3"/><circle cx="506.7" cy="668.7" r="5.3"/><circle cx="527.3" cy="605.3" r="5.3"/><circle cx="636.9" cy="672.4" r="5.3"/><circle cx="646.7" cy="597.4" r="5.3"/><circle cx="692.9" cy="607.3" r="5.3"/><circle cx="692.9" cy="631.2" r="5.3"/><circle cx="1474.7" cy="628.7" r="5.3"/><circle cx="1657.4" cy="586.2" r="5.3"/><circle cx="1665.2" cy="587.4" r="5.3"/><circle cx="1752.0" cy="632.7" r="5.3"/><circle cx="2037.8" cy="602.5" r="5.3"/><circle cx="2054.7" cy="589.0" r="5.3"/><circle cx="2061.0" cy="607.8" r="5.3"/><circle cx="1106.9" cy="477.2" r="5.3"/><circle cx="1106.9" cy="458.1" r="5.3"/><circle cx="1153.7" cy="470.9" r="5.3"/><circle cx="1302.3" cy="537.3" r="5.3"/><circle cx="1315.0" cy="567.0" r="5.3"/><circle cx="1315.0" cy="519.6" r="5.3"/><circle cx="1365.0" cy="549.3" r="5.3"/><circle cx="1911.4" cy="535.4" r="5.3"/><circle cx="1952.6" cy="537.8" r="5.3"/><circle cx="2165.5" cy="540.4" r="5.3"/><circle cx="2306.4" cy="545.2" r="5.3"/><circle cx="2410.0" cy="487.8" r="5.3"/></g><g font-size="25"><text text-anchor="end" transform="translate(251.5 617.0) rotate(-90)">NTRK1</text><text text-anchor="end" transform="translate(288.2 610.6) rotate(-90)">MDM4</text><text text-anchor="end" transform="translate(334.5 674.8) rotate(-90)">MYCN</text><text text-anchor="end" transform="translate(507.5 619.6) rotate(-90)">PDCD1</text><text text-anchor="end" transform="translate(515.7 682.7) rotate(-90)">VHL</text><text text-anchor="end" transform="translate(536.3 619.3) rotate(-90)">MLH1</text><text text-anchor="end" transform="translate(645.9 686.4) rotate(-90)">SOX2</text><text text-anchor="end" transform="translate(655.7 611.4) rotate(-90)">OPA1</text><text text-anchor="end" transform="translate(701.9 621.3) rotate(-90)">KIT</text><text text-anchor="end" transform="translate(701.9 645.2) rotate(-90)">PDGFRA</text><text text-anchor="end" transform="translate(1483.7 642.7) rotate(-90)">PTEN</text><text text-anchor="end" transform="translate(1666.4 600.2) rotate(-90)">CDK4</text><text text-anchor="end" transform="translate(1674.2 601.4) rotate(-90)">MDM2</text><text text-anchor="end" transform="translate(1761.0 646.7) rotate(-90)">RB1</text><text text-anchor="end" transform="translate(2046.8 616.5) rotate(-90)">TP53</text><text text-anchor="end" transform="translate(2063.7 603.0) rotate(-90)">NF1</text><text text-anchor="end" transform="translate(2070.0 621.8) rotate(-90)">ERBB2</text><text transform="translate(1115.9 463.2) rotate(-90)">EGFR</text><text transform="translate(1115.9 444.1) rotate(-90)">EGFR_vIII</text><text transform="translate(1162.7 456.9) rotate(-90)">MET</text><text transform="translate(1311.3 523.3) rotate(-90)">CD274</text><text transform="translate(1324.0 553.0) rotate(-90)">CDKN2A</text><text transform="translate(1324.0 505.6) rotate(-90)">CDKN2B</text><text transform="translate(1374.0 535.3) rotate(-90)">NTRK2</text><text transform="translate(1920.4 521.4) rotate(-90)">NUTM1</text><text transform="translate(1961.6 523.8) rotate(-90)">NTRK3</text><text transform="translate(2174.5 526.4) rotate(-90)">BRD4</text><text transform="translate(2315.4 531.2) rotate(-90)">NF2</text><text transform="translate(2419.0 473.8) rotate(-90)">IL13RA2</text></g><rect x="122.8" y="123.4" width="2364.4" height="923.4" fill="none" stroke="#000" stroke-width="1.8"/><g stroke="#000" stroke-width="1.8"><path d="M123 174.5V996"/><path d="M107 174.0H123"/><path d="M107 311.0H123"/><path d="M107 448.0H123"/><path d="M107 585.0H123"/><path d="M107 722.0H123"/><path d="M107 859.0H123"/><path d="M107 996.0H123"/></g><g font-size="25" text-anchor="end"><text x="93" y="181.8">1.2</text><text x="93" y="318.8">0.8</text><text x="93" y="455.8">0.4</text><text x="93" y="592.8">0.0</text><text x="93" y="729.8">−0.4</text><text x="93" y="866.8">−0.8</text><text x="93" y="1003.8">−1.2</text></g><g stroke="#000" stroke-width="1.8"><path d="M218.4 1047V1063"/><path d="M406.4 1047V1063"/><path d="M574.8 1047V1063"/><path d="M723.4 1047V1063"/><path d="M865.5 1047V1063"/><path d="M999.9 1047V1063"/><path d="M1125.9 1047V1063"/><path d="M1242.6 1047V1063"/><path d="M1352.4 1047V1063"/><path d="M1458.0 1047V1063"/><path d="M1561.3 1047V1063"/><path d="M1664.0 1047V1063"/><path d="M1759.0 1047V1063"/><path d="M1844.0 1047V1063"/><path d="M1924.1 1047V1063"/><path d="M1997.8 1047V1063"/><path d="M2063.3 1047V1063"/><path d="M2124.1 1047V1063"/><path d="M2176.4 1047V1063"/><path d="M2223.1 1047V1063"/><path d="M2265.5 1047V1063"/><path d="M2303.5 1047V1063"/><path d="M2382.4 1047V1063"/><path d="M2464.3 1047V1063"/></g><g font-size="25" text-anchor="end"><text transform="translate(228.1 1076) rotate(-90)">chr1</text><text transform="translate(416.1 1076) rotate(-90)">chr2</text><text transform="translate(584.5 1076) rotate(-90)">chr3</text><text transform="translate(733.1 1076) rotate(-90)">chr4</text><text transform="translate(875.2 1076) rotate(-90)">chr5</text><text transform="translate(1009.6 1076) rotate(-90)">chr6</text><text transform="translate(1135.6 1076) rotate(-90)">chr7</text><text transform="translate(1252.3 1076) rotate(-90)">chr8</text><text transform="translate(1362.1 1076) rotate(-90)">chr9</text><text transform="translate(1467.7 1076) rotate(-90)">chr10</text><text transform="translate(1571.0 1076) rotate(-90)">chr11</text><text transform="translate(1673.7 1076) rotate(-90)">chr12</text><text transform="translate(1768.7 1076) rotate(-90)">chr13</text><text transform="translate(1853.7 1076) rotate(-90)">chr14</text><text transform="translate(1933.8 1076) rotate(-90)">chr15</text><text transform="translate(2007.5 1076) rotate(-90)">chr16</text><text transform="translate(2073.0 1076) rotate(-90)">chr17</text><text transform="translate(2133.8 1076) rotate(-90)">chr18</text><text transform="translate(2186.1 1076) rotate(-90)">chr19</text><text transform="translate(2232.8 1076) rotate(-90)">chr20</text><text transform="translate(2275.2 1076) rotate(-90)">chr21</text><text transform="translate(2313.2 1076) rotate(-90)">chr22</text><text transform="translate(2392.1 1076) rotate(-90)">chrX</text><text transform="translate(2474.0 1076) rotate(-90)">chrY</text></g><text transform="translate(1303.2 71.1) scale(1 1.1)" font-size="28.8" font-weight="bold" text-anchor="middle">208776810028_R03C01_1</text></svg></body></html>
